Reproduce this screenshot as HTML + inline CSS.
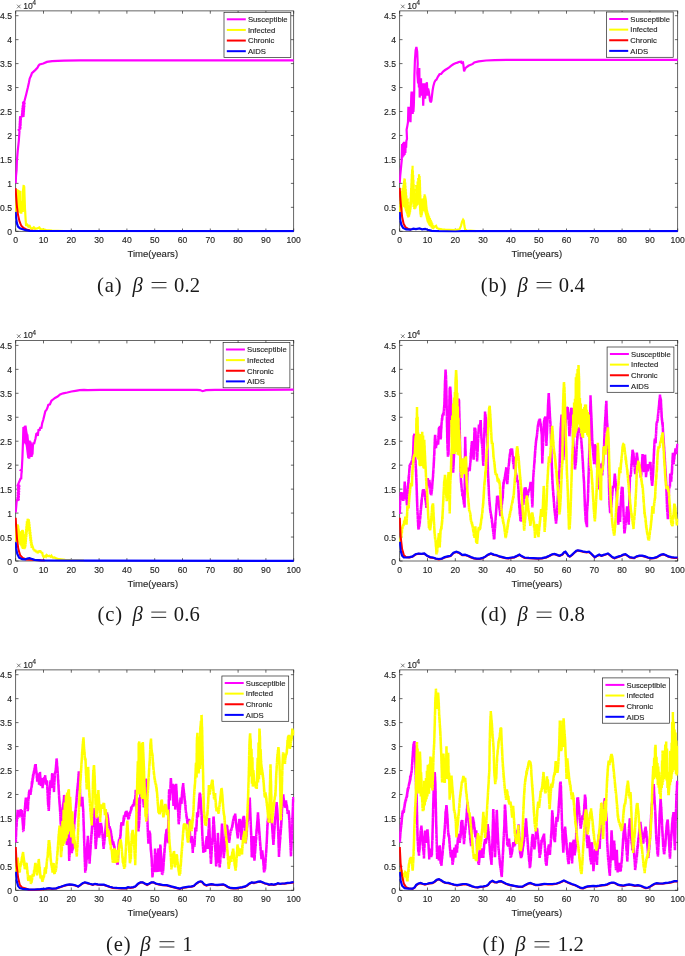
<!DOCTYPE html><html><head><meta charset="utf-8"><style>html,body{margin:0;padding:0;background:#fff}svg{display:block;will-change:transform;opacity:0.9999}text{font-family:"Liberation Sans",sans-serif;fill:#262626;stroke:#262626;stroke-width:0.14px}.cap{font-family:"Liberation Serif",serif;fill:#1a1a1a;stroke:none}</style></head><body>
<svg width="685" height="956" viewBox="0 0 685 956">
<rect width="685" height="956" fill="#fff"/>
<g id="pa">
<clipPath id="ca"><rect x="15.1" y="10.9" width="279.2" height="221.6"/></clipPath>
<rect x="15.7" y="10.9" width="278" height="220.4" fill="none" stroke="#262626" stroke-width="0.7"/>
<path d="M15.7 231.3v-2.8M15.7 10.9v2.8M43.5 231.3v-2.8M43.5 10.9v2.8M71.3 231.3v-2.8M71.3 10.9v2.8M99.1 231.3v-2.8M99.1 10.9v2.8M126.9 231.3v-2.8M126.9 10.9v2.8M154.7 231.3v-2.8M154.7 10.9v2.8M182.5 231.3v-2.8M182.5 10.9v2.8M210.3 231.3v-2.8M210.3 10.9v2.8M238.1 231.3v-2.8M238.1 10.9v2.8M265.9 231.3v-2.8M265.9 10.9v2.8M293.7 231.3v-2.8M293.7 10.9v2.8M15.7 231.3h2.8M293.7 231.3h-2.8M15.7 207.34h2.8M293.7 207.34h-2.8M15.7 183.39h2.8M293.7 183.39h-2.8M15.7 159.43h2.8M293.7 159.43h-2.8M15.7 135.47h2.8M293.7 135.47h-2.8M15.7 111.52h2.8M293.7 111.52h-2.8M15.7 87.56h2.8M293.7 87.56h-2.8M15.7 63.6h2.8M293.7 63.6h-2.8M15.7 39.65h2.8M293.7 39.65h-2.8M15.7 15.69h2.8M293.7 15.69h-2.8" stroke="#262626" stroke-width="0.7" fill="none"/>
<text x="15.7" y="243.4" font-size="8.6" text-anchor="middle">0</text>
<text x="43.5" y="243.4" font-size="8.6" text-anchor="middle">10</text>
<text x="71.3" y="243.4" font-size="8.6" text-anchor="middle">20</text>
<text x="99.1" y="243.4" font-size="8.6" text-anchor="middle">30</text>
<text x="126.9" y="243.4" font-size="8.6" text-anchor="middle">40</text>
<text x="154.7" y="243.4" font-size="8.6" text-anchor="middle">50</text>
<text x="182.5" y="243.4" font-size="8.6" text-anchor="middle">60</text>
<text x="210.3" y="243.4" font-size="8.6" text-anchor="middle">70</text>
<text x="238.1" y="243.4" font-size="8.6" text-anchor="middle">80</text>
<text x="265.9" y="243.4" font-size="8.6" text-anchor="middle">90</text>
<text x="293.7" y="243.4" font-size="8.6" text-anchor="middle">100</text>
<text x="12" y="234.9" font-size="8.6" text-anchor="end">0</text>
<text x="12" y="210.94" font-size="8.6" text-anchor="end">0.5</text>
<text x="12" y="186.99" font-size="8.6" text-anchor="end">1</text>
<text x="12" y="163.03" font-size="8.6" text-anchor="end">1.5</text>
<text x="12" y="139.07" font-size="8.6" text-anchor="end">2</text>
<text x="12" y="115.12" font-size="8.6" text-anchor="end">2.5</text>
<text x="12" y="91.16" font-size="8.6" text-anchor="end">3</text>
<text x="12" y="67.2" font-size="8.6" text-anchor="end">3.5</text>
<text x="12" y="43.25" font-size="8.6" text-anchor="end">4</text>
<text x="12" y="19.29" font-size="8.6" text-anchor="end">4.5</text>
<path d="M17 4.7l3.6 3.6m0 -3.6l-3.6 3.6" stroke="#262626" stroke-width="0.6" fill="none"/>
<text x="23.3" y="8.7" font-size="8.6">10<tspan dy="-3.8" dx="-0.7" font-size="6.9">4</tspan></text>
<text x="152.8" y="256.9" font-size="9.55" text-anchor="middle">Time(years)</text>
<path d="M15.7 183.4l.3-7.4 .6-6 .3-9.2 .8-9.6 1.1-10.2 .7-10 -.8-1 2.3-1.8 -2.2 .2 2.3-1.6 -2.2 0 2.3-1.6 -2.3 0 2.4-1.4 -2.3-.2 2.4-1.4 -2.3-.2 2.3-1.2 -2.2-.4 2.4-1.2 -2.4-.4 2.4-1 -2.3-.6 1.7-.4 3.4-1.1 -3.3-.4 3.4-1.2 -3.2-.4 3.3-1.2 -3.2-.3 3.3-1.3 -3.2-.2 3.3-1.5 -3.1-.1 3.2-1.5 -3 0 3.2-1.6 -2.9 .1 3-1.7 -2.8 .1 2.9-1.7 -2.7 .2 1.8-1.8 .2-.7 1.5-5.8 1.8-7.4 1.1-5.1 .7-3.7 1.5-3.2 .7-2.2 3.3-3 2.2-2.2 1.1-2.2 1.1-1.2 3.7-1 3.6-1.6 5.2-.8 5.8-.3 6.1-.2 16-.2 213.7-.1" clip-path="url(#ca)" stroke="#ff00ff" stroke-width="2.2" fill="none" stroke-linejoin="miter" stroke-miterlimit="2" stroke-linecap="butt"/>
<path d="M15.5 220.7l.3-8.8 .8-14.6 .7-8.1 .4 19.8 .3-16.8 .4 18.3 .1-20.5 .5 21.9 .3-13.1 .3 13.9 .1-21.3 .4 20.5 .3-21.2 .3 22.7 .2-12.5 .4 12.9 .6-9.2 .3 7.3 .2-2.9 .4 2.9 .3-21.9 .6-5 .3 24 .2-22.7 .4 11 .4 11.7 .2 2.9 .4 7.3 .5 6.6 1.1-1.1 1.1 1.9 1.1-1.5 1.1 2.6 1.4 1.1 1.9-1.5 1.4 1.5 2.2-.4 1.9-1 1.1 1.7 2.9 .2 2.9 .8 5.9 .5 11.9 .4" clip-path="url(#ca)" stroke="#ffff00" stroke-width="2.2" fill="none" stroke-linejoin="miter" stroke-miterlimit="2" stroke-linecap="butt"/>
<path d="M15.6 188.1l.6 9.2 .7 8.8 1.1 8.7 1.5 6.6 1.8 4.4 2.2 2.2 2.9 1.5 3.7 .9 5.9 .6" clip-path="url(#ca)" stroke="#ff0000" stroke-width="2.0" fill="none" stroke-linejoin="miter" stroke-miterlimit="2" stroke-linecap="butt"/>
<path d="M15.6 211.9l.5 5.9 .7 5.1 1.2 3.7 1.9 1.8 2.9 .9 2.9 .9 4.4 .6 13.2 .2 250.4 .1" clip-path="url(#ca)" stroke="#0000ff" stroke-width="2.2" fill="none" stroke-linejoin="miter" stroke-miterlimit="2" stroke-linecap="butt"/>
<rect x="224" y="12.3" width="66.8" height="45.3" fill="#fff" stroke="#262626" stroke-width="0.7"/>
<path d="M226.8 19.3h19.0" stroke="#ff00ff" stroke-width="2.0"/>
<text x="247.9" y="22.1" font-size="7.7">Susceptible</text>
<path d="M226.8 29.93h19.0" stroke="#ffff00" stroke-width="2.0"/>
<text x="247.9" y="32.73" font-size="7.7">Infected</text>
<path d="M226.8 40.56h19.0" stroke="#ff0000" stroke-width="2.0"/>
<text x="247.9" y="43.36" font-size="7.7">Chronic</text>
<path d="M226.8 51.19h19.0" stroke="#0000ff" stroke-width="2.0"/>
<text x="247.9" y="53.99" font-size="7.7">AIDS</text>
<text class="cap" y="291.8" font-size="20.6"><tspan x="97" letter-spacing="0.9">(a)</tspan><tspan x="132.4" font-style="italic">β</tspan><tspan x="174" letter-spacing="0.2">0.2</tspan></text>
<path d="M151.6 282.5h14.9M151.6 287.8h14.9" stroke="#1a1a1a" stroke-width="0.9" fill="none"/>
</g>
<g id="pb">
<clipPath id="cb"><rect x="399.1" y="10.9" width="279.2" height="221.6"/></clipPath>
<rect x="399.7" y="10.9" width="278" height="220.4" fill="none" stroke="#262626" stroke-width="0.7"/>
<path d="M399.7 231.3v-2.8M399.7 10.9v2.8M427.5 231.3v-2.8M427.5 10.9v2.8M455.3 231.3v-2.8M455.3 10.9v2.8M483.1 231.3v-2.8M483.1 10.9v2.8M510.9 231.3v-2.8M510.9 10.9v2.8M538.7 231.3v-2.8M538.7 10.9v2.8M566.5 231.3v-2.8M566.5 10.9v2.8M594.3 231.3v-2.8M594.3 10.9v2.8M622.1 231.3v-2.8M622.1 10.9v2.8M649.9 231.3v-2.8M649.9 10.9v2.8M677.7 231.3v-2.8M677.7 10.9v2.8M399.7 231.3h2.8M677.7 231.3h-2.8M399.7 207.34h2.8M677.7 207.34h-2.8M399.7 183.39h2.8M677.7 183.39h-2.8M399.7 159.43h2.8M677.7 159.43h-2.8M399.7 135.47h2.8M677.7 135.47h-2.8M399.7 111.52h2.8M677.7 111.52h-2.8M399.7 87.56h2.8M677.7 87.56h-2.8M399.7 63.6h2.8M677.7 63.6h-2.8M399.7 39.65h2.8M677.7 39.65h-2.8M399.7 15.69h2.8M677.7 15.69h-2.8" stroke="#262626" stroke-width="0.7" fill="none"/>
<text x="399.7" y="243.4" font-size="8.6" text-anchor="middle">0</text>
<text x="427.5" y="243.4" font-size="8.6" text-anchor="middle">10</text>
<text x="455.3" y="243.4" font-size="8.6" text-anchor="middle">20</text>
<text x="483.1" y="243.4" font-size="8.6" text-anchor="middle">30</text>
<text x="510.9" y="243.4" font-size="8.6" text-anchor="middle">40</text>
<text x="538.7" y="243.4" font-size="8.6" text-anchor="middle">50</text>
<text x="566.5" y="243.4" font-size="8.6" text-anchor="middle">60</text>
<text x="594.3" y="243.4" font-size="8.6" text-anchor="middle">70</text>
<text x="622.1" y="243.4" font-size="8.6" text-anchor="middle">80</text>
<text x="649.9" y="243.4" font-size="8.6" text-anchor="middle">90</text>
<text x="677.7" y="243.4" font-size="8.6" text-anchor="middle">100</text>
<text x="396" y="234.9" font-size="8.6" text-anchor="end">0</text>
<text x="396" y="210.94" font-size="8.6" text-anchor="end">0.5</text>
<text x="396" y="186.99" font-size="8.6" text-anchor="end">1</text>
<text x="396" y="163.03" font-size="8.6" text-anchor="end">1.5</text>
<text x="396" y="139.07" font-size="8.6" text-anchor="end">2</text>
<text x="396" y="115.12" font-size="8.6" text-anchor="end">2.5</text>
<text x="396" y="91.16" font-size="8.6" text-anchor="end">3</text>
<text x="396" y="67.2" font-size="8.6" text-anchor="end">3.5</text>
<text x="396" y="43.25" font-size="8.6" text-anchor="end">4</text>
<text x="396" y="19.29" font-size="8.6" text-anchor="end">4.5</text>
<path d="M401 4.7l3.6 3.6m0 -3.6l-3.6 3.6" stroke="#262626" stroke-width="0.6" fill="none"/>
<text x="407.3" y="8.7" font-size="8.6">10<tspan dy="-3.8" dx="-0.7" font-size="6.9">4</tspan></text>
<text x="536.8" y="256.9" font-size="9.55" text-anchor="middle">Time(years)</text>
<path d="M399.7 183l.5-7.2 .9-9.2 .6-6.1 .4-16.4 .5 13.3 .5-14.7 .5 13.4 .5-14.4 .5 13.3 .4-11.9 .4 9.9 .3-11.3 .4 6.2 .3-6.9 .6-2.1 -.4-9.2 .8-4.1 .6-3.6 .4-15.1 .5 13.3 .4-12.3 .4 13.3 .4-14.3 .4 15.3 .4-14.3 .4-12.3 .3-4.1 .4 18.4 .4-18.4 .3 22.5 .4-12.3 .3 10.3 .4-6.2 .4-14.3 .2-15.4 .5-15.3 .7-10.3 .8-3.6 .8 4.6 .5 12.3 -.4 9.2 .8 10.3 .4-12.3 .4 16.4 .4-19.5 .4 29.7 .6-16.4 .7-3 .4 17.4 .6-8.2 .6-4.1 .6 22.5 .6-14.3 .6-8.2 .7 15.4 .6-7.2 .6-6.2 .6-3 .6 13.3 .6-7.2 .7 3.1 .6 4.1 .6 5.1 .8 1.7 .6-1.7 .6-5.1 .6-5.1 .8-4.6 1-3.6 1-1.9 1-.7 1.6-3.1 1.5-2.3 1.6-.4 2-2.4 2-1.5 2.1-1.3 2-1.3 2.1-1.7 2-1.4 2.1-1 2-.7 2.1-.8 1.8-.2 .5 2.2 .6-1.2 .6-.2 .4 2.4 .7 6.7 .7-2 .8-1.6 2.8-2.1 4.4-1.9 1.5-1.5 4.4-1 7.3-.9 8.7-.4 11.7-.2 41.6-.1 129.7 0" clip-path="url(#cb)" stroke="#ff00ff" stroke-width="2.2" fill="none" stroke-linejoin="miter" stroke-miterlimit="2" stroke-linecap="butt"/>
<path d="M399.7 220.7l.4-13.3 .1 12.6 .1-15.9 .1 14.4 .1-17.7 .1 16.2 .2-19.4 .1 18 .1-21.3 .1 19.8 .6-23 -.4 21.5 1.3-24.6 -1.1 23.1 2.1-26.2 -1.8 24.7 2.4-27.9 -2.2 26.5 2.5-29.8 -1.9 28.5 2.3-27.7 -1.2 26.6 1.6-23.4 -.9 23.7 1.1-20.4 -.6 21.8 .9-18.6 -.4 20 .6-16.7 -.2 18.2 .6-15 -.1 16.4 1.5-13.4 -1 14.8 1.1-11.5 -.7 12.9 .8-9.7 -.3 11.1 .4-7.8 .1 9.2 0-5.9 .7 4.1 .1 1.1 .5-5.7 .1 3.5 .3-8.1 .2 5.8 .2-10.4 .2 8.1 .1-12.7 .1 10.4 .2-15 0 12.7 .2-17.3 0 15 .3-19.7 0 17.3 .2-21.9 0 19.6 .2-24.2 -.1 21.9 .4-26.5 -.2 24.2 .7-27.9 -.5 25.6 .8-20.9 -.4 22.4 .7-17.8 -.3 20.1 .6-15.5 -.5 17.8 .8-13.2 -.7 15.6 1-11 -1 13.3 1.2-8.7 -1.1 11 1.3-6.3 -1.1 8.6 1.3-4 -.5 6.2 .7-1.6 .1 0 .3 1.5 -.2-5.2 .8 3.9 -.6-7.7 1.4 6.4 -1.3-10.1 2.1 8.9 -1.9-12.7 2.2 11.2 -2-14.9 2.2 13.4 -1.9-17.1 2.2 15.6 -.8-19.1 1 17.8 -.3-21.4 .9 22.8 -.1-26.4 .4 27.8 .2-26 0 27.5 .3-23.7 -.2 25.2 .3-21.5 -.1 23 .2-19.3 -.1 20.8 .2-17 -.1 18.5 .3-14.8 -.2 16.3 .3-12.5 -.2 14 .3-10.3 -.2 11.8 .3-8 -.1 9.5 .2-5.8 .1 7.3 0-3.6 .2 2.1 .1 1.7 0-3.6 .2 2.6 0-4.5 .3 3.5 -.1-5.4 .3 4.4 -.2-6.3 .5 5.2 -.3-7.1 .5 6.1 -.4-8 .8 7.1 -.7-9.1 1.3 8.2 -1.2-10.1 1.8 9.3 -1.6-11.2 2.1 11.8 -.6-12.2 1.1 13.2 -.8-15.1 1.1 16.1 -.7-18 1 19 -.5-17.4 .7 18.4 -.3-16.6 .6 17.6 -.3-15.7 .6 16.7 -.4-14.8 .6 15.9 -.5-14 .8 15 -.6-13.1 .8 14.1 -.6-12.2 .9 13.2 -.7-11.3 .9 12.3 -.4-10.4 .8 11.4 -.2-9.6 .7 10.6 -.1-8.8 .5 9.7 .2-7.9 .3 8.9 .5-7.2 .1 8 .8-6.3 -.1 7.1 .9-5.4 -.2 6.2 .9-4.4 -.2 5.1 .7-3.3 0 4.1 .6-2.2 0 1 1.5-1.5 1.2-.6 .8 2.1 2.1 1 3.1 .5 3 .3 4.1 .2 6.2 .3 4.1-.8 1.5-3.6 1.1-4.1 1-2 .7 1 .6 5.1 .7 3.6 1.6 1.1 1.3 .3 2-.1 6 .4" clip-path="url(#cb)" stroke="#ffff00" stroke-width="2.2" fill="none" stroke-linejoin="miter" stroke-miterlimit="2" stroke-linecap="butt"/>
<path d="M399.7 187.9l.5 8.2 .9 11.3 1 9.2 1.5 7.2 2.1 3.6 2.5 1.5 3.1 .9" clip-path="url(#cb)" stroke="#ff0000" stroke-width="2.0" fill="none" stroke-linejoin="miter" stroke-miterlimit="2" stroke-linecap="butt"/>
<path d="M399.7 212l.5 7.7 1.1 5.1 1.8 3.1 3.1 1.5 4.1 .3 3.1-1 2.5 .4 3.6-.6 2.6 .8 3.1-.4 2.5 .8 4.1 1.1 7.2 .4 16.4 .3 6.1-.3 4.1-.2 2.4 .2 52 0 157.7 0" clip-path="url(#cb)" stroke="#0000ff" stroke-width="2.2" fill="none" stroke-linejoin="miter" stroke-miterlimit="2" stroke-linecap="butt"/>
<rect x="606.4" y="12" width="66.8" height="45.3" fill="#fff" stroke="#262626" stroke-width="0.7"/>
<path d="M609.2 19h19.0" stroke="#ff00ff" stroke-width="2.0"/>
<text x="630.3" y="21.8" font-size="7.7">Susceptible</text>
<path d="M609.2 29.63h19.0" stroke="#ffff00" stroke-width="2.0"/>
<text x="630.3" y="32.43" font-size="7.7">Infected</text>
<path d="M609.2 40.26h19.0" stroke="#ff0000" stroke-width="2.0"/>
<text x="630.3" y="43.06" font-size="7.7">Chronic</text>
<path d="M609.2 50.89h19.0" stroke="#0000ff" stroke-width="2.0"/>
<text x="630.3" y="53.69" font-size="7.7">AIDS</text>
<text class="cap" y="291.8" font-size="20.6"><tspan x="480.7" letter-spacing="0.9">(b)</tspan><tspan x="517.4" font-style="italic">β</tspan><tspan x="558.7" letter-spacing="0.2">0.4</tspan></text>
<path d="M536.6 282.5h14.9M536.6 287.8h14.9" stroke="#1a1a1a" stroke-width="0.9" fill="none"/>
</g>
<g id="pc">
<clipPath id="cc"><rect x="15.1" y="340.6" width="279.2" height="221.6"/></clipPath>
<rect x="15.7" y="340.6" width="278" height="220.4" fill="none" stroke="#262626" stroke-width="0.7"/>
<path d="M15.7 561v-2.8M15.7 340.6v2.8M43.5 561v-2.8M43.5 340.6v2.8M71.3 561v-2.8M71.3 340.6v2.8M99.1 561v-2.8M99.1 340.6v2.8M126.9 561v-2.8M126.9 340.6v2.8M154.7 561v-2.8M154.7 340.6v2.8M182.5 561v-2.8M182.5 340.6v2.8M210.3 561v-2.8M210.3 340.6v2.8M238.1 561v-2.8M238.1 340.6v2.8M265.9 561v-2.8M265.9 340.6v2.8M293.7 561v-2.8M293.7 340.6v2.8M15.7 561h2.8M293.7 561h-2.8M15.7 537.04h2.8M293.7 537.04h-2.8M15.7 513.09h2.8M293.7 513.09h-2.8M15.7 489.13h2.8M293.7 489.13h-2.8M15.7 465.17h2.8M293.7 465.17h-2.8M15.7 441.22h2.8M293.7 441.22h-2.8M15.7 417.26h2.8M293.7 417.26h-2.8M15.7 393.3h2.8M293.7 393.3h-2.8M15.7 369.35h2.8M293.7 369.35h-2.8M15.7 345.39h2.8M293.7 345.39h-2.8" stroke="#262626" stroke-width="0.7" fill="none"/>
<text x="15.7" y="573.1" font-size="8.6" text-anchor="middle">0</text>
<text x="43.5" y="573.1" font-size="8.6" text-anchor="middle">10</text>
<text x="71.3" y="573.1" font-size="8.6" text-anchor="middle">20</text>
<text x="99.1" y="573.1" font-size="8.6" text-anchor="middle">30</text>
<text x="126.9" y="573.1" font-size="8.6" text-anchor="middle">40</text>
<text x="154.7" y="573.1" font-size="8.6" text-anchor="middle">50</text>
<text x="182.5" y="573.1" font-size="8.6" text-anchor="middle">60</text>
<text x="210.3" y="573.1" font-size="8.6" text-anchor="middle">70</text>
<text x="238.1" y="573.1" font-size="8.6" text-anchor="middle">80</text>
<text x="265.9" y="573.1" font-size="8.6" text-anchor="middle">90</text>
<text x="293.7" y="573.1" font-size="8.6" text-anchor="middle">100</text>
<text x="12" y="564.6" font-size="8.6" text-anchor="end">0</text>
<text x="12" y="540.64" font-size="8.6" text-anchor="end">0.5</text>
<text x="12" y="516.69" font-size="8.6" text-anchor="end">1</text>
<text x="12" y="492.73" font-size="8.6" text-anchor="end">1.5</text>
<text x="12" y="468.77" font-size="8.6" text-anchor="end">2</text>
<text x="12" y="444.82" font-size="8.6" text-anchor="end">2.5</text>
<text x="12" y="420.86" font-size="8.6" text-anchor="end">3</text>
<text x="12" y="396.9" font-size="8.6" text-anchor="end">3.5</text>
<text x="12" y="372.95" font-size="8.6" text-anchor="end">4</text>
<text x="12" y="348.99" font-size="8.6" text-anchor="end">4.5</text>
<path d="M17 334.4l3.6 3.6m0 -3.6l-3.6 3.6" stroke="#262626" stroke-width="0.6" fill="none"/>
<text x="23.3" y="338.4" font-size="8.6">10<tspan dy="-3.8" dx="-0.7" font-size="6.9">4</tspan></text>
<text x="152.8" y="586.6" font-size="9.55" text-anchor="middle">Time(years)</text>
<path d="M15.7 512.5l.4-4.6 .5-6.1 .5-2.1 -.3 1.1 2.6-1.4 -2.5-1.2 2.6-1.6 -2.4-1 2.5-1.7 -2.4-.8 2.5-1.9 -2.3-.7 2.4-2.1 -2.3-.5 2.4-2.2 -2.2-.3 2.4-5.7 .6-1.5 .5 1 .2-5.1 .4-3.1 -1.1-.8 1.1-1 .6-11.3 .6-16.4 .4-14.4 1.1 15.9 -.2-16.6 1.3 17.7 -.5-18.5 1.5 19.8 -1.1-19.8 1.4 21.3 -1.2-20.2 1.4 21.8 -1.3-20.7 1.5 22.3 -1.3-21.1 1.5 22.7 -1.4-21.6 1.6 23.2 -1.5-22.1 1.7 23.7 -1.5-22.5 1.7 24.1 -1.5-23.1 1.7 24.7 -1-23.8 1.1 11.3 .8 13.2 -.5-14.5 .9 13.3 -.6-14.6 1 13.3 -.7-14.6 1 13.3 -.7-14.4 1 13.3 -.2-12.3 .6 13.6 -.2-12.3 .6 13.6 -.3-12.2 .6 12.7 -.3-11.4 .7 10.1 -.3-9.3 .7 8 .4-8.8 .6-3.1 .6 1.6 .6-2.6 .8-3.1 .8-4.6 .8-.5 .7 2.6 .8-6.7 1 1.5 .8-3.6 .9 1.6 .9-5.6 1-3.1 1-4.1 1.1-4.6 1-1.1 1-2 1-3.3 1.6-.5 1.5-3.6 1.6-1.3 2-1.6 2.6-1.3 2.5-2.2 3.1-1.1 4.1-.8 4.1-1 4.1-.7 4.1-.6 4.4-.4 3.4 .3 12.6-.3 97 0 3 .3 2.6 1.1 3.4-1 9-.3 78.7-.2" clip-path="url(#cc)" stroke="#ff00ff" stroke-width="2.2" fill="none" stroke-linejoin="miter" stroke-miterlimit="2" stroke-linecap="butt"/>
<path d="M15.6 541.7l.6-14.3 .7-2.1 .5 16.4 0-17.5 .6 17.5 -.3-17.2 .9 17.2 -.6-16 1.2 16.1 -1-14.9 1.2 15.5 -1-14.3 1.3 14.8 -1-13.6 1.3 14.2 -1.1-13 1.4 13.5 -1-12.5 1.2 13.1 0-13.1 .3 13.6 .7-14 -.4 14.6 1.1-15.6 -.8 16.1 1.4-16.4 -1.2 17 1.4-15.8 -1.1 16.3 1.3-15.1 -1 15.7 1.2-14.5 -.9 15 1.1-13.8 -.8 14.4 1-13.2 -.4 13.3 .6-12.1 0 12.3 .2-11.1 .2 11 0-9.8 .4 9.3 -.2-8.2 .5 7.6 -.3-6.4 .3 0 .5 5 -.4-7.5 .6 5.2 -.4-7.8 .6 5.4 -.4-8 .6 5.7 -.4-8.2 .6 5.8 -.3-8.4 .5 6.1 -.3-8.7 .6 6.4 -.3-8.9 .6 6.5 -.4-9.1 .6 6.8 .2-9.3 .6 7.1 .7-6.6 -.3 8 .7-5.4 -.4 7.7 .7-5.2 -.4 7.6 .7-5 -.5 7.3 .8-4.7 -.4 7 .7-4.5 -.5 6.9 .8-4.3 -.5 6.6 .8-4.1 -.4 6.4 .7-3.8 -.3 6.2 .6-3.6 -.1 5.8 .4-3.3 1.1 3.1 .4 2.2 .6-1.2 .4 2.3 .8-1.3 .7 2.3 .8-1.2 .8 2.2 .6-1.2 .4-1.2 .6 1.2 .4-1.8 .6 2.4 .7-.8 .8 1.4 .5-1.2 .5 3.3 1 1.8 .8-.5 .8-.7 .7 .8 .8-1.6 1.3 1.2 1.3-.6 1.1 1 .9-1 .7 1.2 .9 .7 1.5-.3 1.5 1.1 3.1 .8 6.1 .6 6.2 .4 12.6 .4" clip-path="url(#cc)" stroke="#ffff00" stroke-width="2.2" fill="none" stroke-linejoin="miter" stroke-miterlimit="2" stroke-linecap="butt"/>
<path d="M15.7 517.7l.5 9.7 .9 12.3 1.2 9.2 1.8 6.2 2.6 2.8 3.6 1.5 18.5 1.1" clip-path="url(#cc)" stroke="#ff0000" stroke-width="2.0" fill="none" stroke-linejoin="miter" stroke-miterlimit="2" stroke-linecap="butt"/>
<path d="M15.7 542.3l.5 6.6 1.1 5.1 1.8 3.6 3.1 1.6 3.1 .2 2-.8 2.1-.5 2 .7 3.1 1 6.1 .6 43.4 .3 209.7 .2" clip-path="url(#cc)" stroke="#0000ff" stroke-width="2.2" fill="none" stroke-linejoin="miter" stroke-miterlimit="2" stroke-linecap="butt"/>
<rect x="223.1" y="342.5" width="66.8" height="45.3" fill="#fff" stroke="#262626" stroke-width="0.7"/>
<path d="M225.9 349.5h19.0" stroke="#ff00ff" stroke-width="2.0"/>
<text x="247" y="352.3" font-size="7.7">Susceptible</text>
<path d="M225.9 360.13h19.0" stroke="#ffff00" stroke-width="2.0"/>
<text x="247" y="362.93" font-size="7.7">Infected</text>
<path d="M225.9 370.76h19.0" stroke="#ff0000" stroke-width="2.0"/>
<text x="247" y="373.56" font-size="7.7">Chronic</text>
<path d="M225.9 381.39h19.0" stroke="#0000ff" stroke-width="2.0"/>
<text x="247" y="384.19" font-size="7.7">AIDS</text>
<text class="cap" y="621.4" font-size="20.6"><tspan x="97.5" letter-spacing="0.9">(c)</tspan><tspan x="132.4" font-style="italic">β</tspan><tspan x="173.7" letter-spacing="0.2">0.6</tspan></text>
<path d="M151.3 612.1h14.9M151.3 617.4h14.9" stroke="#1a1a1a" stroke-width="0.9" fill="none"/>
</g>
<g id="pd">
<clipPath id="cd"><rect x="399.1" y="340.6" width="279.2" height="221.6"/></clipPath>
<rect x="399.7" y="340.6" width="278" height="220.4" fill="none" stroke="#262626" stroke-width="0.7"/>
<path d="M399.7 561v-2.8M399.7 340.6v2.8M427.5 561v-2.8M427.5 340.6v2.8M455.3 561v-2.8M455.3 340.6v2.8M483.1 561v-2.8M483.1 340.6v2.8M510.9 561v-2.8M510.9 340.6v2.8M538.7 561v-2.8M538.7 340.6v2.8M566.5 561v-2.8M566.5 340.6v2.8M594.3 561v-2.8M594.3 340.6v2.8M622.1 561v-2.8M622.1 340.6v2.8M649.9 561v-2.8M649.9 340.6v2.8M677.7 561v-2.8M677.7 340.6v2.8M399.7 561h2.8M677.7 561h-2.8M399.7 537.04h2.8M677.7 537.04h-2.8M399.7 513.09h2.8M677.7 513.09h-2.8M399.7 489.13h2.8M677.7 489.13h-2.8M399.7 465.17h2.8M677.7 465.17h-2.8M399.7 441.22h2.8M677.7 441.22h-2.8M399.7 417.26h2.8M677.7 417.26h-2.8M399.7 393.3h2.8M677.7 393.3h-2.8M399.7 369.35h2.8M677.7 369.35h-2.8M399.7 345.39h2.8M677.7 345.39h-2.8" stroke="#262626" stroke-width="0.7" fill="none"/>
<text x="399.7" y="573.1" font-size="8.6" text-anchor="middle">0</text>
<text x="427.5" y="573.1" font-size="8.6" text-anchor="middle">10</text>
<text x="455.3" y="573.1" font-size="8.6" text-anchor="middle">20</text>
<text x="483.1" y="573.1" font-size="8.6" text-anchor="middle">30</text>
<text x="510.9" y="573.1" font-size="8.6" text-anchor="middle">40</text>
<text x="538.7" y="573.1" font-size="8.6" text-anchor="middle">50</text>
<text x="566.5" y="573.1" font-size="8.6" text-anchor="middle">60</text>
<text x="594.3" y="573.1" font-size="8.6" text-anchor="middle">70</text>
<text x="622.1" y="573.1" font-size="8.6" text-anchor="middle">80</text>
<text x="649.9" y="573.1" font-size="8.6" text-anchor="middle">90</text>
<text x="677.7" y="573.1" font-size="8.6" text-anchor="middle">100</text>
<text x="396" y="564.6" font-size="8.6" text-anchor="end">0</text>
<text x="396" y="540.64" font-size="8.6" text-anchor="end">0.5</text>
<text x="396" y="516.69" font-size="8.6" text-anchor="end">1</text>
<text x="396" y="492.73" font-size="8.6" text-anchor="end">1.5</text>
<text x="396" y="468.77" font-size="8.6" text-anchor="end">2</text>
<text x="396" y="444.82" font-size="8.6" text-anchor="end">2.5</text>
<text x="396" y="420.86" font-size="8.6" text-anchor="end">3</text>
<text x="396" y="396.9" font-size="8.6" text-anchor="end">3.5</text>
<text x="396" y="372.95" font-size="8.6" text-anchor="end">4</text>
<text x="396" y="348.99" font-size="8.6" text-anchor="end">4.5</text>
<path d="M401 334.4l3.6 3.6m0 -3.6l-3.6 3.6" stroke="#262626" stroke-width="0.6" fill="none"/>
<text x="407.3" y="338.4" font-size="8.6">10<tspan dy="-3.8" dx="-0.7" font-size="6.9">4</tspan></text>
<text x="536.8" y="586.6" font-size="9.55" text-anchor="middle">Time(years)</text>
<path d="M399.8 511l0 3 0-3.1 0 1.7 0-3.5 .1 .9 0-2 0 2.1 0-3.5 .1 1.8 0-2.3 0 .6 0-2.5 .1 .9 0-2.5 0 1.1 0-2.4 0 1.3 .1-2 0 .5 0-1.4 .1 .8 .1-3.3 0 3 .1-3.4 0 1.2 .1-1.6 0 1.2 .1-3.3 .1 1.6 0-3.8 .1 2 0-1.8 .6 2.3 .6-2.2 .1 2.1 .1-.2 0 1.2 .1 .4 .1 .9 .1 .1 .1 2.1 .1-.6 .1 2.3 0-1.3 .1 1.2 .1-.6 .2 .8 .2-2.2 .2 1 .2-1.8 .2 1.8 0-3.8 .1 2 0-2.8 0 2.4 0-3.3 .1 1.3 0-2.8 0 1.3 0-1.7 .1 .6 0-2.1 0 .5 0-1.3 0 1.2 .1-5.9 0 5 0-2.5 0 1.1 .1-3.2 0 1.3 0-2.6 0 1.2 0-1.7 0 2.7 .1-3.9 0-1 .1 1.3 .1 3.7 0-3.1 .1 1.8 0-.5 .1 1.6 0-.5 .1 1.8 0-1.9 0 3.6 .1-.8 .1 2.4 .2-1.2 .1 2.3 .1-.7 .1 1.4 .2-.8 .1 1.7 0-.4 .1 2.3 0-.8 .1 1.3 0-.6 0 2 .1-.7 0 2.4 .1-.6 0 1.6 .1-1 0 3.5 .1-2.4 0 2.9 0-1.5 .1 2.9 0-2.7 .1 3.2 0-.9 .1 1.3 0-1.4 0 1.5 0-2.6 .1 .2 0-1.2 .1-1.1 0-.1 0-1.4 .1 .4 0-2.2 0 1.4 .1-2 0 1.4 0-2.7 .1 1.1 0-3.3 0 1.7 .1-2.4 0 2.1 0-3.3 .1 3 0-3.9 0 2.6 .1-3.4 0 1.3 0-2.6 .1 .4 0-2.6 .1 1.4 0-1.8 .1 2 0-3.1 0 1.7 .1-4.3 .1 2.2 0-1.5 0 1.1 .1-3.2 0 1.8 .1-2.9 0 .9 .1-2.8 0 1.5 .1-3.5 0 2.5 .1-2.3 0 1.2 0-1.8 .1 1.4 0-2.4 .1 .4 0-2 .1 .5 0-1.2 0 .1 .1-1.4 .1-2.1 0 1.8 .1-2.5 0 1.4 .1-2.2 0 .1 0-2.3 .1 2.6 .3-3.3 .3 .7 .3-2 .3 1.9 .2-2.6 .3 .5 .3-2.1 .3 1.5 .3-2.2 .1 1.9 0-2.2 .1 .4 .1-1.8 0 1.6 .1-4 .1 2.6 .1-3.1 0 1.1 .1-1.4 .1 0 0-1.7 .1 1.1 0-2.9 0 .9 0-2.9 .1 2.8 0-4 0 2.8 0-3.8 0 2 .1-2.6 0 .8 0-1.5 0 .9 0-1.8 .1 1.7 0-5.5 0 3.9 0-2.9 .1 1.9 0-2.8 0 2.2 0-4.4 0 3 0-3.7 .1 1.3 0-3.2 0 2.6 0-2.9 .1 .8 0-2.1 .3 .8 .4-2.3 0 2.6 0-.8 0 2.2 .1-.4 0 2.4 0-3 0 3.8 0-1.2 0 2.3 0-1 .1 2.5 0-1.2 0 2.4 0-1.1 0 1.6 0-.5 0 1.7 .1-.3 0 2.4 0-1 0 1.8 0-.5 0 1.9 0-.9 .1 2.6 0-1.9 0 2.2 0-.6 0 2 0-.6 .1 2 0-2.1 .1 4.2 0-3.2 0 3.2 .1-1.4 0 2.6 0-.6 .1 2.9 0-2.4 .1 4 0-2.5 0 1.6 .1 0 0 2.2 .1-2.9 0 4.1 0-1.3 0 1.6 .1-.8 0 2 0-2.6 .1 3.6 0-1 0 2.1 .1-.2 0 2.4 0-1.8 .1 2.9 0-1.4 0 1.6 .1-2.5 0 5.7 0-3.7 0 4 .1-1.4 0 3 0-1.2 .1 1.8 0-2.6 0 4.8 0-1.5 .1 1.7 0-2.1 0 3.5 0-1.6 0 3.3 0-3.2 .1 3.6 0-1.4 0 3 0-2.3 .1 2.7 0-1.5 0 3.2 0-2 0 3.4 0-1.8 .1 2.8 0-1.4 0 2.4 0-1.3 .1 2.6 0-1.1 0 2.1 0-.9 0 2.9 .1-2.1 0 2.9 0-1.4 0 2.6 0-1.7 0 2.3 .1-1.4 0 2.3 0-.7 0 2.3 .1 0 0 2 0-1.6 0 2 0-.2 0 1.3 .1-1.2 0 2.3 0-1.7 0 2.9 0-.6 .1 1.9 0-1.3 0 2.7 .1-1.1 0 2.2 0-.9 0 2.4 .1-.6 0 2.6 0-1.3 .1 2.1 0-.7 0 1.9 .1-1.4 0 2.2 0-1.8 .1 3.3 0-2 0 3.5 .1-.5 0 1.8 0-.8 0 2.1 .1-1.4 0 2.3 .1-1.6 0 2.2 0-.1 0 2.9 .1-2.3 0 2.6 0-1.6 .1 3.2 0-2.6 0 2.9 .1-1.1 0 2 0-.3 .2 .8 .1-2.7 .2 1.7 .1-1.9 .2 .4 .1-2.4 .1 1.1 .1-2.3 0 .7 .1-2.7 .1 1.6 .1-1.7 0 2.2 .1-3.4 .1 .6 0-1.6 .1 .5 .1-1.8 0 .8 .1-2.2 0 1.5 .1-2.9 0 .7 0-2.6 .1 2.1 0-2 .1 1.7 0-4.8 .1 3.3 0-2.1 .1 .1 0-1.8 .1 1.5 0-2.6 0 .7 .1-1.5 0 1.7 .1-3.3 0 .5 .1-2 0 2.6 .1-3.7 .1 1.8 0-2.9 .1 2.4 0-4.6 .1 3.4 0-3.9 .1 2.3 .1-2.3 0 .1 .1-1.4 0 .3 .1-1.4 .1 .4 .1-1.7 .1 0 0-1.2 .1-.1 .1-1.8 .1 1.1 .1-2.3 0 1.2 .1-3 .2 2.6 .2-3 .3 1.6 .2-1.9 .2 2.1 .1-1.1 .2 1.7 .2-.3 .2 1.4 .1-.7 .1 2.9 0-1.8 .1 2.3 .1-.8 .1 2.5 .1-1.6 .1 4 .1-3.2 0 3.7 .1-2.7 .1 3.2 0-2.2 .1 2.9 0-1.6 .1 2.6 .1-3 0 4 .1-.5 0 1.8 .1-1 0 1.8 .1-.5 .1 2.4 0-1.1 0 1.6 .1-3.2 0 .5 0-1 0 .4 0-1.9 .1 .8 0-1.9 0 .3 0-2 0 2 .1-3 0 1.1 0-3 0 1.6 0-3 .1 1.7 0-2.7 0 1.7 0-3.2 .1 1.7 0-2.4 0 1.7 0-2.2 0 .6 .1-2.4 0 .6 0-2.1 0 1.5 .1-2.3 0 1.3 .1-2.6 0 2.4 .1-4.3 0 2.4 .1-3.8 0 2.1 .1-2.6 0 1.9 .1-3.1 0 1.1 .1-2.7 0 1.6 .1-2.7 0 2.5 .1-3.2 .1 2.4 0-.7 .1 1.5 .1-.4 0 1.3 .1 0 .1 1.7 .1-1.7 0 2.5 .1-1 .1 2.5 .1-1.3 .1 1.2 .1-1.6 .1 .5 .2-3.8 .1 3.2 .1-4.6 .1 3.2 .1-1.3 0 2.4 .1-1.9 .1 2.8 0-.9 .1 2 0-1.9 .1 4 .1-2.3 0 2.3 .1-.7 0 2.3 .1-1.3 .1 3.8 0-2.3 .1 3.6 .2-3.6 .1 3.9 .1-1.3 .1 2.3 .2-.7 .1 1.2 0-1 .1 .3 .1-1.6 0 .5 .1-1.8 0 .7 .1-2 .1 .2 0-1.8 .1 2.1 0-3.9 .1 2.5 0-2.8 .1 2.3 .1-3.3 0 .7 .1-3.3 0 2.3 .1-1.9 0 .3 .1-2.3 0 .8 .1-2.4 0 1.2 .1-1.9 0 1.9 .1-2.6 0 .1 .1-1.1 0 .1 .1-1.2 0 .9 .1-3 0 1 0-1.8 .1 .9 0-3.2 .1 1.9 0-2.3 0 1.6 .1-2.9 0 1.5 0-2.6 .1 1.1 0-2.4 .1 1.6 0-2.5 0 1.5 .1-3.3 0 1.6 0-3.3 .1 1.6 0-2.2 0 1.7 .1-3.6 0 2.2 0-3.1 .1 1.3 0-1.4 0 .8 0-2.3 .1 .9 0-1.8 0 .3 0-2.2 .1 1.1 0-1.5 0 .2 .1-1.3 0-.2 0-1.5 0 .8 .1-2 0 3.8 0-5.4 0 1.3 .1-2.7 0 2.5 0-3.6 .1 2.6 0-3.1 0 1.8 0-2.6 .1 .2 0-1.7 0 .7 0-2.4 .1 1.2 0-2.3 0 1.3 0-3.5 .1 1.9 0-1.7 0 .9 0-2.4 .1 2.3 0-3.7 0 1.3 .1-2.4 0 1.4 0-1.5 .1 2.8 0-2.8 .1 3.8 0-1.4 .1 2 0 .1 .1 1.9 0-1.3 .1 2.7 0-2 .1 4.3 0-2.3 .1 2 0-.5 .1 1.4 0-.1 .1 2.9 .1-3 .1 .6 .2-2.1 .1 1.5 .2-2.4 .1 .6 .2-2.1 .1 .9 .3-1.1 .2 1.9 .3-1.1 .2 2.6 .1-2.7 0 1.9 0-2.7 .1 1.1 0-2.2 0 1.1 .1-1.8 0 .5 0-1.6 0 .8 .1-2.6 0 1.3 0-1.9 0 .9 .1-2.3 0 1.5 0-2.8 .1 1.8 0-2.8 0 2.1 0-2.8 .1 .1 0-1.8 0 .2 .1-2.1 0 2.3 .4-3 .3 2.3 .4-3.4 .1 2.5 0-1.3 0 2.1 .1-.5 0 3.4 0-2 .1 2.1 0-.5 0 2.8 .1-3.3 0 3.4 0-1 0 2.3 .1-.9 0 2.2 0-1.6 .1 3.1 0-2.6 0 3.3 .1-3.3 0 3.1 0-4.8 .1 2.5 0-1.6 .1 2.6 0-3.7 0 1.3 .1-3.7 0 1.1 0-1.2 .1-.1 0-1.3 0 .5 .1-1.8 0 .8 0-2.4 .1 .7 0-1.2 .1 1.4 0-3.2 0 .7 .1-2.4 0 1.4 .1-2.2 0 .4 .1-1 .1 .1 0-1.6 .1 .3 .1-2.8 .1 2.2 0-2.2 .1 1.7 .1-2.2 0 .7 .1-3.7 .1 2.1 0-1.5 .4 1 .3-3.3 .4 2.6 0-2.2 0 .6 .1-2 .1-.1 0-1.1 .1 .8 0-1.9 .1 .1 0-2 .1 .6 0-1.6 .1 1.2 0-2.3 .1 .5 0-1.4 .1 .5 0-1.7 0 .5 0-2.2 .1 .9 0-3.4 0 2.1 0-3.5 0 2.1 .1-1.3 0-.2 0-2 0 1.5 0-3.1 0 2.8 0-3.8 .1 1.1 0-1.5 0 .9 0-1.8 0 1.7 0-3.4 .1 1.8 0-3.2 0 1.7 0-1.7 0-.1 0-1.1 .1 .5 0-1.8 0-.1 0-2.1 0 1.3 0-2.7 0 .9 .1-1.5 0 1.7 0-2.5 0 .6 0-2.2 .1 .5 0-1.3 0 .4 .1-1.8 0 1 0-1.8 0 .1 .1-1.3 0 .2 .1-2.9 0 1.4 0-2.1 0 1.6 .1-3 0 1.7 0-3.2 .1 2.3 0-2.8 0 2.9 0-1.9 .1 2 0-.6 .1 2.6 0-2.4 0 3.1 0-.4 .1 2.4 0-.9 0 1.9 .1-2.9 0 3.6 0-.4 .1 1.4 0-1.4 0 2.7 0-.5 .1 2.2 0-1.8 0 3.1 0-2.1 0 3 0-1.1 0 2.8 .1-2.2 0 3.4 0-1.1 0 3.5 0-2.9 0 3.1 0-.9 .1 1.7 0-.9 0 1.7 0-.9 0 1.7 0-.8 0 2.8 0-1.2 0 1.9 0-.5 .1 1.5 0-1 0 3.3 0-1.6 0 3.2 0-3.4 0 3.2 .1-.9 0 2.6 0-1.3 0 2.1 0-.9 0 2.4 0-1.6 0 3.2 0-1.7 0 2.9 .1-1.4 0 1.5 0-.8 0 2.3 0-.3 0 1 0-.8 .1 2.1 0-.5 0 2.4 0-.4 0 1.4 0-1.3 0 2.5 0-1.4 0 2.8 .1-.3 0 1.2 0-1.1 0 2.6 0-.9 0 1.7 0-.2 0 2.2 0-1.1 0 2.1 .1-.7 0 1.7 0-1.7 0 2.1 0-1.3 0 3.4 0-1.1 0 2.4 .1-1.8 0 2.2 0-.1 0 1.4 0-1.5 0 2.9 0 1.1 0-.1 .1 1 0-.3 0 1.9 0-1.4 0 4.4 0-3.6 0 2.8 0-1.3 0 3.2 .1-1.2 0 1.9 0-1 0 3.1 0-1.6 0 1.5 0-.7 0 2 .1 .1 0 1 0 .1 0 1.3 .1-.7 0 1.9 0-.4 0 3 .1-2.2 0 2 0-.1 0 1.9 .1-.9 0 3.2 0-2.1 0 1.7 .1-.9 0 2.9 0-1 0 1.7 .1-1.7 0 2.6 0 .3 0 1.1 .2-1.2 .1 .6 .1-1.7 .1 .7 .1-2.3 0 .7 0-2.7 0 1.7 .1-3.4 0 2.4 0-3.5 0 1.9 0-2 0 .9 0-1.8 0 .6 0-3.9 0 3.4 0-2.7 .1 2.3 0-5.3 0 3.2 0-3.3 0 2 0-3.1 0 1.3 0-2.1 0 1.3 .1-2.5 0 .2 0-2.1 0 1.3 0-2.6 0 1.3 0-1.4 0 .5 0-2.4 0 1.5 .1-3.7 0 2.3 0-2 0 .8 0-2 0 .3 0-1.4 0 .4 0-2.2 0 1.2 0-2.1 .1 2.1 0-2.9 0 .2 0-1.6 0 .8 0-1.9 0 .8 0-2.8 0 1.1 .1-2.1 0 1.7 0-2.8 0 1.2 0-1.9 0 .8 0-2.8 0 1.7 0-2.4 0 2.1 .1-3.2 0 1.6 0-4.1 0 1.8 0-3 0 1.8 0-1.3 0 .3 .1-1.9 0 .5 0-2.7 0 2 0-3.4 0 2.2 0-2.3 0 .4 .1-2.5 0 1.1 0-1.4 0 .2 0-1.5 0 1 0-2.2 0 .9 0-2.7 .1 1 0-2.1 0 3 0-3.5 0 1.7 0-2.8 0 .2 0-1.2 .1 .8 0-4.1 0 3.6 0-4.7 0 2.2 0-2.4 0 1.3 0-1.6 0 .8 .1-1.7 0 .5 0-2 .2 .8 .2-2.4 .2 2.4 0-1.7 0 1.8 .1-.6 0 2.3 0-.9 .1 1.8 0-1.3 0 2.5 .1-1.4 0 3.3 0-2.5 0 2.3 .1-.2 0 2.2 .1-1.3 0 2.6 0-1.4 .1 2.2 0-.5 0 2.3 0-1.4 .1 2.1 0-1 0 2.9 0-2.3 .1 3 0-.8 0 3.3 0-2.1 .1 2.2 0-1.9 0 2.5 0-.3 .1 2 0-1.2 0 1.8 .1-.7 0 1.9 0-.3 0 2 0-1 .1 3.3 0-2.8 0 3.7 0-3.6 0 3.2 0-1.6 .1 2.8 0-.7 0 2.8 0-1.1 0 1.6 0-1.8 0 3.4 .1-1.6 0 3.7 0-1.8 0 2.8 0-3 0 3.7 .1-1.9 0 2.4 0-.3 0 2 0-.9 0 1.5 .1-.8 0 2.4 0-.7 0 2.3 0-1.3 0 1.8 0-.4 .1 1.6 0-.4 0 1.2 0 1.8 .1-1.8 0 3.4 0-1.4 0 2.7 .1-1.1 0 2.7 0-1.6 0 2.5 .1-2.1 0 3.1 0-.8 0 1.5 .1-.9 0 4 0-3.2 0 3.3 0-1.6 .1 3 0-1.4 0 1.9 .1-.6 0 2.9 0-2.7 0 2.5 0-2.3 0 3.4 .1-1.1 0 2.4 0-.9 0 2.4 0-.7 0 1.9 0-.7 .1 1.7 0-.7 0 2.3 0-1.2 0 2.1 0-1.9 0 3.6 .1-1.9 0 3.6 0-1.2 0 1.9 0-1.5 0 2.9 0-1.4 0 3.5 .1-2.4 0 3.4 0-2.2 0 2.8 0-1.4 0 2.5 .1-1.5 0 2.9 0-1.8 0 3.8 0-2.6 0 2.6 0-1.4 0 2.1 .1-1.1 0 2.2 0-1.9 0 .7 .1-2.7 0 1.9 0-2.1 .1 .6 0-1.8 0 .3 0-1.9 0 .6 .1-1.2 0 .4 0-2.1 .1 1.6 0-2.7 0 1.1 0-2.2 .1 1.3 0-1.8 0 1 .1-2.3 0 .9 0-3.4 0 2 .1-2.2 0 .9 0-1.8 0 1.9 .1-2.9 0 1.5 0-3.1 .1 1.1 0-3.9 0 2 .1-2.2 0 1.6 0-2.6 .1 3.2 0-4.8 0 1.3 .1-2 0 1.2 0-2.1 .1 1.4 0-2.4 0 .2 .1-2.8 0 1.5 0-2.9 .3 2.1 .3-1.4 .3 1.3 .1-2.8 .1 2 .1-3.4 .1 .8 0-2.2 .1 .9 .1-1.7 .1 .7 .1-1.7 .1 .8 0-1.5 0-.2 0-2.2 .1 1.2 0-2.1 0 1 0-1.7 0 .4 0-1.7 .1 1.2 0-3.1 0 1.5 0-2.6 0 .9 0-2.3 0 1.6 .1-2.8 0 2.5 0-4 0 2.4 0-2.7 .1 1 0-2.5 0 1.2 0-1.7 0 .8 0-1.7 .1-.1 0-1.8 0 1.3 0-2 0 1.2 0-2.1 0 .2 .1-1.9 0 1.8 0-4.9 0 2.8 0-1.8 0 1.5 .1-2.6 0 1.2 0-2.8 0 1.2 0-2.5 0 1.1 .1-3.7 0 2.3 0-2.4 0 1.7 0-2 0 1.7 0-3.8 .1 4.1 .1-5.1 .1 3.7 .1-4.1 .2 1.5 .1-3.4 .1 1 .1-2.3 .3 2.5 .3-2 .3 2.7 0-1.9 .1 3.1 0-1 0 2.9 0-1.1 0 2.2 0-1.1 0 1.7 0-.9 .1 2 0-.2 0 1.7 0-2.1 0 3.7 0-1.4 0 2.3 .1-.9 0 1.4 0-.3 0 1.4 0-.5 0 2.9 .1-2.2 0 2.4 0-.8 0 2.6 0-1.5 0 2 0-.4 0 2.4 .1-1.6 0 3.6 0-1.4 0 1.7 0-2.6 0 3.9 .1-1.3 0 2.7 0-1.8 0 2.5 0-2.2 0 3 0-.5 0 1.9 .1-.3 0 2.4 0-2.5 0 3.1 0-1.6 0 3.3 0-1.1 .1 1.9 0-1.3 0 2.8 0-2 0 2.9 0-.5 0 1.8 0-1.4 .1 2.9 0-3.3 0 4 0-.7 0 2 0-1.2 0 1.9 0-.4 0 1.5 .1-.6 0 2.8 0-2.1 0 5 0-2.9 0 2.1 0-1.8 .1 3.4 0-1.1 0 1.8 0-.7 0 3.2 0-2 0 2.6 0-1.7 0 2.2 .1-1.2 0 1.7 0-1.1 0 2.5 0-2.3 0 4.1 0-1.4 .1 2.2 0-1 0 3.2 0-2.1 0 2.6 0-1.8 .1 3.2 0-2.6 0 3.4 0-.1 0 1.1 0-1.1 0 3.1 .1-2.1 0 4.2 0-2.2 0 2.4 0-.8 0 1.8 .1-.6 0 2 0-1.5 0 1.7 0 1.5 0-1.1 0 2.5 .1-.5 0 1.9 0-.8 0 2.7 0-1.6 0 2.1 .1-.7 0 1.8 0-1.1 .1 2.9 0-1.1 0 2.2 .1-1 0 3.5 .1-2.6 0 1.8 .1-1.2 0 2.9 0-1.2 .1 1.8 0-1.1 .1 1.8 0-1.3 .1 2.7 0-.2 .1 1.4 0-.8 0 1.8 .1-.5 .1 2.3 .1-1.1 .1 2.7 .1-2 .1 2 .1-.3 .1 4.3 0-3.7 .1 3 .5-1.5 0 2.5 .1-1 .1 2.7 0-3.3 .1 4.4 .1-1.6 0 2.8 .1-1.5 .1 1.7 0-1.2 .1 2.8 .1-1.1 .1 3.1 0-1.1 .1 1.7 .1-.9 .2 1.1 .1-.6 .2 3.2 0-3 0 1.6 0-4.5 0 3.2 0-3 0 1.7 0-2 0 1.2 0-2.9 0 1.3 0-2.5 0 1.2 0-2.4 0 .8 0-2.3 0 .6 0-1.6 0 .7 .1-1.7 0 1.1 0-2.9 0 .9 0-2.1 0 1.6 0-2 0 .9 0-2.3 0 .2 0-1 0 .3 0-2.3 0 1.9 0-3.5 0 1.8 0-2.1 0 .5 0-1.5 .1-.1 0-1.6 0 .3 0-1 0 .2 0-1.5 0 .7 0-1.9 0 .1 0-1.6 0 .4 0-2.3 0 2 0-2.5 0 1.2 0-2.7 0 .9 0-1.9 0 1.7 0-3.4 0 2.1 .1-2.7 0 2.2 0-3.1 0 .6 0-1.8 0 .3 0-1.6 0 .1 0-1.1 0-.1 0-1.6 0 1.7 0-2.9 0 1.3 0-3.2 0 3.1 0-3.1 0 1.4 0-2.6 0 .3 0-3.3 .1 2.1 0-2 0 1.2 0-2.2 0 1.5 0-2.3 0 1.8 0-3.6 0 1.6 0-3.4 0 1.2 0-2.8 0 3.3 0-3.5 0 .8 0-2.1 .1 1.2 0-2.9 0 1.7 0-2.7 0 1.8 0-2.1 0 1.6 0-3.7 0 2.3 0-3.7 0 1.5 0-2.3 0 .3 0-2 0 1.4 0-2.3 0 1.1 0-1.8 0 .8 .1-1.5 0 2.2 0-.9 0 2.8 0-2.1 0 3.6 .1-2 0 3 0-1.4 0 2 0-.9 0 3 .1-2 0 2.6 0-1.6 0 2 0-.9 0 4.2 0-2.3 .1 1.4 0 .1 0 1.4 0-1.5 0 2.8 0-1.1 .1 2.9 0-3 0 4.4 0-1.3 0 2.2 0-1 0 1.3 .1-.2 0 1.6 0-.5 0 1.5 0-.9 0 3.4 0-1.9 .1 1.9 0-1.6 0 3.6 0-1.9 0 3 0-1.4 0 2.7 .1-2.6 0 3.4 0-2.4 0 3.5 0-1.7 0 2.4 0-1.4 0 2.9 .1-1.1 0 2.8 0-.9 0 1.4 0-.4 0 2.7 0-2.4 .1 3.1 0-2.8 0 3.4 0-.9 0 3.1 0-2 0 2.5 0-1.6 .1 3.5 0-2.3 0 3.1 0-1 0 2 0-2.4 0 4.2 0-1.1 .1 3.3 0-3 0 2.7 0-.8 0 3 .1-1.9 .2 1.4 .1 .1 .1 1.4 .1-.5 0 .6 0-1.6 .1 .2 0-3.3 0 2 0-1.4 .1 .2 0-1.5 0 .6 0-2.1 0 1.1 .1-2.5 0 2.1 0-3.7 0 2.1 0-2.9 .1 1.6 0-2.3 0 .2 0-.9 .1-.3 0-1.1 0 .4 0-2.3 0 2.2 .1-3.2 0 1.3 .1-2.6 .1 .4 0-1.4 .1 .8 .1-1.7 .1 .2 .1-1.9 .3 .6 .3-.9 .1 2.1 .2-1.4 .2 2 .2-.4 .1 1.1 .1-1 0 1.2 .1-2.4 .1 .4 0-1.8 .1 1.9 0-3.9 .1 1.4 .1-1.7 0 1.1 .1-3 0 1.6 .1-1.9 .1 .1 0-2.2 0 2.1 .1-2.9 0 1.5 .1-2.5 0 2.5 0-5.7 .1 3.1 0-3.4 .1 1.8 0-2 0 .5 .1-2.5 0 1.7 0-2.3 .1 1.6 0-2.3 .1 1 0-3.8 .1 2.8 0-2.8 .1 .9 0-2.2 .1 .9 0-1.8 .1 .6 0-2.8 .1 2.1 0-2.1 .1 .4 0-1.3 .1 0 0-1.3 .1-.1 .1-1.5 .1 2.7 .1-.2 .1 2.3 .1-2 0 3.9 .2-1.4 0 1.5 .1-1.3 .1 2.7 0-.9 .1 2.1 0-1 .1 1.7 0-1 .1 1.9 0-.9 0 2.2 .1-.5 0 1.6 .1-1 0 2.9 .1-1.5 0 3.1 0-1.9 .1 2.6 0-.8 .1 1.6 0-.6 0 .9 0-2.7 .1 2.3 0-2.7 0 .5 0-2.6 0 1 .1-3.4 0 1.9 0-2.3 0 .9 0-2.3 0 1.4 .1-2.9 0 1.5 0-2 0 1.6 0-2.1 0 .9 .1-3.4 0 1.7 0-3.4 0 2.2 0-2.2 0 1.1 .1-2.8 0 1.2 0-2 0 .9 0-2 0 1.1 .1-1.8 0 1 0-1.7 0-.1 0-1.1 0 .2 .1-2.1 0 .5 0-1.3 0 .2 0-1.4 .1 .3 0-2.9 0 1.5 0-2.3 0 1 0-1.8 0 2.5 .1-3.4 0 1.2 0-2.1 .2 1.2 .2-1.1 .2 2.5 .3-1.6 0 3.6 0-1.4 .1 1.6 0-1 0 2.2 .1-2.6 0 3.9 0-1.5 .1 2.6 0-.8 0 2.6 .1-.8 0 1.6 0-1.3 .1 2.8 0-2.5 0 4.1 .1-1.5 0 1.8 0-.6 .1 1.8 0-.8 0 2 0-.8 .1 2.8 0-1.2 0 2.1 .1-2.9 0 3.9 .1-3 0 3.8 0-.4 .1 1.2 0-1 0 2.4 .1-.8 0 2.9 0-2.4 .1 3.1 0-.5 .1 3 0-1.5 0 2 .1-1.2 0 1.8 0-1.6 .1 2.6 0-1.3 .1 3.4 0-1 0 1.6 0-1.8 .1 .6 0-2.2 0 .7 .1-3.3 0 2.5 0-1.7 0 .6 .1-1.6 0-1.5 0 1.1 .1-2.4 0 .2 0-1.3 .1 .7 0-1.9 0 .4 0-1.7 .1 2 0-3.5 0 1.9 .1-3.8 0 2.2 0-2.9 0 1.3 .1-2.5 0 2.1 0-3.2 0 1.1 .1-1.9 0 1.1 0-2 .1 0 0-2 0 1.8 .1-2.9 0 1.2 0-1.7 .1 1 0-3 0 2.1 .1-4.6 0 2.8 0-3.3 .1 2 0-2.6 0 1.7 .1-2.1 0 1.1 0-2.1 0 1.3 .1-2.4 0 .8 .1-2.4 0 .8 0-1.6 .1 1.5 0-3.6 .2 2.9 .1-1.9 .2 4.3 .2-2.4 .2 2.5 0-2 .1 .6 0-2.6 .1 1.2 .1-1.9 .1 .4 0-2.7 .1 1.3 .1-2.4 0 1.1 .1-2.9 .1 2.4 0-2 .1 1.5 0-1 0 3.2 .1-2.2 0 1.8 0-.9 0 2.2 .1-1.4 0 3.2 0-1.1 0 3.1 .1-1 0 2 0-2.3 .1 3 0-.8 0 1.5 0-.8 .1 2.6 0-1.3 0 4.3 .1-2.7 0 2.8 0-2.7 .1 3.3 0-1.4 0 2.9 0-1 .1 2.1 0-1.6 .1 2.7 0-1.2 .1 2.3 0-.6 .1 2.2 .1-.9 0 1.9 .1-1.3 0 2.6 .1-1.4 0 2.3 .1-1.4 .1 3.2 0-2.6 .1 2.7 0-.6 0 1.2 .1-.7 0 2.2 0-.5 .1 2.3 0-1.3 0 3.1 0-1.3 .1 2.6 0-2.4 0 2.8 .1-.5 0 2.3 0-.9 .1 2.1 0-2.2 0 3.9 .1-2.6 0 3.4 0-2.6 .1 2.9 0-.6 0 1.5 0-.1 .1 2 0-1.4 0 2.1 .1-.3 0 1.3 0-3 0 1.3 0-2 .1 .5 0-1.3 0 .9 0-4.1 0 2.9 .1-4 0 2.1 0-2.4 0 .7 0-1.8 .1 1.7 0-2.3 0 1.2 0-2.5 0 1.7 .1-3 0 .5 0-1.8 0 .4 0-1.8 .1 .9 0-1.5 0 .4 0-2.2 0 1.3 .1-2.4 0 .9 0-1.6 0 .1 0-2.5 0 1.4 .1-2.6 0 1.8 0-2.2 0 2.2 .1-3.2 0 1 0-2.5 0 1.3 0-2.9 0 1.6 .1-2.6 0 1.4 0-3.2 0 2.5 0-3.1 .1 2.1 0-2.6 0 1 0-2.3 .1 .3 0-1.4 0 1.5 0-2.4 0 .5 .1-2.4 0 1.5 0-2.7 0 .7 0-1.4 .1 .2 0-1.2 0 .9 0-3.4 0 1.7 .1-2 0 .5 0-1.8 0 .6 0-1.2 .1 .6 0-2.1 0 .5 0-1.7 .1 1.2 0-2.6 0 .5 0-1.5 0 .3 0-1.2 .1 .3 0-3.7 0 3.1 .1-2.3 .1 2.4 .1 .1 .1 1.5 .1-1.8 .1 3 .1-.3 .1 1.5 .1-1.1 0 2.2 .1-.8 0 1.6 .1-.6 0 1.9 .1-1.7 0 4.2 .1-1.8 .1 3.6 0-2.5 0 3.2 .1-2.5 .1 3.7 0-1.8 .1 2.4 0-1.6 .1 2.9 0-1.1 0 2.6 0-1.2 .1 2.3 0-1.3 0 2.1 0-1.6 .1 3.8 0-2.9 0 3.7 .1-2.2 0 2.6 0-1.4 0 2.6 .1-1.3 0 2.8 0-2.1 0 2.7 .1-1.6 0 2.9 0-1.6 0 3.2 .1-2 0 2.2 0 .2 0 1.2 0-.8 0 2.1 0-.6 0 1.6 0-.7 0 2.8 0-1 0 2.9 0-1.7 .1 1.8 0-1 0 1.6 0-.3 0 1.9 0-.9 0 2 0-1.5 0 2.7 .1 1.1 0-.2 0 1.3 0-.2 0 2.1 0-.6 0 2.4 0-1.2 0 1.6 0-.7 0 2.1 .1-.9 0 1.7 0 1.2 0-.2 .1 1.5 0-.6 0 1.6 0-1.6 0 3.3 .1-1.9 0 2.7 0 2.2 0-1.6 .1 2.9 0-1.3 0 2.8 0-1.8 .1 2.3 0-1.2 0 2.9 0-1.2 .1 1.2 0-.8 0 1.9 .1-.4 0 2.4 0-.5 0 .9 .1 0 0 1.7 0-1 .1 2.1 0-2 0 2.9 0-.8 .1 2.5 0-1.2 0 2.3 .1-1.4 0 3.3 0-1 0 1.8 .1-.6 0 1.1 0-.2 .1 1.4 0-.2 0 2 0-.4 .1 1.9 0-.7 0 2 .1-.7 0 1.2 0-.3 0 1.5 .1-.9 0 2.4 .1-.7 0 3 .1-1.5 0 1.3 .1-.4 0 2.2 .1-1.1 0 3.2 .1-2.5 0 1.9 .1-.6 0 1.6 .1-.1 0 1.9 .1-.6 0 2.1 .1-2.2 0 2.9 .1-1 .1 2.5 .1-1 .1 2.9 .1-1.7 .1 1.8 .1-.6 .1 2 .1-.8 .1 2.2 .1-1.1 .1 3.2 .1-1.6 .1 1.7 .1-1.5 0 2.4 .1-.7 .1 1.6 .1-1.5 0 3.5 .1-1.6 .1 2.6 .1-1.5 0 1.7 .1 .2 .1 1.6 0-1.6 .1 4.6 .1-3.8 .1 3.3 .1-1.2 0 2 .1-1.6 .1 2.9 0-2.1 .1 3.9 .1-2 0 2.7 .1-.9 .1 3 0-1.6 .1 1.9 .1-.7 0 2.2 .1-1.7 .1 1.7 .1 0 0 3.4 .1-2.7 .1 2.7 0-1 .1 .1 0-1.7 .1 1.1 0-2.1 .1 3 0-3.9 0 .6 .1-2.3 0 2 .1-3 0 .4 .1-1.6 0 .8 .1-2.6 0 1.6 0-1.3 .1-.3 0-1.4 .1 1 0-2.3 .1 1.5 0-3 0 .7 .1-2 0 2.2 .1-3.3 0 1.4 .1-2.7 0 2.2 0-3 .1 1.3 0-2.1 .1 .2 0-2 0 .8 .1-2 0 .4 .1-2 0 .7 .1-1.3 0-1.8 .1 2.1 0-2.9 .1 .8 0-2.3 .1 .8 0-1.6 .1-1.3 0 .4 .1-1.9 0 2 0-2.7 .1 0 0-1.8 .1 1.2 0-2.4 .1 1.4 0-1.8 .1 .3 0-3 0 1.8 .1-2 0 1.6 .1-3.7 0 1.8 .1-3.6 .5 4.8 .6-5.1 .1 4.3 .1-2.6 0 2 .1-1.3 .1 4.3 .1-2.5 0 3.6 .1-2.5 .1 2.7 0-1.6 .1 2.3 .1-1 .1 2.3 0-.7 .1 3 .1-1.8 .1 3.1 0-3.1 .1 4.2 .1-2 0 2.5 .1-1.1 .1 1.4 0 .1 .1 1.4 .1-.7 0 3 .1-2.2 .1 2.5 0-.8 .1 1.7 .1-2.2 .1 1.8 0-2.6 .1 1.3 .1-1.9 0 1.5 .1-3 0 1.6 .1-3 .1 .8 .1-1.8 0 .2 .1-2 .1 1.3 0-2 .1 2.4 .1-3.4 .1 .2 0-1.5 .1 .8 .1-2.9 .1 2.4 .1-2.2 0 .4 .1-3 .1 1.6 .1-1.8 0 .4 .1-2.8 .1 1.7 0-1.9 .1 1.8 0-2.9 .1 2.9 0-4.1 0 .8 .1-3 0 2.8 0-3.5 .1 2.1 0-3.5 0 1.4 .1-2 0 1 0-3 .1 1.8 0-3.6 0 2.2 .1-1.8 0 2.3 .1-4 0 2.8 0-4.4 .1 2.2 .1-3 .2 2.3 .2-2.8 .2 .1 .2-1.6 0 .2 .1-1 .1 .4 .1-2.3 .1 1.5 .1-2 .1 1 .1-2.6 0 2 .1-2.7 .1 .8 .1-2.3 .1 .7 .1-1.8 .1 1.1 .1-1.9 .1 .4 .1-1.8 .1 1.2 .1-2.8 0 2.7 .1-3.2 0 2.7 .1-1.3 0 2.4 0-1.1 .1 1.7 0 .1 .1 1.3 0-1.1 0 2.9 .1-1.7 0 3.3 .1-2.7 0 3 0-.3 .1 2.5 0-1.2 .1 2.3 0-1.5 0 2 .1-1.2 0 1.8 0-.4 .1 1.7 0-.3 .1 2 0-2.2 .1 .8 0-1.7 .1 .7 0-2.5 .1 1.5 0-2.8 .1 2 0-3.9 .1 2.1 0-2.9 .1 1.1 0-2.7 0 2 .1-2.4 .1 .5 0-1.3 0 .9 .1-2.7 0 .8 .1-2.2 0 1 .1-2.6 0 1.8 .1-2.4 .1 1.6 0-2.6 .1 1.1 0-2 .1 1 .1-2.4 0 .8 .1-1.5 .1 .1 0-2 .1 .9 0-3.4 .1 1.9 .1-2.1 0 2.1 .1-2.6 0-.1 .1-1.1 .1 .5 0-2.3 .1 1.6 0-2.8 .1 1.3 .2-2.5 .2 1.8 .2-5.4 .2 4.4 .2-3.9 .2 2.5 .3-3.7 .4 2 .3-1.8 0 1.8 .1-.4 0 3.1 .1-2 0 3.1 .1-2.8 0 3.3 .1-1.9 0 2.2 .1-.2 0 1.5 .1-.2 0 1.5 .1-.5 0 1.6 .1-1.5 0 2.3 .1-.2 0 2.1 .1-1.2 0 2.4 .1-1.2 .1 2.6 .1-1.9 0 2 .1-.9 .1 1.9 .1-.2 .1 1.6 0-1 .1 2.7 .1-1.5 0 2.6 .1-3.7 0 2.6 .1-2.8 0 1 .1-2.5 0 .3 .1-2.3 0 1.5 .1-1.7 0 .2 .1-1.7 0 .8 .1-1.8 .1-1.5 0 1.6 .1-2.7 0 1.3 0-.1 .1 1.7 0-.1 0 3.1 .1-1.8 0 2.6 0-1.5 .1 1.5 0-.7 .1 2.4 0-.9 0 1.5 .1-.6 0 1.6 .1-.3 0 2.3 0-1.1 .1 2.1 0-1.3 0 2.4 .1-.8 0 1.4 0-.1 .1 1.9 .1-.4 .1 1.4 .1-.7 .1 2.6 .1-1.4 .1 1.6 .1-.5 .1 3.4 .1-2.2 .1 2.7 .1-4.3 .1 4.3 .1-.2 .1 2.5 .2-2.1 .1 2 .2-1.4 .2 3.2 .2-.8 0 1.4 0 .1 .1 1 0-.4 0 1.7 0-.9 .1 2.1 0-.2 0 1.6 .1-.7 0 2.1 0-1.2 .1 2.8 0-1.2 0 1.8 .1-2.4 0 3.7 0-2.5 0 5.2 .1-3.8 0 5.1 0-2.8 .1 4.4 0-2.2 0 1.3 .1-.3 0 1.7 0-.6 .1 1.7 0 .9 .1 .1 0 1.6 .1-.5 0 2.3 0-2 .1 4.2 0-3 .1 2.8 0-1.2 .1 2 0-1.1 .1 2.5 0-.6 0 1.5 .1-.1 0 3.4 .1-2.2 0 3 .1-3.5 0 3.6 .1-1.2 0 2.2 .1-1 .1 2.2 0-2.4 .1 3.3 .1-1.9 0 4.3 .1-2.7 0 3.2 .1-2.1 0 2.2 .1-1 .1 .8 0-1 .1 1.8 0-3.4 .1 .8 0-1.8 .1 .6 .1-1.5 0 1.2 .1-2.9 .1 1.6 0-2.2 .1 .2 0-1.3 .1 .9 0-2.6 0 .6 .1-1.6 0-1.5 .1 1.2 0-2.6 0 .8 .1-2.6 0 1.1 0-2.1 0 .9 .1-2 0 1.2 0-1.9 .1 .8 0-2 0 1.1 0-2.5 .1 1.3 0-2.2 0 1.2 .1-2.6 0 1 0-1.9 .1 .2 0-1.2 0-.1 .1-1.3 0 2.2 .1-1.4 0 2.1 .1-.8 0 3.2 .1-1.9 .1 2.9 0-1.7 .1 1.9 0-.6 .1 2.2 0-1.4 .1 1.8 .1-.9 0 2.7 .1-2.8 0 1.6 .1-2 0 1.6 .1-3.2 0 .7 .1-2.8 .1 1.6 0-2.8 .1 2.7 0-2.9 .1 .4 0-2.8 .1 1.7 0-2.1 .1 1.3 0-3.1 .1 2.4 0-4.6 .1 3 .1-3.8 0 2.2 .2-3.6 .3 2.8 .2-2.5 .2 1.8 .3-2.5 0 2.6 .1-1.6 0 3.6 .1-2.1 0 1.7 .1-.5 0 3 .1-2.7 0 2.4 .1-.9 0 2 .1-.1 0 1.9 .1-.8 0 2.3 .1-1.6 0 2.4 .3-1.9 .3 .9 .3-1.5 .1 .2 .2-1.9 .1 .8 .1-1.8 .2 1 .1-2.1 .1 .3 .2-2.2 .1 1 .3-2.5 .3 1.4 .3-1.9 .3 .9 0-2.1 .1 2.2 .1-3.7 .1 2.6 0-2.4 .1 .7 .1-3.4 .1 1.7 .1-2.5 0 .9 .1-1.6 .1 2 .1-1 .1 2.7 .1-1.4 0 1.6 .1-.4 .1 1.8 .1-.3 0 1.7 .1-1.1 .1 2.2 0-.8 .1 1.7 0 .1 0 1.7 0-.3 .1 1.3 0-.8 0 2.8 .1-1.8 0 3.2 0-2.1 .1 2.4 0-.8 0 2.1 .1-.5 0 1.2 0-2 0 3.9 .1-1.8 0 2.7 0-.2 .1 2.4 0-1.9 0 2.4 .1-.6 0 1.8 0-3.7 .1 4.8 0-2 0 2.7 0-3.7 0 1.9 .1-3.9 0 3 0-3.5 0 2 0-1.8 0 .7 .1-2.1 0 1.3 0-3.2 0 1 0-2.8 0 1.8 .1-2 0 1.8 0-2.5 0 2.1 0-4.1 .1 2.3 0-2.6 0 1.5 0-2.7 0 .4 .1-2.5 0 1.9 0-2.6 0 1.6 0-3.2 0 3.2 .1-4.9 0 1.4 0-1.6 0 1.3 0-2.3 0 .1 .1-1.4 0 1.1 0-2 0 .8 0-3.3 0 2.1 .1-2.9 0 2.2 0-2.7 0 .9 0-2.2 .1 .2 0-1.5 .1 1 0-2.6 0 1.2 .1-2.7 0 1.7 .1-2.8 0 1.9 0-3.9 .1 3 0-2.8 .1 2.4 0-2.8 .1 .3 0-1.9 .1 1.6 0-2.5 0 .8 .1-2.2 0 .1 .1-1.5 0 .5 .1-1.7 0 .6 .1-2.5 0 2 0-2.6 .1 1.6 0-2.3 .1 2.4 0-4.6 .1 1.5 0-2.6 .1 1.3 0-2.9 0 1.8 .1-2.9 0 2.6 .1-4.8 0 3.6 0-3.1 .1 1 0-1.8 .1 1.4 0-3.2 .1 .9 0-1.9 .1 1.5 0-2.2 0 1.7 .1-3.4 0 1.9 .1-2.2 0 .2 .1-1 0 .3 .1-1.9 0 1.8 0-3.2 .1 1.2 .1-2.2 0 1.6 .1-3 .1 1 .1-2.6 .1 1.8 .1-2.3 0 1.1 .1-2 .1 1.3 .1-2.5 .1 1 .1-2.7 0 1.1 .1-1.7 .1 .9 0-2 .1 .5 0-2.8 .1 1.7 .1-1.9 0 1.1 .1-2.2 0 .4 .1-2 .1 .4 0-1.8 .1 1.5 0-1.6 .1-.3 .2-1.5 .1 1.5 .1-2.8 .1 1.1 .2-2.6 .1 2.5 .3-3.8 .4 2.1 .3-3.3 .1 2.7 .1-2.1 .1 2.7 .1-.6 .1 2.5 .1-1.4 .1 2.3 .1-1.4 .2 4.2 .1-3.6 0 2.8 .1-.2 .1 1.6 0-1.2 .1 4.3 .1-2.4 .1 2 0-1.3 .1 3.2 .1-1.5 0 2.8 .1-3.1 0 3.8 0-.9 .1 1.6 0-2 0 3.2 0-.6 0 3 0-2.3 0 2.8 0-1.3 .1 4.3 0-2.5 0 1.9 0-1.4 0 2.1 0-.8 0 2.7 0-.9 .1 1.7 0-1 0 2.4 0-1 0 2.7 0-3.7 0 4.4 0-1.5 0 3.4 .1-1.9 0 2.2 0-1.7 0 2.9 0-.9 0 1.3 0-.2 0 2.5 0-1.1 .1 1.6 0-.5 0 2.5 0-1.4 0 3.1 0-2.2 0 3.1 0-1.5 .1 2.1 0-1.4 0 2.7 0-2.5 0 3.9 0-3.1 .1 1.1 0-2.3 0 1 0-2.8 .1 2.1 0-2.7 0 .6 0-1.4 .1 .6 0-2.1 0 1 0-2.5 .1 1.2 0-1.7 0 .7 0-2.1 .1 1.1 0-3.7 0 2.9 .1-3.5 0 2.3 0-3.2 0 2 .1-2.3 0 1.4 0-2.9 0 1.2 0-2.2 .1 .7 0-1.9 0 .4 0-1.6 .1 .5 0-2.4 0 1.4 .1-4.2 0 4 0-3.2 0 .5 .1-2 0 1.1 0-1.3 0 .1 .1-2.1 0 1.3 0-3 0 2 .1-4 0 2.1 0-3.7 0 2.6 .1-2 0 1.3 0-2.8 .1 1.5 0-2.7 0 1.6 0-2.4 .1 .9 0-4.6 0 4.1 0-2.4 .1 .5 0-2.4 0 1.7 0-2.7 .1 1.1 .1-2.2 .2 1.2 .1-1.9 .1 0 .2-1.7 .1 .5 .5-1.4 .4 2.9 0-2 0 2.6 .1-1.4 0 2.4 0-.1 0 1.7 0-2.2 0 3.2 0-.3 0 1.7 .1-2.2 0 3.1 0-.9 0 2.1 0-1.2 0 2.1 0-1.2 0 2.2 .1-.6 0 3.4 0-2.6 0 2.8 0-1.1 0 2.6 0-.8 0 2.8 .1-2.4 0 3.6 0-1.6 0 2 0-2 0 2.5 0-.9 .1 3.6 0-1.8 0 3 0-2.5 0 3.1 0-1.7 0 3 .1-1.5 0 2 0-.4 0 2.4 0-2.8 .1 2.6 0-3.4 0 1.5 0-2.5 .1 .3 0-2.2 0 .7 .1-1.5 0 .4 0-1.5 .1 .1 0-1.6 0 .5 .1-2.5 0 1 0-1.9 .1 1.2 0-1.9 0 .9 0-2.1 0 .5 .1-1.8 0 .6 0-1.9 0 .9 .1-2.8 0 1 0-1.4 0 .7 .1-2.9 0 2.1 0-2.9 0 1.3 .1-3.6 0 1.7 0-2.6 0 2.2 .1-1.8 0 .2 0-1.9 0 2.7 .1-4.8 0 1.6 0-2.1 0 .9 .1-2.7 0 1.7 0-2.5 0 .9 .1-2.3 0 1.9 0-2.5 0 1.2 .1-2.1 0 .7 0-3 0 1.4 .1-3.8 0 2.3 0-2.6 0 1.5 0-2.7 .1 1.2 0-1.6 0 1.8 0-2.9 .1 .7 0-1.8 0 1.8 .1-4.2 0 2.9 .1-4 0 2 0-2.1 .1 .7 0-2.5 0 1.5 .1-2.9 0 2.1 0-3.6 .1 1.9 0-2.3 0 .8 .1-1.2 0 2.4 0-.9 .1 3.1 0-1.3 0 2.2 .1-1.2 0 2.1 0-.4 .1 1.9 0-1.4 0 2.8 .1-1.7 0 3 0-1.9 .1 2.7 0-1.5 0 2.2 .1-.5 0 1.2 0-.5 .1 3.2 0-2.3 0 3.2 .1-2 0 2.6 0-1.2 0 2.2 .1-.6 0 1.5 0-.5 .1 2.2 0-.4 0 1.6 .1 0 0 1.3 0-.6 .1 1.6 0-.6 0 2.2 .1-1.1 0 1.9 .1-.5 0 1.3 0 .4 .1 2.3 0-1.9 .1 1.6 0-.9 0 2.5 .1-.4 0 1.3 0 .1 0 1.9 .1-.6 0 1.6 0-2.8 0 3.5 0-1.4 .1 4.4 0-2.7 0 2.6 0-1.4 0 2.5 .1-.9 0 1.5 0-.6 0 1.6 .1-.5 0 1.9 0-.3 0 1.8 0-1 .1 2.9 0-2.4 0 4 0-1.3 0 3.5 0-2.4 .1 2.2 0-.7 0 .9 0 .3 0 1.3 .1-.7 0 1.9 0-.6 0 1.4 0-.6 0 3.5 .1-2.1 0 2.9 0-1.5 0 2.9 0-2.4 .1 2.4 0-2.6 0 4.3 0-2.2 0 3.4 0-.9 .1 1.5 0-.7 0 2.2 0-1.2 0 3 0-2.2 .1 3.1 0-1.2 0 2 0-1.7 0 3.7 0-2 .1 2.3 0-1.2 0 3.1 .1-1.4 0 1.5 0-1.7 0 3 0-.7 .1 2.3 0-.2 0 1.1 0-.1 .1 2.2 0-2.3 0 3 0-.8 0 1.6 .1 .1 0 1.3 0-.2 0 3 .1-2.4 0 1.5 0-1 0 2.4 .1-2.4 0 5 0-2.1 0 2.9 .1-1.1 0 1.8 0-.6 0 1.7 .1-1.4 0 2.7 0-.6 0 2 .1-1.8 0 2.7 .1-1.3 0 1.6 .1-.1 0 2.5 0-1.4 .1 2.8 0-1.2 .1 2.1 0-1 0 1.6 .1-1.6 0 2.5 .1-1.4 0 4.1 .1-2.1 0 2.9 .1-2.2 0 2.1 0-.2 .1 2 0-1 .1 1.6 0-1.5 .1 3 0-2.7 .1 3.7 0-1.6 0 3.3 .1-1.1 0 1.9 .1-1.1 0 2.1 .1-2 0 3.5 0-1 .1 2.3 0-2.2 .1 3.5 0-2.1 .1 2.8 .1-.4 0 2 .1-.8 0 1.5 .1-.9 0 2.5 .1-1.3 .1 1.6 0-1.5 .1 3.3 0-2.3 .1 3 0-.3 .1 1.8 .1-1.4 .1 2.5 0-1.3 .1 2.7 .1-1.7 .1 3.4 0-1.8 .1 2.6 .1-1.1 .1 3.1 0-2.1 .1 2.1 .1-2.8 0 .5 .1-2 .1 1.1 .1-2.2 0 1 .1-2.6 .1 .8 .1-1.8 0 .7 .1-2.1 0 1.2 .1-2.3 0 .6 0-1.4 .1 1.3 0-2.9 0 1.7 0-3 .1 1 0-1.9 0 .9 .1-2 0 .8 0-1.5 .1 .4 0-2 0 .8 .1-1.9 0 .2 0-2.4 0 2.1 .1-2.9 0 .9 0-1.5 .1 .4 0-3.2 0 2.5 .1-2.6 0 1.2 0-2.8 .1 1.5 0-2.8 0 1.7 .1-2.7 0 2.2 0-4 .1 3.1 0-4.6 0 2.4 .1-2.7 0 1.3 .1-2.2 0 1.4 0-2.7 .1 1.2 0-1.7 0 .8 .1-1.9 0 .2 0-2 .1 1 0-2.6 .1 1 0-3.3 0 2.2 .1-2.6 0 .8 0-1.6 .1 .4 0-1.7 .1 .9 0-1.6 0 1.6 .1-2.9 0 .9 0-3.3 .1 3.1 0-3.4 0 .4 .1-1 0 .4 .1-1.9 0 1.8 0-2.9 .1 1.7 0-3.3 0 1.7 0-3 .1 .5 0-1.8 0 1 0-1.7 0 .4 0-1.4 0 1.2 0-3.3 .1 .7 0-2.8 0 1.9 0-2.7 0 1.5 0-1.5 0 .4 .1-2.3 0 1.6 0-3.2 0 2.1 0-2.3 0 .2 0-2 .1 2.9 0-4.2 0 .8 0-1.3 0 1.4 0-2.4 0 1.3 .1-2.3 0 1.6 0-3.4 0 .3 0-1 0 .5 0-1.6 0 .4 0-2.3 .1 1.3 0-2.5 0 1.2 0-2.2 0 .7 0-1.6 .1-.1 0-1.3 0 .6 0-2.1 .1 2.2 0-3.3 0 1.9 .1-2.8 0 .4 0-2.4 0 1.1 .1-2.8 0 1.9 0-2.5 0 1.1 0-2 .1 1 0-1.8 0 .9 0-3.1 .1 2.6 0-4.1 0 1.9 .1-2.7 0 2 .1-2.4 0 .5 0-3.2 .1 1.8 0-2.4 .1 1.7 0-2.7 0 1.1 .1-2.6 0 1.2 .1-1 0 1.4 0-3.7 .1 2.4 0-3.7 .1 1.2 0-2.4 0 1.3 .1-2.1 0 2.2 0-.8 0 2.5 .1-1.2 0 2 0-.5 0 1.3 0-1.9 .1 4.2 0-3.1 0 4.6 0-3 0 3.8 .1-1 0 1.4 0-.4 0 1.8 0-.6 .1 2 0-.8 0 1.4 0-.2 0 1.7 0-.7 .1 2.2 0-.9 0 1.4 0 .1 0 1.6 .1-.5 0 1.2 0 .1 0 1.3 0-.3 .1 1.5 0-1.4 0 2.8 0-.5 .1 1.5 0-1.4 0 3.4 0-1.2 0 2.7 .1-2.4 0 5.1 0-3.6 0 2.6 .1-.6 0 2.7 0-1.7 .1 2.2 0-.8 0 1.5 .1-.9 0 2.2 0-.4 0 1.7 .1-1 0 2.1 0-.1 .1 .9 0-.2 0 1.7 .1-.9 0 3.1 0-1.3 0 1.9 .1-1 0 1.3 0-.2 .1 1.6 0-.6 0 2.6 .1-2.2 0 .7 .1-1.9 0 .9 0-2.2 .1 2 0-3.4 .1 1 0-2.9 .1 1.9 0-4 .1 3.2 0-3.3 0 1.8 .1-3.3 0 1.9 .1-2.4 0 2 .1-3.9 0 2.5 0-3.3 .1 2.4 0-2.5 0 .6 .1-2.6 0 1.5 0-2.4 0 .6 .1-2.1 0 1.2 0-2.2 .1 1.8 0-2.4 0 .5 .1-2.2 0 1.4 0-3.7 .1 1.5 0-1.1 0 .2 0-1.3 .1 .9 0-3.1 0 2.7 .1-4.7 0 3 0-2.8 0 .9 .1-1.5 0 .3 .1-2.3 0 1 .1-2.8 0 1.9 0-2.8 .1 1.8 0-1.9 .1 .6 0-2.4 .1 .4 0-2.1 0 1.5 .1-1.5 0 1.6 .1-3.1 0 .8 .1-3.9 0 3.6 .1-3.4 0 .8 .1-1.9 0 1.1 0-1.9 .1 .6 0-2.3 .1 1.5 .1-3.4 0 1.6 0-1.3 .1 .2 0-1.9 .1 2.1 0-3.9 .1 1.9 0-2.4 .1 1.7 0-2.8 .5 1 .4-.9 .1 2.6 0-.7 .1 2.3 0-2.9 .1 3.3 0-.2 .1 1.8 0-.9 .1 2.8 0-1.3 .1 2.4 0-1.9 .1 2 0-.3 .1 3.1 0-2 .1 2.7 0-1.9 0 2.2 .1-.7 0 2 0-1.1 .1 2.7 0-.8 0 1.7 .1-2.4 0 3.7 0-.6 0 1.3 .1-.5 0 1.6 0-.1 .1 2.1 0-1.2 0 3 .1-1.8 0 1.7 0-.8 0 2.4 .1-1.1 0 2.9 0-2.3 .1 4.4 0-2.8 0 2.6 .1-.4 0 .4 0-2.2 0 .9 .1-4.4 0 4 0-3.8 .1 2.9 0-3.2 0 2.3 .1-4.1 0 1.7 0-4.2 .1 2.4 0-2.2 0 1.2 .1-1.6 0 .5 0-1.7 .1-2.4 0 1.4 0-2.2 .1 1.9 0-3.6 0 2.2 0-2.4 .1 .3 0-1.6 0 1.8 .1-3.7 0 2.1 .1-3.2 0 2.2 .1-3.5 0 1.3 .1-1.8 .1 .3 0-1.4 .1 .4 0-1.2 .1 .6 0-1.8 .1 .5 0-1.9 .1 1.4 0-2.5 .3 1.4 .3-.8 .3 1.5 0-2 0 3.7 0-2.5 .1 3.5 0-.9 0 2.2 0-1.9 .1 2.5 0-1.3 0 2.5 0-.8 .1 2.4 0-.9 0 1.7 0 .1 0 1.5 .1-.9 0 3.1 0-2.3 0 3.7 0-2.6 .1 2.4 0-1.1 0 2.7 0-1.3 0 2.7 .1-.8 0 1.2 0 1.6 .1-.5 0 2.6 0-2.6 0 2.6 0-1.2 .1 3.9 0-1.7 0 2.4 0-1 .1 1.4 0-.3 0 2.8 0-1.6 0 2.1 .1-1.3 0 2.7 0-1.8 0 4 0-3 .1 2.8 0-1.5 0 4.3 0-2.3 .1 1.4 0-.8 .1 4 0-2.8 0 2.3 .1-.6 0 1.6 .1-.3 0 2.1 0-1.2 .1 2 0-1.2 .1 2.3 0-2.2 .1 4.1 0-2.2 .1 2.8 0-1.1 0 2.7 .1-1.6 0 2.5 .1-1.6 0 1.7 0-.2 .1 3.1 0-2 0 3.1 .1-3.7 0 4.5 0-2.6 .1 2.6 0-.1 0 1.4 0-.5 .1 1.7 0-.8 0 2.4 .1-1.5 0 2.9 .1-2.3 0 3.2 0-.3 .1 1.6 0-.2 0 1.5 0-1 .1 1.8 0-.8 .1 .8 0-1.5 .1 .9 .1-2.5 .1 .5 0-2.6 .1 1.7 .1-1.3 .1 .5 0-1.9 .1 .6 .1-2.3 0 1 .1-3.5 0 3 0-3.3 0 2 .1-2.5 0 .5 .1-1.7 0 1.7 0-3.2 .1 .8 0-1.7 0 .9 .1-2.5 0 .5 0-1.2 .1 .4 0-2.2 0 1.4 .1-2.6 0 1.1 0-2.8 .1 1.5 0-1.7 0 1.2 .1-2.7 0 2.1 0-3.7 .1 1 0-2.2 .1 1.7 0-3 0 1 0-1.9 .1 .8 .1-2.1 0 1 .1-1.6 0 .6 .1-2.2 0 1.2 .1-2.2 0 1.7 .1-4.2 0 2.2 .1-2.3 0 .3 .1-1.2 .1 .3 0-2.8 .1 1.3 0-2.3 .1 1.5 0-1.3 .1 .1 0-1.6 .6 .5 .6-1 .1 1.5 .1-.9 .2 2.2 .1-.9 .1 2.8 .2-1.4 .1 1.9 .1-1.2 .1 1.9 .1-.6 .1 2.4 0-1.9 .1 3.2 0-1.7 .1 1.9 .1-.8 0 3 .1-2.9 0 3.4 .1-.9 0 2.2 .1-1.2 .1 3.1 0-1.1 .1 1.5 0-1.6 .1 2.7 0-.1 0 1.9 .1-1.2 0 3.2 .1-2.9 0 4 .1-2.4 0 3.6 .1-2.6 0 2.2 0-.9 .1 2.5 0-1.7 .1 3.5 0-1.6 .1 1.5 0-.6 0 2.1 .1-.3 0 1.7 0-.8 .1 2.6 0-1.1 0 1.6 .1-.6 0 1.5 0-.8 .1 2.1 0-1.4 0 2.6 .1-1.1 0 2 .1-1.2 0 2.4 0-1.5 .1 3 0-.5 0 1.5 0-2.2 .1 4.1 0-1.8 0 2.9 .1-2 0 2.4 0 .1 .1 1.3 0-.8 .1 1.9 0-1.7 0 3 .1-.6 0 1.4 0 .4 .1 2.7 0-1.9 .1 1.8 0-1 0 2.5 .1-2 0 3.4 0-3 .1 3.9 0-.8 .1 1.9 0-1 0 2.6 .1-2.3 0 3 0-.8 0 1.6 0-1.2 .1 2.2 0 .2 0 1 .1 1.7 0-.6 0 1.8 0-.3 .1 1.4 0-1.8 0 2.9 0-1.3 0 2.6 .1-.1 0 1.7 0-1.4 0 2.7 0-2.1 .1 3.1 0-2.1 0 3 0-1.5 .1 3.5 0-1.9 0 2.5 0-1.2 .1 2 0-.8 0 2.7 0-2.2 0 3.6 .1-2.8 0 3.5 0-1 0 2.7 .1-1.3 0 1.7 0-.4 .1 2.7 0-2.3 0 3.5 .1-1.6 0 1.8 .1-2.4 0 3.3 0 .1 .1 2 0-.6 0 2.2 .1-1 0 1.5 0-1 .1 3.7 0-2.9 .1 3.1 0-1.2 0 1.6 .1-1.8 0 3.3 .2-2.6 .1 4.1 .1-1.6 .2 2.4 .1-1 .2 2.5 .1-1.5 .2 3 0-2.8 0 1.8 0-3 0 .4 0-1.2 0 .6 0-1.6 0 .8 0-2.5 0 .4 0-2 0 .9 0-2.6 0 2.5 0-2.6 0 1 0-3 0 2.5 0-2.9 0 .8 0-2.3 0 .6 .1-2 0 .6 .1-2.2 0 .9 0-2.7 .1 1.7 0-2.7 0 1.8 .1-3.4 0 2.1 .1-2.3 0 2.4 0-3.1 .1 2 0-4.2 0 1.6 .1-1.9 0 1.3 .1-3.6 0 2.7 0-2.7 .1 1.9 0-3.2 0 1.4 .1-3.1 0 1 0-1.8 0 .3 0-2.3 0 2.3 0-3 .1 1 0-2.3 0 .9 0-1.3 0 .7 .1-1.6 0 2 0-4 0 2 0-3 0 1.7 .1-3.3 0 1.2 0-1.7 0 .3 0-1.8 .1 1 0-1.7 0 .2 0-1.8 0 1.2 0-2.9 .1 3.2 0-4.8 0 1.4 0-1.7 0 1.3 0-2.9 .1 1.3 0-2 0 1.3 0-2.3 0 .9 .1-2.9 0 1.5 0-2 0 1.4 0-2.9 .1 .9 0-2.4 0 .5 0-.9 0 .1 0-2.1 .1 1.3 0-3.1 0 2.5 0-4.1 0 3.1 0-2.9 .1 1 0-2.3 0 .7 0-4.4 0 3.4 0-2.2 .1 .7 0-1.5 0 .1 0-.8 0 .8 .1-2.2 0-.1 0-1.5 0 .6 0-2.2 0 1.3 .1-1.8 0 .8 0-3.3 0 1.6 0-1.2 .1 0 0-2 0 1.4 0-2.1 0 2.3 .1-4.4 0 1.8 0-2.3 0 .4 0-1.8 0 .6 0-1.3 .1 .6 0-3.3 0 1.4 0-1.8 0 .7 .1-1.1 0 .2 0-1.4 0 .8 0-2.5 0 1 0-1.8 .1 .4 0-1.7 0 1.2 0-3 0 .9 0-1.8 0 .5 0-2.1 .1 1.5 0-2.7 0 2.3 0-3.4 0 1.2 0-2.3 0 .9 0-1.8 .1 .3 0-2.1 0 1 0-2.6 0 1.5 0-1.4 0 1.3 0-2.3 0 .7 .1-1.9 0 .2 0-1.2 0 1.1 0-2.7 0 2.5 0-3.9 0 .8 .1-1.8 0 .8 0-1.7 0-.1 0-2.7 0 1.4 0-1.6 0 .5 .1-2.4 0 1.3 0-1.2 0 .4 0-3 0 2.2 0-4.2 0 2.1 .1-1.5 0 .4 0-1.5 0 1 0-3.1 0 1.2 0-2.5 0 1.7 .1-1.7 0 .8 0-3.2 0 2.2 0-3.3 0 1.5 0-1.3 0 .9 0-3.9 .1 3.6 0-1 0 1.5 0-.9 .1 2.5 0-1 0 3.2 .1-2.1 0 4.1 0-2.5 0 1.6 .1-.5 0 1.6 0-.6 0 2.7 .1-1.3 0 2.7 0-2.6 0 3 0-1.3 .1 2.4 0-.3 0 2 0-1.3 .1 3 0-2 0 4.5 0-3.9 .1 2.8 0-1.7 0 3.2 .1-1.2 0 3.1 0-1.8 0 4.3 .1-3.2 0 1.8 0 .3 0 1.2 0-.7 .1 2 0-.4 0 2 0-3 .1 5.5 0-2.7 0 3.3 0-2.5 .1 3.3 0-1.9 0 2.1 0-.1 0 1.3 .1-.8 0 2.6 0-3 0 4.1 .1-1.6 0 3.5 0-1.8 0 3.1 0-2.4 .1 3.1 0-1.6 0 2.8 0-.6 0 1.7 .1-.6 0 2 0-1.4 0 3.1 .1-1.6 0 1.6 0-1.5 .1 3.9 0-3.7 0 5.2 .1-2.8 0 4.2 .1-3.7 0 3.7 .1-2.1 0 3.3 0-1.2 .1 1.4 0-.5 .1 1.8 0-1.6 .1 2.7 0-.8 0 2.9 .1-1.4 0 2.1 .1-1.1 0 2.8 .1-1.7 .1 1.7 0-.3 .1 1.5 .1 1.4 0-1 .1 2.6 .1-1.6 0 2.9 .1-.9 0 1.9 .1-.7 .1 3.3 0-2.8 0 2.6 0-4.1 .1 1.2 0-2.9 0 .5 .1-2.1 0 .9 0-2.5 .1 1.7 0-2.2 0 1.6 .1-3.3 0 1.2 0-1.5 0 1 .1-2.4 0 1.5 0-3.4 .1 2 0-3.2 0 1.8 .1-2.6 0 1.5 0-2.5 0 1 .1-3.1 0 1.4 0-1.4 .2 2 .2-1 .2 4.1 .1-3.2 .2 1.8 .1-2.3 0 4.6 0-2.3 .1 2.9 0-2.4 0 4.5 .1-2.4 0 2.5 0-1.1 .1 3 0-2.1 0 3.1 .1-1.2 0 2.4 .1-.9 0 2.5 0-1.8 .1 2.5 0-1.4 0 3.2 .1-1.6 0 1.6 0-.1 .1 2.6 .1-1.8 0 3.7 .1-2.1 0 2.3 .1-.8 0 2 .1-1.9 0 3 .1-1.8 .1 2.1 0-.4 .1 1.4 0-.7 .1 2.1 .1-1.8 0 3.8 .1-1.7 0 3.7 .1-1.9 0 1.5 .1-.3 0 2.9 .1-1.6 0 3.1 .1-2 0 3.1 .1-3.2 0 3 .1-.2 0 1.2 .1-1.1 0 2.5 .1-.2 .1 1.7 .1-.8 0 1.7 .1-1.4 .1 3.8 .1-2.5 0 3.2 .1-1.8 .1 1.9 0-.4 .1 2.4 .1-2.3 0 2.4 0-3.5 .1 2.5 0-3.5 .1 1 0-2.6 .1 1.4 0-1.9 .1 1.1 0-3.7 0 2.2 .1-2.6 0 1.2 .1-2.6 0 1.4 .1-2.1 0 1.6 0-2.4 .1 .9 0-1.9 .1 1.4 .1-3.7 0 2.2 .1-3.8 0 1.9 .1-3.8 0 3.4 .1-2.9 0 1.3 .1-2.9 0 1.3 .1-3.2 0 2 .1-2.5 0 1 .1-2.4 0 1.6 .1-2.2 0 3.3 .1-4.5 .1 .3 .1 1.5 0-.5 .1 2.4 0-2.1 .1 2.7 0-1.6 .1 3.2 0-.5 .1 1.6 0-1.3 .1 3.3 0-1.6 .1 3.2 0-3.3 .1 4.8 0-3 .1 2.1 0-3.2 .1 1 0-2.4 .1 1.4 0-2.4 0 1.3 .1-1.9 0 .6 .1-1.4 0 .6 .1-1.7 0 .3 .1-3.3 0 1.7 0-3.4 .1 2.4 0-2.7 .1 3 0-3.5 0 1.8 .1-2.3 0 1 .1-2.8 0 .8 0-2 .1 2.6 0-3.2 0 2.1 .1-3.7 0 1.6 0-3 .1 .7 0-2.5 .1 1.5 0-1.8 0 .8 .1-2.6 0 1.1 0-1.7 .1 .3 0-2.2 .1 1.9 0-2.7 0 .4 0-1.3 .1 .3 0-1.5 0 .2 0-1.2 0 .7 .1-1.7 0 .5 0-2 0 .1 .1-2.2 0 1.2 0-1.1 0-.1 .1-1.6 0 .3 0-1.7 0 1.6 .1-3 0 2.8 0-3.6 0 .9 0-2.1 .1 .5 0-2.4 0 1.8 0-2.8 .1 1.4 0-2.6 0 1.5 0-2.1 .1 1.4 0-3.2 0 1.2 0-2.1 .1 1.3 0-2.2 0 .5 .1-2.1 0 1.4 0-2 .1 .6 0-2.4 0 .6 .1-1.2 0 1.2 .1-3.6 0 1.2 0-1.7 .1 1.3 0-1.8 .1 .3 0-1.5 0-.3 .1-1 0-.2 0-1.3 .1 .2 0-2.3 0 1.2 .1-1.3 0 .9 .1-2.7 0 .7 0-2.5 .1 2.8 0-3.7 0 1.9 .1-3.1 0 1.6 0-2.2 .1 .8 0-2.3 0 1.5 .1-2.9 0 2.3 0-2 .1 2.3 0-2.8 0 4.6 0-3.2 .1 4.2 0-2.4 0 2.7 0-.7 0 3.8 0-2.2 .1 2.2 0-1.3 0 3.6 0-2.3 .1 2 0-.7 0 2.8 0-1.3 0 2.6 .1-1.8 0 2.9 0-2 0 3.4 .1-1.6 0 1.9 0-.2 0 1.3 0-.3 .1 1.8 0-.6 0 1.3 .1-.7 0 3.1 0-1.8 .1 2.6 0-1.1 0 1.9 .1-2.1 0 3.1 .1-1.6 0 3.1 0-2.1 .1 3.6 0-1.6 0 2.6 0-1.8 0 3.5 .1-1.8 0 2.2 0-.9 0 2.3 0-1.7 0 2.1 .1-.9 0 2.4 0-.6 0 3 0-2 .1 1.8 0-.9 0 2.8 0-1 0 3.5 .1-3.1 0 3.3 0-1.7 0 3 0-1.8 0 2.2 .1-.3 0 1.3 0-.5 0 1.5 0-.8 0 2.8 .1-2.1 0 3 0-1.5 0 2.5 0-2.2 0 4.6 .1-2.6 0 2.7 0-.5 0 1.1 0-.1 0 1.6 0-.6 .1 2 0-.9 0 1.6 0-1.2 0 3.8 0-1.1 .1 1.3 0-.9 0 1.6 0-1 0 3.7 0-1.5 .1 3.1 0-2 0 2.5 0-1.4 0 2.6 0-1 0 2.9 0-3.8 .1 4 0-1.2 0 3.7 0-2.1 0 2.1 0-1.3 .1 2.2 0-.7 0 1.8 0-.9 0 2.5 0-1.7 .1 2.7 0-1.2 0 2.5 0-.7 0 1.6 0-.9 0 1.6 .1-.3 0 1.8 0-.4 0 1.6 0-.7 0 2.1 0-.3 .1 1.8 0-1.4 0 2.1 0-2.5 0 3.4 0 .2 0 2.3 0-1.3 .1 1.8 0-1.5 0 2.1 0-.8 0 2.2 0-.6 .1 2.4 0-.9 0 1.4 0 .1 0 1.1 0-.7 0 2.1 .1-1 0 1.9 0-1.2 0 3.5 0-2.2 0 3.7 .1-1.5 0 1.4 0-.6 0 2.4 0-1 .1 2.8 0-1.9 0 4.1 .1-3.4 0 3.4 0-1.6 .1 2.7 0-1.8 .1 2.6 0-1.4 0 1.9 .1-.1 0 .9 0 .4 .1 1.2 0-.8 0 2 .1-.1 0 1.4 .1-1.6 .2 .6 .1-2.7 .1 2.7 .1-4.3 .1 2.6 .1-2.9 .1 .3 .2-1.7 .1 1 0-2.9 .1 2.7 0-2.2 .1 .5 0-2.3 0 .7 .1-1.4 0 .7 .1-2.4 0 1.2 .1-3.3 0 1.5 .1-2.6 0 1.8 0-2.2 .1 1.8 0-2.4 .1 .4 0-2.6 .1 1.8 0-2.5 .1 1.4 0-2.8 .1 1.3 .1-2.6 0 1 .1-.9 0 .2 .1-3.2 .1 2.4 0-3.5 .1 2.3 0-2.2 .1 .7 0-1.8 .5 1.1 .4-.3 .1 0 0-.9 .1-1.6 0 1.5 0-3 .1 1.1 0-1.8 .1 1.1 0-2.1 .1 .5 0-2.4 0 .8 .1-2.3 0 1.7 0-2 .1 .1 0-1.3 .1 2.5 0-4.1 .1 .6 0-1.5 0 1.2 .1 0 .1 2 0-.9 .1 1.6 0-1.3 .1 2.5 0-.5 .1 2.8 0-1.7 .1 3.2 0-2.5 .1 2.8 0-.8 .1 1.3 .1-.8 0 2.7 .1-1.7 .1 2.5 .1-.8 0 2.9 .1-1.1 .1 2.1 0-.9 .1 3.2 .1-2.2 .1 1.6 0-.5 .1 1.7 0-.2 0 2.3 0-1.1 .1 2 0-1.8 0 3.6 0-2.3 .1 2.6 0-1.5 0 2.4 0-.9 .1 1.8 0-.3 0 2.7 0-1.8 0 1.4 .1-.7 0 3.2 0-2 0 2.9 .1-1.8 0 2.8 0-.8 0 2 .1-.5 0 1.5 0-.3 0 1.5 0-1 .1 1.9 0-.3 0 2.4 .1-2.5 0 2.8 0-1.4 0 3.4 .1-2.3 0 2.8 0-.9 .1 1.8 0-.9 .1 1.9 0-1.1 .1 2.7 0-2.4 .1 5 0-3.7 0 5 .1-1.8 0 2.2 .1-3.1 0 4 .1-1.7 0 2.9 0-2.2 .1 2.6 0-2.8 .1 2 0-2.8 0 1.4 0-2.9 .1 1.6 0-3 0 2.6 .1-2.6 0 1.1 0-3 0 1.3 .1-3.6 0 3.1 .1-2.6 0 1.5 0-2.9 0 1.6 .1-2.4 0 .3 0-1.2 .1-.4 0-.8 0-.1 0-1.5 .1 .3 0-1.6 0 .5 .1-1.7 0 1.6 0-1 .1 3.4 0-1.6 .1 2.3 0-1.5 0 3.3 .1-3.2 0 3.7 0-2.7 .1 4 0-.6 0 1.2 .1-.6 0 2 .1-.4 0 1.6 0-.5 .1 1.5 0-.2 0 1.7 .1-.8 0 2.2 0-.7 .1 1.2 0-2 0 1.7 0-2.8 .1-.1 0-2.1 0 1.7 0-1.9 .1 .2 0-2.5 0 1.6 .1-4.3 0 5.7 0-4.6 0 .5 .1-1.6 0 .4 0-1.9 0 2.2 .1-4.4 0 1.7 0-2 0 2.3 .1-4.3 0 1 0-2.9 0 2.1 .1-2.1 0 1.2 0-2 0 .4 .1-1.9 0 .4 0-1.3 .1 .9 0-2.1 0 1.9 .1-3.4 0 1.5 0-2.4 .1 .3 0-1.6 .1 .5 0-3.5 0 2.1 .1-1.9 0 1.1 .1-2.8 0 1.8 0-1.7 .1 1.1 0-2.4 0 1.7 .1-3.3 0 .7 .1-1.6 0 .1 .2-.5 .2 2.6 .3-2.3 .2 3.1 0-2.6 0 3.7 0-1.7 .1 3.5 0-1.3 0 1.5 0-1 .1 2.6 0-.8 0 2.4 0-1.6 0 3.1 .1-2.7 0 3.1 0-2.2 0 3.8 0-1.3 .1 3.8 0-2.4 0 2.4 0-1.1 .1 1.1 0 .2 0 1.7 0-.4 .1 3.6 0-2.5 0 1.4 0-.2 .1 1.2 0-.2 0 1.2 0-.2 0 1.5 .1 0 0 1.9 0-2.1 0 2.7 0-.9 .1 2.6 0-.7 0 2.7 0-1.8 .1 1.6 0-1 0 2.7 .1-1.5 0 2.5 0-1 0 3 .1-2.6 0 3.2 0-1.4 0 2.6 .1-1.6 0 3.5 0-3.5 0 4 .1-.9 0 2.4 0-2.2 0 4.3 .1-2.3 0 2 0-1 0 2.7 .1-1 0 1.5 0 .2 0 1.2 .1-1.1 0 2.8 0-1.8 .1 1 .1-.9 .1 0 .1-1.6 .1 .5 .1-1.4 0-.2 .1-2 .1 1.5 .1-2.7 .1 1 0-2.2 .1 1.4 0-1.4 .1 .3 0-2 .1 .6 .1-2.8 0 2.4 .1-2.4 .1 1.2 0-3.4 .1 2 0-3.2 .1 2.7 0-3.3 .1 2.7 0-2.9 .1 .6 0-2.5 0 .8 .1-1.3 0-.1 .1-1.1 0 .4 .1-1.5 0 .9 .1-2.2 0 1.5 0-2.6 .1 .6 0-2 .1 2 0-3.4 0 .6 .1-.8 .1 2.5 0-2 .1 3.7 0-2.1 .1 3.6 .1-2.1 0 2 .1-.7 0 2.4 .1-2.3 .1 4.1 0-2.2 .1 2.4 0-.3 .1 1.7 0-1.1 .1 2 .1-1.1 0 2.2 .1-.6 0 2.3 .1-1.1 .1 1.6 0-1.5 .1 2.3 0-.9 .1 2.5 0-1.5 .1 2.5 0-1.6 0-1.3 .1 .2 0-1.5 0 1 0-1.7 0 .5 0-2.1 0 1.4 .1-2.5 0 .3 0-2 0 1.2 0-2.9 0 2.3 0-2.1 0 1 0-2.2 .1 1 0-2.8 0 .8 0-2.4 0 .8 0-2.3 0 1.6 .1-2 0 2.4 0-3.1 0 .3 0-2 0 1.6 0-2.9 .1 2.7 0-3.9 0 .8 0-3.5 0 3.2 0-2.5 0 1.5 .1-3.9 0 2.8 0-4.5 0 2.4 0-2.7 0 1.3 0-2.4 .1 2.4 0-3 0 1.2 0-3 0 2.7 0-4.4 0 2.3 .1-3.1 0 1.3 0-2.4 0 1 0-1.3 0 .3 .1-2 0 1.3 0-2.8 0 2.2 0-4.1 0 2.3 .1-2 0 .8 0-2.1 0 1.5 0-3 0 1.3 0-2.1 .1 1.4 0-2.3 0-.2 0-2.2 0 1.4 0-2 .1 1 0-2.3 .4 1.7 .5-2.2 0 .9 0-3.1 .1 1.7 0-1.7 0 .2 .1-1.1 0 1 .1-2.5 0 1.3 0-2.4 .1 .5 0-2.2 .1 .5 0-1.6 0 .7 .1-1.9 0 1.6 .1-2.5 0 1.1 0-2.2 .1 2.1 0-4.4 .1 2.2 0-2.2 .1 .3 0-2.4 .1 1.4 0-2.7 .1 1.7 0-2.8 .1 3.2 0-3.8 .1 .6 0-2.2 .1 .7 0-2.9 .1 1.8 0-3.2 0 2.9 .1-3.5 .2 3.1 .2-1.5 .2 2.6 .3-1.3 0 1.8 .1-.7 0 2.6 0-1.7 .1 2.6 0-1.4 .1 2.2 0-.6 .1 1.4 0-.6 .1 2.5 0-1.8 0 3.4 .1-2 0 3.3 .1-2.6 0 4.4 .1-2.9 0 2.7 .1-1.2 0 3 .1-.7 0 1.5 .1-1.4 0 1.9 .1-1.3 .1 3.1 0-1.5 .1 2.6 0-1 .1 1.5 .1 1.2 .1 0 0 1.3 .1-1.8 0 .5 .1-2.1 0 .8 0-1.3 .1 1.1 0-2 0 .9 .1-1.9 0 .7 .1-3.6 0 2.1 0-2.2 .1 .3 0-2.8 .1 2.2 0-2.3 0 1.3 .1-2.3 0 1.3 .1-2.4 0 1.5 .1-3 0 .6 .1-1.4 .1 .8 .1-1.6 0-.2 .1-1.2 .1 .5 .1-2.8 0 3 .1-4.4 .1 2.2 0-1.1 .1 1.2 0-.2 .1 1.6 .1-.2 0 2.2 .1-1.1 0 1 .1-.5 .1 2.5 0-1.6 .1 4 0-1.9 .1 1.1 .1-.2 .2 2.1 .3-1.1 .3 3.5 .1-3 .1 3.4 .1-1.3 .1 2.2 .1-2.7 .1 3.7 .1-2.7 .1 3.7 .1-2 .1 3.6 .1-2.2 .1 3.6 .1-1.9 .1 2.6 .1-1.7 0 2.8 .1-1.8 .1 3.1 .1-1.7 .1 2.5 .1-.8 .1 2.2 .1-1.8 .1 1.4 0-2.5 .1 1.7 .1-3.1 .1 1.9 .1-3.2 .1 .8 .1-2.3 0 1.4 .1-2.7 0 1.4 .1-3.5 0 1.8 0-1.6 .1 .6 0-2.4 0 2.1 0-4 .1 2.3 0-2 0 .9 .1-1.9 0 .6 0-2.1 .1 .5 0-2.1 0 .6 .1-1.4 0 2.4 0-4.2 .1 1.8 0-2.1 0 .9 .1-2.7 0 1.3 0-2.4 .1 3.2 .1-2.8 .1 2.7 0-.6 .1 2.6 .1-.9 0 1.6 .1-.7 .1 2.7 0-1.1 .1 2.5 .1-1.9 .1 2.5 0-1 .1 1.8 0-1 .1 2.1 .1-.7 0 2.1 .1-.8 0 1.3 .1 .2 0 1.1 .1-.5 .1 2.2 0-1.4 .1 2.9 0-3.5 0 2.6 .1-3.5 0 2.5 0-2.4 .1 1.1 0-4 0 2.7 .1-3.2 0 3.6 0-4.3 .1 1.6 0-2.4 0 .1 .1-1.9 0 .5 0-1.7 .1 .7 0-1.9 0 2.1 .1-3.2 0 2.9 0-3.4 0 .3 .1-2.2 0 1.4 0-1.9 .1 1.5 0-.4 0 2 0-1 .1 1.6 0-.5 0 1.4 0-.7 .1 2.5 0-1.2 0 1.7 0-1.9 .1 3.5 0-1 0 1.7 0 1.3 .1-.6 0 2.2 0-1.3 0 2.4 .1-1.7 0 2.7 0-.4 0 1.6 .1 .1 0 1 0-.6 0 2.2 .1-1.7 0 2.5 0-.3 0 1.4 .1-.1 0 1.3 0-.2 0 1.5 .1-1.3 0 .5 .1-3.7 0 2.5 0-2.5 .1 2.1 0-2.8 .1 1.8 0-3 .1 1.6 0-2.6 .1 .5 0-1.8 0 2.2 .1-3.8 0 1.7 .1-3 0 .8 .1-2.2 0 1.7 .1-.9 .1 1.7 .1-.8 .1 2.3 .1-.5 0 1.5 .1-1.7 .1 2.8 .1-.4 .1 1.6 .1-1.5 0 .5 .1-2.3 .1 .7 .1-1.4 .1 .4 0-1.8 .1 .1 .1-1.3 .1 .5 .1-1.3 .2 2.2 .2-1.1 .2 2.2 .2-1.8 .2 .4 .1-1.3 .1 .4 .1-3.2 .2 2.8 .1-2.7 .1 1.5 .1-1.6 0 1.9 0-.1 0 2 .1-1.2 0 2.1 .1-1 0 2 0-1 .1 3.2 0-1.7 .1 1.9 0-.8 0 2.1 .1-.4 0 2.3 0-1.1 .1 2.3 0-2.6 0 4 .1-1 0 1.7 0-.9 .1 1.5 0-1.1 .1 3.7 .1-1.4 0 1.6 .1-.6 0 2.3 .1-1.4 .1 2 0-.6 .1 1.8 0-1.6 .1 2.2 0-.3 .1 1.6 .1-.9 0 1.5 .1-2.4 0 1.4 .1-2.7 0 1.7 .1-2.3 0 .7 .1-2.5 0 1.9 .1-3.7 0 1.6 .1-3.7 0 2.2 .1-3 0 2.3 .1-2.5 0 .9 .1-1.4 0 .8 0-2.3 0 .6 .1-1.2 0 .3 0-1.6 0-.2 0-1.4 .1 1.1 0-2.2 0 1.4 .1-3.2 0 1.1 0-2.3 0 2.1 0-3.3 .1 .7 0-2.4 0 2 0-3 .1 3.1 0-3.8 0 2 0-3.1 0 2.2 .1-2.8 0 .8 0-2 .1 1.1 0-3.1 0 1.3 0-2.6 0 1.5 .1-1.8 0 1.7 0-2.7 .1 2.1 0-3.3 0 2.1 .1-4.2 0 1.2 0-2.3 .1 1.4 0-2.3 0 .8 .1-1.8 0 .4 .1-1.3 0-.2 0-2.2 .1 1 0-1.7 0 .6 .1-2.2 0 1.9 0-2.6 .1 1.7 0-2.4 .1 .1 0-1.5 .2 2.9 .1-2.2 .2 2.1 .2-1.2 .2 3.2 0-2.5 0 1.3 .1-2.2 0-1.5 0 .2 .1-1.4 0 .3 0-2.1 .1 .6 0-1.1 0 .3 0-1.5 .1 1.1 0-2.3 0 1.1 .1-2.5 0 .4 0-2 .1 .7 0-2.3 0 1.1 .1-1.9 0 .9 0-1.9 .1 .5 0-1.3 0-.2 0-1.2 .2-.2 .2-2.1 .2 1.4 .1-2 .2 1.1 .1-1.4 .1 .3 0-2 .1 1.7 .1-3.5 .1 1.6 0-3.2 .1 1.2 .1-2.7 0 1.8 .1-2.5 .1 1.4 0-2.1 .1 .6 .1-2.2 0 1.4 0-3 .1 1.3 0-1.5 .1 .2 .1-2.7 0 3.1 .1-2.8 0 .2 .1-1.4 0 1.2 .1-2.3 0 .5 .1-2.4 0 1.5 .1-3.8 .1 2.2 .1-3.1 0 1.3 .1-2.2 .1 1.4 .1-1.8 0 .7 .1-3.4 .1 3.7 0-4.8 .2 3.9 .1-1.6 .1 1.7 .1-.9 .2 3.3 .1-2.1 .1 2.4 .1-1.5 0 3.4 0-1.4 0 2.5 .1-1 0 4.5 0-4.6 .1 3.5 0-1.5 0 3 0-.8 .1 2.3 0-1.2 0 2.4 .1-3.2 0 4.2 0-1.1 .1 1.3 0-.9 0 2.5 .1-1.5 0 3 0-1 0 1.5 .1 0 0 1.9 0-1.4 .1 2 0-.6 .1 2.5 .1-1.7 .1 2.9 0-.9 .1 2 .1-.8 .1 3 .1-2.2 .1 2.4 .1-2.6 0 4.2 0-2.5 .1 3 0-1.1 0 2 .1-.5 0 3.3 0-2.5 .1 2.1 0-1 0 2.1 0-.4 .1 2.2 0-1.3 0 3.3 .1-1.8 0 2.6 0-2.1 .1 2.4 0-.5 .1 2.2 0-2.5 0 4.4 .1-2.2 0 3.6 .1-2.8 0 4.6 0-2.6 .1 1.5 0-.1 .1 1.3 0-1 .1 3.2 0-1.4 .1 2.3 0-1.1 0 1.8 .1-.6 0 2.1 .1-1.2 0 2.4 0-.3 .1 1.4 0-.5 .1 2.5 0-1 0 2.5 .1-2.1 0 4.1 0-3 .1 1.9 0 .2 0 1 .1 .3 0 1.2 .1-.5 0 3.5 0-2.3 .1 2.4 0-2.8 0 3.6 .1-.2 0 1.9 0-1.4 .1 3.2 0-3.8 0 4.8 .1-1.5 0 1.9 .1-.8 0 3.2 0-2.1 .1 2.8 0-1.9 0 3.1 .1-2.1 0 2.2 .1 1.8 0-1.7 .1 2.9 0-.6 0 2 .1-1.2 0 1.8 0-1.3 .1 2.3 0-1.6 0 2.8 .1-1.5 0 2.7 0 1.7 .1-1.9 0 2.5 0-1.2 .1 2.9 0-1.6 0 2.6 0-1.2 .1 2.4 0-1.1 0 2.8 .1-2.2 0 3 0-.5 0 1.4 .1 0 0 1.2 0-.4 0 1.9 0-1.7 .1 3.2 0-.6 0 1.4 0-.9 0 3.5 .1-2.5 0 2.6 0-2.1 0 3.3 .1-1 0 1.9 0-1 0 2.2 0-.1 .1 1.7 0-1.1 0 2.4 0-1.8 0 2.9 .1-.8 0 1.7 0-.8 0 1.8 0-.1 0 2 .1-1.4 0 2.8 .1-2 0 3 .1-1.2 0 3.1 .1-2.3 0 2.2 .1-.5 0 2.1 0-1.6 .1 3.1 0-1.4 .1 2.6 0-2 .1 4.1 0-1.8 0 1.7 .1-.7 0 1.6 .1-2 0 1.4 0-2.4 0-.1 .1-1.2 0 1 0-3.1 .1 1 0-2 0 .8 .1-2.3 0 1.9 0-2.7 .1 1.5 0-4.1 0 2.4 .1-1.7 0 .4 0-2.7 0 1.6 0-2.4 .1 1.5 0-2.4 0 .4 0-1.3 0 1.3 0-2.3 .1 .5 0-1.6 0 .1 0-1.4 .1 1.2 0-3 0 2.1 0-4.6 0 2.3 0-2 .1 .8 0-2.6 0 1.8 0-3 0 1.6 .1-3.8 0 2.7 0-3.5 0 1.6 0-2.6 0 3.5 0-3 .1 .4 0-2.3 .3 1.5 .3-2.8 .3 1.2 0-2.1 0 1.5 0-2.9 0 1.6 0-1.6 0 .6 .1-1.9 0 .9 0-2.8 0 1.1 0-2.9 0 2.7 0-3.4 .1 .7 0-1.5 0 .7 0-2.7 0 1.2 0-2.3 0 2.5 .1-2.7 0 2.7 .1-1.9 .1 2.8 0-1.5 .1 1.6 .1-.7 .1 1.9 .1 .1 0 1.1 .1-2 .1 3.8 0-2.6 .1 2.2 0-1.7 .1 2.4 0-3.3 .1 .4 .1-1.6 0 .7 0-1.9 .1 .2 0-1.9 .1 1 .1-2.4 0 1.8 .1-3 0 2.2 .1-4.2 0 3.8 0-4.2 .1 1.7 0-3.7 0 2.6 .1-4.1 0 2.5 0-2.3 0 .6 .1-1.8 0 .3 0-.9 .1 .9 0-2.5 0 .8 .1-3.4 0 2.6 0-2.6 .1 .3 0-2 0 .9 0-1.8 .1 1 0-1.5 .1-1.4 0 1.1 0-2.1 .1 1.9 0-3.6 .1 1.8 0-.8 .1 2.1 0-1.5 .1 2.7 0-1.1 .1 2.7 .1-1.8 0 2.6 .1-1.5 0 2.3 .1-1.3 0 2.6 .1-.5 .1 3.1 0-2.8 .1 .6 .1-2 .1 .1 0-3.1 .1 2.5 .1-2.9 .1 2.1 0-2.4 .1 .1 .1-1.9 0 1.9 .2-3.3 .1 1.6 .1-2.8 .1 1.7 .2-3.7 .1 2.4 .1-4.1 .2 3.7 .2-1.1 .1 2.1 .2-.2 .2 1.4 .1-2.2 0 .9 .1-1.7 .1 .3 .1-2.3 0 1 .1-1.3 .1 .8 0-2.1 .1 .7 .1-2.1 .1 1.7 .1-3.4 .2 1.3 .1-1.9" clip-path="url(#cd)" stroke="#ff00ff" stroke-width="2.5" fill="none" stroke-linejoin="miter" stroke-miterlimit="2" stroke-linecap="butt"/>
<path d="M399.8 547.2l0 3.8 0-3.4 .1 1.8 0-3.1 0 .5 .1-2.1 0 .8 0-2 .1 .4 0-1.1 0 1.4 .1-3.7 .1 2.3 .1-3.3 .1 1.7 .1-3 .1 1.3 .1-2.8 .1 1.6 .1-1.9 .1 1.2 .1-2.4 .1 1.8 .1-3.3 0 1 .1-2.6 .1 1 .1-2.8 .1 2.5 0-3.1 .1 3.5 .1-4.3 .1 .6 0-1.7 .1 1.1 .1-1.8 .1 1.4 .3-2.9 .3 .6 .3-1.1 .3 0 .2-1 .2-.2 .1-3.3 .2 3.2 .1-2.8 .2 1.3 .1-2 .2 1.5 .1-3 .1 2 .2-4.3 .1 3.3 .1-.8 .1 2.3 .2-1.4 .1 2.8 .1-1.5 .1 3.1 .1-1.9 .2 2.1 .1-.8 0 .9 0-2 .1 1.7 0-2.6 0 1.3 .1-2.8 0 .1 .1-2.1 0 1.8 0-3.4 .1 2 0-2.5 0 2.3 .1-3.5 0 1.4 0-2.6 .1 2 0-2.7 0 1.3 .1-2.3 0 .8 0-2.2 .1 .3 0-3.9 .1 3.4 0-3.6 0 2.4 0-2.1 .1 0 .3-.6 .4 2 .3-1.1 .1 .4 0-1.8 .1 1.9 0-3.3 .1 1.8 0-2.5 .1 .3 0-1.6 0 1.4 .1-2.9 .1 1.2 0-2 0 .7 .1-2.5 0 1.2 .1-3.4 0 2.4 .1-1.9 0 .7 .1-2.6 0 1.1 .1-1.7 0 .6 .1-1.9 .1 1.2 0-3.2 .1 2.4 .1-3.6 0 1.6 .1-2.6 .1 .7 0-1.7 .1 .9 .1-1.9 0 .7 .1-2.7 .1 1.3 0-1.8 .1 1.3 .1-1.9 .1 .4 .2-1.2 .2 1.9 .2-1 .2 2.5 .2-1 0 .8 0-1.3 0 1.3 .1-2.8 0 .7 0-3.5 .1 1.7 0-1.8 0 1 0-3.6 0 2.3 .1-1.6 0 .8 0-2.8 0 1.8 .1-3.8 0 2.1 0-1.7 .1 .9 0-2 0 .4 0-2.1 0 1.1 .1-3.2 0 2.6 0-2.4 .1 .4 0-1.3 0-.1 .1-1.8 0 1.2 .1-1.7 0 .1 .1-1.3 0 .2 .1-2.8 .1 1.5 0-1.8 .1 .7 0-4.7 .1 3.7 .1-1.7 0 .6 .1-1.5 0 1.4 .1-2.9 0 .4 .1-2.5 .1 1.7 .2-2.7 .2 .8 .2-2.1 .2 1.7 .2-1.9 0 1.6 .1-3.7 0 1.2 0-2.8 0 1.5 .1-1.3 0 .6 0-2.3 .1 .5 0-3.2 0 3.4 0-2.9 .1 1.6 0-2.8 0 .1 .1-2.4 0 2.1 0-2.9 .1 3.1 0-5.3 0 3 .1-4.1 0 2.3 0-1.8 .1 .3 0-1.5 .1 .7 0-2.4 .1 1.3 0-2.1 0 2.1 0-1.4 0 1.7 0-.8 .1 2.3 0-1.6 0 4 0-2.9 0 2.7 0-.9 0 2.9 0-1.1 0 2.3 0-3.1 0 4.1 0-1.8 .1 3 0-1.9 0 4.2 0-2.3 0 3.8 0-4.2 0 3.7 0-1.1 0 2.3 0-.5 0 3.5 .1-3.5 0 4.1 0-3 0 2.6 0-.4 0 2.7 0-1.9 0 .9 0-1.8 0 1.6 0-2.8 0 1.8 0-2.3 0 .3 0-2.9 0 2 0-3.2 0 2.4 .1-2.7 0 .8 0-2.9 0 1.8 0-3.1 0 2 0-3.4 0 2 0-3.3 0 2.2 0-2.4 0 .7 0-1.4 0 .2 0-1.4 0 .3 0-1.7 0 .5 0-2 0 1.3 0-3.1 0 1.6 .1-2.3 0 .6 0-2 0 1.1 0-1.8 0 1 0-2.6 0 .7 0-1.5 0 .6 0-2.1 0 2 0-2.5 0 .8 0-2.9 0 .9 0-1.8 0 .5 0-2.4 0 2.3 .1-2.3 0 .6 0-2 0 .4 0-2.1 0 2 0-3.2 0 3 0-4.2 0 2.2 0-2.5 0 2.4 0-.5 0 1.4 0-.8 0 2.3 0-.2 0 2.1 0-1.3 0 2.3 0-.6 0 1.8 .1-1 0 2.7 0-1.5 0 1.8 0-.4 0 2.4 0-1.4 0 2.2 0-.4 0 .9 0 2 0-1.1 0 2.4 0-.9 0 2 0-1.5 .1 2.6 0-.8 0 2.7 0-3.5 0 4 0-1.7 0 2.6 0-.1 0 3 0-2.5 0 1.9 0-1.2 0 2.6 0-1.6 0 2.6 0-.3 0 1.6 0-.9 0 2.7 0-1.9 0 2.2 0-1.3 .1 3.3 0-.6 0 2 0-1.9 0 3.2 0-1 0 1.4 0-2.1 0 1.8 0-3 0 1.5 0-3.2 0 1.3 0-1.8 0 1.3 0-2.1 0 .2 0-1.9 0 1.1 0-1.7 0 .3 .1-2.2 0 1.8 0-3.1 0 2.2 0-2.4 0 .9 0-2.3 0 1.2 0-2.6 0 .3 0-1.7 0 1.2 0-2.5 0 1.1 0-1.8 0 .1 0-1.4 0 1.4 0-3 0 .9 0-2.7 0 1.5 0-2.1 0 1.2 0-3.5 0 2 .1-2.9 0 1.8 0-2.3 0 .6 0-1.8 0 .8 0-2.4 0 1.3 0-2.4 0 1.3 0-2.6 0 .7 0-1.4 0 1 0-2.5 0 1.5 0-2.5 0 1.2 0-2.3 0 1.4 0-2.9 0 1.7 0-2.6 0 .3 0-1.7 0 1.1 0-2.1 0 2.8 .1-3.8 0 .5 0-1.8 0 .7 0-2 0 2.4 0-4.2 0 2.6 0-.8 0 2.2 0-2.2 0 4.5 0-2.4 0 2.1 0-1.5 0 2.5 0-1.3 0 3.6 .1-2.2 0 3.4 0-2 0 3.7 0-1.7 0 1.6 0-1.1 0 2.3 0-1.7 0 2.3 0-.5 0 2.2 0-1.8 0 3.4 0-1.6 0 2.5 0-.3 0 3 0-2.3 0 4.7 .1-2.9 0 2.2 0-1.9 0 2.8 0-1.8 0 2.7 0-.6 0 1.5 0-.5 0 1.6 0-.5 0 3.6 0-2.7 0 2.2 0-1.2 0 3.4 0-2.4 0 3.6 0-2.1 .1 3.8 0-2.8 0 3.3 0-1.2 0 2.2 0-2 0 2.6 0-.3 0 2.2 0-1.4 0 4.7 0-3.9 0 2 0-.6 0 2.2 0-.9 .1 1.7 0-.5 0 2 0-1.1 0 2.2 0-.6 0 2.1 0-.4 0 1.8 0-1.3 0 2.5 0-1.5 0 3.4 0-1.8 0 1.3 0-3 0 1.5 0-3 0 2 0-2.7 0 1.4 0-2.4 0 1.1 0-2.2 0 .8 0-2.6 0 1.5 0-2.6 0 1.4 .1-1.7 0 1.1 0-2.5 0 1.9 0-3.1 0 .6 0-1.6 0 .4 0-1.6 0 1.4 0-2.8 0-.1 0-1 0-.1 0-1.6 0 1 0-2.5 0 1.5 0-3.6 0 2.7 0-3.9 0 1.5 0-2.5 0 1.8 0-1.6 0 .2 0-1.2 0 .1 0-1.2 0 .7 0-3 0 2.7 0-4.5 0 2.6 0-2.4 0 .8 0-1.7 0 .8 0-2.8 0 1.5 0-2.8 .1 1 0-1.5 0 .6 0-1.5 0 .7 0-2.6 0 2.2 0-3.7 0 3.9 0-2.4 0 3.1 0-1.3 0 2 0 2 0-1 0 2 0-.8 0 2.4 0-2.6 0 2.8 .1-1.1 0 2.8 0-1 0 2.5 0-1.1 0 2.8 0-1 0 2.4 0-2.6 0 3.8 0-1.4 0 2.5 0-2.1 0 2 .1-.8 0 2.2 0-.6 0 2.2 0-2 0 3.6 0-3.1 0 4.5 0-1.9 0 3.5 0-1.3 0 2.1 0-1.8 0 2.2 0-.9 0 2.5 .1-.9 0 2.1 0-1.2 0 3.7 0-2.8 0 3.2 0-1.9 0 2 0-.8 0 3 0-2.3 0 3.3 0-1.5 0 2.2 0-.2 0 1.2 0-1 .1 2.4 0-1.6 0 2.9 0-1.2 0 2.7 0-.9 0 1.4 0-1.7 0 .4 0-1.9 0 .9 0-1.7 0 .5 0-1.8 0 .3 0-1.2 0 .7 0-2.2 0 1.7 0-3.1 .1 .7 0-1 0 .3 0-2.7 0 1.4 0-1.3 0-1.8 0 1.8 0-3.2 0 1.3 0-2.2 0 .4 0-1.9 0 .4 0-1.5 0 1 0-2.3 0 1.8 0-2.7 0 .6 0-2 0 1.1 0-3 0 1.7 0-2.5 0 1.1 0-2 0 .6 0-1.3 0-.2 .1 .1 0 2.7 .1-1.5 0 1.3 0-.1 .1 1.2 0-.9 .1 2.5 0-2 0 3.8 .1-1.3 0 2.3 0-1.1 .1 2.3 0-1.7 .1 2.2 0-.4 0 1.5 0-1.9 .1 3.3 0-.3 0 1.4 0-.8 .1 1.7 0-.8 0 1.9 .1-.8 0 1.9 0-.4 0 2 0-1 .1 2.1 0-.4 0 1.7 .1-.8 0 2.1 0-.5 0 2.7 .1-2.1 0 3.3 0-1.3 0 2.8 0-2 0 2 0-1.5 .1 3.2 0-1.2 0 2.5 0-1.6 0 3.1 .1-1.8 0 1.8 0-.8 0 2.1 0-2.3 0 .9 0-1.3 0 1.2 .1-3 0 2.5 0-2.8 0 1.1 0-2.6 0 .4 0-2.8 0 1.3 0-2.6 .1 1.5 0-3.3 0 3.4 0-3.7 0 2.3 0-2.6 0 .7 0-2 0 .3 0-1.9 .1 1.5 0-2.3 0 1.1 0-2.6 0 1.2 0-1.9 0 2.4 0-1.1 0 2.6 0-1.7 0 2.4 .1-.9 0 1.7 0-.7 0 1.6 0-1 0 3.2 0-2.5 0 4.5 0-2.9 .1 3 0-1.6 0 2.3 0-2.1 0 3.2 0-1.7 0 3.1 0-.7 0 2 0-1.1 0 3 .1-2.7 0 4 0-2.9 0 3.5 0-2.7 0 .9 0-1.6 0 .9 0-2.1 0 .2 0-2.1 0 1.1 0-2.3 0 1.3 .1-3 0 1.8 0-2 0 .5 0-1 0 .3 0-2.8 0 1.8 0-2 0 .1 0-1.3 0 .8 0-2.1 0 1 0-2.5 0 1.7 .1-3.7 0 1.1 0-1.9 0 1.7 0-2.6 0 .8 0-2.3 0 1.9 0-2.1 0 .6 0-2.3 0 1 0-2.5 0 1.1 0-3.3 0 2.2 0-2.6 0 1.3 .1-2.2 0 1.9 0-2.8 0 3.1 0-5.4 0 2.9 0-1.6 0 4.2 0-2 0 2.4 0-1.1 0 3.8 .1-2.9 0 2.9 0-1 0 2.7 0-1.5 0 2.2 0-1.4 0 1.7 0-1.7 0 4.3 0-3.9 0 5.1 .1-2.8 0 3.7 0-1.8 0 2.3 0-1.2 0 3.4 0-2.9 0 2.7 0-2 0 2.8 .1-.1 0 1.3 0-.7 0 2.8 0-2.5 0 4.1 0-1.6 0 1.9 0-.7 0 1.4 0 .2 .1 1.4 0-.3 0 1.2 0 .1 0 2.2 0-1.3 0 1.7 0-.2 0 1.6 0-1.8 0 1.3 0-2.5 .1 .2 0-2.4 0 1.4 0-1.5 0 .1 0-2.1 0 1.3 0-3.4 0 2.7 0-4.1 0 2.2 .1-2.6 0 1 0-1.5 0 1.4 0-2.6 0 1.8 0-3 0 .2 0-2.2 0 1.6 0-2.1 0 1.3 .1-1.7 0 .3 0-3.4 0 2.3 0-1.7 0 .2 0-2 0 1.1 0-2 0 .1 0-1.6 0 .3 .1-.9 0 1.6 0-3.2 0 2.2 0-3.6 0 .8 0-2.3 0 .8 0-1.7 0 .6 .1-1.9 0 1.1 0-.8 0 2.4 0-1.8 0 2.2 0-1.2 0 2.1 0-1.9 0 4 0-1.1 0 3 .1-1.8 0 2.7 0-1.5 0 3.1 0-2 0 2.4 0-.9 0 1.7 0-.2 0 1.1 0-.9 .1 2 0-2 0 5.5 0-3 0 3 0-1.9 0 2 0 1.5 0-.5 0 2.8 0-1.3 .1 1.6 0-.6 0 1.8 0-1.1 0 3.1 0-1.8 0 1.7 0-1.2 0 3.2 0-2.5 .1 3.9 0-.9 0 1.5 0-2.2 0 3.7 0-1.1 0 1.8 0-1.3 0 .5 0-2.7 0 1.3 0-2.7 .1 .9 0-1.3 0 .2 0-1.8 0 1.1 0-1.6 0 1.2 0-2.8 0 1 0-1.9 0 .2 0-1.3 0-2.9 .1 1.9 0-1.6 0 .5 0-2.1 0 1.3 0-2.1 0 1.4 0-2.9 0 1.3 0-2.2 0 .4 .1-2.3 0 1.6 0-3.6 0 2.3 0-1.7 0 .6 0-2.1 0 .6 0-2.4 0 2 0-2.6 0 .9 0-2.4 0 1.5 .1-2.1 0-1 0-1.7 0 1.2 0-2.5 0 1.5 0-3.1 0 2.5 0-2.8 0 3.6 0-3.8 .1 4.6 0-1 0 2.7 0-2.2 0 3.3 0-1.8 0 2.3 0-.8 0 1.5 0-1.3 0 3.1 .1-2.5 0 4.3 0-2 0 2.8 0-1.1 0 1.9 0-.6 0 3.7 0-2.7 0 2.9 0-1.3 0 1.8 0-1 .1 2.1 0-1.6 0 2.5 0-.4 0 1.6 0-.6 0 3.1 0-1.9 0 1.7 0-.9 0 3.6 .1-1.9 0 2.4 0-2.4 0 3.2 0-2 0 3.6 0-2.1 0 2.1 0-.7 0 2.3 0-.6 0 1.9 0-.4 0 1.7 .1-1.3 0 2.2 0-1.4 0 .6 0-2 0 .5 0-1.5 0 .5 0-2.3 0 .9 .1-1.7 0 2.1 0-4.4 0 2.7 0-2.7 0 1.7 0-2.9 0 .7 0-1.9 0 1.1 0-2.7 .1 1.4 0-3.7 0 1.7 0-1.6 0 .4 0-1.7 0 .9 0-2.8 0 2.2 0-3.1 0 .9 0-1.4 .1 .7 0-1.9 0 .4 0-2.9 0 2.5 0-2.9 0 1.5 0-1.8 0-1.4 .1-.1 0-.8 0-1.2 0 .2 0-1.6 0-.1 0-1.3 0 1.4 0-.2 0 1.2 0-1.3 0 2.6 0-1 0 2.6 .1-.8 0 2.5 0-1.7 0 2.9 0-1.2 0 2.1 0-.6 0 1.3 0-.6 0 2.7 0-2.2 0 2.8 0-.3 0 1.6 0-.9 0 1.9 0-2.1 .1 3 0-.8 0 3.1 0-1.2 0 1.8 0-.5 0 1.5 0-2.3 0 3.2 0 .1 0 1.9 0-2.3 0 3.2 0-1.5 0 2.3 .1-.9 0 2.5 0-1.3 0 3.1 0-1.7 0 3 0-2.3 0 5.7 0-6.1 0 3.6 0-2.5 0 1.7 0-3.3 0 2.4 0-3.1 .1 2.2 0-5.4 0 3.6 0-3.2 0 2.2 0-2 0 .3 0-1.5 0 2.1 .1-4 0 1.4 0-2.5 0 1.5 0-2.6 0 2.7 0-3.6 0 1.6 0-2 0-.1 0-1.2 .1-.1 0-1.1 0-.3 0-1.2 0 1 0-2 0 3.4 0-.8 0 3.1 0-2.5 .1 4.1 0-2 0 2.9 0-1.4 0 2.2 0-1.5 0 3.5 0-1.9 0 2.4 0-.9 0 1.5 .1-.4 0 1.7 0-.4 0 2.1 0-2.2 0 2.9 0-.5 0 1.8 0-.5 0 1.7 0-1.8 0 2.6 0-.2 .1 1.5 0-.3 0 2.5 0-1 0-.2 0-1.4 0 1.8 0-3.1 0 2.3 0-3.5 0 1 0-2.1 .1 .3 0-1 0 .3 0-2 0 1.2 0-2 0 .5 0-2 0 1 0-2.8 0 1 0-1.7 0 .4 0-1 0 1.4 0-3.2 0 1.9 .1-2.9 0 .4 0-1.5 0 .1 0-1.8 0 .9 0-2.1 0 2.3 0-3.3 0 1.7 0-2.3 0 .5 0-2.3 0 .9 0-3.2 .1 1.9 0-2.7 0 1.5 0-3.3 0 3.5 0-1.9 .1 4.4 0-3 0 2.9 .1-.5 0 1.6 0-.6 .1 2.2 0-2.2 0 3.7 0-.8 .1 1.8 0-.7 0 1.1 .1-.2 0 2 0-.9 .1 1.6 0-.7 0 2.4 0-.7 .1 2.8 0-2.2 .1 2.6 0-.8 0 3.4 0-1.9 .1 1.6 0-.3 0 2.9 .1-1.4 0 2 0-1.8 .1 2 0-.2 0 1.4 0 .1 .1 1.3 0-.7 0 2.4 .1-1.3 0 2 0-.3 .1 1.3 0-.2 0 2.8 .1-1.9 0 1.9 0-.2 .1 1.6 0-.2 0 2.3 0-1.1 .1 2 0-.5 0 1.5 .1-.7 0 2.8 0-2.8 0 3.4 .1-2 0 3.1 0-2.2 0 2.5 .1-.4 0 2.1 0-.6 .1 1.5 0 1 .1 .2 0 1.3 .1-.2 0 2 .1-2.3 0 2.9 .1-.2 0 2 .1-.9 0 1.9 0-1.1 .1 1.9 0-2.3 .1 3.8 0-1.5 .1 2.5 0-1.2 0 2.5 .1-1.4 0 2.9 0-1.6 .1 2.2 0-1 0 2.8 0-1.8 .1 3.2 0-1.9 0 3.1 .1-1.2 0 1.5 0-1 0 3.1 .1-2.1 0 2.7 0-1.6 .1 2.5 0-.7 0 1.6 .1-.8 0 2.1 0-.3 0 1.8 .1-.9 0 1.7 0-1.3 .1 3.1 0-.5 0 1.9 .1-.9 0 2.7 0-1.2 .1 2.6 0-1.9 .1 3.2 0-2.4 0 2.4 .1-.9 0 1.7 .1-.6 0 2.8 0-1.4 .1 1.9 0-.2 0 2.4 .1-2 0 2.3 0-1 .1 2.3 0-.6 0 2.1 .3-1 .2 2.2 .2-2 .3 2.4 .2-1.6 .1 2.4 .1-4 0 2.6 .1-2.5 .1 1.4 0-2.8 .1 1.5 .1-3.5 0 3 .1-4.3 .1 1.9 0-1.8 .1 1.2 .1-3.3 0 2.1 .1-3.2 .1 2.3 0-1.9 .1 0 0-1.8 0 1.2 .1-2.1 0 1 .1-3.2 0 1.3 0-2.2 .1 2 0-3 .1 .5 0-1.7 0 1 .1-1.4 0-.1 .1-1 0 .8 0-2.8 .1 2.3 0-3.9 .1 2.1 .1-2.9 .2 .7 .2-2 .2 .9 .1-1.5 .1 1.8 0-.4 0 3 .1-2.8 0 5.2 0-5 0 5.6 .1-3.6 0 2.5 0-.6 .1 2.1 0-.8 0 3 .1-1.3 0 1.8 0-.5 .1 2 0-2.6 0 3.6 0-1.1 .1 1.9 0-.5 0 1.6 .1-1 0 2.6 0-2.3 .1 2.9 0-.9 0 2.4 0-1.2 .1 2.8 0-1.1 .1 2.7 0-1.4 0 1.9 .1-1.5 0 3.6 0-1.6 .1 2.5 0-.8 .1 2.5 0-1.9 0 3.3 .1-1.9 0 2.9 0-1.6 .1 2.1 0-1.2 0 2.1 .1-.2 0 1 .1-1 0 2.9 .1-1.2 .1 2.5 .1-1.6 0 2.8 .1-1.2 .1 2.4 .1-.6 .1 1.4 .1-1.2 .1 2.4 0-.6 .1 2.4 0-1 0 2.1 .1-1.8 0 2.8 .1-1.4 0 1.9 .1-.6 0 1.4 0-.5 .1 1.9 0-.3 .1 1.7 0-.3 .1 2.8 0-1.5 0 2.3 .1-1.8 0 2.4 .2-2 .2 .7 .2-1.2 .1 .7 0-2.7 .1 1.1 0-1.9 .1 .3 0-1.6 .1 .5 0-1.8 .1 1.2 0-2.5 .1 .4 0-.9 .1 .4 0-1.9 .1 1.3 0-4.1 .1 3 .1-2.8 0 1.6 .1-3.9 .1 3.5 .1-3.2 0 .2 .1-1.6 .1 .1 .1-2.3 0 .8 .1-2.7 .1 1.5 0-.1 .1 1.7 0-.8 .1 3.1 0-2.1 0 2.6 .1-1.3 0 2.6 .1-.9 0 3.4 .1-2.4 0 3.4 0-1.7 .1 1.3 0-.9 .1 1.7 0-1.1 .1 2.5 0-.9 .1 2.7 0-2.9 0 .9 .1-2.2 0 1.1 0-2.6 0 1.3 .1-2.4 0 1.3 0-2.2 .1 2.3 0-3.4 0 1.4 .1-4.5 0 2.8 0-2.1 .1 1.2 0-2.1 0 .9 .1-2.4 0 .7 0-2.9 .1 2.2 0-3.2 0 1.6 .1-1.9 0 .5 0-1.5 .2 1.1 .2-2 .1 1.8 .2-3.8 .2 2.6 .1-3.3 0 .7 .1-1.6 0 .5 .1-2.5 .1 2.2 0-3.5 .1 2.4 0-2.7 .1 1.5 0-2.6 .1 1.9 .1-4.1 0 1.9 .1-3.7 0 2.8 0-3 .1 3.2 0-3.8 0 .6 .1-2.7 0 1.1 0-1.1 0 .1 .1-2.7 0 2 0-1.9 .1 .7 0-1.7 0-.2 .1-1.1 0 1.5 0-3.4 .1 1.3 0-3.6 0 1.7 .1-1.6 0 .8 0-2 0 .9 .1-2.2 0 1 0-2.6 .1 1.7 0-2.3 0 .8 .1-2.3 0 1.8 0-3.5 0 2.6 .1-3.4 0 1.1 0-2.2 .1 1.1 0-2.7 0 1.9 0-2.8 .1 .6 0-1.8 0 2.2 .1-3 0 .2 0-1.3 .1 .7 0-3.2 0 4 0-3.8 .1 1 0-2.4 0 .9 .1-3 0 2 0-3.5 .1 1.9 .1-1.8 0 .8 .1-2.1 .1 1 0-2 .1 .3 .1-1.7 0 .8 .1-1.7 .1 1.7 0-4 .1 1.9 .1-1.9 0 3.9 0-3.1 .1 3.4 0-.8 0 2.1 .1-1.7 0 3 .1-1.6 0 3 0-1.4 .1 4 0-3.2 0 2.7 .1-1.3 0 2.1 0-1.5 .1 2.5 0-1.4 .1 4.7 0-3.3 0 2.7 .1-2.1 0 3.7 .1-1.6 0 1.6 .1-.7 0 2.2 0-.2 .1 2 0-1.8 .1 3.2 0-1.7 .1 2.1 0-.7 0 2.1 .1-1 0 1.9 .1-.7 0 1.7 .1-1 0 2.6 .1-1.3 0 .9 0-2.1 .1 1.5 0-2.5 0 2.1 0-2.7 .1 1.3 0-3.1 0 .8 .1-2.2 0 1.8 0-2.9 0 1.6 .1-3.1 0 1.9 0-3.1 .1 .8 0-1.7 0 .7 .1-1.8 0 1 0-2.9 .1 2 0-4.1 0 2.3 .1-2.3 0 1.2 0-2 0 .7 .1-2.5 0 1.8 .1-2.5 0 .8 .1-2.1 0 1.3 .1-3.5 .1 1.7 0-1.5 .1-1.4 0 .3 .1-1.2 .1 1.3 0-2.4 .1 .4 0-2.5 .2 1.8 .2-.7 .2 1.8 0-.5 0 2.3 0-1.1 0 3 0-1.3 0 2 .1-2.2 0 4.3 0-2.5 0 3.7 0-2 0 3.2 0-2.4 0 1.7 0-.4 0 2.5 0-.6 .1 1.7 0-.6 0 1.7 0-1.4 0 3.1 0-1.6 0 3.5 0-1.9 0 2.9 0-1.4 .1 2.4 0-1.7 0 2 0-1.3 0 2.4 0-1.6 0 3.4 0-1.2 0 3.2 0-2.3 0 2.8 .1-1.9 0 2.3 0-.7 0 2.5 0-.6 0 2 0-1.4 0 3.3 0-1.5 0 1.5 .1-1.5 0 3 0-1.5 0 2.2 0-2 0 4 0-2 0 2.7 0-1.7 0 2.5 0-1.2 0 2.2 .1-1.1 0 2.4 0-.8 0 1.5 0-2.1 0 2.6 0-3.4 0 1.1 .1-2.3 0 .1 0-3.5 0 2.2 0-1.8 0 2.5 0-4 0 1.8 .1-3.6 0 1.7 0-1.4 0 .6 0-1.6 0 2.5 0-4.4 0 2.3 0-3.6 0 1 .1-2.3 0 1.3 0-3.7 0 2 0-1.3 0 .3 0-1.8 .1 .5 0-3 0 2 0-2.2 0 1.9 0-3.6 0 1.5 0-3 0 2.5 0-3.2 .1 1.7 0-2.2 0 1 0-1.8 0 1.4 0-2.6 0 .4 0-1.4 .1 .1 0-2.7 0 2.5 .1-3 0 .9 0-2.3 .1 .4 0-1 0-.1 .1-1.5 0 .3 0-.9 .1 .1 0-1.4 .1 1.1 0-2.8 0 .4 .1-2.2 0 1.7 0-2 0 .7 0-1.6 0 1.1 .1-4.8 0 3.3 0-2.7 0 .8 0-2.7 .1 2.3 0-2.8 0 1.5 0-4.2 0 2.1 0-3.1 .1 2.4 0-2.5 0 1.1 0-2.3 0 2.1 0-3.7 .1 2.3 0-4 0 2.2 0-3.1 0 1.3 .1-3.2 0 2.6 0-1.6 0 .2 0-2 .1 1.5 0-2.6 0 2.4 .1-4.5 0 1.9 0-3 0 1.6 .1-2.4 0 2.8 0-3.6 .1 .7 0-1.4 0 .9 .1-2.3 0 .8 0-1.9 0-.1 .1-1.8 0 .8 0-1.4 0-.1 0-1.4 -.1 .4 0-1.7 0 .6 0-2.5 0 1.6 0-2.7 -.1 2.4 0-2.9 0 .1 0-1.1 0 .5 0-1.5 -.1-.1 0-2.4 0 1.4 0-2.3 0 1.5 0-3.2 -.1 2.2 0-2.7 0 .6 0-1.4 0 1.3 0-2.6 0 .3 -.1-1.6 0 .8 0-2 0 .2 0-1.8 -.1 1.7 0-3.2 0 2.6 0-1.7 .1 3.5 0-2.1 0 3.1 0-.7 0 1.9 0-1.3 0 2.3 0-.8 0 2.1 0-1.5 .1 2.3 0-1.2 0 2.2 0-1.4 0 2.6 0-.9 0 2.1 0-2.8 0 4.1 0-1.6 0 3.3 0-1.7 0 2.5 .1-1.9 0 2.8 0-.9 0 2.2 0-.1 0 2 0-1 0 1.7 0-1.7 0 2.6 .1-.8 0 2 0-1.5 0 3.4 0-1.7 0 4.2 0-3.4 0 2.9 0-1.4 0 2.5 0-1.5 .1 4.2 0-2.8 0 2.4 0-1.8 0 .3 0-1.1 0-1.6 0 .1 0-1.4 0 1.4 0-2.7 0 .7 0-1.8 .1 1.2 0-2.8 0 1.2 0-2.3 0 1.1 0-1.8 0 .3 0-1.5 0 .6 0-2.5 0 1.3 0-3.3 .1 2.6 0-2.1 0 1.6 0-3.4 0 1.7 0-5.3 0 3.5 0-2.8 0 1.8 0-2.5 0 .7 0-1.3 0-.2 0-1.5 .1 1.3 0-3.8 0 2.6 0-3.3 0 1.6 0-3.8 0 2.3 0-3.8 0 2.8 0-3.6 0 2.2 0-2 0 .5 .1-3 0 1.9 0-1.3 0 .6 0-1.8 0 .2 0-1.8 0 .6 0-.3 0 1.8 0-.5 0 1.3 0-.2 .1 2.6 0-1.9 0 2.2 0-.7 0 2.5 0-1.7 0 2.4 0-.6 0 2.6 0-1.6 0 1.8 0-.5 0 1.7 0-.5 0 1.4 0-.5 .1 3 0-1.8 0 1.6 0 1.6 0-.2 0 1.1 0 .1 0 1.9 0-.9 0 2 0-1.8 0 3.3 .1-.9 0 2.5 0-1.3 0 1.5 0-1.3 0 2.4 0-1 0 2.2 0-1 0 4 0-2.3 0 1.9 0-.8 0 1.7 0-.3 0 1.6 .1 0 0 1.3 0-.3 0 3 0-2 0 2.8 0-3.1 0 3.1 0-1.8 0 2.7 0-.2 0 1.9 0-1.1 .1 .6 0-1.7 0 1.8 0-2.5 0 1 0-2.2 0 .2 0-2 0 .7 0-1.2 0 .3 0-2 0 1 0-1.7 0 .5 0-4.2 0 3.1 0-1.6 0 1.1 .1-3.2 0 1.4 0-3.5 0 2.3 0-2.3 0 .6 0-1.9 0 1 0-2.3 0 1.4 0-2.3 0 .5 0-1.2 0 .5 0-1.6 0 .1 0-2.3 0 .8 0-2.2 0 1.9 0-3.7 .1 3.2 0-2.8 0 2 0-3.6 0 1 0-1.9 0 1 0-2.2 0-2.1 0 2.3 0-2.8 0 .9 0-2 0 .3 0-2.3 0 1.9 .1-3.6 0 2.4 0-1.8 0 .6 0-2.6 0 1 0-2.6 0 1.5 0-1.8 0 1 0-2.3 0 1 0-3 0 1.5 0-2.7 0 2 0-3 0 1.5 0-2.9 0 1.4 0-3.1 .1 2.6 0-4.2 0 3.3 0-2.5 0 .2 0-.3 0 2.7 0-2.1 0 2.5 0-1.1 0 1.6 0-1 0 3.7 0-2.8 0 3.5 0-2.3 0 3.4 0-1.4 0 2.6 .1-.9 0 1.7 0-.8 0 2.1 0-.8 0 1.7 0-.9 0 2 0-.9 0 2.1 0-1.3 0 2.4 0-1.3 0 2.3 0-.4 0 2.4 0-1.4 .1 3.2 0-2 0 3.2 0-1.4 0 1.7 0-1 0 3.2 0-1.9 0 2.7 0-1.2 0 2.4 0-1.3 0 2.9 0-1.9 0 1.9 0-1.3 0 2.9 0-1.6 0 3.4 0-2 .1 2.5 0-1 0 2.5 0-1.6 0 3 0-2.3 0 3.7 0-2 0 2.1 0-.3 0 1.3 0-1.4 0 3.4 0-.6 0 2 0-1.1 0 2.2 .1-2.1 0 4.2 0-2 0 1.6 0-.6 0 1.6 0-.4 0 1.7 0-.2 0 3 0-1.6 0 1.6 0-.7 0 1.5 0-1.9 0 2.6 0-2.1 0 .5 0-2.2 0 .6 0-1.8 0 1.7 .1-2.7 0 .6 0-2 0 .5 0-1.2 0 1.3 0-2.4 0 2.9 0-4 0 1.1 0-3.8 0 2.1 0-3.9 0 2.8 0-2.4 0 .8 0-2.5 0 1.6 0-1.9 .1 .5 0-3 0 1.8 0-2.6 0 1.3 0-2.6 0 2.4 0-3.8 0 1.3 0-2 0 .5 0-1 0 .5 0-2.9 0 1 0-1.7 0 .5 0-1.2 0 .8 0-3 0 1.7 .1-2.7 0 .7 0-.8 0-1.4 0 .2 0-1.5 0 .9 0-2.2 0 1.1 0-2 0 1.3 0-3.1 0 1.3 0-2.2 0 .1 0-1.4 0 .3 0-2.5 0 1.6 0-2.2 0 1.2 0-3.7 .1 2.8 0-2.5 0 .7 0-1.2 0 .9 0-2.3 0 1.7 0-3.1 0 .1 0-1.4 0 .6 0-1.4 0-1.9 0 .7 0-1.2 0 .5 0-2.1 .1 1.3 0-3.8 0 3.3 0-2.7 0 1.3 0-.4 0 1.6 0-1 0 2.1 0-1.3 0 2.8 0-.8 0 2 0-.8 0 1.7 0-.9 0 3.3 0-2.6 0 3.4 0-2.3 0 4 0-1.8 0 2.5 .1-1 0 1.5 0-1.4 0 2.4 0-2 0 3.4 0-.8 0 1.6 0-.7 0 1.9 0-.7 0 3.3 0-2.1 0 2.3 0-1.7 0 3.4 0-1.4 0 2.6 0-.9 0 2.3 0-1.1 .1 1.8 0-.9 0 2.3 0-.9 0 1.6 0-.7 0 2.6 0-.9 0 1.4 0-.6 0 2.7 0-1.7 0 3.6 0-2.6 0 3.1 0-1.2 0 1.4 0-.2 0 2.3 .1-1 0 1.1 0-1.6 0 3 0-1.7 0 4.2 0-1.4 0 2.2 0-1.7 0 1.9 0-.5 0 2.2 0-1.7 0 4.7 0-2.9 0 1.7 0-.8 0 2 0-.2 0 2.6 0-2 0 3 0-1.2 .1 2.1 0-1.1 0 2.5 0-2.2 0 2.7 0-1.4 0 4.2 0-1.8 0 2.1 0-1.7 0 1.6 0-1.7 0-1.5 0 .8 0-2.1 0 .5 0-2.1 0 1.1 0-2.2 .1 1.6 0-2.6 0 .6 0-1.3 0 .2 0-1.8 0 .6 0-1.5 0 .9 0-2.7 0 1 0-1.7 0 1 0-2.6 0 .5 0-2.7 0 1.6 0-2.1 0 2.4 0-2.9 0 .5 0-2.2 0 1.3 0-2.4 0 1.6 0-2.7 .1 .9 0-3.2 0 2 0-1.6 0 1 0-3 0 1.2 0-2.9 0 1.7 0-3 0 1.8 0-2.3 0 1.1 0-1.8 0 1.6 0-2.7 0 .9 0-2 0-1.7 .1 1.1 0-3.3 0 2.6 0-2.7 0 1.1 0-3.4 0 3 0-3.5 0 1.1 0-2.2 0 .5 0-1 0 .9 0-1.9 0 1.9 0-3.2 0 .1 0-1.8 0 1.4 0-2.6 0 2.5 0-3.8 0 .9 0-2.1 .1 .5 0-1.4 0 .1 0-2.6 0 2.5 0-3.9 0 2 0-4.1 0 2.8 0-3.8 0 3.3 0-3 0 1.8 0-2.4 0 .9 0-2.1 0 .6 0-2.7 0 1.4 0-2.8 0 3.1 0-1 0 2.3 0-.7 0 1.2 .1-1 0 2.4 0-.4 0 1.5 0-.4 0 1.9 0-.4 0 2.1 0-.9 0 1.1 0 .2 0 1.8 0-.5 0 1.6 0-.6 0 1.4 0-.3 0 1.7 0-1.3 .1 2.5 0-.8 0 1.8 0-1.7 0 3.1 0-.7 0 2 0-.8 0 2 0-1 0 2.1 0-.7 0 1.4 0-.9 0 3 0-1.1 0 1.7 0-.6 0 2.1 0-1.1 0 2.1 0-.4 0 2.2 0-.9 .1 2.5 0-3.1 0 3.2 0-.1 0 1.3 0-.2 0 1.5 0-1 0 2.3 0-1.5 0 3 0-.8 0 1.4 0-.5 0 2.4 0-1.1 0 3.5 0-2.4 0 1.8 0-.2 0 1.7 0-.2 .1 1.1 0-1.1 0 2.2 0-.5 0 1.8 0-.4 0 2.3 0-1.5 0 1.7 0 2.5 0-1.9 0 2 0-.5 0 2.6 0-.9 0 1.7 0-.4 0 1.6 .1-1.4 0 2.8 0-.8 0 2.3 0-1.1 0 2.5 0-2.5 0 .9 0-2.1 0 .1 0-1.2 0 .7 0-1.9 0-1.7 0 1.6 0-2.6 0 1.2 0-2.3 0 1.2 0-2.6 0 .5 0-3.1 0 2.2 0-1.8 0 .7 0-1.8 0 .6 0-2.4 0 .8 0-1.9 0 .4 0-2 0 1.8 0-3.3 0 2.4 0-3.2 0 1.7 0-2.3 0 .4 0-1.8 0 .5 0-1.5 0 .4 0-1.3 0 .8 0-3.4 0 2.3 0-3.6 0 3.4 0-3.5 0 2.5 0-3.8 0 1.1 0-2.3 0 .3 0-2.2 0 2.3 0-3.9 0 2.3 0-3 0 1.4 0-1.8 0 .6 0-1.8 0 .5 0-2.4 0 1.8 0-4.6 0 3.5 .1-3.1 0 1.3 0-1.9 0 .2 0-2.9 0 2.1 0-2.7 0 3.1 0-3.8 0 .4 0-2.2 0 2.7 0-4.3 0 1.6 0-2.6 0 2.1 0-2.4 0 .8 0-2.6 0 1.6 0-3.3 0 1.5 0-1.4 0 1.6 0-2.4 0 1 0-2.9 0 1.5 0-2.9 0 .6 0-1.5 0 .3 0-1.3 0 .3 0-2.5 0 1.2 0-1.7 0 .9 0-1.6 0 .2 0-1.9 0 .7 0-2 0 .7 0-1.6 0 1.3 0-2.6 0 .6 0-2.2 0 1 .1-1.4 0 .5 0-2.6 0 1.7 .1-3.4 0 1.8 0-2 .1 .2 0-1.6 0 .9 .1-1.8 0 .7 0-1.6 0 .6 .1-2.3 0 1.6 0-3.1 .1 2 0-2.6 0 2.6 .1-1.9 0 3.4 0-2.8 .1 3.1 0-1.1 0 1.4 .1-.5 0 2.1 0-.9 0 2.4 .1-1.6 0 2.8 0-1.2 .1 2.1 0 1.4 .1-1.4 0 2.8 0-1.7 0 2.7 0-1.3 0 2.2 0-.5 0 1.9 0-.4 0 2.4 0-1 0 2.4 0-1.2 0 3 0-2 0 1.4 0-.8 0 2.6 0-2.3 0 3.9 0-1.7 0 2.9 .1-1.2 0 3.1 0-2.4 0 2.5 0-1.5 0 3.1 0-.9 0 1.4 0-.6 0 2.1 0-1.9 0 3 0-1.5 0 2.7 0-.8 0 1.7 0-.4 0 2.4 0-.9 0 2.3 0-1.2 0 1.8 0-1.1 0 2.8 0-1.8 0 2.6 0-.6 0 1.1 0-.8 0 2.6 0-1.6 0 2.6 0-.9 0 3.1 0-2.4 0 2.4 0-.7 0 2.1 .1-.6 0 2 0-.8 0 1.9 0-1 0 2.2 0-1.1 0 2.6 0-1.2 0 2.4 0-.7 0 1.4 0-1.2 0 2.5 0-.4 0 2.1 0-.6 0 3.2 0-3.2 0 2.4 0-1 0 2 0-.2 0 1.9 0-.8 0 2 0-.1 0 2 0-2 0 2.6 0-.5 0 2 0-1.1 0 1.7 0-.2 0 2 0-.9 0 2.5 0-2.2 0 4.5 0-3.6 .1 2.7 0-1.1 0 2 0-.5 0 1.9 0-1 0 2.6 0-.6 0 2.3 0-2.3 0 1.7 0-2.7 0 1.9 0-2.2 0 .7 0-2.2 0 .9 0-1.7 0 1.3 0-2.7 0 1.8 0-2.9 0 1.7 0-3.2 0 .9 0-2.9 0 2 0-1.8 0 1.8 .1-3.1 0 .7 0-3.1 0 1.6 0-2.6 0 1.3 0-3.4 0 2.1 0-1 0 .3 0-1.8 0 1.1 0-2.6 0 .5 0-2.4 0 2.2 0-4.1 0 3 0-2.8 0 .6 0-2.2 0 1.6 0-2.2 0 1.5 0-4.1 0 2.2 0-2.7 0 1.2 0-2.3 0 1.9 0-3.3 0 1.1 0-2.4 0 1.2 .1-1.2 0-.2 0-.9 0-.1 0-1.8 0 1.2 0-2.1 0 .2 0-2 0 1.4 0-3.4 0 2.2 0-2.5 0 1 0-1.8 0 .6 0-2.1 0 .9 0-4.8 0 3.7 0-2.1 0 2.8 0-3.4 0 .2 0-1.5 0 .6 0-1.6 0-.1 0-1.5 0 .4 .1-1.9 0 1.2 0-3.2 0 1.3 0-3.1 0 3.2 0-.8 0 2 0-.6 0 1.7 0-1.7 0 3.2 0-.9 0 2.6 0-1.2 0 2.3 0-.6 0 2.2 0-1.9 0 3.2 0-2 .1 3.5 0-1.5 0 2 0-1.2 0 2.3 0-1.2 0 2.3 0-.4 0 1.5 0-.5 0 2.8 0-1.8 0 1.7 0-.9 0 1.9 0-.8 0 2.2 0-.8 0 2.5 0-1.8 0 2.7 0-1.1 0 2.3 0-1 .1 3.5 0-3 0 3.7 0-1.2 0 2.2 0-1.1 0 1.7 0-1.9 0 3.6 0-1.8 0 3.5 0-2.3 0 2.6 0-1.7 0 3.7 0-2.1 0 3.7 0-3.5 0 4.9 0-3.2 .1 2.7 0-.3 0 1.6 0-.4 0 1.7 0-.2 0 1.6 0-1.4 0 2.6 0-1.2 0 2.8 0-1.1 0 2.6 0-2 0 2.3 0-1.9 0 2.8 0-1.9 0 3.9 0-1.6 0 2.1 0-.1 0 1.6 0-.5 .1 2.1 0-.5 0 1.8 0-1 0 2.3 0-1.1 0 2.5 0-1.5 0 2.3 0-1.8 0 3.1 0-2.6 0 4.1 0-3.6 0 2.7 0-3 0 1.5 0-3.8 0 2.4 0-4.5 0 3.4 0-3.3 0 1.1 0-1.5 0 .3 0-2.4 0 1.9 0-1.8 0 .2 0-2.5 0 1.1 .1-1.2 0-.1 0-1.2 0-.1 0-1.6 0 .5 0-2.3 0 2.3 0-4.1 0 1.6 0-2.6 0 1.4 0-1.2 0 .6 0-1.8 0 .9 0-3.1 0 1.4 0-1.7 0 1.1 0-2.3 0 .9 0-3.3 0 2.2 0-2.7 0 .4 0-1 0 .1 0-1.4 0 1 0-2.1 0 .3 0-1.8 0 .6 0-2.1 0 .9 0-2.4 0 1.4 0-2.2 0 1.2 0-2.5 0 1.1 0-2 0 .5 0-2.7 0 1.4 0-1.5 0 .6 0-1.5 0 .5 0-2.3 0 .8 0-1.8 0 .6 .1-1.8 0 1.1 0-3.4 0 3.2 0-1.1 0 1.7 0-1.6 0 3.6 0-.7 0 2.7 0-2 0 3 0-2.3 0 2.9 0-1.2 0 1.5 0-.4 0 2.5 0-1 0 1.4 .1 1 0 .3 0 1.3 0-.9 0 3 0-2.4 0 3.1 0-2.2 0 4.7 0-2.6 0 2.9 0-1.4 0 3.1 0-2.7 0 2.7 0-.8 .1 3.6 0-3.1 0 3.6 0-2.5 0 3.6 0-1.9 0 3.6 0-2.1 0 1.3 0-.9 0 2.6 0-1.3 0 3 0-.6 0 1.8 0-.9 0 1.7 0-.7 0 1.6 0 .1 .1 1.3 0-.7 0 1.8 0-1 0 4.6 0-3.3 0 2.1 0-1.3 0 2.9 0-2.2 0 3.4 0-1.1 0 2.3 0-.9 0 2 0-.4 0 1.2 .1-.6 0 1.7 0-.4 0 1.8 0-.7 0 1.9 0-1.3 0 1.2 0-2.6 0 2.2 0-5 0 3.3 0-3.9 0 2.6 0-1.9 0 1.7 0-3.1 0 2.7 0-3.4 0 .2 0-1.4 0 .5 0-1.5 0 .2 0-1.4 0 .5 0-2 0 1.1 0-2.3 .1 1.6 0-3.3 0 2.2 0-4.2 0 2.5 0-3.2 0 1.8 0-2.1 0 .4 0-2.4 0 1.2 0-1.9 0 .9 0-2.5 0 2.1 0-3.2 0 1.4 0-3.1 0 1.1 0-2.1 0 1.7 0-2.9 0 .9 0-1.4 0 1.4 0-2.5 0 .1 0-1.6 0 .9 0-1.8 0 .6 0-1.7 0-2.5 0 1.7 0-1.4 0 .7 0-2 0 .9 0-1.7 0 2.2 .1-.5 0 1.8 0-.5 0 1.4 0-.7 0 2.1 0-.8 0 3.1 0-1.1 0 1 0-1.3 0 3 .1-2.3 0 3.5 0-1.3 0 2.4 0-.4 0 1.2 0-1.3 0 2.8 0-.8 0 2.5 0-.9 0 2.1 0-1.7 0 2.3 0-1.7 .1 3.2 0-1.2 0 2.2 0-.4 0 1.3 0 1.4 0-.5 0 2 0-.8 0 1.4 0 1.7 .1-.8 0 1.9 0-.4 0 3 0-3.4 0 3.3 0-1.6 0 2.2 0-.5 0 4.1 0-2.7 0 2.1 0-.7 0 2.5 .1-1.4 0 3 0-3.2 0 3.6 0-.6 0 .8 0-4.1 0 3 0-1.9 0 .6 0-2 0 1.2 0-2.6 0 2.5 0-3.9 0 1.1 0-2.3 0 .7 0-2.4 0 1.9 0-3.5 0 2.4 0-2.5 0-.2 0-1.3 0 .5 .1-1.2 0 .5 0-2.5 0 1 0-1.7 0 .4 0-1.7 0 .5 0-2.4 0 2.2 0-2.8 0 1.2 0-2.2 0-1 0-1.3 0 .3 0-2.1 0 .4 .1-.1 0 1.5 0-1.4 0 3.3 .1-.6 0 1.8 0-1.6 .1 2.4 0-.6 0 1.8 .1-1.1 0 2.2 0-.3 0 1.4 .1-.6 0 2.8 .1-2.3 0 3.5 0-2.3 0 3 .1-2 0 3.1 0-1.8 0 4 .1-2.4 0 2.5 0-1.6 .1 2.5 0-1.2 0 3 0-.5 0 1.9 .1-1.2 0 2.1 0-1 .1 1.8 0-.7 0 1.7 0-.3 .1 2.2 0-.5 0 1 0-.8 0 2.1 0-.5 0 1.8 .1-1.1 0 2.9 0-.5 0 1.7 0-2 0 3.5 0-1.5 .1 2.7 0-1.1 0 1.5 0 1.3 0-.5 0 2.4 0-1.3 0 1.6 .1-.7 0 2.4 .1-1.9 .1 4.4 .1-2.3 .1 2.1 .1-1.7 .1 2.7 .1-.5 .1 1.5 .1-.4 0 2.3 .2-1.4 0 3.7 .1-3.8 0 2.5 .1-4.3 0 2.1 0-2 .1 .8 0-2 0 .5 0-1.9 .1 .9 0-1.9 0 1.2 .1-1.9 0 1.3 0-2.7 .1 .1 0-1.6 0 .3 .1-.8 0-.2 0-1.3 .1 .2 0-1.3 .1-1.8 0 1.5 0-2.7 .3 1.9 .3-2.7 .3 .8 0-.8 .1 2.5 0-1.7 .1 3.3 0-2 0 3.2 .1-3.4 0 4.1 0-1.8 .1 2.8 0-1.9 0 3.5 .1-1.9 0 3.8 0-2 .1 3.7 0-2.2 .1 1.7 0-.9 0 3 .1-2 0 2.2 0-2 .1 3.7 0-2.8 .1 1.8 0-3.1 0 1.5 .1-2.4 0 1 .1-3.8 0 2.3 0-2.7 .1 1.9 0-1.4 .1 1.2 0-3 0 1.3 .1-2.7 0 1.1 0-2.4 .1 1.2 0-2 .1 1 0-2.1 0 1 .2-1.9 .2 .1 .2-1.4 .2 .1 .1-1.6 0 2.3 .1-1 0 2.2 0-2.4 0 2.9 0 1.4 0-.8 .1 1.9 0-.5 0 1.6 0-.3 0 2 0-.5 0 1.2 .1-.3 0 2.4 0-1.6 0 2.6 0-1.3 0 2.1 .1-.9 0 2.2 0-.5 0 1.6 0-.3 0 2.1 0-1.7 0 3.7 .1-1.5 0 1.3 0 .1 0 1.3 0-.6 0 3.7 .1-3.1 0 2.9 0-1 0 1.6 0-.6 .1 2.4 0-1.3 .1 2.2 0-1.9 .1 4.1 0-1.5 0 2.4 .1-1.8 .1 2.3 0-1.6 0 2.4 .1-.2 0 1.5 .1-.9 0 2.8 .1-1.8 0 2.8 .1-.6 .1 2.5 0-1.1 .1 1.7 0-2.3 .1 3.6 0-1.4 .1 2.2 0-.5 .1 1.8 .1-.7 0 1.8 .1-.5 0 1.3 .1-1.7 .1 2.7 0-.2 .1 1.6 0-.6 .1 1.8 0-.4 .1 1.4 .1-1.1 0 2.8 .1-1.1 0 2.4 .1-.5 0 1.9 .1-.7 0 2 .1-1.1 0 1.8 .3-.9 .2 2.1 .2-.6 .2 1.1 .1-.2 0 1.8 .1-1 .1 2.6 0-1.8 .1 2.6 0-1 .1 1.8 0-.9 .1 3.1 .1-2.1 0 2.8 .1-1.8 0 2.6 .1-1.8 .2 2.5 .3-.6 .2 2.6 .2-2.3 .3 3.6 .1-1.2 .1 1.6 .1-1 .1 2.9 .2-1.4 .1 2.4 .1-.6 .1 2.4 .1-1.8 .1 3 .1-2.9 .1 3.2 .1-1.4 .1 2.9 .1-.9 .1 3.4 .1-1.9 .1 1.8 .1-1.1 .1 1.5 .1-.6 .1 2.3 .1-1.6 0 .2 0-1.7 .1 1.1 .1-2.9 0 1 .1-1.5 0 1.4 .1-2.8 0 1.2 .1-2.7 0 .9 .1-2 0 1 .1-2.5 0 2.3 .1-3.2 0 2.3 0-.9 .1 2.1 0-1 .1 2.2 0-2.1 0 4 .1-2.3 0 3.3 0-2.1 .1 2.7 0-.4 .1 1.6 0-1.4 0 3.7 .1-2.2 0 2.2 0-.2 .1 4.1 0-2.9 0 3 .1-2 0 2.4 0-.8 .3 1.2 .3-.6 .3 1.8 .1-3.2 0 1.8 .1-3.5 0 2.2 .1-1.9 0 .6 .1-2 0 1.8 .1-3.1 0 1.3 .1-3 0 3 .1-3.9 0 2.7 .1-4.2 0 2.5 .1-3.5 .1 1.8 .1-2.2 .1 .5 .1-2 0 1.2 .1-2.4 .1 2.4 .1-3.2 .1 1.3 .1-2.1 .2 2.5 .1-1.6 .2 1.4 .2-.9 .2 2 0-2.1 .1 1.2 .1-1.3 .1 .6 .1-1.8 .1 1.9 .1-3.2 0 .3 .1-1.1 .1 0 .1-1.1 .1 1 .1-2.4 .1 1 .1-2.5 0 .2 .1-1.5 .1 1.1 .1-2.3 .1 .6 .1-1.5 .1 .7 .1-2.1 .1 2.5 0-3.9 .1 .6 .1-1.2 .1 .2 .1-2 .1 1 0-2.6 .1 1.7 0-3.9 .1 2.1 0-2 .1 .6 0-1.4 .1 .3 .1-1.2 0 .1 0-2.4 .1 1.5 .1-2.8 0 2.3 .1-2.9 0 .7 .1-1.4 0 1.9 0-3.5 .1 .7 0-2.2 0 1.7 .1-2.6 0 1.7 .1-3.2 0 1.4 0-3 .1 3.5 0-3.4 0 2.1 .1-3.9 0 2 0-3.1 .1 2.3 0-3.4 0 2.8 .1-3.6 0 .4 .1-1.8 0 .5 0-2.2 .1 1.5 0-2.6 .1 1 0-2.7 .1 1.9 0-3.6 .1 2.7 0-2.9 .1 1 0-1.9 .1 .5 .1-2.3 0 2.5 .1-3.3 0 .8 .1-1.9 0 .9 .1-2.1 0 2.2 .1-3.7 0 1.2 .1-4 .1 3.6 0-4.2 .1 1.9 0-2.8 .1 2.1 0-1.9 .1 2.2 .1-5.6 0 4.6 .1-3.9 0 1.2 0-2.6 .1 1.3 0-3.2 0 2.1 .1-3.4 0 1.9 0-2.8 0 1.3 0-1.8 .1 .7 0-2.6 0 2.2 .1-3.2 0 3.1 0-3.6 .1 1.1 0-2.5 0 .7 0-2.9 .1 1.6 0-1.4 0 .3 0-2.3 .1 1.3 0-1.5 0 .8 0-2.5 .1 .3 0-1.7 0 1.6 .1-2.6 .1 .6 .1-1.9 .1 1 .2-2.1 .1 1.7 .1-3.1 .1 .9 .1-1.3 0 .8 0-2.7 0 1.2 0-2.2 .1 .4 0-2.5 0 1.2 0-1.7 0 .2 .1-2.1 0 1.7 0-2.3 0 .7 0-1.7 .1 .4 0-3.3 0 2.7 0-3.4 0 1.9 .1-1.9 0 .8 0-2.5 0 1.6 0-2.4 .1 1.3 0-2.5 0 1 0-2.6 0 1 .1-2.5 0 1.6 0-3.2 .1 3.2 0-4.1 0 1.1 0-3.1 .1 1.9 0-1.8 0 1 0-1.8 .1 1.2 0-2.1 0 .4 0-1.8 .1 .5 0-1.7 0 .5 .1-2.1 0 1.2 0-2.6 0 2.6 .1-3.2 0 2.7 0-3.8 0-.2 .1-1.3 0 .8 0-2.3 0 2.2 .1-3.1 0 .5 .2-1.3 .2 .4 .2-2 0 2.3 .1-1.2 0 2.1 0-.2 .1 1.3 0-.3 .1 1.7 0-1.6 0 2.8 .1-1 0 2.1 0-.9 .1 3.3 0-2.5 .1 3.3 0-2 .1 3 0-1 0 1.5 .1-.3 0 1.8 .1 0 0 1.2 .1 2.6 0-2.7 0 3.6 .1-2.1 0 2.2 0-.2 0 1.1 .1-.4 0 2.5 0-1.5 .1 2.2 0-.8 0 1.9 .1-.2 0 2 0-.7 0 2 .1-.7 0 2.6 0-1.8 .1 2.4 0-2.6 0 3.4 .1-1.7 0 3.2 0-2.6 0 3.1 .1-.6 0 1.8 0-1 .1 3.5 0-2.2 0 2.2 0-2 .3 4.6 .2-2.6 .2 2.5 .2-.8 .2 2.3 0-2.2 .1 4 0-1.5 .1 2.6 0-1.1 0 1.6 .1-1.2 0 2.2 .1-1.3 0 2.2 0-.5 .1 1.5 0-1.3 .1 3.4 0-2.2 .1 5.1 0-2.8 .1 2 0-.9 .1 2.3 0-.8 .1 1.9 .1-.6 0 1.8 .1-1 .1 1.4 0 .2 .1 1.2 .1-.5 0 1.7 .1-1 .1 1.8 0-1.9 .1 3.2 .1-.9 0 2.8 .1-2.2 .1 3.4 0-1.5 .1 3 .1-1.4 .1 2.4 0-.9 .1 3 0-1.7 .1 1.5 .1-.9 0 2.3 .1-1.2 .1 2.2 .4-1.2 .4 1.5 .4-1.2 .1 2.7 .1-.7 .1 1.5 .1-.6 .2 2.3 .1-1.5 .1 4 .1-2.6 .1 2.8 .1-1.2 .4 1.6 .3-3.4 .3 1.3 .1-.1 .1 1.3 .1-.7 .1 2.4 .1-1.4 .1 2.4 .1-1 0 2.1 .1-.9 .1 2 .1-.5 .1 2.5 0-.9 0 1.8 .1-1.4 0 1.9 0-1.1 .1 2.7 0-.8 0 4 .1-3.5 0 2.7 .1-.7 0 1.9 0-.9 .1 2.9 0-2.4 0 2.9 .1-2.9 0 4.8 0-1.8 .1 2.8 0-1.6 .1 2.5 0-1.1 0 1.9 .1-2.2 0 3.7 0-2.2 .1 3.5 0-1.3 0 2.9 .1-1.3 0 1.7 0-1.5 .1 3.6 .1-1.2 0 2.5 .1-1.2 0 1.4 .1-.8 .1 1.7 0-1.9 .1 3.1 0-.8 .1 2.4 0-1.3 .1 2.8 0-1.9 .1 2.3 .1-.5 .1 2.7 .2-1.5 .1 1.3 .1-1 .1 2.6 .1-.6 .1 2.7 .2-2.3 .1 3.4 .1-1.3 .1 2.8 .1-2.2 .1 2.5 .2-.8 .1 1.8 .1-1.7 .1 2.6 .1-.7 .2 2.8 0-1.4 .1 2.3 .1-.9 0 2.7 .1-2 .1 1.8 0-.1 .1 1.9 .1-1.6 0 2.7 .1-.8 .1 2.1 0-.5 .1 2 .1-1.2 0 2 .1-1 .2 1.7 .1-2.1 .2 1.1 .1-2.7 .1 .8 .2-2.3 .1 1.1 .2-2.4 .1 1.4 0-2 .1 1.9 .1-2.7 .1 .4 0-1.3 .1 .8 .1-3 .1 2.3 .1-2.6 0 1.3 .1-2.9 .1 2 .1-3.8 .1 2.8 .1-4.2 .1 2.3 .1-3.8 .1 2 .1-2.7 .2 1.8 .1-2.6 .1 .8 .1-1.8 .1 1 .1-1.5 .1 .2 .2-1.1 .1-.1 .1-2.9 .1 2.9 .1-2.3 .2 1.2 .1-4.2 .1 1.9 .1-1.7 .1 .9 .1-1.8 .2 .7 .1-2.4 .1 1.6 .1-2.4 .1 2.1 .1-3.8 .2 1.2 .1-2.3 .1 .7 .1-1.2 .1 .4 .1-1.8 .2 .5 .1-1.6 .1 1 .1-2.7 .1 2.1 .1-2.8 .2 .7 .1-1.8 .1-.1 .1-1.6 .1 .5 .1-1.4 .2 1.9 .1-2.7 .1-.2 0-1.1 .1 .9 0-2.3 .1 1.2 0-2.7 .1 1.2 0-2.1 0 .7 .1-1.6 0 .4 .1-1.5 0 .3 .1-2 0 .9 .1-2 0 1.6 0-2.6 .1 .8 0-1.9 .1 .4 0-1.5 .1 .9 0-3.1 .1 3.4 0-4.7 .1 1.5 0-2.6 .1 1.6 0-1.7 .1 .4 0-2.1 .1 .7 0-2.4 .1 1.5 .1-1.9 0 1.1 .1-3.1 0 2.2 0-2 0 1.3 .1-2.6 0-.1 0-1.4 .1-1.6 0 1.1 0-2.2 .1 2 0-3.5 0 1.6 0-2.1 .1 1.1 0-3.9 0 2.3 0-2.7 .1 1.6 0-2.2 0 .4 0-2.3 .1 1 0-2.1 0 .7 .1-1.8 0 1.6 0-2.7 0 1.4 .1-2.3 0 2.9 0-4.3 .1 1.3 .1-2.8 0 2 .1-3.3 .1 1.5 0-1.8 .1 .8 .1-2.5 0 1.4 .1-2.6 .1 1.1 0-2 .1 .5 .1 .2 0 1.2 .1-.1 .1 1.2 0-.4 .1 1.7 .1-2 0 3 .1-1.1 .1 2.3 0-.1 .1 2.1 .1-.8 0 1 .1-.9 0 2.3 .1 .1 .1 1.7 0-2.1 .1 3.1 0-2.3 .1 3.5 .1-2.6 0 3.2 .1-.5 0 2.2 .1-2.2 .1 3.6 0-2.6 0 4.8 .1-2.7 0 4.1 .1-2.4 .1 1.7 0-1.5 .1 3.6 0-1.6 .1 2.5 0-.6 .1 2.2 0-2.6 .1 3.2 0-.9 .1 2 0-1.2 .1 4.5 0-2.7 .1 1.7 0-1 .1 3.5 0-2.5 .1 3.3 0-1.5 .1 3.1 0-3 .1 3.9 0-1.8 .1 2.4 0-.8 .1 2.1 0-3.8 .1 4.9 .1-1.1 0 1.6 .1-.4 0 1.5 .1-.3 0 2.7 .1-1.1 0 2.1 .1-1.5 0 2.6 .1-2.2 0 3.2 .1-1.7 0 2.6 .1-1 0 3.4 .1-2.3 0 2.7 .1-.7 0 2.6 0-1.1 .1 1.6 0-2.4 .1 3.6 0-1.1 0 1.8 .1-.4 0 2.1 0-.6 .1 1.3 0-.6 .1 3.6 0-3 0 2 .1-.4 0 2 .1-.6 0 2.6 .1-1.1 0 2.8 0-1.9 .1 2.4 0-2.3 .1 2.7 0-.2 .1 2 0-.6 .1 1.1 0 2.8 .1-2.4 0 2.8 .1-1.8 0 3.5 0-2.4 .1 3 0-2 .1 3.3 0-1.3 .1 3.4 0-2 .1 2.1 0-.7 0 1.3 .1-.1 0 1.6 .1-.8 0 1.7 .1-.6 0 1.4 .1-.6 0 2.4 0-.8 .1 2.7 0-1.6 .1 2.7 0-1.1 .1 1 0 .1 0 .7 .1-2.2 .1 1.1 0-3.2 .1 1.2 0-1.9 .1 .9 0-1.6 .1 .9 0-2 .1 .5 0-2.5 .1 1.2 0-1.5 .1 .1 0-2 .1 .4 0-2.2 .1 1.2 0-1.5 0 1.7 .1-2.6 0 1.5 .1-3.7 0 1.4 0-2.1 .1 1.4 0-4 .1 3.5 0-3.2 0 .3 .1-1.4 0 .9 .1-2.5 0 1.3 0-3.2 .1 2.4 0-2.9 .1 1 0-2 .1 1.4 0-2.1 .1 0 0-1.5 .1 .6 0-2.9 .1 2.2 0-2.7 .1 .8 0-1.9 .1 .8 0-2.2 .1 1.4 0-2.3 .1 1.2 0-2.8 .1 2.1 .1-1.6 0 2.8 .1-1 .1 2.8 .1-1.7 0 2.1 .1-1 .1 2.7 .1-.7 0 1.4 .1 .3 .1 1.6 0-2.1 .1 4.6 0-1.8 .1 2.7 .1-3 0 3.2 .1-.5 0 2.1 .1-2.3 .1 4.2 0-1.7 .1 1.4 0-1.1 .1 2.2 .1-2 .1 5.4 0-4 .1 3.7 .1-2.4 .1 2.8 .1-1.8 .1 4.1 .1-1.5 .1 2.2 0-.8 .1 1.8 .1-1.2 .1 1.7 .1-2.3 .1 4.2 .1-1.4 .1 2.7 0-1.3 .1 2.9 .1-3.7 .1 3.4 .1-5 .1 3.6 .1-5 .1 2 .1-1.6 0 .1 .1-1.1 .1 .3 .1-2.3 .1 1 .1-1.3 .1 .3 0-3.7 .1 3 .1-1.8 .1 .3 .1-2.2 .1 1.7 .1-1.6 .1 1.9 .1-1.3 .2 2.7 .1-1.1 .1 2.1 .1-.4 .1 2 .1-1 .2 1.8 0-1.1 .1 2 .1-.2 .1 2.1 0-.5 .1 2.1 .1-1 .1 1.9 .1-2.9 0 6.1 .1-3.5 .1 3.2 .1-2.1 0 1.9 .1-.2 .1 1 0-.2 0 1.9 .1-1.3 0 2.9 .1-1.9 0 2.8 0-1 .1 2.2 0-1.1 .1 1.9 0-1.3 0 3 .1-1.5 0 3.8 .1-4.1 .1 1.9 .1-2.4 .1 1.3 0-3.3 .1 1.8 .1-1.8 .1 .2 .1-1.7 .1 2.9 .1-3.9 .1 .1 0-1 .1 .4 .1-2 .1 .5 .1-1.9 .1 1 .1-1.5 .1 .3 .1-.9 0 2.1 .1-.6 .1 2 .1-.9 .1 1.6 .1-.9 .1 3.4 0-2.3 .1 2.9 .1-2.5 .1 3.8 .1-1.4 .1 3.5 .1-2 .1 1.3 0-1.2 .1 3.5 .1-2.8 .1 3.8 .1-3 0 1.4 .1-3.4 0 1.7 .1-1.3 .1 0 0-2.4 .1 1.4 0-2.3 .1 1.3 .1-1.5 0 .7 .1-2.1 0 .6 .1-2.6 .1 1.2 0-1.6 .1 1.2 0-2.9 .1 1.6 0-2.4 .1 .8 .1-2.2 0 1.7 .1-2 0 1.5 .1-3 0 1.6 .1-4.6 .1 3.7 0-4 .1 2 0-1.9 .1 .4 0-1.4 .1 .5 .1-1.9 0 .5 .1-1.6 .1 1 0-2.3 .1 .7 0-2.2 .1 .9 0-2.1 .1 2.3 .1-1.4 .1 2.6 .1-.6 .1 1.6 .1-.6 .1 1.4 0-1 .1 2.8 .1-1.9 .1 2.8 0-4.5 .1 1.4 0-.9 .1 1.1 .1-2.2 0 .5 .1-1.8 0 .8 .1-2.5 .1 .5 0-1.3 .1 .9 0-2.1 .1 1 0-2.6 0 .7 .1-1 0 .1 0-1.4 0-.1 .1-2.5 0 3.1 0-5 0 3.6 .1-2.8 0 1.1 0-2.8 0 1.5 .1-3.1 0 1.9 0-2.3 .1 0 0-1.5 0 .4 0-1.6 .1 .6 0-1.7 0 .7 0-1.8 .1 .4 0-2 0 .7 0-2.5 .1 .9 0-2 0 1.4 0-2.2 .1 .7 0-.8 0 2.2 0-.9 0 2.2 0-1.1 0 2.9 .1-3.3 0 3.9 0-.4 0 2 0-2.4 0 3.2 0-.4 0 1.4 0-.6 .1 2.2 0-1.4 0 3.2 0-1.6 0 2.6 0-1.2 0 2.3 0-2 0 2.4 .1-.5 0 2.6 0-1.4 0 2 0-2.2 0 3.7 0-1.3 0 2.8 0-1.2 .1 2.2 0-1.2 0 1.6 0-.9 0 2.3 0-1.8 0 2.8 0-.8 .1 3.6 0-1.5 0 1.9 0-.5 0 1.9 0-.7 0 1.4 0-.1 .1 2.1 0-1.1 0 1.6 0-1.2 0 2.2 0-.5 0 2.1 0-.8 0 1.9 .1-1.1 0 2.6 0-1.1 0 2.3 0-1.1 0 2.3 0-.9 0 2.3 0-1.3 .1 1.5 0 1.6 0-.7 0 2.2 0-1.3 0 1.9 0-.2 .1 .8 0-2.2 .1 .6 0-1.7 0 .7 .1-2.4 0 .9 .1-2 0 .8 0-2 .1 3 0-4.5 .1 1.7 0-3.5 0 1.8 .1-1.6 0 .6 .1-1.5 0 .4 0-2.1 .1 1.3 0-4 .1 3 0-4 0 2.7 .1-4 0 2 .1-2.5 0 2.3 .1-2.7 0 .6 .1-1.4 0 .5 0-1.8 .1 .6 0-3.3 .1 1.9 0-2.1 .1 2.1 0-2.5 .1 .2 0-2.9 0 1.7 0-1.1 .1-.4 0-1 0 1 0-2.3 0 .7 .1-2.4 0 1.3 0-3 0 1.8 .1-2.4 0 2.5 0-4.2 0 1.8 .1-3 0 1.7 0-2 0-.1 0-2.3 .1 1.8 0-2.2 0 1.8 0-5.2 .1 2.9 0-2.5 0 1.4 0-2 0 .8 .1-1.5 0 .2 0-1.7 0 .6 .1-2.1 0 1.4 0-2.4 0 .4 0-1.6 .1 1 0-1.9 0 .8 .1-2.2 0 .8 .1-2.2 0 .5 0-1.2 .1 .9 0-2.4 0 2.5 .1-5.3 0 2.9 .1-2.7 0 .4 0-1.3 .1 .8 0-2 0 .8 .1-2.6 0 1 0-2.2 .1 .7 0-1.4 0 .4 .1-2.5 0 1.7 .1-2.1 0 .3 .1-1.5 0 .3 .1-1.7 0 .4 0-1.9 .1 .7 0-1.4 .1 .6 0-1.9 .1 .7 0-2.5 .1 1.2 0-2.3 0 2.7 .1-3.8 0 2.8 .1-2 .1 1.5 .1-.7 .1 2.2 .1-1 .1 2.7 .1-1 .1 1.9 .1-1.4 0 1.2 .1-3.7 0 2.6 0-2.1 .1 .3 0-1.7 .1 .8 0-2.7 0 .8 .1-1.6 0 1.2 .1-2.1 0 .8 0-1.7 .1 1 0-3.2 0 1.3 .1-2 0 1.2 .1-3.4 0 2.2 0-2.5 .1 .8 0-1.4 .1-.1 0-1.5 .1 .4 0-1.5 0 .2 .1-1.2 0 .6 .1-2.2 0 1.5 0-2.7 .1 .7 0-1.9 .1 1.2 0-2.1 .1 .8 0-3.2 .1 2.2 0-4 0 3.2 .1-2.9 0 1 .1-2.4 0 .9 0-2.2 .1 1.2 0-2.4 0 1.2 .1-3.4 0 2.5 0-2.6 .1 1.8 0-2.1 0 1.4 .1-3 0 1.4 0-2.1 .1 1.8 0-2.2 0 3.6 .1-1.5 0 2.3 .1-1.1 0 2.4 0-1.4 .1 4.3 0-3.1 0 4.1 .1-4.2 0 5.2 .1-2.2 0 2.3 0-1.7 .1 3.6 0-3.8 .1 4.5 0-2.6 0 2.8 .1-.1 0 2.2 .1-1.5 0 3.7 .1-3.2 0 3.4 0-2.2 .1 3.2 0-2.4 .1 3 0-.6 .1 1.4 0-.5 0 2.1 .1-1.1 .1 1.7 .1-.3 .1 3.7 0-2.3 .1 1.6 .1-.1 .1 3.3 .1-2.1 .1 2 .1-.9 0 1.4 .1-.2 .1 1.1 .1 2.5 0-2 .1 2.4 0-2.1 .1 2.7 .1-.9 0 2.3 .1-1.2 0 3 .1-1.9 .1 3 0-1.1 .1 3.8 0-3.3 .1 3 0-2.1 .1 4.2 .1-2.5 0 3.3 .1-2.5 0 3.1 .1-1.2 0 2 .1-.7 .1 1.7 0-.8 .1 1.9 0-.6 .1 1.6 0-1.8 .1 2.9 0-2 .1 4.2 0-1.9 .1 3.4 0-2.6 .1 2.8 0-1 .1 2.6 0-.5 .1 1.9 0-1.9 .1 3.1 0-2.9 .1 5 .1-2.8 0 3.9 .1-3.2 0 4 .1-1.7 0 1.8 .1-.6 0 4.4 .1-2.8 0 2.1 .1-1.2 0 1.3 .1-.1 0 1.5 .1-1.7 0 2.8 .1-.2 0 2 .1-1.7 .1 3.7 0-1.9 .1 2.2 0-.5 .1 1.5 0-.3 .1 2.1 0-.9 .1 2.1 0-.8 .1 1.9 .1-1.5 0 2.6 0-1.1 0 2 .1-.6 0 1.6 0-.2 0 1.2 .1 .1 0 1.3 0-.5 0 1.9 .1-2 0 3.6 0-1.8 .1 3.5 0-2.7 0 2.7 0-.7 .1 1.7 0-.6 0 2.6 0-1.5 .1 .8 0-1.8 .1 1.7 0-2.8 .1 1.2 0-2.3 .1 1.7 0-3.1 .1 1.1 0-2.1 .1 1.3 0-4 .1 2.1 0-3.7 0 3.4 .1-2.5 0 1.5 .1-2.4 0 1.1 0-2.3 .1 .5 0-1.9 0 .2 .1-1.5 .1-1.9 0 1.4 0-2.3 .1 1.8 0-3.1 0 1 0-1.9 .1 .2 0-1.8 0 1.4 0-2.6 0 2.2 .1-2.8 0 .5 0-2 0 1.2 .1-2.8 0 1.6 0-2.9 0 1.6 .1-2 0 .2 0-2 0 .8 .1-1.4 0 .8 0-3 0 2.9 .1-3.5 0 1.3 0-2.4 0 .6 .1-1.4 0-.2 0-1.2 0 .2 0-1.2 .1 2.6 0-4.2 0 .7 0-1.8 .1 .6 0-2.2 0 .5 .1-2.8 0 1.7 0-2.8 0 1.7 .1-2.3 0 .9 0-2 .1 2.4 0-2.7 .1 .8 0-2.8 .1 .8 0-1.6 .1 .4 0-3 .1 1.4 0-2 .1 2.4 0-2.6 0 1 0-2.2 0 .3 0-1.3 0 .8 0-2.3 0 .5 0-2.1 0 1.3 0-3.1 0 2.1 0-2.6 0 1.1 0-2.4 0 1.1 0-2.7 0 1 0-1.5 0 .9 0-2.5 0 1 0-1.7 0 .3 0-1.2 0 .3 .1-1.8 0 .7 0-1.9 0 .8 0-2.9 0 2.1 0-4 0 2.1 0-1.9 0 .3 0-1.3 0 .4 0-1.6 0 1.4 0-2.3 0-1.2 0 .6 0-2.4 0 .4 0-2.2 0 1.3 0-1.8 0 .6 .1-1.5 0 .2 0-1.2 0-.2 0-1.6 0 1.4 0-3.5 0 2.2 0-2.6 0 1.3 0-1.8 0 .2 0-1.9 0 1.7 0-3.3 0 1.6 0-2.6 0 2.4 0-4.4 0 2.4 0-4.3 0 2.4 .1-2.4 0 1.3 0-3.2 0 2 0-2.1 0 .7 .1-2.1 0 .9 0-2.2 0 1 0-2.8 0 1.8 .1-3 0 2.5 0-2.4 0 1.4 0-3.1 0 1.4 0-2.8 .1 1 0-1.7 0 1.4 0-3.1 0 2.2 0-3 .1 1 0-1.9 0 1.8 0-3.7 0 2.4 0-3.3 .1 .8 0-3.4 0 3.7 0-3.6 0 2 .1-3.6 0 .6 0-2.3 0 3.4 .1-4.3 0 1.3 0-3.9 0 3.4 .1-2.8 0 1.3 0-3.5 0 2.8 .1-2.3 0 .8 0-2 0 1.5 .1-3.4 0 .8 0-2.4 0 1.2 .1-1.9 0 .3 0-1.3 .1 1.6 0-1.4 .1 2.1 0-.3 .1 1.6 0 .1 .1 1.7 0-.6 .1 1.3 .1-1.1 0 2.3 0-.6 0 2.3 0-1.3 .1 2.2 0-.9 0 1.7 0 .3 0 2.5 .1-2.3 0 3.1 0-2.3 0 4 0-3 .1 4.2 0-2.5 0 3.5 0-1.6 0 1.6 0-.2 .1 1.4 0-.2 0 1.3 0-1 0 2.4 .1-1.5 0 2.5 0-.4 0 1.3 0 .2 0 1.5 .1-.6 0 1.2 0-.2 0 2 0-1.9 0 3.3 0-2.2 .1 4 0-1.4 0 2.5 0-1.2 0 2 0-.7 0 2.3 .1-3.1 0 4.2 0-.7 0 1.1 0 .1 0 1.4 .1-.6 0 2.3 0-.9 0 2.5 0-1.8 0 2 0-1.2 .1 2.9 0-.9 0 1.8 0-2 0 3.4 0-1.5 0 2.2 0-.4 .1 1.8 0-1.5 0 2.2 0-.7 0 1.8 0-2.2 0 5.4 .1-2.6 0 2.5 0-1.5 0 3.1 .1-1.3 0 2 0-1 0 3.3 .1-2 0 2.3 0-.8 0 2.9 .1-1.6 0 1.9 0-.2 0 1.2 .1 1.4 0-1.8 0 2.6 0-.1 .1 2.4 0-1.2 0 1.4 0 .1 .1 1.6 0-.8 0 1.8 0-.7 0 3 0-2.9 .1 4 0-1.9 0 1.9 0-2 0 3.1 0 1.4 .1 0 0 1.5 0-1 0 2.7 0-1.4 0 2.4 0-1.3 .1 1.9 0-1.1 0 2.2 0-.8 0 3.3 0-2 0 2.5 .1-.7 0 2 0-1.6 0 1.9 0-.1 0 1.4 .1 .1 0 1.7 0-1 0 2.9 0-1.6 0 1.9 .1-1.5 0 2.7 0-1.3 0 3.2 .1-1.9 0 1.8 0-.7 .1 2.7 0-1 0 1.7 0-1.7 .1 2.7 0-.5 0 1.4 .1-.4 0 1.9 0-1.4 0 3.2 .1-1.8 0 2.6 0-.8 .1 1.7 0-.9 0 2.3 0-1.1 .1 3 0-.8 0 1.2 0-.4 .1 1.7 0-.9 0 3 .1-2.2 0 3.2 0-1.9 0 2.6 0-1.5 .1 3.2 0-1.9 0 3.3 0-2.5 0 3.7 .1-2.1 0 2.5 0-1.6 0 2.6 0-.8 0 1.9 .1-.6 0 2.2 0-.8 0 1.2 0-.3 .1 2 0-1.2 0 4.6 0-2.5 0 3.3 .1-2.7 0 3.3 0-1.4 0 2 .1-1.2 0 2.8 0-1 0 1.6 0-1.2 0 3.1 .1-1.1 0 1.8 0-1.2 0 3.4 0-2.6 .1 3.7 0-2.1 0 1.4 0-.2 0 2.2 0-.7 .1 1 0-.9 0 2.2 0-.2 .1 1.9 0-2.3 0 4 0-2.2 0 4.3 .1-2.9 0 3.3 0-1.4 0 2 0-2.2 0 4 .1-2.1 0 2.9 0-.8 0 1.3 .2-1.5 .2 1.4 .2-2.2 .2 1.5 0-3 0 1.7 0-2.4 .1 .5 0-2.1 0 .6 .1-1.5 0 .3 0-1.5 0 .8 .1-2.8 0 2.1 0-3.6 .1 1.1 0-1.9 0 1 .1-2 0 1.5 0-2.2 .1 .7 0-1.9 0 .6 .1-2.3 0 .5 0-2 0 1.5 0-2 0 .5 .1-3.5 0 2.3 0-2.3 0 2.2 0-3.8 .1 1.1 0-2.2 0 1.4 0-3 0 1.4 .1-2.6 0 1.4 0-2.5 0 1.5 0-1.8 .1 .9 0-2.9 0 2 0-2.7 0 1.6 .1-2.7 0 1.2 0-3.3 0 1.9 0-1.8 0 .7 .1-2.2 0 .4 0-1.8 0 .8 0-1.7 0 1.1 .1-2.4 0 .5 0-1.6 0 .6 0-1.7 .1 .5 0-2.2 0 1.7 0-3.1 0 2.4 .1-2.4 0-.1 0-2.4 0 2 0-2.1 .1 .3 0-1.7 0 1.6 0-2.8 0 .6 0-2.2 .1 1.7 0-3.2 0 1.1 0-2.6 0 1.7 .1-2.3 0 2.3 0-3.6 0 1.6 .1-3.4 0 1.8 0-1.6 0 .3 0-3.3 0 1.9 .1-2 0 .8 0-2.4 0 .6 0-1 .1 .2 0-2.1 0 .5 0-1.3 0 .3 0-2 .1 1.2 0-2.7 0 2 0-2.4 .1 1.5 0-4.1 0 3 0-4.8 .1 2.7 0-1.4 0 .5 .1-2.2 0 .9 0-1.6 0 1.1 .1-2.3 0 .4 0-1.9 0 .9 .1-3.1 0 1.9 0-3.1 .1 1.8 0-2.2 0 .9 0-2.8 .1 1.5 0-1.6 0 .9 .1-3.6 0 2.2 0-3.4 0 3.6 .1-3.3 0 1.3 0-2.8 0 2.6 0-4.1 0 1.1 0-2.2 0 .6 0-2.5 0 1.2 0-2.3 0 1.7 0-1.8 0 .3 0-1.8 .1 1.2 0-2.5 0 1.5 0-2.3 0 .8 0-2.8 0 1 0-2.3 0 2.2 0-2.8 0 1.5 0-2.8 0 .8 0-1.5 0 1.5 .1-2.8 0 .4 0-1.5 0 .6 0-1.9 0 1 0-2.2 0 1.5 0-2.7 0 .6 0-2.2 0 .7 0-2.1 0 .8 0-2.1 .1 .9 0-1.4 0 2.9 0-2.7 0 3.4 0-1.3 0 3.9 .1-3.2 0 4.1 0-2.8 0 3.1 0-1.5 0 2.9 0-.5 0 2.4 .1-1.8 0 3.5 0-1.6 0 2.7 0-1.3 0 1.7 0-1.3 0 2.8 0-1.6 .1 2.3 0-2.5 0 4.4 0-2.2 0 4.1 0-2.8 0 2 0-1.2 .1 2.5 0-.7 0 2.4 0-1.9 0 1.4 0-2.8 0 .8 0-1.2 .1-3.7 0 2.6 0-1.6 0 .3 0-2.3 0 .9 0-1.9 0 .7 0-1.7 0 2.3 0-3.6 0 2 0-2.5 .1 .2 0-2.3 0 .7 0-2.3 0 1.8 0-1.9 0 1.5 0-5.2 0 2.9 0-1.4 0 1.4 0-3.4 0 2.2 .1-4.6 0 2.9 0-2.8 0 1.1 0-1.7 0 2.3 0-3.8 0 .5 0-2.5 0 1 0-2 0 1.1 0-1.9 0 1 .1-2.1 0 1.4 0-4.1 0 2.8 0-2.4 0 .2 0-1.5 0 1.5 0-2.6 0 1.6 0-1.4 0 1.6 0-1 .1 2.7 0-1.6 0 1.9 0-.7 0 3.3 0-1.5 0 1.8 0-.3 0 1.3 0-.2 0 1.7 0-1.3 .1 2 0 .1 0 2.1 0-1.7 0 4 0-2.3 0 1.8 0-.9 0 2.4 0-.9 0 3.4 0-2.6 .1 2.7 0-2 0 3.2 0-1.1 0 1.1 0-.3 0 2 0-1.3 0 2.8 0-1.1 0 1.7 0-1.4 0 2.9 .1-1.2 0 2.5 0-1 0 2.3 0-1.7 0 2.8 0-.5 0 1.3 0-.6 0 2.2 0-1.8 0 2.5 0-.4 0 1.9 .1-.3 0 2.5 0-3.5 0 2.4 0-4.2 0 2.7 0-2 0 1.2 0-2.5 0 .9 0-1.9 0-.1 0-1.1 .1-.4 0-1.3 0 1.3 0-2.9 0 .8 0-2.1 0 2.5 0-3.1 0 .5 0-1.6 0 .9 0-2.6 0 1.5 .1-3.3 0 1.3 0-2.7 0 1.2 0-.8 0-.1 0-1.2 0 .6 0-2.2 0 .4 0-2.1 0 1.1 0-2.7 0 2.2 .1-3.4 0 1.2 0-2 0 1.1 0-2.3 0 1.8 0-2.8 0 1.1 0-3.4 0 3.4 0-4.8 0 2.6 0-2.4 .1 .4 0-1.5 0 .5 0-2.3 0 1.3 0-1.6 0 .4 0-1.8 0 .3 0-1.5 0 1.4 0-1.2 0 3 0-2 0 2.8 .1-.4 0 2 0-2.4 0 3.7 0-2.5 0 3.5 0-.6 0 1.5 0-.7 0 2.2 0-.5 0 1.5 0-.7 .1 2.5 0-1.7 0 4.2 0-2.6 0 2.6 0-1.4 0 2.2 0-.9 0 2.3 0-.8 0 1.4 0-1.8 0 3.6 .1-.7 0 2.5 0-1.5 0 1.9 0-.7 0 1.2 0-.5 0 1.6 0-1.1 0 2.6 0-.5 .1 2.5 0-2.4 0 3.8 0-1.9 0 3.8 0-2.8 0 2.3 0-.5 0 2.8 0-1.4 0 2.3 0-.8 0 1.2 .1-.5 0 1 0-2.1 0 .6 0-2.6 0 1.4 0-1.9 0 .6 0-2.2 0 1.8 0-4.2 0 3 0-2.5 0 .8 0-2.7 0 1.2 0-1.5 0 .8 0-2.7 0 1.6 0-1.9 0 .5 .1-2.6 0 1.6 0-2.9 0 1.4 0-1.9 0 1.9 0-3.7 0 1.3 0-2.9 0 2.3 0-3 0 2 0-2.4 0 1.1 0-2.2 0 1.1 0-2.4 0 1.1 0-4.1 0 2.3 0-1.7 .1 .1 0-3 0 1.8 0-1.3 0 .1 0-1.3 0 1 0-2.4 0 .5 0-1.9 0 .4 0-1.6 0 .7 0-3.3 0 2.7 0-3.7 0 1.9 0-1.6 0 .6 .1-2.4 0 1.2 0-2.5 0 1.1 0-2.4 0 1.1 0-1.7 0 1.6 0-3.1 0 1 0-1.7 0 .2 0-1.3 0 .4 0-1.8 0 .6 0-2.7 0 1.4 0-2.7 0 1.6 0-2.2 .1 2.2 0-3.1 0 1.6 0-2.4 0 .3 0-3.2 0 2.4 0-3.4 0 2.9 0-1.5 0 2.7 0-.5 0 1.7 0-.8 0 3.8 0-2.9 0 3.5 0-1.5 0 1.6 0-1.2 .1 2.7 0-1 0 1.5 0-.3 0 1.3 0-.1 0 2.1 0-2.5 0 3.6 0-.8 0 2.4 0-.9 0 1.5 0-1.2 0 2.5 0-1.3 0 2.8 0-.8 0 1.8 0-1.9 0 2.5 .1-.9 0 2.4 0-.9 0 2.4 0-.7 0 2.2 0-1.8 0 3.3 0-1.5 0 2 0-.7 0 2.1 0-1.1 0 1.8 0-.5 0 3.2 0-2 0 2.3 0-1.6 0 3.7 .1-2.1 0 2.2 0-1 0 2 0-.9 0 2.3 0-2.6 0 3.5 0-1 0 2.6 0-2.1 0 3.5 0-3.2 0 4.8 0-1.3 0 1.9 0-.4 0 2.1 0-1.2 .1 2.1 0-.8 0 2.1 0-2 0 3.8 0-2.6 0 3.5 0-1.5 0 1.5 0-.3 0 1.7 0-1 0 2.9 0-4.1 0 2.4 0-2 0 1.4 0-2.8 .1 .6 0-2 0 .7 0-1.8 0 .8 0-2.2 0 1.4 0-2.7 0 2 0-2.9 0 1.1 0-3 0 2.7 0-3 0 1.8 0-3.1 0 1.3 0-3.3 0 1.4 0-1.6 0 .7 .1-3.1 0 2.2 0-2 0 .5 0-1.8 0 .6 0-1.6 0 1.1 0-3.8 0 2.3 0-3.7 0 2.3 0-3 0 1.6 0-2.1 0 .6 0-1 0-.3 0-1 0 .7 0-2.3 0 1.2 0-2.6 .1 .3 0-.9 0-.4 0-1.3 0 .6 0-2.3 0 1.3 0-2 0 .8 0-2.2 0 .9 0-1.9 0 1 0-2.3 0 .4 0-2.7 0 2.1 0-1.9 0 .9 0-2.1 0 1.2 .1-3 0 1.2 0-1.9 0 1.3 0-2.1 0-2.2 0 1.3 0-2.7 0 2.4 0-5.6 0 4.7 0-3.4 0 .8 0-1.5 0-.1 0-1.6 0 .2 .1-1.2 0 1.2 0-2.6 0 .7 0-1.8 0 2.5 0-.8 0 3.3 0-1.8 0 1.8 0-.3 0 2.4 0-1.1 0 1.7 0-.2 0 2 0-1.2 0 2.7 0-2.6 0 4.5 .1-3.5 0 4 0-1.6 0 1.6 0-.8 0 2 0-.8 0 2.7 0-.7 0 2.9 0-1.6 0 1.3 0-.8 0 2 0-1.9 0 3.9 0-1.7 0 2.2 0-1.5 0 3.6 .1-1.2 0 2.5 0-1.9 0 2.7 0-1.6 0 3.2 0-1.3 0 2.6 0-1.5 0 1.3 0-.5 0 1.8 0-.7 0 2.3 0-.7 0 1.5 0-.5 0 2.9 0-1.6 0 2.4 0-.7 0 2 .1-1.4 0 3.1 0-2.6 0 3.2 0-1.9 0 3.2 0-1.1 0 2 0-1.3 0 1.6 0-1.2 0 3 0-1.9 0 2.9 0-2.1 0 3.3 0-1.2 0 2.8 0-.6 0 1.8 .1-.8 0 1.7 0-.7 0 2.2 0-.8 0 1.6 0-.6 0 1.4 0-.1 0 2.5 0-3.4 0 1.4 0-2 0 1.5 0-2 0 .4 0-1.9 0 .1 0-1.2 0 .5 0-1.7 .1 1.1 0-2.4 0 .8 0-3.5 0 3.3 0-3.7 0 1.8 0-2.6 0 1.1 0-3.6 0 2.5 0-3.9 0 3.7 0-3.2 0-2.1 0 1 0-1.7 0 .7 0-1.3 .1 0 0-2 0 1.2 0-3.1 0 2.1 0-2 0 .5 0-1.3 0 .6 0-2.1 0 .4 0-2.4 0 1 0-2 0 .6 0-1.9 0 1.2 0-1.9 0 1.5 0-2.6 0 .3 .1-2.5 0 2.4 0-3.9 0 2.5 0-2.8 0 1.1 0-2.8 0 1.3 0-1.2 0 .2 0-1.9 0 1 0-3.3 0 2.1 0-2.2 0 .1 0-1.3 0 .3 0-1.4 0 .3 0-2.4 0 1.5 0-1.8 0 .5 .1-1.2 0 .1 0-2.7 0 1.7 0-1.9 0 .5 0-2.5 0 1.7 0-2 0 .2 0-2 0 1 0-1.6 0 .4 0-2.4 0 1.4 0-3.3 0 1.4 0-1.9 0 2.5 0-.5 0 1.2 .1 0 0 1.4 0-1.3 0 2.6 0-1.1 0 2.9 0-1.3 0 2.9 0-2.5 0 3.2 0-1.6 0 2.3 0-1.6 0 3.1 0-1.2 0 2.1 0-.6 0 1.3 .1-1.1 0 3.1 0-1.8 0 3.8 0-1.3 0 1.5 0-.7 0 1.9 0-.2 0 1.3 0-.1 0 1 0-.1 0 1.5 0-.3 0 2 0-.6 0 1.8 0-.7 0 1.2 0-.3 .1 1.5 0-.7 0 2.2 0-2.2 0 3.6 0-.8 0 2.7 0-2.1 0 3.3 0-1.2 0 1.9 0-1.1 0 1.6 0-.4 0 1.8 0-.6 0 2.7 0-1.4 0 1.4 0 .1 0 1.3 .1-.8 0 2.5 0-2.3 0 3.6 0-1.9 0 3.3 0-1.9 0 2.5 0-.8 0 2 0-1.3 0 2.6 0-.8 0 2 0-.7 0 1.6 0-.1 0 1.4 0-.4 0 2.7 0-2 0 3.2 0-2 .1 2 0-1 0 2.6 0-2.2 0 2.3 0-3.4 0 2.6 0-3 0 2.1 0-4.5 0 3.5 0-2.6 0 1.4 0-2.8 0 3.1 0-5 0 2 0-3 0 .7 0-1.2 0-.4 0-1.9 .1 2.1 0-4.2 0 2.4 0-2.4 0 1.3 0-1.7 0-1.1 0 .4 0-2.1 0 1.1 0-3.6 0 2.1 0-3 0 1.5 0-1.7 0 1 0-2.6 0 .7 0-2.6 0 2.2 0-2.6 .1 1.1 0-1.8 0-.1 0-.9 0-.2 0-1.4 0 .6 0-1.3 0 .1 0-2.9 0 2.3 0-2.7 0 1.9 0-3.7 0 2.3 0-2.2 0 .4 0-1.9 0 1 .1-2.8 0 1.5 0-3.2 0 1.4 0-1.8 0 .7 0-1.5 0 .6 0-2.2 0 1 0-1.6 0 1.2 0-3.5 0 1.7 0-1.8 0 .6 0-2.3 0 .7 0-2.9 0 3 0-3.3 0 .7 .1-2.1 0 1.1 0-2 0 .3 0-1.2 0 .4 0-1.7 0 2.3 0-3.9 0 1.6 0-3.9 0 2.6 0-2.5 0 .9 0-3 0 3.1 .1-1.8 0 2.6 0-2.3 0 3 .1-.4 0 3.7 0-2.1 0 1.3 .1-.3 0 1.4 0-.5 0 1.6 .1-.7 0 2 0-.6 0 2.3 .1-1.2 0 3.8 0-2.8 0 3.7 .1-2.6 0 3.7 0-2.2 0 2.5 .1-1.2 0 2.2 0-2.2 0 3.5 0-1.6 0 2.2 0-.6 0 2.4 0-1.3 0 2.3 0-.3 0 1.3 0-.7 0 2.7 0-1 0 2.4 0-1.6 0 2.4 0-.8 0 1.7 .1-1.2 0 1.9 0-1.6 0 5 0-2 0 1.8 0-1.8 0 2.9 0-1.8 0 2.2 0-.3 0 1.8 0-.3 0 1.9 0-1 0 1.7 0-.3 0 1.4 0-.7 0 2.2 .1-2 0 4.3 0-3.1 0 3.2 0-.6 0 1.7 0-.9 0 2.8 0-2.6 0 2.7 0-1.4 0 3.4 0-.9 0 1.9 0-1 0 2.4 0-.7 0 2.7 0-2 0 3 0-1.8 0 2.4 0-1.7 .1 2.4 0-.5 0 1.3 0-.1 0 1.4 0-3.4 0 2.9 0-3.8 0 1.4 0-2.7 0 2.7 0-4.1 .1 2.1 0-2.7 0 1.4 0-2.3 0 .3 0-1.3 0 .2 0-3 0 1.7 .1-1.1 0 .4 0-2.6 0 1.9 0-2.8 0 2.8 0-4.6 0 1.6 .1-3.3 0 1.5 0-1.6 0 1.3 0-2 0 .4 0-1.4 0 .2 0-2.7 .1 1.6 0-2.3 0 1.1 0-1.4 0 .1 0-.7 0 2.4 0-1 0 2.4 0-1 .1 2.9 0-1.9 0 2 0-.9 0 2.9 0-1.6 0 2.9 0-3 0 4.2 0-2.4 0 3.8 0-2.7 .1 3.2 0-1.3 0 1.8 0-.6 0 1.8 0-1.4 0 3.1 0-1.1 0 1.4 0-1.2 0 2.5 .1-2.5 0 3.3 0-1.2 0 5 0-2.8 0 1.9 0-1 0 2.9 0-1.1 0 1.9 0-1.3 .1 2.6 0-1.4 0 2.5 0-.8 0 1.8 0-1 0 2.1 0-1.4 0 2.7 0-1 .1 .9 0-2.5 0 2.7 0-3.4 0 2.3 0-3.3 0 .7 0-3.6 0 2.5 .1-2.9 0 1.1 0-1.8 0 1.2 0-1.8 0 .6 0-1.5 0 .5 0-5.2 0 3.8 .1-2.7 0 .9 0-1.2 0 .5 0-2.5 0 1.1 0-2 0 .7 0-1.3 .1 .4 0-1.6 0 .2 0-1.3 0 1.4 0-2.4 0 .3 0-2 .1 .5 0-2 0 1.4 0-.8 0 2.4 0-2 0 2.4 0-1.2 0 1.8 0-1.8 0 4.6 .1-1.8 0 1.9 0-.3 0 1.2 0-.5 0 1.7 0-.5 0 2 0-.7 0 1.9 0-.8 .1 1.6 0-1 0 2.3 0-.2 0 2.5 0-1.4 0 1.9 0-1.2 0 3 0-1.2 0 1 0 .2 .1 .9 0 1.3 0 1.4 0-1.2 0 2.8 0-.8 0 3.5 0-1.9 0 1.8 .1-.9 0 1.4 0 .1 0 1.9 0-1.1 0 1.8 0-1.2 0 1.4 0-3 0 1.4 .1-1.8 0 1.5 0-2.4 0 1.1 0-3.3 0 1.2 0-2.2 0 1.3 .1-3.8 0 3.6 0-2.9 0 1.1 0-1.8 0 .2 0-2.2 0 1 0-2 .1 1.1 0-3 0 1.7 0-2.2 0 .9 0-3.5 0 2.6 0-3.6 0 2 0-3.6 .1 2.2 0-2.7 0 1.9 0-2.2 0 1.9 0-3.1 0 1.3 0-3.1 0 1.6 .1-1.2 0 1.9 0-.7 0 1.7 0-.2 0 2.5 0-1 0 1.9 0-1 .1 1.8 0-.3 0 1.3 0-.6 0 3.3 0-2.6 0 3.9 0-3.4 0 3.7 0-.7 .1 1.6 0-1.1 0 2.6 0-1.2 0 3 0-1.6 0 2.5 0-1.1 0 1.4 0-.3 .1 1.7 0-.6 0 4.4 0-2.7 0 1.3 0-1.5 0 2.4 0-.4 0 1.7 0-.1 0 1.5 .1-1.4 0 2.2 0-.1 0 1.9 0-2.8 0 1.4 0-1.4 0-.2 .1-1.4 0 .2 0-2 0 1.3 0-2.1 0 .7 .1-1.9 0 1.5 0-2.7 0 1.1 0-3.5 0 2.6 .1-2.9 0 1.9 0-3.2 0 1.9 0-3.1 0 1.2 0-1.7 .1 .2 0-1.2 0-.3 0-1.4 0 1.2 0-2.4 0 1.8 .1-.3 0 2.8 0-2.2 0 2.1 0-1.3 0 2.5 0-.7 .1 1.6 0 .1 0 1.7 0-.3 0 1.8 0-1 .1 1.7 0-1.2 0 2.3 0-.7 0 2.4 0-2.4 0 3 .1-.3 0 2.2 0-.8 0 2.6 0-1.9 0 2.7 .1-2.3 0 4.4 0-4.7 0 2.2 0-3.8 0 2.8 0-2 0-.1 0-1.1 0 .2 .1-1.8 0 .6 0-2.8 0 1.3 0-1.2 0 .7 0-1.7 0 .1 0-1.5 .1 .2 0-1.9 0 .4 0-2.6 0 1.8 0-1.7 0 1.3 0-2 0 .3 .1-1.5 0 .3 0-2.3 0 .8 0-1.4 0 1.1 0-4.7 0 4.4 .1-3.1 0 .4 0-1.9 0 .4 0-1.3 0 2.3 0-1.1 0 2.5 .1-1.3 0 2.1 0-1.3 0 1.9 0-1.1 0 1.9 0-.6 0 2.1 .1-.2 0 1.7 0-2.6 0 4 0-.9 0 2 0-1.7 0 3.6 .1-3 0 3.4 0-.6 0 1.6 0-.5 0 1.6 0-.8 .1 2.1 0-.4 0 2.9 0-2.5 0 2.6 0-2.3 0 3.4 0-2.3 .1 1.8 0-1.5 0 .6 0-4 0 2.5 0-1.2 0-.1 0-1.1 0 3.7 .1-5.6 0 1.2 0-2.9 0 1.2 0-2 0 1.1 0-1.9 0 .7 0-1.4 0 .7 0-2.5 .1 .8 0-1.7 0 .7 0-2.1 0 .8 0-2.2 0 .4 0-1.1 0 .9 .1-2.6 0 1.3 0-2.7 0 .5 0-1.5 0 .9 0-1.8 0 .5 0-2.4 .1 2 0-3.8 0 3.3 0-2.8 0 3.3 0-1.8 0 2.5 0-.3 .1 1.3 0-.3 0 1.7 0-.5 0 2.5 0-1.6 0 1.5 0 .3 .1 1.4 0-.3 0 1.3 0-1.9 0 3.3 0-1.2 0 2.3 0-.1 0 1.7 .1-2 0 2.6 0-.3 0 2.4 0-1.6 0 2.7 0-1.5 0 2.5 .1-2.4 0 2.9 0-.1 0 2.3 0-1.1 0 3.9 0-4.2 0 1.8 .1-3.3 0 1.3 0-2.5 0 .9 0-1.7 0 1.8 0-4.1 0 3.1 0-3 .1 .6 0-3 0 2.1 0-2.1 0 1.1 0-2.8 0 1.5 0-4.3 0 2 0-1.6 .1 1.6 0-2.6 0 .2 0-2.3 0 1.2 0-2.2 0 1.1 0-2.2 0 1.1 0-1.8 .1 .3 0-1.6 0 .7 0-1.9 0 .9 0-2.5 0 1.3 0-2.4 0 .8 0-1.8 .1 2.1 0-1.1 0 2.1 0-.5 0 2.6 0-1.3 0 2.2 0-1.3 0 2.8 .1-2 0 2.5 0-1.3 0 2.5 0-2.6 0 3.5 0 2.5 .1-1.2 0 3 0-2.1 0 1.5 0-.7 0 3.1 0-1.6 0 1.7 0-.7 .1 2.2 0-2.7 0 3.6 0-1.3 0 3 0-1.8 0 3.1 0-1.2 0 2.5 .1-2.7 0 4.2 0-3.4 0 3.8 0-1.9 0 1.4 0-4.4 0 2.7 0-2.6 .1 2.2 0-3.7 0 3.1 0-4.4 0 2.7 0-3.9 0 2 0-3.4 .1 2.8 0-2.8 0 1.1 0-3.8 0 2.4 0-2.2 0 .3 0-1.6 0 1.1 .1-1.9 0 1 0-2.7 0 .5 0-2.6 0 1.9 0-3 0 2.7 0-3.4 .1 1.9 0-2.4 0 .2 0-2.5 0 1.3 0-3 0 2.4 0-2.1 0 2 0-.4 .1 1.8 0-1.2 0 1.9 0-1.9 0 3.6 0-1.4 0 3.2 0-2.4 0 2.1 .1-.4 0 2 0-1.1 0 2.4 0-1.5 0 2.5 0-.7 0 2.9 0-2.6 .1 5.2 0-3.2 0 3 0-3.5 0 4.5 0-1.4 0 1.9 0-.7 0 3.4 .1-4.3 0 4.4 0-1.3 0 2.4 0-1.9 0 3.1 0-.7 0 3.3 0-1.8 .1 1.3 0 1.9 0-1.8 0 .3 0-2.1 0 1 0-1.6 0 .7 .1-3.9 0 1.8 0-2.1 0 1.2 0-2.1 0 .7 0-2 0 .8 .1-2.5 0 1.4 0-1.9 0 1.7 0-2.5 0 .1 0-2.1 .1 1 0-2.8 0 2.3 0-3.5 0 2.4 0-2.4 0 1 .1-1.9 0 .5 0-1.9 0 1.4 0-2.7 0 3.1 0-3.1 0 3.1 0-2 .1 2.6 0-1.4 0 1.8 0-.2 0 2.1 0-1.5 0 3 0-2.2 0 2.7 0-1.6 .1 2.5 0-1 0 3.2 0-2 0 3.5 0-1.3 0 1.2 0-.6 0 2.6 .1-2.4 0 3.6 0-1.8 0 2.4 0-.5 0 .9 0 .4 0 1.2 0-.4 .1 2.2 0-.8 0 2.5 0-1.2 0 2.1 0-1 0 3.8 0-2.6 .1 2.5 0-4.5 0 1.7 0-2.3 0 .7 0-2.6 0 2.3 0-3.8 .1 1.9 0-3.7 0 1.9 0-3.1 0 2.1 0-2.1 0 1 0-1.6 .1 .4 0-2.5 0 2.7 0-3 0 1.2 0-3.9 0 1.7 0-1.4 .1 .1 0-1.3 0-.1 0-1 0 .9 0-2.1 0-.2 .1-1.4 0 1 0-2.1 0 2 0-.8 0 1.7 0-.5 0 2.3 .1-1.5 0 2.2 0-1.7 0 3.8 0-1.9 0 2.5 0-.8 0 1.3 0-.7 .1 1.9 0-.1 0 1.1 0 .2 0 1.9 0-1 0 2.8 0-1.9 0 2.8 0-2.4 .1 3.8 0-1.8 0 2.5 0-.4 0 1 0-.6 0 2.1 0-.1 0 1.9 .1-.8 0 1.1 0-.3 0 1.8 0-.6 0 1.9 0-1.6 0 .3 .1-1.8 0 1.8 0-3.1 0 1.1 0-3.8 0 3.7 0-4.1 .1 2.1 0-2.9 0 1.4 0-3.4 0 1.8 0-1.6 0 .3 0-2.7 .1 1.3 0-2.4 0 1.7 0-3.7 0 2.1 0-2.1 0 .9 0-3.1 .1 2.4 0-3.3 0 1.6 0-1.7 0 .5 0-1.2 0-.2 0-1.4 .1 .7 0-.5 0 1.7 0-3.1 0 5.1 .1-1.5 0 2.4 0-.9 0 1.8 0-.9 0 2.5 .1-1.9 0 1.8 0-.6 0 3.5 0-2.5 .1 3.9 0-2.1 0 2 0-.9 0 1.8 0-1.2 0 2.8 .1-1.2 0 2.8 0-1.8 0 3.3 0-1.5 .1 2.4 0-1 0 1.9 0-.7 0 2.7 .1-1.7 0 1.4 0-.7 0 3.4 .1-1.7 0 2.3 0-1.5 0 2.2 0-1.7 .1 3.6 0-1.2 0 2.6 0-1.2 0 2.4 .1-1.5 0 2 0-1.1 0 2 0-.7 .1 1.7 0-2 0 3.8 0-1.3 .1 3.6 0-1.4 0 1.9 .1-.7 0 3 0-1.7 .1 1.8 0-1.6 0 2.6 0-1.8 .1 2.9 0-.9 0 2.9 .1-1.4 0 1.9 0-1 0 2.3 .1-.6 0 2.1 0-1.6 .1 2.7 0-1.6 0 2 .1-.6 0 3.1 0-2.2 0 3 .1-1.8 .1 2.1 .1-.4 .1 1.8 .1-.3 .1 1.5 .1-.7 0 2.7 .1-1.4 .1 2.4 .1-1.5 0 1.8 .1 0 0 1.2 0-.3 .1 2.8 0-1.9 .1 3.2 0-1.6 .1 3.3 0-1.7 0 1.2 .1-.5 0 2.1 .1-1.8 0 4.1 0-3.8 .1 4.9 0-1.4 .1 1.9 0-2.1 .1 2.5 0-.3 0 1.6 .1-1.1 0 4 0-2.9 .1 3.7 0-2.1 0 3 .1-2.6 0 4.3 0-2.8 .1 3.3 0-2 .1 2.7 0-.8 0 2.7 .1-1.8 0 2.7 0-1.8 .1 2.8 0-1 0 2.7 .1-2.5 0 3 0-1 .1 2 0-1.1 .1 3.5 0-2.6 0 2.7 .1-1.2 0 2.9 0-1.9 .1 3.2 0-2 .1 4.4 0-4.7 0 5.8 .1-2.4 0 2.1 0-.5 .1 1.5 0-.2 .1 2 0-2.6 0 3.3 .1-.6 0 2.2 .1-.7 .1 2.6 0-2.1 .1 4 .1-2.4 0 2.2 .1-.3 .1 1.2 0-.4 .1 2.8 .1-2.3 0 2.7 .1-2.4 0 .8 0-1.8 .1 1 0-2.4 .1 1.3 0-2 0 .7 .1-2.1 0 .5 .1-2 0 1.1 0-2.7 .1 1.3 0-2.3 0 1 .1-2.8 0 1.5 .1-1.9 0 1 0-2.6 .1 1.8 0-2.1 0 .8 .1-2.3 0 1.3 0-1.9 .1-.1 0-1.4 0 .3 0-1.8 .1 1.3 0-2.8 0 1.4 .1-3 0 2.2 0-2.5 .1 1.5 0-3.7 0 1.2 .1-2 0 1.6 0-2.8 .1 1.3 0-1.8 0 .2 0-3.2 .1 1.9 0-1.3 0 1.2 .1-3 0 2.9 0-4.3 0 2.2 0-3.7 .1 1.6 0-2.5 0 1.4 0-2.7 0 3.2 0-4.3 .1 1.8 0-2.2 0 .2 0-1.4 0-.2 .1-1.1 0 .6 0-3 0 2.6 0-2.4 0 .2 0-1.7 .1 1.7 0-2.7 0 1 0-2.2 0-1.1 .1-.2 0-1.6 0 .4 0-2.2 0 1.3 0-1.6 .1 .3 0-2 0 .6 0-1.7 0 .8 0-2.4 .1 1.1 0-1.2 0 .8 0-3.9 0 3.9 0-4.7 0 1.7 0-1.6 .1 1.6 0-3.6 0 .9 0-2.6 0 2.4 0-3.1 0 1.3 0-1.8 .1 .8 0-1.9 0 .5 0-2.4 0 1.2 0-1.6 0 .9 0-2.3 .1 1.2 0-2.2 0 .5 0-1.5 0 .7 0-1.9 0 1.8 .1-3.4 0 1.8 0-3.1 0 1.2 0-2.5 0 .8 0-1.5 .1 1.1 0-1.1 0 2.3 0-.9 .1 2.4 0-1.8 0 2.2 0-1.3 .1 2.3 0-1.6 0 3.4 0-1.9 .1 3 0-1.3 0 2.2 0-.9 .1 1.8 0-.5 0 2.2 .1-1.5 0 3.2 0-2.2 0 2.3 .1-.9 0 1.8 0-.3 0 1.8 .1-.2 0 1.6 0-.4 0 1.2 .1 0 0 1.5 0-.9 .1 1.8 0-.9 .1 3.1 0-2.7 .1 2.6 0 .1 .1 2.5 0-1.3 .1 2.2 0-1.5 .1 2.3 0-1.6 .1 3.4 0-1.3 .1 2.5 0-3 .1 4.2 0-.8 .1 2.4 0-2 .1 3.9 0-3.4 .1 3.3 0-1.5 0 1.9 0-.2 .1 1.7 0-2 0 3.8 0-1.9 0 2.7 0-.6 0 1.8 .1-2.2 0 3.7 0-1.4 0 2.3 0-.3 0 1.4 .1-.2 0 1.7 0-1.1 0 2.2 0-.9 0 3.8 .1-2.5 0 1.8 0 .8 0-1.1 .1 2.8 0-1.5 0 3.5 0-2.4 0 3.3 0-1.1 .1 2.1 0-1.5 0 3.3 .2-2.4 .2 3.2 .2-1.2 0 .7 0-2.1 0 1.1 0-2.1 0 .4 0-1.3 0 1.1 0-2.5 0 2.2 0-4.1 0 .7 0-2.2 0 .8 0-1.2 .1 .2 0-1 0-.1 0-1.2 0 .8 0-4.1 0 3.7 0-3.2 0 1.8 0-2.6 0 .8 0-3.1 0 1.8 0-3.1 0 1.7 0-2.6 0 1.4 0-3.1 .1 2.7 0-3 0 1.4 0-2.4 0 1.1 0-2 0 .3 0-3.3 0 1.7 0-1.1 0 .6 0-2.5 0 1.8 0-3.3 0 1.6 0-2.5 .1 1.7 0-3 0 2.4 .1-1.8 .1 4.5 .2-3.3 .1 .9 .2-1.4 .2 .3 .2-1.4 .1 1.1 .2-1.8 .1 1.6 0-3.3 0 1.4 0-2.4 .1 .6 0-1.9 0 .3 0-1.4 0 1 .1-2.5 0 1.7 0-3.5 0 1.2 .1-3 0 2.9 0-4.3 .1 2.2 0-2.4 0 2.2 0-4.1 .1 3 0-3 0 .3 0-1 .1 .5 0-2.2 0 1.1 0-2.5 .1 .8 0-2.7 0 1.8 0-1.8 .1 .7 0-2.3 .3 2.2 .3-2.7 .3 .8 0-1.3 .1 3.5 .1-2.5 .1 2.2 0-1 .1 2.7 .1-1.1 .1 2.2 0-2.5 .1 3.7 .1-.6 .1 2.2 0-2.8 0 2.2 .1-2.9 0 .8 .1-2.5 0 1.4 .1-2 0 1.9 0-2.9 .1 1.9 0-3.1 .1 1.3 0-3.2 .1 .9 0-1.9 0 2.2 .1-3.2 0 2.6 .1-4.6 0 3 .1-3.9 0 1.6 .1-4.6 0 4.2 .1-3.7 .1 2 0-2.4 .1 1.1 .1-2.7 0 1.7 .1-2.3 0 .3 .1-1.7 0 .4 .1-2 .1 1.8 .2-2.4 .1 1.1 .1-2.1 .1 2 .2-4.6 .1 2 0-2.3 0 2.8 0 .2 .1 2.1 0-1.1 0 1.9 .1-.9 0 1.6 0-.7 0 2.6 .1-1.4 0 1.4 0-.2 .1 1.5 0 1.6 0-1.6 0 3.1 .1-2.6 0 4.6 0-1.4 .1 2.3 0-1.7 0 2.3 0-.6 0 1.9 .1-.5 0 2.3 0-1.1 0 1.6 0-.5 0 2.2 .1-1 0 2.2 0-1.2 0 2 0-1.7 0 3.4 .1-1.5 0 2 0-1.4 0 3.6 0-2.5 0 3.7 0-2.8 .1 3.1 0-.4 0 1.1 0-.1 0 1.2 0-.4 .1 1.9 0-1.1 0 2.5 0-2.3 0 5.5 .1-3 0 2.6 0-.8 0 1 0-.3 .1 1.6 0-1.1 0 3.1 0-1.2 0 2.6 0-2 .1 2.7 0-.9 0 2.7 0-1.3 0 2.5 0-1.2 .1 2.8 0-2.6 0 2.4 0-.4 0 1.8 .1-1.2 0 2.2 0-1.7 0 4.4 0-2 .1 2.2 0-1.2 0 3.2 0-1.5 0 2.1 .1-1.7 0 2.8 0-.8 .1 1.9 0-1.4 0 2.3 0-.5 .1 2.3 0-2.3 0 3.7 .1-1.7 0 1.5 .1 2.2 0-.8 0 1.1 .1-1 0 2.6 0-1.1 .1 2.8 0-1 0 1.8 0-.3 .1 1.9 0-1.4 0 2.8 .1-1.4 0 2.3 0-.6 .1 1.6 0-.3 .1 1.5 0-.7 0 1.5 .1-.9 0 4.3 0-2.9 .1 2.5 0-.6 0 1.6 .1-1 0 2.5 0-1.6 .1 3.3 0-2.1 .1 2.9 0-.5 0 1.4 .1-2 0 4.2 0-2.6 .1 3 0-.9 .1 2.3 0-1.1 .1 1.8 0-.6 0 2.6 .1-1 0 1.2 .1-.7 0 2.4 .1-1.7 0 3.1 0-1.8 .1 3.1 0-1.3 .1 1.3 0-.1 .1 2 0-1.9 .1 2.7 0-1.2 .1 2.3 .1-1.6 .1 3.6 .1-1.6 .1 1.8 .1-.3 0 2.9 .1-1.6 .1 2.3 .1-1.2 .1 1.1 .1-.3 .1 2.1 .1-.6 .1 2 .1-.8 .1 1.9 .1-2.1 .1 1.9 0-3.1 .1 2.9 .1-3.4 0 1.4 .1-2.3 .1 1.9 0-3.6 .1 2.5 .1-3.4 0 .8 .1-2.3 .1 .9 0-1.7 0 1.9 .1-2.7 0 1.7 .1-4.8 0 3.4 0-3.7 .1 1.1 0-2.7 .1 1.8 0-1.8 0 .9 .1-2.1 0 .8 0-2.1 .1 .1 0-1.1 0 .4 .1-1.6 0-.1 .1-1.7 0 .3 0-1.3 .1 .3 0-1.6 0 .7 .1-2.1 0 1.5 .1-3.6 0 1.9 .1-2.6 0 1.3 .1-2.6 0 1.3 0-2.3 .1 3.6 0-5.3 .1 3.5 0-5.1 .1 2 0-1.8 0 3 .1-3.6 0 .1 .1-2 0 1.9 .1-3.3 0 2 .1-3 0 1.9 .1-2.6 0 1.1 .1-2.1 .1 2.2 0-4.1 .1 2.8 0-3.5 0 1.6 .1-2.6 .1 .2 0-1.9 .1 .3 .1-2.1 0 1.3 .1-2.8 .1 2.4 0-3.1 .1 2.3 .1-3.1 .1 1.2 0-3.6 .1 1.9 .1-1.8 0 1.6 0-3.7 .1 2.1 0-2.7 .1 .4 0-1.5 0 .7 .1-2 0 .6 .1-2.1 0 1.5 0-2.3 .1 1.5 0-2.5 0 1.6 .1-2.6 0 1.1 0-3.2 .1 1.6 0-2.8 .1 2.1 0-3 0 1.4 .1-3.2 .1 3.5 .2-2 .2 3.4 .2-3.6 .1 3.5 .1-2.2 .1 3.2 0-4 .1 .8 0-2.3 .1 1.3 0-3.1 .1 3.5 0-4.9 .1 3 0-4.4 .1 2.3 0-2.9 .1 1.4 .1-2.2 0 1 .1-1.8 0 1.6 .1-2.9 0 2.5 .1-3.4 .1 1 0-3 .1 1.6 0-2 .1 .1 .1-1.1 0 .8 .1-2 0 .8 .1-2.4 0 .8 .1-1.7 .1 1 0-2.9 .1 1.5 0-2.3 .1 1.4 0-3.3 .1 2 .1-2.1 0 1.8 .1-2.4 0 .7 .1-2 .1-.2 .4-.9 .4 .1 .1-.3 .1 2.5 .1-2 0 4.8 .1-3.3 .1 1.8 .1-.1 0 1.4 .1-.2 .1 .9 0-2 .1 3.8 .1-.9 .1 1.8 .1-.7 .1 2.6 0-1 .1 1.7 .1-.5 .1 1.2 .1-.5 .1 4.9 0-3.7 .1 3.4 .1-1.8 0 1.4 .1-2 0 4.2 .1-1.8 .1 3 0-3.1 .1 3.5 0-1.6 .1 2.7 .1-.6 0 1.6 .1-1.4 .1 2.5 0-.5 .1 1.3 .1-.3 .1 1.5 .1-.1 .1 2.3 .1-1.5 0 2 .1-1.3 .1 3.1 0-3 .1 3.9 0-1.4 .1 2.9 0-1.3 .1 1.7 .1-.4 0 1.7 .1-2.4 0 4.1 .1-.9 0 1.9 .1-1.5 0 3 .1-1.5 0 2.7 .1-1.1 0 2.2 .1-1.6 0 2.3 .1-1.6 0 2.8 .1-.6 0 1.6 .1-.8 0 2.2 .1-1.2 0 2.5 .1-.9 0 2.1 .1-.1 0 2 .1-1.4 0 2.2 .1-1.6 0 2.2 .1-1.1 .1 3.1 0-1.5 .1 1.7 0-.7 .1 2.5 0-.8 .1 2.5 .1-2.9 0 4.2 .1-1.9 0 3.1 .1-1.5 0 2 .1-2.5 0 3.4 .1-.6 .1 2 0-.3 .1 1.9 0-1.5 .1 2 .1-1.7 0 4.2 .1-2.5 0 2 .1-.1 .1 1.8 0-.3 .1 1.4 .1-.9 .1 2.3 .1-.7 .1 3.1 .1-2.2 0 2.6 .1-1.1 .1 3.1 .1-3 .1 3.9 .1-2.3 .1 2.7 .1-1.3 0 2.9 .1-1.9 .1 2.3 .1-1.5 .1 2.1 .1-.9 .1 3.6 .1-2.6 .1 2.6 0-1.2 .1 2.7 .1-.7 .1 1.7 .1-1.6 .1 4.1 0-3.2 .1 2 0-3.1 .1 .9 .1-4.1 0 3.2 .1-2.3 0 .6 .1-2.5 .1 .9 0-1.3 .1 .4 0-1.9 .1 1.6 .1-2.9 0 1.2 0-1.9 .1 .1 0-1.2 .1 .5 0-3.2 .1 2.5 0-1.7 .1 .7 0-1.9 0 1.1 .1-2.5 0 .6 .1-1.5 0 .4 0-2.1 .1 1.1 0-2.7 .1 .9 0-1.5 .1 1 0-2.8 0 1.5 .1-2.5 0 2.4 0-3.7 .1 2.3 0-2.8 0 .2 0-1.9 .1 .5 0-2.3 0 1.2 .1-2 0 1.5 .1-3.8 0 3 0-2.7 0 .3 .1-1.6 0 1.5 0-2.5 .1 .3 0-1.2 0 .1 .1-2 0 1.2 0-2.5 0 1.2 .1-1.7 0 .6 0-1.5 0 .3 .1-3.4 0 1.8 0-2.1 0 1.8 .1-2.2 0 1.6 0-3.5 0 1.1 0-1.9 .1 1.3 0-2.3 0 1.3 0-3.2 0 1.4 .1-2.2 0 1.9 0-3.7 0 2.3 .1-2.2 0 .9 0-3.8 .1 2.6 0-3 .1 .9 0-3.1 .1 2.3 0-1.8 .1 .8 0-2.4 .1 .9 0-3.2 .1 3 .1-3.9 .1 2.6 .1-2.4 .1-.2 .2-1.8 .1 .8 .1-2.5 .1 1.5 .1-3.4 .1 2.6 .2-1 .2 2.3 .2-2.3 .1 3.3 .2-1 .1 2.9 .1-2.4 0 2.8 .1-1.8 .1 2.5 .1-.5 .1 2.1 0-2.2 .1 3.2 .1-2 .1 3.8 0-2 .1 3.5 .1-2.3 .1 3.4 .1-2.1 .1 2.9 .1-.7 .1 1.9 .1-1.2 .1 2.5 .1-.7 .1 2.5 .1-1.6 .1 1.7 0-1.7 .1 3.2 .2-1.5 .1 3.6 0-1.7 .1 2.4 .1-1.1 .1 1.7 .1-1.4 .1 3.5 .1-2.4 .1 2.2 .1-.1 .1 1.4 .1-.6 0 1.8 0-.9 .1 2.6 0-1.1 .1 1.9 0-.8 0 2.5 .1-1.2 0 2.4 .1-1.5 0 3.1 .1-1.9 0 2.9 0-1.8 .1 3.4 0-1.6 .1 3.1 0-1.5 0 3.1 .1-3.5 0 3.3 .1-1.2 0 2.4 .1-.6 0 1.5 .1-.7 0 2.1 0-.9 .1 2.1 0-1.1 .1 3 0-2.4 .1 3 0-1.5 .1 3.1 0-1.7 0 4.6 .1-4.6 0 4 .1-1.5 .1 2.3 .1-2 0 2.9 .1-1 .1 2.8 .1-1.4 .1 2.6 .1-2 .1 2.3 .1-.8 0 2.1 .1-1.2 0 3.4 .1-2.1 0 2.3 .1-1.8 .1 2.8 0-1.8 .1 3.8 0-2 .1 2.6 0-1.2 .1 3.1 .1-1.3 0 1.4 .1-2.7 .1 4 .1-1.5 .1 3.2 .1-1.6 .1 2.5 0-2.9 .1 3.6 .1-.8 .1 2.1 .1-1.2 .2 2.5 .1-.5 .1 1.8 .1-.4 .2 2.1 .1-1.9 .1 3.3 .2-1.7 .2 2.8 .2-1.4 .2 1.6 0-2.1 .1 1.2 .1-2.6 0 2.2 .1-3.5 .1 1.6 .1-2 0 .4 .1-1.6 .1 .7 .1-2.1 0 1.8 .1-3.2 .1 1 .1-2.2 .1 .7 .1-2.5 .1 2.1 0-2.1 .1 1.9 .1-3.4 .1 1.9 .1-4.1 0 1.7 .1-1.9 0 1.2 .1-2.5 0 2.2 .1-4.2 .1 2 0-2.3 .1 1 .1-2.5 0 1 .1-1.4 0 .4 .1-2.2 0 2.9 .1-3.8 0 1.3 .1-1.8 0 1.4 0-2.8 .1 1.4 0-2.6 .1 .7 0-2 .1 .7 0-2.5 0 1.3 .1-2.4 0 1.5 .1-1.7 0-.1 .1-1.4 0 .5 .1-1.8 0 1.8 .1-.5 .1 1.3 .1-.3 .1 2.1 .1-.6 .1 3 0-3.8 .1 4.1 .1-2.7 .1 3.1 .1-3.3 0 3.5 .1-4.1 0 1.5 .1-3.3 0 1.2 .1-2.1 .1 .6 0-1.8 .1 1.4 0-1.9 .1 .8 0-1.8 .1 0 .1-1.5 .1 .5 .1-1.7 0 1.4 .1-3.3 .1 1.6 .1-3.2 .1 1.3 .1-1.8 .1 1.4 0-3.3 0 2.1 .1-2.5 0 2.6 0-3.3 0 .4 .1-2.4 0 1.2 0-1.9 .1 2 0-3.1 0 .8 0-3.3 .1 2.8 0-3.1 0 2.6 0-2.9 .1 .7 0-2.1 0 .4 .1-2.5 0 1.6 .1-2.2 0 2.2 .1-4.4 0 3.2 .1-3.8 0 1.2 0-1.8 .1 .6 0-2.5 .1 1.2 0-3.5 .1 2.9 0-3.4 .1 2.3 0-3.2 .1 2.2 0-2.4 .1 .2 0-2 .1 .4 0-2.4 .1 2 0-3.2 .1 1.7 0-2.4 0 2.6 .1-4.8 0 3.6 0-3.8 0 2.2 .1-3.3 0 .9 0-1.5 .1 .3 0-1.5 0 .1 0-2.7 .1 1.2 0-1.9 .1 .7 0-1.1 0 .1 0-2.2 .1 1.4 0-1.8 0 .8 .1-2.2 0 .9 0-2.6 0 2.7 .1-3.6 0 2.1 .1-4.7 .1 2 .1-2.2 .1 1.5 0-1.7 .1 0 .1-1.2 .1 .5 .1-3.2 .1 2.1 .4-2 .4 1.2 .4-1.6 .1 .3 .1-2.3 .1 .5 .1-2.5 .2 1.5 .1-2.3 .1 1.7 .2-2.3 .1 1.6 .2-2.4 .1 .1 .2-2.1 .1 2.8 .1-3.8 .2 1.6 .1-3.4 .2 2.3 .1-2.9 .2 1.7 .1-3.3 .2 2.1 0-2.6 .1 4 0-1.2 0 2.2 .1-1 0 1.3 0-.1 .1 1.8 0-.9 0 1.4 .1-.2 0 1.5 .1 .2 0 1.6 0-1 .1 3.7 0-2.9 .1 2.7 0-1.2 0 3.3 .1-2.7 0 3.1 0-1.2 .1 1.9 0-.5 .1 1.7 0-.3 0 1.5 .1-.4 0 1.6 0-.6 .1 2.4 0-1 .1 2.8 0-2.1 0 4.7 .1-2.7 0 2.2 0-.8 .1 1.2 0 .2 0 1.5 .1-.3 0 2.5 .1-2.7 0 3.1 0-1.3 .1 2.2 0-1.6 0 3.3 .1-2.4 0 3.3 0-1.6 .1 2.5 0-.6 .1 1.7 0-.3 0 1.5 .1-1 0 2.8 0-2.7 .1 4.3 0-1.5 0 2.2 .1-1.8 0 2.9 0-2.3 .1 3.9 0-1.3 .1 2.2 0-.7 .1 1.8 0-.8 .1 1.4 0-.5 .1 2.3 0-.7 .1 2.2 .1-1.3 0 2 .1-2 0 4.9 .1-3.2 .1 4.4 0-3.2 .1 3.5 0-1 .1 1.2 .1-1.3 0 3.1 .1-1 .4 .9 .3-2.8 .4 2.5 .2-2.8 .1 2.6 .2-.9 .1 4.1 .2-2.8 .1 1.6 .1-.1 .2 1.7 0-.5 .1 2 0-.5 .1 1.6 0-.4 0 1.8 .1-.7 0 1.4 .1-2 0 2.9 .1-.2 0 2.7 0-2.3 .1 3.2 0-1.8 .1 2.7 0-1.1 0 2.1 .1-1.1 0 2.8 .1-1.3 0 1.6 .1-.2 0 2.8 .1-2.8 0 3.6 0-2.1 .1 2.1 0-1.3 .1 3.6 0-2.6 .1 3.9 0-2.8 0 3.1 .1-1.5 0 3.8 .1-1.8 0 2.5 .1-2.3 0 3.6 0-2 .1 3.2 .1-1.4 0 2.4 .1-2.3 0 3.1 .1-1.6 .1 3.4 0-2.2 .1 2.6 0-1.3 .1 2.1 0-1.5 .1 2.4 .1-1 0 2.2 .4-1.8 .4 3.1 .4-1.1 0 .9 .1-2.2 .1 1 0-1.9 .1 1.5 0-3.4 .1 3.1 0-3.6 .1 .2 0-1.4 .1 1.2 0-1.8 .1 .7 0-2.3 .1 0 .1-1.5 0 .6 .1-1.4 0 .9 .1-3.2 0 1.4 .1-2.2 0 1.5 .1-2.9 0 1.8 0-2.6 .1 .6 0-1.2 0 1.9 .1-2.8 0 .1 .1-3 0 2.3 0-2.3 .1 1.5 0-2.9 .1 1.6 .1-.8 .2 1.2 .2-.2 .1 3 .2-2.1 .1 2.8 0-1.8 .1 2.5 0-1.3 .1 2.1 0-1.1 0 2.3 .1-1.5 0 2.7 .1-.7 0 2.5 .1-1.1 0 1.2 0-1.4 .1 3 0-1.7 .1 3 0-1.6 .1 2.3 0-1.4 .1 2.2 .1-.5 .1 2 .1-.7 0 1.6 .1-.6 .1 3 .1-1.4 .1 2.9 .1-2.1 .1 1 .1-2.4 .1 2 .1-2.8 .1 .6 .1-3.1 .1 1.8" clip-path="url(#cd)" stroke="#ffff00" stroke-width="2.5" fill="none" stroke-linejoin="miter" stroke-miterlimit="2" stroke-linecap="butt"/>
<path d="M399.8 517.7l.8 18.3 1.5 13.1 1.7 5.8 2.2 2.2 2.9 .4 .8 0 2.9-.8 2.9-2.1 2.9-.8 3 .3 2.9-.3 2.9 2.2 2.9 1.5 2.9 .4 3 1 2.9 .5 2.9-.5 2.9-1.4 2.9-.8 3-.7 2.9-2.9 2.9-1 2.9 1 2.9 2.2 2.9-.3 3 1 2.9 1.5 2.9 1 2.9 .4 3 0 2.9-.7 2.9-1.5 2.3-1.7 3-1.2 2.9 1.2 3 .6 2.9 1.1 2.9 .8 2.9 .7 2.9 .3 3-.6 2.9-.4 2.9-1.5 2.2-1 2.2 1.4 2.9 1.5 4.4 .3 4.4 .3 4.3 .3 4.4-.3 4.4-1 2.9-1.5 2.9-1.4 2.2-.5 2.2 .9 2.9 1 3-1.4 1.4-2 1.5-.5 1.4 1.7 1.5 2.2 1.5 .7 2.1-1.4 2.2-2.2 2.2-1.9 1.6-.6 3 .6 2.9 .9 3 .3 2.2-.3 2.1 1.7 2.2 2.2 1.5 1.5 2.2-1.5 2.2-1 2.2 1 2.1-.7 2.2-.7 2.2-.8 2.2 1.8 2.2 1.9 2.2 1 2.2-1 2.2-.8 2.2-.7 2.2-1 2.2-.4 2.1 1.4 2.2 1.5 2.2 .4 2.2 .3 2.2-1.5 2.9-.7 2.9 0 2.9 .7 3 1.2 2.9 .6 2.9-.3 2.9-.7 2.2-1.5 2.2-1 2.2-.4 2.2 .7 2.9 1.4 2.9 .8 3 .4 3.3 0" clip-path="url(#cd)" stroke="#ff0000" stroke-width="2.0" fill="none" stroke-linejoin="miter" stroke-miterlimit="2" stroke-linecap="butt"/>
<path d="M399.8 541.8l.8 8.7 1.5 5.2 1.7 1.8 3 0 2.9-.4 2.9-.7 2.9-2.2 2.9-.7 3 .3 2.9-.3 2.9 2.2 2.9 1.4 2.9 .4 3 1.1 2.9 .4 2.9-.4 2.9-1.5 2.9-.7 3-.7 2.9-3 2.9-1 2.9 1 2.9 2.2 2.9-.3 3 1.1 2.9 1.4 2.9 1 2.9 .5 3 0 2.9-.7 2.9-1.5 2.3-1.8 3-1.1 2.9 1.1 3 .6 2.9 1.2 2.9 .7 2.9 .8 2.9 .2 3-.6 2.9-.4 2.9-1.4 2.2-1.1 2.2 1.5 2.9 1.4 4.4 .4 4.4 .2 4.3 .3 4.4-.3 4.4-1 2.9-1.4 2.9-1.5 2.2-.4 2.2 .8 2.9 1.1 3-1.5 1.4-1.9 1.5-.6 1.4 1.8 1.5 2.2 1.5 .7 2.1-1.5 2.2-2.2 2.2-1.9 1.6-.5 3 .5 2.9 .9 3 .3 2.2-.3 2.1 1.8 2.2 2.2 1.5 1.4 2.2-1.4 2.2-1.1 2.2 1.1 2.1-.8 2.2-.7 2.2-.7 2.2 1.7 2.2 1.9 2.2 1 2.2-1 2.2-.7 2.2-.7 2.2-1.1 2.2-.4 2.1 1.5 2.2 1.4 2.2 .4 2.2 .4 2.2-1.5 2.9-.7 2.9 0 2.9 .7 3 1.1 2.9 .6 2.9-.2 2.9-.8 2.2-1.4 2.2-1.1 2.2-.4 2.2 .7 2.9 1.5 2.9 .7 3 .4 3.3 0" clip-path="url(#cd)" stroke="#0000ff" stroke-width="2.2" fill="none" stroke-linejoin="miter" stroke-miterlimit="2" stroke-linecap="butt"/>
<rect x="607.1" y="347" width="66.8" height="45.3" fill="#fff" stroke="#262626" stroke-width="0.7"/>
<path d="M609.9 354h19.0" stroke="#ff00ff" stroke-width="2.0"/>
<text x="631" y="356.8" font-size="7.7">Susceptible</text>
<path d="M609.9 364.63h19.0" stroke="#ffff00" stroke-width="2.0"/>
<text x="631" y="367.43" font-size="7.7">Infected</text>
<path d="M609.9 375.26h19.0" stroke="#ff0000" stroke-width="2.0"/>
<text x="631" y="378.06" font-size="7.7">Chronic</text>
<path d="M609.9 385.89h19.0" stroke="#0000ff" stroke-width="2.0"/>
<text x="631" y="388.69" font-size="7.7">AIDS</text>
<text class="cap" y="621.4" font-size="20.6"><tspan x="480.7" letter-spacing="0.9">(d)</tspan><tspan x="517.4" font-style="italic">β</tspan><tspan x="558.7" letter-spacing="0.2">0.8</tspan></text>
<path d="M536.6 612.1h14.9M536.6 617.4h14.9" stroke="#1a1a1a" stroke-width="0.9" fill="none"/>
</g>
<g id="pe">
<clipPath id="ce"><rect x="15.1" y="669.9" width="279.2" height="221.6"/></clipPath>
<rect x="15.7" y="669.9" width="278" height="220.4" fill="none" stroke="#262626" stroke-width="0.7"/>
<path d="M15.7 890.3v-2.8M15.7 669.9v2.8M43.5 890.3v-2.8M43.5 669.9v2.8M71.3 890.3v-2.8M71.3 669.9v2.8M99.1 890.3v-2.8M99.1 669.9v2.8M126.9 890.3v-2.8M126.9 669.9v2.8M154.7 890.3v-2.8M154.7 669.9v2.8M182.5 890.3v-2.8M182.5 669.9v2.8M210.3 890.3v-2.8M210.3 669.9v2.8M238.1 890.3v-2.8M238.1 669.9v2.8M265.9 890.3v-2.8M265.9 669.9v2.8M293.7 890.3v-2.8M293.7 669.9v2.8M15.7 890.3h2.8M293.7 890.3h-2.8M15.7 866.34h2.8M293.7 866.34h-2.8M15.7 842.39h2.8M293.7 842.39h-2.8M15.7 818.43h2.8M293.7 818.43h-2.8M15.7 794.47h2.8M293.7 794.47h-2.8M15.7 770.52h2.8M293.7 770.52h-2.8M15.7 746.56h2.8M293.7 746.56h-2.8M15.7 722.6h2.8M293.7 722.6h-2.8M15.7 698.65h2.8M293.7 698.65h-2.8M15.7 674.69h2.8M293.7 674.69h-2.8" stroke="#262626" stroke-width="0.7" fill="none"/>
<text x="15.7" y="902.4" font-size="8.6" text-anchor="middle">0</text>
<text x="43.5" y="902.4" font-size="8.6" text-anchor="middle">10</text>
<text x="71.3" y="902.4" font-size="8.6" text-anchor="middle">20</text>
<text x="99.1" y="902.4" font-size="8.6" text-anchor="middle">30</text>
<text x="126.9" y="902.4" font-size="8.6" text-anchor="middle">40</text>
<text x="154.7" y="902.4" font-size="8.6" text-anchor="middle">50</text>
<text x="182.5" y="902.4" font-size="8.6" text-anchor="middle">60</text>
<text x="210.3" y="902.4" font-size="8.6" text-anchor="middle">70</text>
<text x="238.1" y="902.4" font-size="8.6" text-anchor="middle">80</text>
<text x="265.9" y="902.4" font-size="8.6" text-anchor="middle">90</text>
<text x="293.7" y="902.4" font-size="8.6" text-anchor="middle">100</text>
<text x="12" y="893.9" font-size="8.6" text-anchor="end">0</text>
<text x="12" y="869.94" font-size="8.6" text-anchor="end">0.5</text>
<text x="12" y="845.99" font-size="8.6" text-anchor="end">1</text>
<text x="12" y="822.03" font-size="8.6" text-anchor="end">1.5</text>
<text x="12" y="798.07" font-size="8.6" text-anchor="end">2</text>
<text x="12" y="774.12" font-size="8.6" text-anchor="end">2.5</text>
<text x="12" y="750.16" font-size="8.6" text-anchor="end">3</text>
<text x="12" y="726.2" font-size="8.6" text-anchor="end">3.5</text>
<text x="12" y="702.25" font-size="8.6" text-anchor="end">4</text>
<text x="12" y="678.29" font-size="8.6" text-anchor="end">4.5</text>
<path d="M17 663.7l3.6 3.6m0 -3.6l-3.6 3.6" stroke="#262626" stroke-width="0.6" fill="none"/>
<text x="23.3" y="667.7" font-size="8.6">10<tspan dy="-3.8" dx="-0.7" font-size="6.9">4</tspan></text>
<text x="152.8" y="915.9" font-size="9.55" text-anchor="middle">Time(years)</text>
<path d="M15.8 841.6l0 1 0-2.7 0 1.5 0-2.2 .1 .5 0-1.7 0 2.9 0-4.3 .1 1 0-2.5 0 1 0-1.8 .1 1.1 0-2.4 0 .5 0-1 0-.2 .1-1.7 0 .5 0-.9 .1-.3 0-1.1 0 .1 .1-1.1 0-.2 0-1.1 .1 .4 0-1.9 .1 1 0-1.7 0 .3 .1-2.4 0 2.4 0-3.3 .1 1.3 0-2.4 .1 .7 0-2.2 0 1.2 .1-2.3 0 1.7 .1-2.2 0 .6 .1-2.1 .1 .8 0-1.6 .1 .1 0-2.2 .1 1 0-1.8 .1 2.2 0-4.3 .3 3.7 .3-3.1 .2 3.1 .3-2.1 .2 3.7 .1-2.2 .2 3.9 .2-1.8 .2 2.5 0-2.5 .1 1.3 .1-2.9 .1 1.5 .1-1.7 .1-.1 .1-1.3 .1 .6 .1-2.1 .1 .7 .1-1.8 .5 3.1 .5-2.3 0 1.8 .1-1.7 .1 4.7 0-3.4 .1 2.7 0-.3 .1 1.9 .1-2 0 2.6 .1-1.7 0 2.4 .1-.5 .1 1.9 0-.7 .1 1.9 0-.7 .1 2.2 0-.5 .1 2 0-1.5 .1 2.8 0-2.3 .1 3.9 0-2 .1 2 0-.5 .1 2.8 0-1.8 0 4.4 .1-2.9 0 2.1 .1-1.3 0 2.4 .1-.4 0 .8 .1 0 0 .1 .1-.9 0-.3 0-2 .1 1.3 0-4.2 0 2.8 .1-1.9 0 .4 0-1.5 .1 .5 0-2 0 2.6 .1-3 0 2 .1-4 0 1.4 0-2.9 0 1.7 .1-2 0 .5 .1-1.4 0 .6 0-2.2 .1 1.1 0-3.2 .1 2.4 0-3.8 0 1.7 .1-2.1 0 .9 .1-1.8 0 1.6 0-2.4 .1 0 0-2.3 .1 1.8 0-2.7 0 1.5 .1-1.8 0 .5 .1-2.5 0 1.2 .1-2 0 1.1 .1-3.3 .1 2.2 .1-4 0 2.7 .1-3.8 .1 2.6 .1-4.3 0 2.2 .1-2.6 .1 1.7 .3-1 .3 3.8 .3-2.7 0 4.6 0-3.5 .1 3.2 .1-1.7 0 1.9 .1-.7 0 2.1 .1-.7 0 2 .1-1 0 2.3 .1-2.2 0 3.6 .1-1.3 0 1.6 .1-.4 0 2.1 .1-2.3 0 .9 0-1.5 .1 1.5 0-2.6 .1 1.7 0-3.4 0 .2 .1-1.4 0 .7 .1-1.6 0 1 0-2.8 .1 1 0-1.8 .1 .3 0-3.5 0 2.7 .1-2.7 0 1 .1-1.3 0 .1 .1-1.5 .1 2.7 0-4.8 .1 1.6 .1-3.5 0 2.1 .1-1.8 .1 .2 0-1.4 .1 .7 .1-1.4 .1 1.1 .1-2 .1 3.5 .2-2.8 .1 3.7 .1-1.9 .1 2.7 .2-1.5 0 1.7 .1-2.8 .1 2.4 .1-3.1 .1 .7 .1-1.9 .1 1.4 .1-2.7 0 .9 .1-1.6 .1 .6 .1-1.4 .1 .5 .1-1.8 .1 .3 .1-2.5 0 2.8 .1-5.4 .1 3.3 .1-3.2 .1 2.8 .1-3.2 .1 .9 .1-3.1 0 3.6 .1-4.5 .1 2.1 .1-2.5 .1 .6 .1-3 .1 3.8 .1-5.2 .2 2.4 .1-2.4 .1 .7 .1-1.6 .2 0 .1-1.3 .1 0 .1-1.2 .2 .2 .1-2.2 .1 .9 .1-1.6 .2 .2 .1-2.5 .2 1 .1-1.8 .2 1 .1-1.5 .1 3.3 0-2.4 .1 2.2 .1-.6 0 1.6 .1-.6 .1 2.4 0-.6 .1 2 .1-1 .1 1.3 0-.4 .1 1.9 0-1.3 .1 2.7 .1-1.3 0 2.2 .1-.2 0 2.5 .1-1.4 .1 1.4 0-1.5 .1 2.9 0-1.2 .1 3.9 0-3.3 .1 3.1 .1-1.8 0 1.9 .1-1.8 .1 .1 0-3 .1 3.2 .1-3.4 .1 2.4 0-3.8 .1 3 .1-4.4 .1 2.5 0-3.2 .1 1.7 0-.9 .1 2.2 0-.2 .1 .9 .1 1.5 0-.4 .1 1.9 .1-.8 0 2.2 .1-.8 0 2.4 .1-2.1 0 3.7 .1-1.1 0 1.5 .1-1.9 0 .2 .1-1.4 0 1.6 .1-3.4 0 1 .1-1.7 0 .6 0-3.1 .1 2 0-2.9 .1 2.5 .1-3.6 0 1 0-2.4 .1 1.2 0-1.2 .1 .1 0-1.7 .1 3.4 0-1.1 .1 2.4 0-1.3 0 3 .1-1.4 0 1.9 .1-2.4 0 4 .1-2.7 0 3.6 0-.7 .1 1.6 0-1.4 0 2.7 .1-1.4 0 1.9 .1 .2 0 1.3 .1-1 0 1.6 .1-1.8 .1 .4 0-1.7 .1 .1 .1-1.9 .1 .5 .1-2 0 .8 .1-1.7 .1 1 0-1.8 .1 1.4 .1-.4 0 3.2 .1-2.3 .1 2.6 0-1 .1 2.2 .1-.5 0 1 .1-1.3 .1 3.5 0-1.4 .1 3.1 .1-3.9 .1 1.7 .1-1.9 .1 .9 .1-1.8 .1 1.7 .1-3.4 .1 1 .1-2.6 .2 1.6 .1-3.5 .2 2.5 .2-3 .2 1.1 .2-1.5 .4 1.4 .2-3.2 .1 4.5 .1-1.8 .1 2.1 0-2.3 .1 2.5 .1-1 .1 2 0-.8 .1 2.7 .1-1.5 0 2.9 .1-1.8 .2 2 .2-3.1 .1 3 .2-4 .2 1 0-.4 0 2.1 .1-2.1 0 3.3 0-1.7 .1 2.5 0-.9 0 2.2 .1-1.3 0 2.9 0-2.7 .1 5 0-1.5 0 1.5 .1-.3 0 1.4 0-.6 0 2.1 .1-1.1 0 2.2 0-.7 .1 1.5 0-.3 0 1.6 .1-.2 0 1.9 0-1.2 0 2.1 .1-2.6 0 3.6 .1 0 0 2.6 0-2.8 .1 5.2 0-4.8 .1 4 0-2 .1 2.5 0-.4 .1 2.4 0-1.6 0 2.1 .1-1.3 0 3.3 .1-1.7 0 1.4 0-.2 .1 2 0-1.1 .1 1.4 0-2 .1-.9 0 .9 0-4.2 .1 2.5 0-2.7 0 .8 0-2.1 .1 1.8 0-2.6 0 1.5 .1-2.8 0 .8 0-1.8 .1 .2 0-1.9 0 .7 .1-1.4 0 .4 0-2.2 0 2.1 .1-2.7 0 1.9 0-2.6 .1 .3 0-2 0 .5 .1-1.7 0 .5 .1-1.7 0 .3 0-2.5 .1 3.3 0-5.2 .1 2.3 0-2.2 .1 2.2 0-3.4 0 2.1 .1-3 0 1.2 .1-2.7 0 1.2 .1-1.3 0 1.1 .1-3.6 0 3 .1-1.8 .2 2.5 .1-1.2 .1 2.3 .1-1.7 .1 2.4 .2-1.1 0 3.3 .1-3.9 0 .2 0-1.7 .1 .7 0-2.9 .1 2.9 0-3.5 .1 1.5 0-2 0 1.1 .1-2.3 0 1.7 .1-3 0 1.5 0-4.1 .1 2.8 0-2.3 .1 .2 0-1.2 0 .9 .1-1.4 .1 1.8 .1-.9 0 2.2 .1-.5 0 1.7 .1-.5 .1 1.9 .1-1.9 0 3.2 .1-2.3 0 4.6 .1-2.4 .1 3 0-2.2 .1 3.3 .1-.9 0 1.7 .1-2.3 0 2.9 .1-.6 0 1.6 .1-.2 .1 1.4 0-.7 .1 3 0-.9 .1 2.9 0-3.2 .1 .6 0-2.5 0 2.8 .1-3.8 0 .6 0-1.6 .1 .5 0-1.1 0 .2 .1-2 0 .8 0-1.4 .1 .7 0-2.5 0 1.5 0-2.7 .1 1.5 0-2.8 0 .5 .1-1 0 1 .1-2.8 0 1.7 0-2.7 .1 .9 0-1.7 .1 .4 .1-1.9 .1 .5 .2-1.2 .1 .6 .1-2.3 .2 1.7 0-3.6 .1 1.8 0-2.2 .1 1.1 0-2.9 .1 1.3 0-2.5 .1 .7 0-1.3 .1 .6 0-2.4 .1 1.4 0-2.4 .1 1.4 0-3.2 .1 2.7 0-3.5 .1 2.6 0-.6 .1 1.9 0-2 .1 3.2 0-2.3 .1 3.5 0-1.3 .1 2.6 0-.8 .1 3 0-2.2 .1 1.4 .1-.6 0 1.7 .1-.3 0 2.4 0-.9 .1 1.8 0-.5 0 2.6 .1-2.2 0 2.4 .1-1.2 0 1.9 0-1.3 .1 3.3 0-1.4 0 2.7 .1-2.1 0 2.9 0-.4 .1 2.7 0-1.6 .1 2.4 0-2.1 0 4.3 .1-4 0 3.4 0-.8 .1 2.9 0-1.6 .1 2.4 0-.5 0 1.7 .1-2.7 0 4.2 0-1.4 .1 2.1 .1 1.5 0-.6 0 1.4 .1-.9 0 2.8 0-1.9 .1 2.3 0-1 0 2.2 .1-.4 0 2.9 0-1.4 .1 1.9 0-1.4 .1 2.6 0-.9 .1 2.6 0-1.3 0 2.2 .1-1.1 0 2.3 .1-1.8 0 2.3 0 .1 .1 1.2 0-.9 .1 2.3 0-1.6 .1 2.5 0-.7 .1 3.3 0-2.3 0 2.9 .1-1.5 0 2.9 .1-1.7 0 2.8 0-2.2 0 3.1 .1-1.1 0 1.6 0-.9 0 2.5 .1-.5 0 1.8 0-1 .1 2.1 0-1.5 0 3.3 0-2.1 .1 3.1 0-1.7 0 1.8 0 .1 .1 1.1 0-.1 0 2 .1-1.5 .2 2.7 .1-1 .1 1.5 .1-.7 .2 3 .1-1.5 0 1.4 0-2.3 .1 .8 0-2.3 0 2.1 .1-3.7 0 1.6 0-2.1 .1 1.6 0-3.4 0 1.1 .1-2.2 0 .6 0-1.4 0 .5 .1-2.1 0 1.5 0-2.2 .1 1.2 0-2.8 0 1.6 .1-2.1 0 1.8 0-3.9 .1 1.6 0-2.5 0 2 0-4 .1 1.5 0-2.2 .1 3.2 .1-4.8 .1 2.2 0-2.5 .1 1.1 .1-3.2 0 1.2 .1-2.3 .1 1.2 .1-1.3 0 .4 .1-1.5 .1 .7 .1-1.9 .1 1.3 .1-3.2 .1 .9 .1-3.2 0 3.7 .1-5.9 .1 2.9 0-1 .1 2.4 0-.6 0 1.7 .1-.4 0 1.8 .1-1.8 0 3.6 0-1.5 0 1.5 .1 .3 0 .7 0-.9 .1 2.5 0-1.4 0 4.2 .1-2.5 0 2.8 0-.9 .1 1.3 0-1 0 2.9 .1-1.7 0 1.9 0-.7 .1 2.4 0-1.2 0 2.4 .1-1.4 0 2.5 0-.7 .1 2 0-.6 0 3 .1-1.6 0 2.1 .1-2.4 0 3 0-.5 .1 1.7 0-.4 0 2.3 .1-2.1 0 4.3 .1-3 0 2.5 0-.4 .1 1.9 0-.5 0 1.3 .1-.1 0 1.5 0-.3 .1 1.4 0-.5 0 2 .1-.5 0 1.7 0-.9 .1 2.1 0-.3 0 1.5 .1-1.2 0 2.7 0-1.6 .1 2.1 0 .1 0 2 .1-1.7 0 2.1 0-1 .1 2.4 0-1.3 0 3.4 .1-1.6 0 1.8 0-.5 0 2.2 .1-1.9 .1 1.3 .1-2.6 0 1.6 .1-3 .1 .6 .1-2.6 0 .9 .1-2.6 .1 3.3 .1-3.7 0 1.5 0-1.9 .1 .3 0-1.6 0 .6 0-2.8 0 2.2 .1-3.5 0 1.4 0-1.8 0 .3 0-2.1 .1 2.1 0-2.6 0 .9 0-2.8 0 .7 .1-1.9 0 .9 0-1.8 0 1.5 .1-2.4 0 .5 0-2.2 0 1.3 0-3 0 1.3 .1-1.7 0 .9 0-1.8 0 1.9 0-2.3 0 3 .1-1.5 0 2.3 0 .3 0 1.8 0-1.1 0 2.2 0-.8 .1 1.4 0-.8 0 3.4 0-2.1 0 2 0-.7 0 2.1 0-.9 .1 2.4 0-1.9 0 3.4 0-1.3 0 3.6 0-2.6 0 2.5 .1-.5 0 .9 0 .1 0 2.6 0-1.4 0 2.1 0-1.5 0 1.8 .1-1.3 0 2.3 0-.4 0 3.5 0-1.8 0 2.2 0-1.2 0 1.7 .1-.2 0 1.9 0-1.8 0 2.9 0-1.5 0 2.6 0-.7 .1 1.7 0-1.6 0 2.5 0-.1 0 1.2 0 .3 0 1.2 0-.5 0 2.3 .1-1.7 0 4.4 0-2.6 0 2.5 0-2.1 0 3.6 0-2.3 .1 2.7 0-1.8 0 3.9 0-2.7 .1 .2 0-2.1 .1 1.7 0-2 .1 .8 0-3.2 .1 1.8 0-3.8 .1 2.7 0-3.2 .1 2.6 0-3.9 .1 3.4 0-3.9 .1 1.6 0-3.2 .1 1 0-2.4 .1 1.4 0-2 0 1.1 .1-1.9 0 1.1 .1-2.3 0 .5 .1-1.6 0 1.5 0-4 .1 2 0-1.9 .1 .2 0-1.6 .1 .9 0-2.4 0 1.2 .1-2.1 0 .2 .1-.3 0 1.7 0-.9 .1 2.7 0-1.8 .1 2.3 0-.9 0 2.3 .1-.6 0 3 0-1.2 .1 2.1 0-1.4 0 2.5 .1-1 0 1.5 0-.7 .1 2 0-1.1 .1 3.9 0-2.1 0 2.1 .1-1.3 0 3.5 .2-3.5 .2 1.7 .1-2.6 .2 1.1 .2-1.7 0 .9 .1-3.4 0 2.2 .1-3.4 0 2.6 .1-3.5 0 2.3 0-2.9 .1 .6 0-1.9 .1 1 0-2.2 .1 1 0-1.8 0 .4 .1-1.3 0 1.4 .1-3.2 0 1.3 .1-2 0 .8 0-2.4 .1 1.5 0-2.8 0 .7 .1-3.1 0 2 0-1.7 .1 .5 0-1.5 .1 1 0-2.3 0 .2 .1-1.3 0 .5 .1-2 0 2.6 0-3.7 .1 .3 0-1.6 0 .7 .1-2 0 1 0-2.5 .1 1 .1-1.2 .1-2.5 0 1.2 .1-1.6 0 .6 .1-2.1 .1 1.4 0-3.2 .1 1.6 0-2.1 .1 2.2 0-3.3 .1 1.6 .1-3.1 0 1 .1-2.9 0 1.9 .1-1.8 .1 1.2 0-2.2 .1 .5 0-2 .1 .7 .1-2.8 0 2.3 .1-3.3 0 2.4 .1-4.1 0 2.6 .1-2.3 0 1.8 .1-3.1 0 1.7 .1-2.6 0 1.7 0-3.8 .1 2 0-4 .1 2.5 0-2.2 .1 1 0-2.3 0 1.4 .1-2.3 0 .7 .1-1.8 0 1.1 .1-2.2 0 1 .1-3.5 0 1.8 .1-2.5 .1 1.7 0-2.4 .1 1.1 0-2.8 .1 1.1 .1-2.7 0 2.9 .1-3.6 0 1.1 .1-2.2 0 1.1 .1-1.2 0 .3 .1-1.6 0 .5 .1-2.6 0 1.7 0-3 .1 2.1 0-2.5 .1 1.2 0-3 0 2.6 .1-3 0 1.4 .1-2.5 0 1.6 .1-2.9 0 .8 0-1.9 .1 .4 0-1.6 .1 1.7 0-.1 0 1.8 .1-2.5 0 4.9 .1-2.4 0 2.8 .1-2.4 0 2.7 0-.8 .1 2.5 0-1.6 .1 2.1 0-.6 0 2.6 .1-1.6 0 4.3 .1-2.9 0 2.2 .1-1.3 0 2.4 0-1.7 0 2.6 .1-1.2 0 1.9 0-.3 0 1.4 .1-.2 0 1.7 0-.7 0 1.7 .1-1.4 0 2.4 0 1.9 0-.5 .1 1.4 0-.6 0 2 0-.7 .1 2.1 0-2 0 3.4 0-1.5 .1 1.7 0-.3 0 2 0-1 .1 2.4 0-.8 0 2.5 0-2.3 .1 3.4 0-1.9 0 2.5 0-1.1 0 2.5 .1-1.9 0 1.1 .1-1.2 .1 1.1 .1-2.2 0 .8 .1-2.5 .1 .5 .1-1.1 0 .7 .1-1.9 .1 1.5 .1-2.7 .2 1.6 .3-3.2 .3 1.7 .1-2 0 3.2 0-1.6 .1 2 0-1.5 .1 3.2 0-1.7 0 3.6 .1-1.7 0 2.1 .1-.6 0 1.1 0-.1 .1 2.3 0-1.5 .1 2.4 0-.9 0 1.4 .1 .3 0 1.3 .1-1 0 2.3 0-1.8 0 3.1 .1-1.6 0 3.8 0-2.7 0 2.3 0-.6 .1 1.5 0 2.3 0-1.1 0 1.8 .1-.8 0 2.1 0-2.1 0 3.8 0-1.8 .1 3.2 0-1.4 0 2.4 0-.9 0 2.2 .1-3 0 3.9 0-1.4 0 2.1 0-1.3 .1 2.2 0 1.3 0-.3 0 2.5 0-2.7 .1 2.8 0-2 0 3.1 0-1.6 .1 3 0-1.6 0 4 0-2.6 0 4.5 0-2.8 .1 3.6 0-3.5 0 4.1 0-1.1 0 2.7 .1-2.1 0 2.8 0-2 0 2.7 0-1.6 0 2.2 .1-.1 0 1.5 0 2 0-.8 0 1.1 .1-.2 0 1.9 0-1.2 0 2.7 0-1.8 .1 3.2 0-3 0 3.6 0-1.2 0 2.1 0-.6 .1 2 0-.5 0 1.4 0-.3 0 2.3 0-1.2 .1 2 0-.8 0 1.5 0-1.1 .1 2.5 0-.5 0 1.7 0 1 .1-.3 0 1.8 0 .1 .1 1.2 0-1 0 2.2 0-1.7 0 3.1 .1-.9 0 2.7 0-1.4 0 2.5 .1-1 0 1.8 0-.7 0 2.3 .1-2.5 .1 .7 .1-2.1 .1 2.1 .1-3.2 .1 2.6 .1-3.6 0 2 .1-2.7 .1 .5 .1-1.4 0 .5 0-2 0 1.1 .1-2.6 0 .3 0-1.5 .1 1.7 0-3.1 0 3 .1-4.6 0 1.7 0-3.5 0 1.9 .1-1.7 0 .6 0-1.7 .1 .2 0-2 0 1 .1-2.7 0 1.2 0-2.4 0 1.3 .1-2.4 0 1.2 0-2.1 .1 1.4 0-3.5 0 1.7 .1-1.8 0 1.6 .1-3.2 0 1.9 0-3.3 .1 2.6 0-2.6 .1 .5 0-1.8 .1 1.1 0-2.1 .1 .7 0-1.8 .1-.1 0-1.5 0 .5 .1-1.4 0 .7 .1-2.5 0 4.3 0-2.5 .1 4 0-2.5 0 1.5 0-1.9 0 4.5 .1-2.8 0 3.4 0-2.2 .1 2.7 0-1 0 2.5 0-1.2 0 2.1 .1-.9 0 2.9 0-1.6 .1 2.5 0-2 0 4.9 0-3.3 .1 1.7 0-.3 0 2.4 0-1.8 .1 2 0-.3 0 2.2 0-.4 .1 2.3 0-2 0 3.4 0-2.7 .1 4.1 .1-2.2 .1 2.2 .1-.7 .1 1.5 .1-.6 .1 1.9 .1-.8 .1 2.8 .1-3.2 0 .5 0-1.1 .1 1.2 0-2.3 0 .7 .1-2.1 0 .5 .1-2.7 0 1.3 0-4 .1 2.9 0-2.5 .1 2.3 0-2.8 0 1.4 .1-2.8 0 2.4 0-4 .1 2.3 0-4 .1 1.9 0-2.5 0 2 .1-2.6 0 2.1 .1-3.2 0 .4 .1-1.7 0 1.4 0-2.3 .1 .7 0-1.6 .1 1 0-3.3 .1 1.7 0-4 .1 2.8 0-1.7 0 .2 .1-2 0 .4 .1-2.1 0 1 .1-1.9 0 1.1 0-2.4 .1 1.4 0-2.6 .1 2.3 0-3.4 .1 3.3 0-3.8 0 1 .1-3.3 0 1.8 .1-3.9 0 3 .1-3 0 1.2 .1-1.8 0 1.5 0-2.9 .1 2.6 0-3.8 .1 2.1 0-3.1 .1 .5 0-1.6 0 .6 .1-1.6 0 1.4 .1-2.9 0 1.5 .1-2.4 0 1.2 .1-1.8 0 .4 .1-2 0 1.4 0-3.3 .1 1.5 0-2.1 .1 .9 .2-2.8 .1 1.9 .1-4 .2 3.2 .1-3.6 .1 1.1 0-.9 .1 2.1 0-.5 0 2.8 0-1.9 .1 2.1 0-.3 0 1.4 0-.2 .1 1.6 0-.3 0 1.8 .1-.9 0 2 0-1.4 0 2 .1-1 0 2.8 0-1.7 0 2.4 .1-.3 0 1.6 0-.1 .1 .9 0 .4 0 1.1 0-.7 .1 2.9 0-1 0 1.1 0-2.6 .1 3.9 0-.7 0 2.2 .1-.3 0 1.5 0-1 0 2 .1-.7 0 3.2 0-1.5 0 2.7 .1-2.1 0 2.1 0-1.2 0 2.2 .1-.7 0 3.1 0-2.5 0 2.9 .1-1.8 0 3.1 0-1.7 0 3.8 .1-2.6 0 4.4 0-2.8 0 3.2 .1-2.7 0 3 0-.6 .1 1.6 0-.4 0 1.8 0-1 .1 2.2 0-1.8 0 .2 .1-1.1 0-.2 .1-1.7 0 .9 .1-1.7 0 1.1 .1-4.1 0 2.9 0-1.8 .1 .3 0-2.4 .1 1 0-2.7 .1 1.4 0-2.8 0 1.7 .1-1.5 0 1.8 .1-3.3 0 2.4 0-4.2 0 1.5 .1-1.8 0 1.4 0-2.7 0 2.5 .1-5.5 0 2.4 0-2.2 .1 1.1 0-2 0 1.9 0-2.8 .1 .9 0-3 0 2 .1-3.7 0 1.8 0-2 0 .8 .1-1.6 0 2.5 0-5.1 0 1.8 .1-2.3 0 2.6 0-3.1 .1 1.3 0-2.1 0 .5 .1-2.1 .1 3.9 0-1.8 .1 3.1 .1-2 0 3.3 .1-1.6 .1 2.4 .1-1.1 0 1.7 .1-1 .1 3.4 0-2.3 .1 2.5 0-1 .1 2 0-1.7 0 3.2 .1-1.1 0 2.3 .1-.4 0 1.5 .1-.9 0 3.1 .1-1.7 0 2.4 0-2.2 .1 2.7 0-2.7 .1 3.6 0-.7 .1 2.4 0-2.4 .1 .6 0-1.1 .1 .1 0-1.8 .1 1.5 .1-2.5 0 .5 .1-1.8 0 .5 .1-1.2 .1 1 0-2.4 .1 .5 0-2.6 .2 .9 .1-1.7 .1 2 .1-2.8 .2 1.8 .1-4 .1 3.1 .1-2.5 .1 3.4 0-2.3 .1 2.5 .1-1.5 0 2.6 .1-.9 .1 2.5 .1-3.4 0 5.4 .1-3.4 .1 4.3 .1-2.1 .1 2.5 0-.9 .1 1.3 .1-.5 .1 1.9 .1-.9 .1 1.9 .1 0 .1 1.3 0-.6 0 2.1 .1-1.5 0 2.6 .1-1 0 2.2 .1-1.2 0 2 .1-.4 0 2.7 0-2.7 .1 4.4 0-3.7 .1 3.9 0-2 .1 3.1 0-1 0 1.3 .1-.5 0 2.1 .1-2.6 .1 1.2 0-2.2 .1 1.4 0-3 .1 1.3 0-1.4 .1 .7 .1-1.6 0 1.1 .1-2.2 0 .9 .1-1.8 .1 .7 0-2.7 .1 .6 0-1 .1 .3 0-2 .1 1.5 .1-2.6 0 1.1 .1-2.2 0 .8 .1-2.1 .1 1 0-2 .1 2 0-3.5 .1 .4 0-2.4 .1 2.2 0-2.5 .1 .7 0-1.9 .1 1 0-1.6 0-.2 .1-1.4 0 .6 .1-2.9 0 2.9 .1-2.7 0 1 0-3.1 .1 1.5 0-2.7 .1 1.3 0-1.3 .1-.2 0-1.5 .1 .5 .1-2.4 .1 2.8 .1-4.2 .1 1.8 .1-1.6 .1 1.2 0-3.6 .1 2.1 .1-.7 .1 1.7 .1-1.1 .1 1.9 .1-1.4 .1 2.6 .1-.7 0 3.7 .1-3.8 .1 3.3 .1-1.7 .1 2.5 0-.8 .1 2.4 .1-1.2 .1 3.1 0-1.1 .1 1.1 .1-.1 0 1.8 .1-.4 .1 1.8 .3-.4 .3 .6 .3 0 .1 2.5 .2-2.1 .2 2.9 .2-1.7 .1 2.7 .1-1.7 .1 2.4 .1-1.6 .1 2.9 .1-.6 .1 1.8 .1-1.7 0 3.1 .1-1.5 .1 3.2 .1-1.8 .1 2.5 .1-2.5 .1 4.1 .1-1.6 0 2 .1-1 .1 2.7 .1-3 .1 5.3 .9-3.6 .1 3.2 .1-1.6 .1 2.5 .2-1.6 .1 2.6 .1-1.9 .1 2.4 .2-1.1 .1 2.6 .1-1.8 .1 3.9 .1-2 0 2.4 .1-1.4 .1 2.6 .1-.8 .1 1.7 0-.6 .1 2.3 .1-1.8 .1 2.5 .1-.5 0 3.5 .1-2.7 .1 2.8 .1-1.3 .1 2.1 .1-1.1 .2 2.9 .1-1.3 .1 2.3 .1-.9 .1 1.6 .1-1.4 .1 1.8 .3-.7 .3 1.6 .3 .2 0 .5 .1-2.1 0 .9 0-2.2 0 .8 .1-2.7 0 1.1 0-2.4 0 2.4 .1-2.8 0 .9 0-2 0 2.6 0-3.4 .1 2.2 0-3.6 0 .7 .1-2.3 0 1.1 0-2.4 0 1.3 0-2.7 .1 1.8 0-2.3 0 1 0-4.3 .1 2.7 0-2.2 0 2.4 0-3.2 .1 .5 0-1.7 0 1.6 0-2.7 0 1.2 .1-2.5 0 .7 .2-1.5 .2 0 .1-2.3 .2 1.5 .2-1.7 .2 1.1 .1-2.8 .2 1.5 .2-2.1 .1 .8 .1-1.8 0 .6 .1-2.5 0 1.2 .1-2.5 0 2.9 .1-4.6 0 1.4 .1-2 0 1 0-2.7 .1 2 0-2.3 .1 1.1 0-4.2 0 2.9 .1-1.9 0 .6 .1-2 0 .4 .2-2.6 .2 2.3 .2-3 .1 2.7 .2-2.7 .2 2.6 .2-1.6 .1 2 .2-1.4 .2 2.1 .1-2.7 .1 2.5 0-2.9 .1 1.1 .1-3.3 .1 2.1 .1-4.9 .1 3.9 .1-3.1 0 2.2 .2-5.3 .2 4 .2-2.4 .1 .6 .2-2.1 .2 1 .2-2.2 .2 2.7 .1-4.6 .2 2 .3-2.9 .3 2.1 .3-2.7 .3 1.8 .3-.6 .3 1.6 .1-.9 0 2.9 .1-1.1 .1 2.6 .1-2.2 .1 2.2 .1-1.3 .1 2.3 0 .3 .1 1.1 .2-1.7 .2 .6 .2-1.3 .1 1.6 .2-3.9 .2 1.7 .2-2.5 .1 2 .2-3.4 .2 1.4 .2-2.3 .1 1.5 .2-2 .2 .2 .2-1.8 .1 1.5 .2-4.2 .2 3 .2-3.3 .1 1.7 .3-2 .3 .7 .3-2.2 .3 1.2 .3-1.7 .3 2.1 .2-2.5 .1 1 .2-3.1 .2 1.4 .2-3.2 .1 3.7 .2-4.6 .2 2.5 .2-2.7 .1 .4 .1-2.1 0 1.2 .1-2.7 0 1.2 0-1.7 .1 .3 0-1.2 .1 .1 0-1.6 0 1.3 .1-3.8 0 1.9 0-2 .1 .9 0-1.4 0 1.5 .1-.7 0 2.9 0-1.4 0 1.1 .1-.2 0 1.8 0-1 .1 3 0-1.8 0 2.5 0-2.2 .1 3.9 0-.8 0 2.9 0-2.1 .1 2.9 0-1.6 0 2.2 0-1.4 .1 2.8 0-1.3 0 2.4 0-1.2 .1 3.3 0-2.6 0 3.3 0-1.7 .1 2.8 0-1.5 0 1.5 .1-1.2 0 2.8 0-3.1 0 3.8 .1-3.4 0 1.6 .1-3.1 0 2.3 .1-3.3 0 3.1 .1-3.6 0 .9 0-2.4 .1 .7 0-1.7 .1 1.2 0-1.8 .1 .3 0-1.8 0 1.2 .1-2 0 .3 .1-2.3 0 2.4 0-1.9 0 3 0-1 .1 2.2 0-.5 0 2.7 0-1.8 0 2.1 0-.9 .1 1.9 0-1.4 0 3.1 0-1.1 0 2.5 0-1.1 0 2.6 .1-1.3 0 1.7 0-1.1 0 2.1 0-.3 0 2.1 .1-1.7 0 2.7 0-1.6 0 2.3 0-1 .1 2.2 0-1.3 0 2.9 0-1 0 3.3 0-2.3 0 2.6 .1-1.1 0 2.3 0-1 0 2.2 0-1.9 0 2.7 .1-1.8 0 2.9 0-1.8 0 3.4 0-1.4 0 2.6 0-1.1 .1 1.8 0-.8 0 2 0-.7 0 2 0-.5 .1 1 0-2.3 .1 .2 0-1.3 .1 .8 0-2 .1 .6 0-1.7 0 1.1 .1-2.3 0 2.1 .1-3.4 0 1.1 .1-1.8 0 1.3 .1-2.7 0 1.4 0-3.2 .1 1 0-2.2 .1 2.1 0-2.9 0 1 0-1.7 .1 1.7 0-2.9 0 .4 0-1.7 .1 2.5 0-4.4 0 1.4 0-1.9 .1-.1 0-1.9 0 1.1 0-2.7 .1 2.3 0-2.8 0 1.6 0-2.5 .1 .7 0-2.6 0 1.8 0-2.7 .1 .9 0-2.8 0 1.6 .1-2.2 0 .9 0-2.2 0 1.6 .1-3.2 0 1.9 0-2.6 0 .8 .1-1.1 0-.2 0-2.2 .1 1 0-1.4 .1 .5 0-2.2 0 1.7 .1-3.4 0 1.4 0-3.3 .1 2.3 0-2.3 .1 .5 0-1.5 0 1.1 .1-2.4 0 1.9 0-2.9 .1 .5 0-2 0 1 .1-3 .3 2.6 .3-.1 .3 1.4 0-.4 .1 1.7 .1-1.2 0 2.5 .1-.8 .1 2.6 .1-1.9 0 3.1 .1-2 .1 2 .1-1.2 0 2.3 .1-1.1 0 3.8 0-1.8 .1 2.5 0-1.2 .1 2.1 0-.7 .1 1.6 0-.5 0 1.4 .1-1.7 0 3.6 0-1.4 .1 2.1 0-.8 .1 1.7 0-.8 .1 2.2 0-1.8 0 2.9 .1-1.6 0 3.7 .1-4.1 .1 1.9 0-2.9 .1 2.2 .1-1.9 .1 1.1 0-2.1 .1 0 .1-1.4 0 1.3 .1-2.9 .1 1.7 0-3.2 0 2.5 .1-3.1 0 1.3 0-2.9 .1 1.1 0-1.8 0-1.4 .1 1.3 0-3.3 0 1.9 .1-3.1 0 1.8 0-3.5 .1 2.4 0-4.1 0 2.8 .1-3 0 1.2 0-2.5 0 1 .1-2.7 0 1.7 0-1.7 .1 1.4 0-2.1 0 .3 .1-2.3 .2 1 .1-2.5 .2 1.3 .1-1.2 0 3.4 0-2 .1 2.1 0-.6 0 2.8 .1-1 0 3.5 0-2.4 .1 2.7 0-1.8 .1 2.7 0-3.1 0 5.5 .1-2.3 0 3.3 0-3.1 0 3.3 .1-1.5 0 2.2 0-1 0 2.4 0-1.4 0 2.3 0-.8 .1 2.3 0-2.4 0 3.7 0-.8 0 1.9 0-1.6 0 3.4 0-2.2 0 3.2 .1-1.6 0 1.8 0 .1 0 .8 0 1.3 0-1.6 .1 2.8 0-1.5 0 2.8 0-.4 0 1.5 0-.3 0 1.4 .1-.3 0 1.8 0-.4 0 1.7 0-.9 0 2.1 0-1.5 0 3.6 .1-1.1 0 2.4 0-1 0 1.3 0-1.1 0 2.2 .1-1.6 0 2.4 0-.4 0 3.5 .1-2.6 0 2.1 0-.7 0 1.9 .1-.5 0 1.5 0-.2 0 1.4 .1-.8 0 2.4 0-.2 0 1.3 .1-.5 0 1.8 0 1.4 .1-.2 0 1.2 0-.3 0 2.4 .1-1 0 1.6 0-.3 0 1 .1 .4 0 1.4 0-.3 .1 1.7 0-1.4 0 2.9 .1-1.4 0 2.6 0-1.1 .1 1.9 0-1.8 0 2.5 .1 2.3 0-2.7 .1 .7 0-1.6 .1 2 0-3 0 .1 .1-1.7 0 .8 .1-2.2 0 .9 .1-2.2 0 1.4 0-2 .1 1.4 0-2.3 .1 .8 0-1.8 .1 .3 0-1.4 .1-.1 .1-.6 .2 2.8 .2-1 .2 2.8 .1-1.8 .1 2.5 0-1.6 0 2.9 0-1.4 0 2.2 .1-1.4 0 2.8 0-1.6 0 2.8 .1-1.1 0 2.6 0-2.2 0 2.6 .1-.3 0 1.2 0-.1 .1 1.2 0-.5 0 1.5 0-.4 .1 1.9 0-.3 0 2 0-.9 .1 2.3 0-2.8 .1 3.5 0-1.6 .1 2.8 .1-2.3 0 3.2 .1-1.8 0 3.3 .1-1.4 .1 3.8 0-1.7 .1 2.4 0-2 .1 2.4 0-.6 .1 1.9 0-.3 0 1.4 0-.2 .1 2.5 0-2.4 0 3.2 0-2.4 .1 3.2 0-1.6 0 3.3 0-1.5 .1 1.9 0-.6 0 1.3 .1-.7 0 2.2 0-.2 0 1.9 .1-1.4 0 2.7 0-1.6 0 1.8 .1-.8 0 2.3 0-2.4 .1 5.2 0-2.6 0 2.2 0-.4 .1 2.2 0-3.8 .1 2.4 0-2.9 .1 1.8 0-2.6 .1 1.1 0-1.9 .1 .8 0-3.8 .1 2.4 0-3.3 .1 2.6 0-4.2 .1 3.5 0-4.3 .1 2.2 0-2.9 .1 2.4 .1-1 .1 1.9 .1-.4 .1 1.9 .1-1.1 .1 2.6 0-1.4 .1 2.7 .1-2.1 0 2.1 .1-3.7 0 3.4 0-3.2 0 1.4 .1-3.2 0 1.4 0-2.1 0 1.4 .1-2.2 0 1 0-2.6 0 1 .1-1.9 0 .7 0-1.7 0 .5 0-1.9 .1 .9 0-1.6 0 .9 0-2.4 .1 2.1 0-5 0 2.5 0-2.6 0 1.7 .1-1.9 0 1 0-2.7 0 1.3 .1-2.4 0 .6 0-2.7 0 1.6 .1-3.1 0 2.3 0-1.4 .1 2 .1 1.7 0-.4 .1 1.7 0-.6 .1 2.2 .1-1.4 0 2 .1-.7 0 2.5 .1-1.9 0 2.5 .1-.8 0 3.4 .1-3.2 0 3 .1-1.2 0 3.6 .1-2.3 0 2.2 0-1.9 .1 3.6 0-1.6 .1 2.9 0-1 0 1.3 .1-.9 0 2.6 .1-2.2 0 3.7 .1-2.5 0 2.9 .1-.7 0 1.6 0-.6 .1 1 0-1.8 0 .9 .1-2 0 .5 0-1.6 .1-.1 0-1 0-.1 .1-1.2 0-.2 0-3.9 .1 2.7 0-2 0 1.2 .1-1.9 0 1.5 0-2.3 .1 1.3 0-2.6 0 .6 .1-2.7 0 1 0-1.3 .1 1.5 0-2.9 0 .4 .1-2.6 .1 2.6 0-3.1 .1 .8 .1-1.3 .1 .7 0-3.6 .1 1.5 .1-2.3 0 1.2 .1-1.5 .1 1.1 0-.8 0 1.5 .1-1.2 0 2.2 0-1 0 3.9 .1-1.7 0 1.5 0-.4 0 1.3 0-.1 .1 2 0-.8 0 1.8 0-.5 .1 1.8 0-.8 0 1.8 0-.4 .1 1.4 0-2.1 0 3.4 0-.4 0 1.2 .1-.2 0 1.2 0-.4 0 2.6 0-1.3 .1 2.4 0-1.4 0 2.1 0-.9 .1 2.9 0-2.6 0 2.5 0 1.3 .1 .3 0-.1 0-1 0 .3 .1-2.7 0 1.8 0-2.4 0 .7 0-3.7 .1 3.7 0-2.6 0 .2 0-1.9 0 .8 .1-2.4 0 2.1 0-3 0 .9 0-1.6 .1 1.5 0-2.8 0 1.2 0-3.5 0 2.2 .1-2.5 0 1.5 0-2.7 0 1.3 0-1.9 .1 .1 0-1.9 0 .6 0-1.9 .1 1 0-2.1 0 .9 0-1.7 0 .3 0-1.5 .1 .1 0-1.9 0 .8 0-3.2 0 2.5 .1-1.4 0 3.8 .1-2.3 .1 2.3 0-3.3 0 5 .1-1.1 0 2.9 .1-1.7 0 1.5 .1-.8 0 1.9 .1-.9 0 1.8 .1 0 0 1.5 .1 0 0 2.7 .1-3 0 4.2 0-2.6 0 2.5 .1-.3 0 1.7 0-2.1 .1 3.9 0-3.4 0 4.1 .1-.8 0 2.9 0-1.6 .1 2.5 0-1.8 0 2.3 0-2.2 .1 3.6 0-.9 0 2.3 .1-.9 0 1.4 0 1.7 .1-.6 0 2 0-.9 .1 1.6 0-.3 .2-.1 .1-1.7 .2 .9 .2-1.6 .2 1 0-2 .1 .4 0-2 .1 .8 0-2.6 0 3.1 .1-4 0 2.7 .1-3.8 0 1.9 .1-2.5 0 1.1 .1-2.2 0 .6 0-2.3 .1 1.2 0-1.9 .1 .8 0-3.7 0 3.2 .1-2.4 0 1.3 .1-2.9 0 1.5 .1-2.5 0 1.3 .1-3.2 0 1.1 0-1.3 .1-.1 0-1.9 .1 1.1 0-2.2 .1 1.9 0-4.9 .1 3 0-2.3 0 .7 .1-1.8 0 1 .1-1.5 0 .1 .1-2.1 0 1.2 0-2.1 .1 1.4 0-2.9 .1 2.4 0-3 .1 1.5 0-2.9 .1 1.4 0-2.1 0 1.2 .1-3.3 0 1.3 .1-2.5 0 2.7 .1-4.2 0 2 .1-3.7 .1 3.2 .1-3 .1 3 .1-4.3 0 2.2 .1-3.2 .1 .8 .1-3.2 .1 2 .3-1.8 .3 1.6 .3-2.6 0 1.9 0-.2 0 2.1 .1-2 0 2.5 0-.8 0 2.2 .1-.5 0 1.1 0-.4 .1 1.7 0-.8 0 2 0-.4 .1 2.2 0-3.2 0 4.1 0-.6 .1 2.5 0-2.2 0 3.4 0-2 0 1.4 .1-2 0 .4 0-1.3 0 .7 0-1.7 0 .6 0-2.8 .1 2.7 0-3.3 0 1 0-2.2 0 .9 0-1.5 0 .3 0-1.6 0 .1 .1-1.8 0 .7 0-2 0 .8 0-2.5 0 1.9 0-3.4 0 1.9 0-3.2 .1 1.8 0-2.8 0 1.6 0-2 0 1.7 0-3.4 0 1.6 0-2.3 .1 .3 0-1.3 0 .7 0-2 0 .7 0-1.5 0-.1 0-1.3 .1 1.5 0-2.5 0-.2 0-1.7 0 2.4 0-3.9 0 1.8 0-2.7 .1 1.7 0-3.3 0 1.8 0-2.9 0 2.5 0-4.8 .1 2.4 0-2.4 0 1.5 0-2.3 0 2.2 0-3 0 .7 .1-2.5 0 1.7 0-2.3 0 1.8 0-3.6 0 1.4 0-2.7 .1 1.1 0-2.1 0 1.7 0-2.6 0 1.5 0-4.1 0 3.3 .1-2.5 0 1.2 0-3.1 0 1.1 0-3.4 0 2.9 .1-2.7 0 1.4 0-2.5 0 .2 0-1.7 .1 1.6 0-1 .1 2.5 0-.9 .1 2.1 .1-1.5 0 2.7 .1-1.2 0 3.8 .1-2.7 .1 3.7 0-2.7 .1 2.5 0-.6 .1 2.9 0-3.7 0 1.9 .1-2.1 0 .5 0-2.9 0 1.3 .1-2.2 0 1.9 0-3.4 0 2 .1-2.9 0 1.8 0-2.7 0 1.1 .1-2.1 0 1.4 0-2.1 0 .3 .1-3.8 0 3.5 0-2.9 .1 2.1 0-3.7 0 2.2 0-4 .1 2.8 0-2.8 0 .4 0-1.8 .1 .6 0-1.2 0 .1 0-1.6 .1 1.3 0-1.8 0 2.7 .1-1.5 0 2.3 .1-.5 0 1.7 0-.8 .1 1.6 0 .1 .1 1.4 0-.3 0 1.3 .1-.8 0 3.4 .1-2.9 0 4.3 0-2.6 .1 2.6 0-1.4 .1 2.3 0-.5 0 2.8 .1-4 .1 2.2 .1-2.4 0 1.6 .1-3.4 .1 1.2 0-1.9 .1 .5 .1-1.2 .1 0 0-1.3 .1 .1 0-.9 .1 1.9 0-.6 0 3.2 0-1.6 .1 2.5 0-1.2 0 1.4 0-.2 0 1.8 .1-3.1 0 4.2 0-1 0 2.9 .1-1.4 0 1.4 0-.4 0 1.8 .1-1.8 0 3.3 0-1.6 0 3 .1-.9 0 2.2 0-1.4 0 2 0-.6 .1 1.5 0-.1 0 1.4 0-.5 .1 2.6 0-1.8 0 2.2 0-.6 .1 1.4 0-1 0 1.5 0-1.8 .1 .9 0-2.6 0 1.2 0-2.2 .1 .6 0-3 0 2 .1-3.1 0 2 0-1.5 0-.1 0-1.7 .1 .6 0-1.7 0 .4 0-1.3 .1 1.3 0-2.9 0 2.4 .1-3.1 0 .1 0-3.1 0 2.2 .1-1.8 0 1.2 0-4.8 0 3.1 .1-2.3 0 2.1 0-2.7 0 1.8 .1-3.8 0 2 0-.8 0 2.1 0-.1 .1 2.5 0-1.6 0 2 0-2.2 .1 3.1 0-2.5 0 4.7 0-.9 .1 1.6 0-3.2 0 4.3 0-1.4 0 3.2 .1-1.4 0 1.8 0-1 0 2.1 .1-1.1 0 2.9 0-.8 0 1.4 0-1 .1 2.1 0-1.2 0 2.1 0-.5 .1 1.7 0-.5 0 2.1 0-.5 .1 1.6 0-.5 0 2.5 0-1.7 0 2.2 .1-2.3 0 1.1 0-2.6 0 1.5 0-2.6 .1 2.5 0-4 0 2.3 0-3.1 0 1.6 .1-2.5 0 1.9 0-3.1 0 .9 .1-2.3 0 .8 0-1 0 .1 .1-2 0 1.8 0-2.7 0 1.1 0-3.1 .1 1.2 0-2 0 .2 0-.8 0-.2 .1-1.1 0 .7 0-2.8 0 .8 0-1.5 .1 .6 0-1.8 0 .9 0-3.5 .1 2.3 0-2.2 0 1.1 0-2.1 .1 1.7 0-.6 0 2.9 .1-1.6 0 2.5 0-1.2 .1 1.4 0-.5 0 1.7 .1-.1 0 1.6 .1-.5 0 1.8 0-.3 .1 1.4 0-1.4 0 2.6 .1-.4 0 2.2 0-.6 .1 2.4 0-1.7 0 2.5 .1-1.1 .1 2 0-1.3 .1 1.9 .1-.6 .1 3.1 0-1.3 .1 1.1 .1 0 .1 1.2 0-.7 .1 2.5 .1-.7 0 1.7 0-1.4 .1 2.5 0-.3 0 2.1 .1-1.4 0 2.7 0-1.1 0 1.7 .1-.5 0 2.3 0-1.7 .1 2.3 0 1.8 0-1.7 .1 2 0-1.1 0 2.9 .1-.5 0 3 0-1.9 .1 1.8 0-.5 0 1.6 .1-.8 0 1.8 0-.3 0 1.7 .1-1.5 0 .5 .1-2.9 0 1.4 .1-1.9 .1 1.7 0-3.3 .1 2 0-2.3 .1 1 0-2.7 .1 2.2 0-3.1 .1 .3 0-1.8 .1 1.6 0-2.6 .1 .6 0-2 0 .9 .1-3.9 0 3.1 0-2.2 .1 .6 0-2 0 .5 .1-2 0 1.1 .1-2.2 0 .5 0-1.4 .1 .4 0-1.9 0 2.6 .1-4.2 0 1.3 0-2.8 .1 1.9 0-2.6 .1 1 0-2.6 .1 2.8 .2-.7 .1 1.9 .1-2 .1 3.6 .1-1 .2 1.8 0-1.7 .1 .1 0-1.5 .1 2.3 0-3.4 0 1.7 .1-3 0 .2 .1-2 0 .9 0-1.7 .1 .9 0-2.5 .1 1.6 0-2.2 .1 1.6 0-3.2 .1 1.6 0-2.5 0 2.1 .1-3 .1 2.3 .1-4.7 0 2.2 .1-2.3 .1 2.2 .1-3.9 0 .9 .1-1.7 .1 .5 .1-1.3 0 .6 .1-2 0 3.6 .1-1.6 0 1.9 .1-.2 .1 1.6 0-.8 .1 2 .1-.6 0 1.7 .1-1 0 1.9 .1-.5 0 2.4 .1-.9 .1 1.3 0-.9 .1 3.8 0-3.7 .1 4.1 0-1.9 .1 2.8 .1-2.2 0 3.8 .1-1.8 .1 3.1 0-1.9 .1 2.5 0-.5 .1 1.1 0-1.2 .1 3.1 .1-3.5 0 4 .1-1.9 0 2.9 .1-.4 0 1.4 .1-1.6 .1 2.9 0-2 .1 3.2 0-.9 .1 2.5 .1-.5 0 1.5 .1-.5 .1 1.7 .1-.5 .1 1.3 .1-.2 .1 2 0-.5 .1 2.1 .1-1.1 .1 1.6 .1-1.1 0 2.6 .1-1.7 .1 2.2 .1-.8 0 2.1 .1-.9 .1 2.3 0-.7 .1 2.9 .1-1.6 .1 1.2 .2-3.6 .1 2.3 .1-2.8 .1 2.2 .1-2.7 .2 .9 .3-1.6 .3 2.3 .3-1.8 0 3.5 0-2 .1 2.1 0-1.3 0 3.9 0-3.2 .1 2.6 0-1.9 .1 4 0-1.3 0 2.7 .1-1.1 0 1.8 0-.6 0 2.4 .1-.9 0 1.6 0-2.4 .1 3.4 0-.2 0 2.5 .1-1.6 0 2.2 0-2.1 .1 3.4 0-1.5 0 2.9 .1-2.3 .1 3 .1-.8 .1 2.3 .1-1.8 .1 2.8 .1-1.3 0 2 .1-1.7 .1 2.8 .1-1.6 .1 .8 .1-3.8 .1 2.8 0-3 .1 1.8 .1-3.3 .1 1.6 .1-2.3 .1 1.5 0-.8 0 2.5 .1-1.6 0 3 .1-2 0 3.6 0-2.6 .1 2.2 0-.6 0 2.4 .1-1.2 0 2.1 .1-1.2 0 2.2 0-1.1 .1 2.7 0-.4 0 2.7 .1-1.9 0 2.5 .1-1.1 0 1.7 0-1.2 .1 3.4 0-3.2 0 .7 .1-1.9 0 1 .1-1.8 0 .8 .1-2.4 0 1.2 .1-3.2 0 1.7 0-1.4 .1 .2 0-1.3 .1-.1 0-1.1 .1 .1 0-2.9 .1 3.1 0-3.7 0 1.8 .1-.7 .1 1.3 .1-.1 .1 1 .1 .3 .1 2.1 0-1.4 .1 3.3 .1-2.5 .1 2.9 0-2.4 .1 .7 0-2.8 0 1 .1-1.3 0 .1 0-2.4 .1 1.7 0-1.7 0 1.8 0-3.2 .1 1.5 0-3.7 0 1.2 .1-2.3 0 1.5 0-1.4 .1 .4 0-1.7 0 1.3 .1-3.1 0 1.8 0-3.3 0 1.7 .1-2.5 0 .6 0-2.7 .1 1.5 0-1.7 .2 2.4 .1-2.3 .2 2.9 .2-1.7 .2 2.8 0-2.4 0 2.4 0-3.1 .1 1.4 0-2.1 0-.2 .1-1.5 0 .5 0-2 .1 1.5 0-2.3 0 1.7 .1-2.8 0 1.2 0-2.6 .1 1 0-2 0 .6 0-1.7 .1 .3 0-1.6 0 .3 .1-1.3 0 .2 0-1.9 .1 .3 0-2.2 0 1.8 0-2.8 .2 2 .2-.5 .2 2.6 .1-1.7 .2 2.6 .1-1.8 0 .2 0-2.6 .1 1.5 0-2.7 0 1.9 .1-1.8 0 .5 .1-1.8 0 .5 0-1.8 .1 1.3 0-2.6 .1 1.3 0-2.8 .1 1.8 0-2.9 0 1.2 .1-2.4 0 .9 0-1.6 .1 1.2 0-2.6 .1 1.3 .1-2.9 0 1.4 .1-3.6 0 2.8 0-2.5 .1 .3 .1-2.4 0 .9 .1-1.9 0 .7 .1-1.3 0 .7 .1-1.6 0 2.8 .1-4.2 .1 1.9 0-1 .1 1.6 .1-1.3 .1 2.8 .1-2.6 .1 5.3 .1-2.4 .1 2.8 0-1.6 .1 2.7 0-1 .1 3.1 0-2 0 2.5 .1-1.2 0 2.8 0-2.4 .1 1.8 0-.6 0 2.8 .1-1.5 0 3.2 .1-1.4 0 1.3 0-.2 .1 1.6 0-.8 0 1.7 .1 .5 0 1.3 0-1.6 .1 3.4 0-2.5 0 3.5 .1-1.2 0 3.7 0-2.5 0 1.7 .1-.1 0 1.8 0-2.5 0 3.8 0-2.2 .1 3 0-.9 0 2.6 0-1.5 0 2 .1-.2 0 1.5 0-.8 0 2 .1-.3 0 1.6 0-1.8 0 3.4 .1-1 0 1.4 0-.8 0 2 0-1.5 .1 2.6 0-.1 0 1.5 0-.1 .1 1.9 0-1.7 0 2.3 0-.8 0 2.4 .1-1.1 0 2.2 0-1.4 .1 2.1 0-.2 0 1.5 .1-.1 0 1.9 .1-.4 0 1.3 0-.3 .1 2.1 0-.8 0 3 .1-2.2 0 3 0-1.8 .1 1.6 0-.4 .1 2.3 0-1.3 0 2.2 .1-.2 0 1.3 0-1.5 .1 3.6 .3-2 .3 .4 .3-1.9 .3 2.4 .3-1.3 .3 1.7 .1-2.4 0 .6 .1-1.5 0 2.1 .1-3.7 0 1.6 .1-3.3 .1 1.8 0-2.5 .1 1.5 0-1.6 .1 1 0-3.1 .1 2.4 .1-4.2 .1 2.6 .1-2.7 0 2.7 .1-3.4 .1 2.9 .1-4.8 .1 2.3 .1-3.3 .1 .9 0-1.8 .1 2.1 0-1.1 .1 2.7 0-2.2 .1 3.7 0-2.4 .1 2.4 0-1.5 0 3.2 .1-1 0 2.5 .1-1.1 0 3.1 .1-1.9 0 2.8 .1-2.1 0 3.4 0-2.7 .1 3 0-1.7 .1 1.7 0-2.8 0 .8 0-1.5 .1 0 0-1.9 0 1.2 .1-2.3 0 1.2 0-2.3 .1 .9 0-3.4 0 2 0-3 .1 2.2 0-1.9 0 1.3 .1-2.8 0 .8 0-1.7 .1 1 0-3.1 0 2.3 0-3.5 .1 2.3 0-3.1 0 1.8 .1-3.4 0 1.4 0-2.1 .1 .8 0-2.2 0 .5 .1-.9 0 .1 0-1.5 0 1.5 .1-2.5 0 .9 0-2.4 .1 .3 0-1.9 0 .8 .1-1.8 0 .8 0-2.3 .1 1.8 0-3.4 0 2.8 0-1.2 0 3.3 0-2.1 .1 3 0-1.5 0 1.3 0-1.3 0 2.7 .1-.4 0 1.9 0-.6 0 1.5 0-.3 0 1.7 .1-.7 0 2.1 0-1.3 0 2.1 0-.8 .1 2 0-1.2 0 2.8 0-1.1 0 1.8 .1-.3 0 1.9 0-.6 0 1.7 0-2.4 0 3.2 .1-1.2 0 2.5 0-2.2 0 3.4 0-.9 0 1.9 .1-.4 0 1.6 0-.3 0 2.3 0-.8 0 1.2 .1-.3 0 1.7 0-.7 0 1.6 0-.4 .1 2 0-.9 0 2.1 .1-.1 0 1.4 0-2.7 .1 4.1 0-.3 0 1.4 .1-.6 0 2.2 .1-1.4 0 2.7 0-1.9 .1 3.4 0-1.7 0 2 .1-1.6 0 2.7 .1-1.4 0 2.6 0-.1 .1 1.7 0-1.8 0 3.1 .1-1.7 0 1 0-2.6 .1 2.4 0-4.1 .1 1.6 0-3.4 0 1.9 .1-2.7 0 1 0-2.2 .1 2.2 0-2.9 0 .3 .1-1.3 0 .6 .1-1.8 0 1.4 0-3.6 .1 1.1 0-2.3 0 1.6 .1-1.5 0 .5 0-3.1 .1 1.2 0-2.9 .1 2.4 0-1.9 .1 .4 0-1.4 .1 1 0-2.3 0 1.3 .1-3.1 0 2.4 .1-3.5 0 1 .1-2 0 1.3 .1-3 0 1.8 .1-3 0 2.1 0-2.9 0 1.1 .1-3.4 0 2.7 0-2.8 0 2.2 .1-4 0 2.1 0-2.3 0 1.7 .1-3.7 0 1.7 0-3.7 .1 4.4 0-4.2 0 1.3 0-1.9 .1 .5 0-3.5 0 1.8 0-2.7 0 1.6 .1-1.6 0 .7 0-3 .1 2.2 0-3.1 0 1.6 0-2.8 .1 1 0-1.9 0 1.2 0-1.7 .1 .2 0-.5 0 2.1 .1-.9 0 1.3 .1 1.4 0-.1 0 1.9 .1-.7 0 3 .1-3 0 3.6 0-1.3 .1 2.9 0-1.8 .1 3 0-3 0 4.2 .1-2.3 0 3.3 0-2.1 .1 3.9 0-3.1 0 3.1 .1-1.9 0 3.3 0-1.7 .1 2.7 0-.7 0 2 0-1.6 .1 3 0-1.7 0 2.6 0-.8 .1 2.1 0-.8 0 1.4 0-1.6 .1 3.3 0-1 0 1.9 .1-1.2 0 2.9 0-1.4 0 1.7 .1-.9 0 2.7 0-1.4 .1 2.2 0-.7 0 1.8 0-.3 .1 1.1 0-.9 0 2.4 0-.5 .1 1.7 0-1.1 0 1.9 .1-.6 0 2.3 0-.8 .1 3.5 0-2.4 0 2.7 .1-2.9 0 3.2 0-1.2 .1 3.2 0-.8 0 1.5 .1-.1 0 1.3 0-.3 .1 1.5 0-1.8 0 3.8 .1-1.9 0 3.6 0-2.6 .1 3 0-2.2 0 1.7 .1-1.8 .1 .6 0-2.5 .1 .8 0-2.9 .1 3 .1-3.3 0 2.7 .1-2.7 0 1.2 .1-2.2 .1-1.9 .1 .3 0-1.3 0-.7 .1-.3 0-1.7 0 .9 0-2.5 0 2 .1-3.1 0 2.7 0-4.7 0 2 .1-2.5 0 2.5 0-3.4 0 .5 0-2.1 .1 1.4 0-1.8 0 .6 0-1.4 .1 .4 0-2.5 0 2.5 0-3.6 .1 1.5 0-2 0-2.4 0 1.7 .1-1.9 0 .2 0-1.9 0 1.1 0-1.7 .1 .7 0-2.5 0 .5 0-1.6 .1 1.8 0 .1 0 1.6 0-1 .1 1.7 0-.2 0 2 .1-1.1 0 2.3 0-.5 0 1.9 0-.8 .1 2.4 0-1.7 0 2.3 0-1.3 .1 2.4 0-1.7 0 2.3 .1 .1 0 3.1 0-2.6 0 3.9 .1-2.6 0 2.9 0-1 0 1.3 .1-.4 0 1.4 0-.7 0 2.3 .1-2.1 0 3.1 0-2.1 .1 3.1 0 .3 0 1.5 .1-.4 0 2 .1-1 0 1.2 0-.5 .1 2.2 0-.8 0 2.5 .1-.8 0 1.8 .1-1.6 0 3.2 0-1.1 .1 2.5 0-1.6 .1 1.4 0-.4 .1 1.9 0-.4 0 .2 .1-1.6 0 1 .1-3.5 0 1.4 .1-2.6 .1 2.2 0-3 .1 1.4 0-2.1 .1 1.9 0-3 .1 .5 0-2.1 .1 .8 0-1.4 .1 .7 0-3 0 2 .1-2.3 0 .9 0-2.3 0 1.5 .1-2 0 1.2 0-2.9 0 1.2 0-2.7 .1 2 0-3.2 0 .8 .1-2 0 1.1 0-2 0 .7 .1-3 0 2.5 0-2.2 .1-2.5 0 2.4 0-2 0 .9 .1-2.4 0 .2 0-1.7 0 1.9 .1-3 0 1.4 0-2.4 0 1 .1-2.3 0 .8 0-2.9 .1 1.6 0-2.1 0 .8 0-2.5 .1 1.6 0-1.9 0 .3 0-1.9 .1 .5 0-1.4 0 1.8 0-3.6 .1 3.2 0-3.5 0 .8 0-2.5 .1 .4 0-1.7 0 1.4 .1-1.1 0 1.9 0-1.2 0 2.3 .1-.5 0 1.7 0-.2 0 2.5 .1-1.8 0 2.3 0-2.1 .1 2.7 0-1 0 2.3 0-1.8 .1 2.6 0-.7 0 2 .1-.8 0 2.6 0-.8 0 2.8 .1-1.8 0 1.5 .1 2.1 0-1.3 0 3.2 0-2 0 1.4 .1 0 0 1.9 0-1.5 .1 2.7 0-.6 .1 1.3 0 1.8 .1-.9 0 2.1 0-.9 .1 2.2 0-1.2 0 2.3 .1-1.8 0 3.1 0-1.4 .1 3.4 0-1.6 .1 2.3 0-1.9 0 3 .1-2.6 0 4.5 0-2.4 .1 2.8 0-1.8 .1 .2 .1-2 0 .3 .1-1 0 .2 .1-1.9 0 1.2 .1-2.2 .1 1.6 0-3.3 .1 2.3 0-3.1 .1 1.3 .1-1.9 0 .5 .1-2.4 0 .5 0-1.1 .1 .8 0-1.6 .1 .6 0-3.4 .1 1.9 0-1.5 0 .5 .1-2.5 0 .6 .1-2.2 0 1.5 .1-3.6 0 3.4 0-3.2 .1 1 0-1.7 .1 1.7 0-3.3 .1 1.3 0-2.1 .1 .7 0-2.5 0 1.4 .1-1.5 0 .5 .1-2.5 0 .9 .1-1.5 0 .3 .1-1.3 0 1.6 0-3.3 .1 1.4 0-2.6 .1 .5 0-1.3 .2 1.5 .2-1 .1 2.6 .2-2.2 .2 3.4 0-2 .1 3.2 .1-1.1 0 1.7 .1 0 0 1.6 .1-1.3 .1 2.3 0-.1 .1 .9 0-.1 .1 2.5 0-2 .1 4.1 .1-2.8 0 1.7 .1-1.7 .1 4.3 .1-2.9 .1 3.3 .1-1.4 .1 2 .1-.9 0 2.1 .1-.7 .1 1.3 .1-2 .1 .9 .1-1.7 .1 .1 .1-2 .1 1 0-1.8 .1 .1 .1-2.5 .1 1.3 .1-2.9 .1 1.6 .1-1.9 0 1.1 .1-1.6 .1 .4 .1-2.7 .1 1.5 .1-1.9 .2 1.3 .1-2.2 .2 1.6 .2-2.3 .2 1.4 .1-2.5 .2 .6 .2-1.8 .2 0 .1-1.7 .1 1.2 .1-3 .1 1.4 .1-2.5 .1 1.6 .1-2.5 .1 .7 0-1.7 .1 .9 .1-1.5 .2 1.3 .2-2.3 .1 0 .2-2 .2 1 .3-1.5 .3 1.1 .3-2.9 0 3.8 .1-2.8 .1 3.9 .1-2.5 0 4 .1-2.1 .1 2.4 .1-1.3 0 2.5 .1-1.4 .1 3.7 0-2.3 .1 3.2 .1-1.9 0 2.2 .1-1.3 0 2.2 .1-1.4 0 2.9 .1-1.3 .1 2.6 0-4.5 .1 4.8 0-1 .1 2 .1 .1 0 1.1 .1-.2 .1 2.1 .1-1.2 .1 2.8 .1-1.9 0 2.7 .1-1.4 .1 2.5 .1-1.1 .1 3 .1-2.7 0 1.1 .1-2.2 0 1.1 .1-2.4 .1 .1 0-1.9 .1 .9 0-2.1 .1 1.1 0-1.9 .1 1.3 .1-2.3 0 .6 .1-2.3 0 1.3 .1-2.2 0 .8 .1-2.6 .1 2.1 0-3.4 .1 1.5 0-2.4 .1 1.3 .1-2.5 0 1.4 .1-2.8 0 1.8 .1-1.8 .1 .3 .1-.7 .2 1.6 .2-1.4 .1 3.6 .2-1.4 0 2.1 .1-1.5 0 2.4 0-1.2 .1 3.5 0-1.6 0 2.8 .1-1.9 0 2.5 0-1.5 .1 2.6 0-.5 0 1.5 0-1.1 .1 3.1 0-1.4 0 2.2 .1-2.1 0 3.7 0-1.2 .1 2.2 0-1.5 0 2.2 .1-1.7 0 3 0-2.1 0 3.9 .1-1.6 0 1.7 0-1.5 .1 .4 0-2.3 .1 1.1 0-4 .1 3.4 0-3.2 .1 1.9 0-1.5 0 1.2 .1-3 0 1.9 .1-2.6 0 1.7 .1-3.7 0 2.4 .1-3.4 0 .9 0-1.6 .1 .3 0-2.3 .1 1.8 0-3.1 .1 2.5 .1-2.6 0 1.3 .1-3.3 0 1 .1-3.1 .1 2.2 0-2 .1 .9 0-2.1 .1 1.1 .1-3.1 .1 1.4 .2-2.1 .2 .8 .2-1.8 .1 1.6 .1-.8 .1 1.1 0 .1 .1 1.1 0-.7 .1 2.1 0-1.2 .1 2.3 0-1 .1 3.4 .1-2 0 3.1 .1-3.2 0 3.3 .1-1.1 0 2.5 .1-2.3 0 3.4 0-1 0 2 .1-.8 0 2.1 0-1.7 .1 3.7 0-1.8 0 2.5 .1-.5 0 1.4 0-1.1 .1 2.6 0-1.3 0 2.4 0-.6 .1 3.4 0-1.8 0 3.7 .1-3.4 0 3.6 0-3 .1 3.4 0-1.9 0 3.7 .1-1.6 0 1.2 0-1.5 .1 2.2 0-3 .1 .7 .1-1.8 0 .6 .1-2.4 0 1.8 .1-3.3 .1 1 0-1.5 .1 1.6 0-3.5 .1 2.9 .1-3.3 0 2.5 0-3.8 .1 1.3 0-3.6 .1 2.6 0-3.1 .1 2.2 0-2.9 0 .4 .1-1.3 0 .7 .1-1.4 0 .4 .1-1.8 0 .5 0-2.1 .1 1.2 0-3.8 .1 3.1 0-3.7 .1 1.7 .1-1.8 .1 1.4 .1-2.8 .1 1.8 .1-3.2 .1 .9 0-2.8 .1 3.1 .1-3.8 .1 1.6 0-2.7 .1 1.4 0-2.6 .1 1.4 .1-3 0 1.8 .1-1.8 0 .4 .1-3.5 0 3.3 .1-2.8 .1 .8 0-1.8 .1 1.4 0-2.5 .1 1.6 0-4.1 0 2.7 .1-4 0 1.5 .1-1.3 0 1.1 0-2.6 .1 1.1 0-1.7 .1 1.6 0-3.3 0 3.6 .1-5.3 0 3.8 0-1.9 0 1.8 .1-1.2 0 2.7 0-.3 0 1.1 .1-.6 0 1.6 0-.4 0 2.3 .1-.9 0 1.7 0-.8 0 1.8 .1-.1 0 2.5 0-1.4 0 2.2 0-.8 .1 1.8 0-.4 0 1.5 0-.3 .1 1.1 0-.6 0 1.7 0 .2 .1 1.5 0-.3 0 1.6 0-1.2 .1 2.2 0-.8 0 2 0-1.2 0 2.3 .1-.7 0 2 0-.2 0 2.1 .1-1.3 0 2.1 0-1.8 0 3.2 0-.6 .1 1.1 0-.7 0 2.1 0-.8 .1 1.8 0-.3 0 2.3 0-2.1 .1 5 0-3.7 0 2.7 0-1.1 0 2.4 .1-1.8 0 3.3 0-2.1 0 3.1 0-.6 .1 1.3 0 2.1 0-2.8 0 4.3 0-3 .1 3.8 0-.8 0 1.6 0-.4 0 2.2 0-1.7 .1 2 0-.6 0 1.5 0-.4 0 3.7 .1-2.3 0 1.8 0-.8 0 2 0-.8 0 2.2 .1-1 0 1.9 0-.4 0 1.9 0-.3 0 3.1 .1-3.1 0 3.8 0-1.9 0 1.7 .1-2.4 0 1.4 .1-2.2 0 1.3 .1-1.7 .1 .2 0-1.8 .1 2 0-2.8 .1 .4 .1-1.8 0 1.1 .1-2.2 0 .4 .1-1.7 0 .5 .1-2.5 0 1.9 .1-2.2 0 .5 0-2.4 .1 2.1 0-2.6 .1 2 0-2.8 .1 .2 0-1.3 .1 .9 0-3.5 0 1.1 .1-1.9 0 .9 .1-2.6 0 1.7 .1-1.7 0 2 0-.6 0 1.7 .1-.9 0 1.9 0-.5 0 1.9 0-.7 .1 1.7 0-.2 0 1.4 0-.3 0 1.7 .1-.6 0 1.2 0 .1 0 1.7 .1-1 0 2.2 0-2.1 0 3 .1-.2 0 2.1 0-1.4 0 2.6 .1-1.4 0 2.1 0-.5 0 1.8 0-1.1 .1 2.1 0-1.3 0 2.3 0-1.7 0 3.8 .1-1.2 0 2.3 0-1.6 0 2.4 .1-3.3 0 2.3 .1-1.9 0 .9 .1-2.2 0 1 0-1.8 .1 .6 0-3.2 .1 1.1 0-1.9 .1 1.1 0-4.2 .1 3.1 0-3.4 0 3.9 .1-4 0 2.2 .1-2.9 0 1.5 0-2.7 .1 1.4 0-3.3 .1 2.2 0-2.7 .1 1.5 0-2.1 .1 2.4 0-4.8 .1 2 0-2.4 0 1.2 .1-3 0 1.3 .1-2.4 0 1.3 .1-2.6 0 1 0-1.4 .1 2.9 0-3.9 .1 .4 0-1.9 .1 .7 0-1.8 0 .4 .1-2.3 0 1.3 .1-1.5 0 .2 .1-1.2 0 .8 .1-3 0 1.5 .1-1.8 0-1.6 .1 2.2 0-2.7 .1 1.7 0-3.5 .1 .8 0-2.5 0 1 .1-1.2 0 .3 .1-1.1 0 .5 .1-1.7 0 .1 .1-2.2 0 1.6 0-1.9 .1 .6 0-2.8 .1 1.8 0-2 .1 .2 0-2.5 0 1 .1-1.2 0 3.5 .1-1.3 0 2 .1-.9 0 1.8 0-1.7 .1 3.4 0-1.5 .1 2.3 0-.5 .1 2 0-1.4 .1 2.3 0-1 0 2.7 .1-1.6 0 2.2 .1-.9 0 2.7 .1-2.2 0 2.9 0-1.5 .1 2.9 0-1.9 .1 2.5 0-1 .1 2.6 0-1.3 0 3 .1-1.6 0 2.1 .1-1.3 0 2.6 .1-1.6 0 2.3 .1-.3 0 1.4 0-.7 .1 2.3 0-1.2 .1 3.2 0-2 .1 1.9 0-1 0 2.5 .1-1.1 0 1.9 .1-.6 0 2.3 .1-1.3 0 3.3 .1-2.1 0 2.7 .1-1.4 0 1.8 0-.4 .1 2.2 0-1.3 .1 3.3 0-3.2 .1 3.5 .1-.5 0 1.1 .1-.2 0 2.5 .1-1.9 0 3.8 .1-2.8 .1 2.6 0-1.3 .1 1.7 .1 2.8 0-2.4 .1 3.1 .1-3.9 .1 1.2 .1-4 .1 3.1 .1-2.5 .1 1.6 0-2.4 .1 .9 .1-2.9 .1 2.5 0-.6 .1 1.8 .1-.5 0 1.8 .1-.9 0 1.9 .1-.9 .1 1.4 0-.4 .1 1.8 0-.8 .1 2.6 0-2.7 .1 3.9 0-.7 .1 2 0-1.3 .1 2.8 0-1 .1 2.3 0-1.2 .1 2 0-1 0 1.3 .1-.2 0 3.4 .1-2.7 0 1.8 .1-1.1 0 2.2 0-1.5 .1 3.5 0-2 .1 2.7 .3-2.5 .3 1.4 .2-3.8 .1 2.6 0-1.3 .1 .5 0-1.8 0 1.6 .1-3 0 .9 .1-1.8 0-.1 .1-1.6 0 1.1 0-2.2 .1 .5 0-1.6 0 .8 .1-2.3 0 1.2 .1-2.8 0 1.6 0-1.8 .1 .3 0-1.7 .1 .3 0-1.8 0 .3 .1-1.2 0 .6 0-1.8 .1 .7 0-1.8 0 .6 .1-2.1 0 2.2 .1-2.8 0-.3 0-1.1 .1 .2 0-1.4 0 1.5 .1-2.7 0 .4 .1-3.4 0 2.7 0-2.6 .1 .9 0-2.1 0 .6 .1-2 0 1.3 0-2.1 0 1.2 .1-2.9 0 1.3 0-2.1 0 .7 .1-1.7 0 .6 0-2.5 .1 .9 0-1.8 0 1.3 0-2.1 .1 0 0-.9 0 .2 0-1.4 .1 .3 0-3.2 0 2.4 .1-3.4 0 2 0-2.2 0 .9 .1-1.9 0 .6 0-2.2 .1 .9 0-1.6 0 1.3 .1-3 0 2.5 .1-3.2 0 .7 .1-1.8 0 1.9 .1-2.9 0 1.4 .1-3.4 0 1.8 .1-2.1 0-.2 .1-1.4 .1 .7 0-2.7 0 1.3 .1-.2 .1 2.7 .1-1.8 .1 1.3 .1-.1 .1 3 .1-2.1 0 1.6 .1-.9 .1 1.9 .2-.9 .2 2.8 .2-1.3 .1 2.6 .2-3.9 .1 3.4 0-1.2 .1 .7 0-3.6 .1 2.8 .1-3.4 0 1.5 .1-1.9 0 .8 .1-1.8 .1 .5 0-1.8 .1 .1 0-1.6 .1 .5 0-.3 .1 2.3 0-1 .1 2.7 0-2 .1 3 0-2 .1 3 .1-2 0 3.1 0-.7 .1 1.2 .1-1.4 0 2.8 .1-.2 0 1 .1 0 0 1.5 0-.7 .1 2.2 0-.7 .1 2.4 0-1.3 0 1.8 .1-.9 0 2.4 .1-.6 0 1.7 0-.7 .1 2 0-.8 .1 1.4 0-1.5 0 3.1 .1-.7 0 2.6 .1-1.8 0 2.6 0-1.5 .1 3.3 0-1.3 .1 1.4 0-.7 .1 1.5 0-1.7 .1 3.5 0-1.5 .1 3.4 0-1 .1 2.4 0-3.3 .1 2.2 0-2 0 1.1 .1-2.1 0 .9 .1-1.9 0 .9 0-2.2 .1 1.9 0-2.7 .1 1.3 0-2.3 0 .9 .1-2.6 0 2 .1-4.3 0 1.8 0-3.8 .1 3.2 0-4.4 0 2.3 .1-2.1 0 1 .1-1.1 0 .3 .1-1.6 0 .2 .1-1.9 0 1.8 0-3 .1 .9 0-1.8 .1 .5 0-1.9 .1 1 0-3 0 1.3 .1-2.6 0 2.2 .1-2.4 0 .7 .1-1.6 0 .9 .1-3.1 0 2 .1-1.9 .1 .5 0-1.8 .1 .4 0-2.5 .1 1.7 .1-3.1 0 2.7 .1-3.4 0 .8 .1-2.5 0 2.5 .1-3.2 0 1 .1-2.4 0 .8 .1-1.4 0 .6 .1-1.9 0 1.6 .1-3.5 0 2.2 .1-3.8 0 1.4 .1 .1 0 1.3 .1-.2 0 1.4 .1-1 0 2.2 .1-1 0 2.2 .1-1.2 0 3.7 .1-3.1 0 2.9 .1-1.5 .1 4 0-1.6 0 2 .1-.5 0 1.4 .1-.1 0 2.1 0-1.4 0 3.4 0-3 .1 3.1 0-1.2 0 1.6 0-.8 .1 1.9 0-.8 0 2.5 0-1.1 0 2.1 .1 .1 0 2.3 0-1.2 0 2.4 0-1.6 .1 2.2 0-.9 0 1.8 0-.5 .1 1.9 0-2.2 0 3.5 0-2 0 3 .1-1.8 0 3.8 0-1.3 0 1.3 .1-.1 0 3.1 0-2.3 0 2.1 .1-.9 0 2.1 0-1.6 0 2.1 0-.5 0 2.1 .1-1.5 0 3.5 0-1 0 2.8 0-1.8 .1 2.3 0-1.6 0 3.8 0-3 0 2.8 0-1.5 .1 3.2 0-1.2 0 2.1 0-1.1 0 1.2 .1-.5 0 2.4 0-1.5 0 2.1 0-.2 .1 1.6 0-.6 0 2.6 0-2.6 0 4 0-.9 .1 1.8 0-2.7 0 .9 .1-2.5 0 1.4 .1-2.5 0 .9 0-1.5 .1 .1 0-2 .1 1.2 0-2.1 0 .9 .1-1.8 0 1.1 .1-1.9 0 1.1 0-3.5 .1 1.4 0-2 .1 1 0-1.4 0 .8 .1-3.2 0 2.7 .1-3.1 0 1.6 .1-4.2 0 2.4 0-3 .1 2.2 0-3 .1 2.5 0-3.1 .1 .3 0-1.4 .1 .6 0-1.9 0 1 .1-4.3 0 4.1 .1-4.1 0 2.3 .1-2.2 0 1 .1-2.3 0 1.4 0-2.5 .1 .6 0-2 .1 2.1 0-3.8 0 1.4 .1-2.1 0 1.7 .1-4.1 0 3.3 .1-4.2 0 1.4 .1-1.7 0 .4 .1-2.3 0 1.3 0-1.4 0 .4 .1-1.8 0 1.4 0-2 .1 .8 0-2.1 0 .3 0-2.2 .1 .4 0-1.5 0 .2 0-1.6 0 1.4 .1-2.5 0 .9 0-1.6 .1 .9 0-3.3 0 1.8 0-2.1 .1 .7 0-3.4 0 2.5 0-2.1 .1 1.1 0-2 0 .3 0-1.7 .1 .6 0-2.5 0 1.5 0-3.1 .1 2 .1-2.8 .2 1.2 .2-2.2 .2 1.5 .1-3.2 .1 3 .1-.9 0 2.7 .1-1.2 0 2.2 .1-2 .1 3.8 0-2.6 .1 3 0-1.7 .1 3 0-1.4 .1 1.9 .1-1.2 0 3 .2-1.4 .2 1.6 .1-.6 .2 2 .2-.7 .1 .7 .1-3.6 .1 2.2 0-2.7 .1 1.7 .1-2.1 .1 1.5 .1-1.8 .1 0 .1-2.4 .1 2.6 .1-.8 .2 2.8 .1-1 .1 1.4 .1-.4 .2 1.6 0-1.1 .1 2.9 .1-1.9 0 2.2 .1 .2 .1 1.7 .1-.8 0 1.6 .1-.4 .1 3 0-2.6 .1 2.3 .2-2.1 .2 1.1 .1-2.1 .2 1.5 .2-1.9 0 1.7 .1-1 0 1.9 .1-.6 0 1.7 .1-1.1 0 2.2 0-1.5 .1 2.5 0-.6 .1 2.5 0-1.6 .1 2.1 0-.6 0 2.1 .1-.5 0 1.3 .1-2.4 0 3.6 .1-1 0 2.4 0-2.2 .1 3.4 0-.7 0 1.8 0-1.4 0 3.5 .1-1 0 1.7 0-.4 .1 1.4 0-1 0 3.4 0-4 .1 4 0-3 0 3.7 0-.9 .1 2 0-.7 0 2.6 0-2.2 .1 4.7 0-2.8 0 3 0-2.9 .1 3.8 0-.8 0 1.5 0-.6 .1 2 0-1.6 0 4 .1-2.1 0 1.9 0-.5 0 2.7 .1-1.5 0 1.9 0-.9 0 2.2 .1-.8 0 2.5 0-1.1 0 2.5 .1-2.2 0 3.1 0-2 .1 3 0-.9 0 1.5 0-1.3 .1 2.7 0 1.2 0-.3 .1 1.1 0-2.2 0 .3 0-2.1 .1 1.9 0-2.5 0 1.2 0-2.3 .1 1 0-2.1 0 .5 .1-2.6 0 1.9 0-2.4 0 1.3 .1-3.5 0 2.9 0-4.8 0 3.7 .1-3.7 0 1.6 0-2.4 .1 .6 0-1.8 0 .7 0-1.9 .1 .4 0-1.3 0 .8 .1-2.2 0 .5 0-1.1 0-.3 .1-1.9 0 .9 0-1.4 0-1.4 .1 .3 0-2 0 1 0-2.6 .1 1.3 0-1.6 0 .1 0-1.4 0 .8 .1-1.6 0 .2 0-1.3 0 .2 .1-1.8 0 .9 0-3.3 0 2 .1-1.6 0 .3 0-3 0 1.7 0-1.8 .1 .3 0-2.3 0 2.6 0-4 .1 1.8 0-2.5 0 1 0-2.3 0 1.5 .1-2.7 0 .8 0-1.2 0 .1 .1-2.9 0 2.2 0-3.4 0 2.5 0-2.4 .1 1.2 0-3.6 0 2.3 0-2.6 0 .8 .1-2.6 0 1.7 0-2.5 0 .7 .1-2.6 0 1.7 0-3.8 0 3.9 0-4 .1 2.7 0-2.3 0-1.5 0 .3 .1-1.2 .1 1.1 0-.6 .1 2.2 .1-.8 .1 3.3" clip-path="url(#ce)" stroke="#ff00ff" stroke-width="2.5" fill="none" stroke-linejoin="miter" stroke-miterlimit="2" stroke-linecap="butt"/>
<path d="M15.8 878.4l0 1.2 0-2.3 .1 .9 0-5.1 0 4.7 .1-2.9 0 1.2 0-2.2 .1 .2 0-1.7 0 .5 .1-1.9 0 .7 .1-1.8 0 .6 .1-1.7 0 1 0-2.5 .1 .6 0-1.3 .1 1.2 0-4.2 .1 3 0-3.6 .1 1.8 0-2.7 0 1.1 .1-2.8 0 2.1 .2-1.7 .2 .3 .1-2 .2 1.3 .2-2.9 .1 3.8 0-2 0 1.6 .1-.4 .1 1.3 0-.4 .1 1.9 0-1.1 .1 2.3 0-1.7 .1 2.7 0-.5 .1 2.2 0-1.4 .1 2.3 0-.2 .1 2.3 .2-1.7 .1 3.4 .2-2.2 .2 3 .2-2.6 0 2.2 .1-3.3 .1 3.1 .1-4.3 .1 2.2 .1-3.4 .1 2 0-2.1 .1 .7 .1-2.6 .2 1.7 .2-3.2 .1 1.8 .2-1.7 .2 .1 .1-1.7 .1 1.3 .1-2.7 0 1.8 .1-3.3 .1 2.1 .1-3.4 .1 1.9 .1-2.6 .1 1.5 .1-2.1 .1 1.1 .2-3.1 .1 1.2 .1-2.2 .1 1.7 .2-2.9 0 3.1 .1-1.5 .1 2.5 0-1.9 .1 3.2 .1-1.8 .1 3.4 0-2.1 .1 2.3 .1-1.6 .1 2.7 0-.8 .1 3.1 .1-1.8 0 1.8 .1-1.2 0 4 .1-4.7 0 5.5 .1-3.5 0 4.4 .1-1.8 .1 2.1 0-1.3 .1 2.5 0-2.3 .1 3.1 .2-2.5 .1 1.4 .2-2.1 .2 1.2 .2-1.8 .2 .2 .1-1.3 .2 .2 .2-1.5 .2 .2 0-.2 .1 2.4 0-1.7 .1 4.6 0-2.8 .1 2.4 .1-1.4 0 2.5 .1-1.7 0 2.5 .1-.6 0 1.2 .1-.7 .1 3.1 0-2.6 .1 3.4 .1-1.2 0 1.8 .1-.7 0 1.8 .1-.4 0 1.7 .1-.5 .1 3.2 0-3.4 .1 3.4 0-1.9 .1 2.2 0-.9 .1 2.2 .2-1.7 .2 .8 .1-2.2 .2 .5 .2-2 .3 1.3 .3-2.2 .3 1.2 0-.9 .1 1.6 .1-.4 .1 2.2 0-1.2 .1 2.6 .1-.9 0 1.7 .1-.4 .1 1.8 .1-.8 0 2.1 .2-1.7 .2 .5 .2-3.4 .1 2.9 .2-4 .1 2.1 .1-2.8 .1 2.3 .1-2.7 0 .8 .1-1.5 .1 .4 .1-1.9 .1 1 .1-2.2 .3 2.9 .3-2.6 .3 2.3 0-1.9 .1 1.3 .1-1.9 .1 .6 .1-4.4 .1 3.3 .1-2.2 .1 .9 .1-1.7 0 .6 .1-1.8 .1 .2 .1-1.4 0 .3 .1-1.8 .1 1.4 .1-2.5 0 2.4 .1-3.3 .1 1 0-2.4 .1 .6 .2-.9 .2 2.4 .1-.7 .2 2.6 .2-2.3 0 2.5 .1-1.9 .1 3 0-2 .1 3.5 0-1.6 .1 2.1 .1-.7 0 2.7 .1-.9 0 2.1 .1-1 .1 .9 0 .2 .1 1.6 .1-2.3 0 1.7 .1-3.3 .1 1.5 .1-2.6 .1 1.6 .1-1.6 .1 .2 .1-2.3 0 1.2 .1-1.4 .1 .9 0-2.5 .1 1.4 0-2.1 .1 1.2 .1-2.6 0 .1 .1-1.4 0 .2 .1-1.9 0 .7 .1-2 .1 1.3 0-2.5 .1 3.7 0-1.9 .1 2 0-.5 .1 1.6 .1-.4 0 2 .1-.9 0 2.4 .1-1 .1 1 0 .2 .1 1.3 0-1.2 .1 1.7 .1-1.9 0 4 .1-1.6 0 2.5 .1-.8 0 2.6 .1-1.4 .1 1.4 0 .2 .1 1 0-.9 .1 2.8 .1-2.1 0 3.7 .1-.9 .3 .1 .3-1.4 .3 .3 .1-.9 .1 2.9 .1-1.5 .2 3 .1-2.2 .1 3.4 .1-2.1 .2 2.9 .2-3.6 .2 1.8 .1-3.4 .2 2.6 .3-4.1 .3 2.3 .3-2.2 0 1.1 .1-1.6 .1 .2 .1-1.6 0 .5 .1-2.2 .1 1.9 .1-3.3 0 3.2 .1-4.5 .1 1.8 .1-3.5 .1 3.4 .2-2 .2 2.4 .1-.3 .2 2.9 .1-4.3 0 2.7 .1-3.6 0 1.4 .1-1.2 .1 .1 0-2.3 .1 1.3 .1-1.8 0 2.5 .1-3.8 0 2.4 .1-3.2 0 .6 .1-2 .1 .1 .1-1.5 .1 .6 0-3.3 .1 2 .1-2.1 .1 .8 .1-1.6 .1 .7 .1-2.3 0 1.4 .1-2.4 0 2.1 .1-3.5 0 2.8 0-4.4 .1 2.2 0-2.7 .1 2.2 0-4.3 .1 1.6 0-1.4 0 .1 .1-2.1 0 1.5 .1-2.1 0 .9 .1-1.6 0 .4 .1-1.8 0 .4 .1-1.3 0 .6 .1-4.2 .1 3.3 0-1.8 .1 .3 .1-2.2 0 1.6 .1-1.4 .1 2.3 0-1.6 .1 3.4 .1-2.3 0 3 .1-2.5 .1 3.2 0-1.9 .1 4.2 .1-1.8 0 2.2 .1-1.5 .1 3 0-1.6 0 2.5 .1-.6 0 2.6 .1-1.7 0 2.7 .1-1 0 2.3 .1-2.1 0 2.5 0-2 .1 2.7 0-.2 .1 2.8 0-1.2 .1 1.4 0-.3 .1 1.7 0-.7 .1 1.5 .1-.8 0 1.8 .1-.2 .1 2.5 .1-1.5 .1 2.4 .1-1.8 .1 2.6 .1-1.1 .1 2.1 0-.6 .1 1.4 .1-.3 .1 1.8 .1-1.6 .1 2.2 .1-.9 .1 3.3 0-1.6 .1 1.7 .1-2.5 0 1.5 .1-4.5 0 3.8 .1-3.5 .1 1.9 0-3 .1 1.6 0-2.1 .1 1.2 0-2.8 .1 1.6 .1-2.7 0 .3 .1-.1 0 1.9 .1-2.3 0 3.9 .1-3 0 4.2 .1-1.3 0 1.6 .1-.3 0 2.2 .1-2.4 0 3.2 .1-.6 0 1.6 .1-.4 0 1.5 .1 .1 .3 .7 .3-2.3 .3 .6 .1-2.1 .2 1.8 .2-3 .2 1.9 .1-3.1 .1 .8 .1-1.8 0 1.1 .1-2.5 0 3.1 .1-3.9 .1 1.1 0-2 .1 1 0-3.1 .1 1.7 0-2 .1 .5 .1-1.7 0 1.1 .1-2 0 .9 0-1.9 .1 0 0-1.8 .1 .7 0-1.6 .1 .7 0-1.8 .1 .7 0-2.7 .1 1.1 0-1.5 0 .5 .1-1.2 0 .5 .1-1.7 0 .4 .1-2.8 0 1.6 0-2.1 .1 .8 0-1.6 .1 .3 0-2 .1 .7 0-2.5 0 2 .1-3.3 0 2.7 .1-3 0 1.6 .1-2.8 0 1.8 .1-2.5 0 .9 0-3.5 .1 2.1 0-3 .1 1.9 0-3.6 .1 2.3 0-2.2 .1 1.8 0-2.8 .1 1.4 0-3.8 .1 3.4 0-3.3 .1 .4 0-2.4 .1 .7 0-1.6 .1 1 .1-2.3 0 2.6 0-3.7 .1 3.2 0-1.3 .1 1.7 .1-1.6 0 2.3 .1-1 0 2 .1-1.3 0 2.5 .1-1.9 0 4.7 .1-3.1 0 4.2 .1-1.7 0 2.5 .1-1.1 0 2.3 0-1.1 .1 2.4 0-.9 0 2.2 0-1.1 0 1 0-.3 .1 2.2 0-.9 0 2.1 0-.3 0 1.1 0-.4 .1 1.9 0-1.1 0 2.2 0-1.3 0 3.3 .1-1.1 0 1.8 0-1.2 0 1.6 0-.7 0 2.8 .1-.9 0 3.2 0-1.6 0 3.1 0-3.5 0 3.3 .1-1.3 0 1.9 0-1.3 0 2.2 .1-2.9 0 2.3 .1-1.8 0 .9 .1-1.8 .1 .6 0-2.3 .1 .8 0-1.9 .1 .9 0-1.7 .1 .6 .1-2.2 0 1.4 .1-2.6 0 .7 0-1.2 0-.1 0-2.1 .1 1.2 0-3 0 1.6 0-1.6 0 .3 0-1.6 0 1.7 0-2.8 0 .6 .1-2.6 0 2.5 0-3.7 0 1.2 0-1.4 0 1.7 0-3.9 .1 1.2 0-2.2 0 1.3 0-3.6 0 3.7 0-3.5 0 1.7 .1-2.7 0 1.7 0-3 0 1.4 0-3.3 0 2.4 0-2.7 .1 .4 0-1.9 0 2.1 0-3.6 0 2.3 0-2.5 0 1.3 0-2.9 .1 .4 0-2.1 0 3.2 0-2.3 0 2.3 0-1.6 0 3.2 .1-1.3 0 2.8 0-1.1 0 1.8 0-1.3 0 2.2 0-.5 .1 3.3 0-1.7 0 2.3 0-1.8 0 2 0-1.1 .1 2.3 0-.6 0 2 0-.3 0 1.6 0-1.1 0 1.9 .1-.3 0 1.9 0-.6 0 2.5 0-1.5 0 3 .1-1.5 0 1.6 0-1 0 2.5 0-.5 0 1.9 0-.8 0 1.6 .1-2.1 0 .8 0-2.9 0 1.6 0-1.9 0 1.8 0-2.8 0 .4 0-2.8 0 1.7 .1-1.6 0 .7 0-1.5 0 .7 0-2.1 0 .9 0-1.8 0 1.1 0-3 0 2 .1-3.7 0 1 0-2 0 2.8 0-3.9 0 .9 0-2.4 0 1.1 0-1.4 .1 .3 0-2.1 0 1.1 0-2.5 0 1.5 0-2.1 0 1.4 0-2.3 0 .6 .1-2.2 0 .3 0-1.2 0-.1 0-1.3 0 .5 0-1.8 0 1.1 0-2.9 0 1.9 0-3.1 .1 2.3 0-4.6 0 2.1 0-1.4 0 .1 0-1.4 0 .5 0-2.5 0 1.9 0-1.6 .1 3.8 0-2.5 0 2.9 0-1.3 0 2.2 0-1 0 2.2 0-2.1 .1 3 0-1.3 0 2.3 0-.5 0 3 0-1.8 0 1.8 0-.7 0 1.7 0-.2 .1 1.1 0-.8 0 1.9 0-.2 0 1.7 0-.3 0 2.3 0-1.3 0 1.7 .1-.8 0 2.2 0-1.1 0 1.8 0-1.2 0 2.7 0-1.1 0 2.2 0-.5 0 2 .1-1 0 2.5 0-1.3 0 2.7 0-1.4 0 1.9 0-.6 0 2.5 0-2.5 .1 3.1 0-1.4 0 2.8 0-1.2 0 1.8 0-.1 0 2.1 0-2.2 0-.1 0-1.6 .1 .7 0-1.7 0 .7 0-1.6 0 .7 0-1.7 0 .6 0-2.2 0 1.8 0-3 0 .9 0-3.8 .1 2.2 0-1.7 0 1.3 0-2.6 0 .4 0-1.7 0 1 0-1.8 0-1.1 .1 0 0-2.3 0 1 0-1.8 0 1.5 0-3.5 0 2.7 0-2.1 0 .4 0-2.5 0 .8 0-2.7 0 2.5 .1-2.9 0 .6 0-1.2 0-.2 0-1 0 1.4 0-2.9 0 .8 0-1.7 0 1.3 .1-2.3 0 .3 0-1.7 0 .5 0-1.6 0 .8 0-2.1 0 .4 0-2 0 .3 0-1.3 .1 .1 0-1.7 0 1.6 0-2.1 0 .1 0-1.4 0 1.1 0-1.9 0 3.1 0-1.8 0 2.3 0-.6 .1 2 0-1.5 0 2.5 0-.3 0 1.6 0-.3 0 1.1 0-.7 0 2.7 .1-2.1 0 2.7 0-.3 0 3 0-2.5 0 2.3 0-1.5 0 2.3 0-.3 0 1.8 0-.3 0 1.3 .1-1.8 0 3 0 1.4 0-.7 0 2.1 0-.7 0 1.7 0-.1 .1 1.2 0-.4 0 1.7 0-.8 0 1.8 0-1.2 0 3.4 0-2.5 0 2.6 0-.7 0 3.2 0-1.7 .1 2.2 0-.8 0 2.1 0-.9 0 2 0-.6 0 3 0-3.4 0 4.3 0-2 .1 3.2 0-1.8 0 1.9 0-1.5 0 2.9 0-4.1 0 1.2 0-2.2 0 1.3 0-2.5 .1 1.2 0-2.4 0 .8 0-1.1 0 .5 0-3.2 0 2.1 0-5.9 0 5.5 0-2.5 0 1 0-2.3 0 .8 0-2.5 .1 .5 0-1.3 0 1.8 0-3.4 0 .6 0-2.6 0 3.2 0-4.3 0 2.4 0-2.6 0 .9 0-1.7 .1 .4 0-2 0 .9 0-2.4 0 1.5 0-3.1 0 1.2 0-2.7 0 2.1 0-2.4 0 .9 0-3.1 .1 1.6 0-2.4 0 1.1 0-2.2 0 1.7 0-4.1 0 4.5 0-4.9 0 1.5 0-2.4 0 .9 0-1.9 0 .8 0-2 .1 2.5 0-3.4 0 2 0-2.8 0 .2 0-2.4 0 1.8 0-3.1 0 1.7 0-2.9 0 1.2 .1-2.1 0 1.8 0-2.8 0 1.4 0-1.1 0 1.8 0-1.5 0 2.9 0-.6 0 2.7 0-1.1 0 2.3 0-2.8 .1 2.9 0-.1 0 3.1 0-2.1 0 1.8 0-.9 0 2.6 0-2.1 0 3.7 0-2.9 0 3.5 .1-1.8 0 3.1 0-1.5 0 1.7 0-.4 0 2.1 0-.5 0 2.2 0-.9 0 1.8 0-1.1 0 1.6 .1 1.1 0 .3 0 1.2 0-.2 0 1.3 0-.1 0 1.1 0-1.4 0 3.5 0-1.6 0 3.1 0-1.8 .1 2.9 0-2.1 0 2.3 0-1.2 0 2.3 0 .1 0 1.5 0-.5 0 1.7 0-1.9 .1 3.3 0-.5 0 2.9 0-2.7 0 2.3 0-1.6 0 3.4 0-2.5 0 3.4 0-1.1 0 2.1 0-1.6 0 4.1 .1-4.5 0 2 0-1.4 0-1.3 0 .7 0-2.8 0 1.4 0-2.8 0 2.9 0-2.9 .1 .3 0-1.8 0 .4 0-1.8 0 1.4 0-2.2 0 1.4 0-3.6 0 1.8 0-2.5 0 2.6 0-3.7 .1 1.3 0-2 0 1 0-1.9 0 .5 0-2.6 0 .8 0-1.7 0 1.2 0-2.1 0 .2 0-1.4 0 1.7 .1-3.1 0 1 0-2.6 0 1.6 0-3 0 .9 0-1.9 0 1.4 0-2.9 0 1.7 0-2.3 .1 .6 0-1.8 0 .9 0-2.2 0 1.4 0-3.3 0 1.7 0-1.6 0-.1 0-1.1 0 .1 0-1.7 0 3.4 .1-4.7 0 .6 0-1.2 0 1.3 0-3.2 0 1.1 0-1.6 0 2 0-3.2 0 1.4 0-4.2 .1 2.9 0 .1 0 1.2 0-.9 0 2.1 0-.9 0 2.6 0-1.5 0 4.7 0-2.9 0 2.8 0-1.4 0 1.8 .1-1.1 0 2.6 0-1 0 2.7 0-1.9 0 2.6 0-1.4 0 2.1 0-2.3 0 4.1 0-1 .1 1.5 0-1.1 0 2.5 0-1.3 0 4.9 0-4.3 0 2.6 0-.4 0 2.2 0-.9 .1 2.2 0-1.5 0 5.2 0-4.1 0 2.6 0-1.2 0 3 0-1.7 0 2.6 0-1.8 0 3.5 0-2 0 3.1 .1-1.5 0 3 0-2.5 0 3.3 0-2 0 4 0-3.1 0 2.7 0-1.3 0 2 .1-1.3 0 3 0-.9 0 2.2 0-.9 0 1.9 0-1.6 0 3.2 0-1.7 0 2 0-3.5 0 2.2 .1-2.9 0 2 0-4.2 0 2.5 0-2.2 0 .4 0-1.3 0-.2 0-.9 0 1 0-2.4 0 .2 0-1.2 .1 .5 0-2.7 0 1.9 0-2.7 0 1.7 0-2.7 0 .9 0-1.8 0 .3 0-1.9 0 1.9 .1-2.9 0 1.8 0-3.7 0 .8 0-1 0-.2 0-1.6 0 1.2 0-2.6 0 1.1 0-2.3 0 2.3 0-3.3 .1 1.5 0-4 0 2.2 0-1.9 0 1.1 0-1.8 0 .3 0-1.8 0 .9 0-1.7 0 .4 .1-2.1 0 1.2 0-2.7 0 .8 0-2 0 2.5 0-3.2 0 .9 0-1.9 0 .2 0-1.9 0 .8 0-2 .1 1.6 0-2.3 0 .9 0-2.4 0 1.6 0-3.6 0 1.6 .2-2.2 .2 1 .2-1.9 0 2.5 0-2.3 0 3.6 0-2.9 0 4.1 0-2.3 .1 3 0-1.6 0 2.9 0-1.4 0 2.3 0-1.7 0 3.3 0-1.2 0 2.6 0-1 0 1.9 0-2.2 0 3.5 .1-.7 0 1.4 0-.7 0 2.6 0-1.7 0 2.5 0-1.4 0 2.5 0-1.3 0 2.4 .1-.6 0 2.7 0-.9 0 1.7 0-.6 0 2.3 0-2 0 2.3 0-1.1 0 2.7 0-1.5 0 2.7 0-.6 .1 1.3 0-.5 0 2.6 0-1.3 0 2 0-1 0 3.7 0-3 0 3.2 0-1.3 0 3.1 0-1.5 .1 1.7 0-1.4 0 3.1 0-3.2 0 4.4 0-.9 0 1.3 0-.4 0 1.3 0-.7 0 1.8 .1-.8 0 2.9 0-1 0 .1 0-1.8 0 1 0-2.2 0 1.9 0-3.3 0 1.7 0-2.9 .1 1.6 0-3.7 0 2 0-4.7 0 4.2 0-2.2 0 1.1 0-3.2 .1 2.9 0-3.9 0 4 0-4.8 0 2.1 0-3.9 0 2.2 0-3.8 0 2.5 0-3.2 .1 2.6 0-3.5 0 2.5 0-3.6 0 .6 0-1.1 0-.2 0-2.6 0 1.8 0-2.1 .1 1.1 0-2.3 0 1 0-2.6 0 2.2 0-2.8 0 .5 0-1.4 0 .6 .1-2.3 0 .4 0-1.3 0 1.3 0-2.4 0 .3 0-1.6 0 .2 0-1.5 0 .7 .1-1.8 0 1.8 0-1.2 .1 2.1 0-.9 0 2.6 .1-1.6 0 2.3 0-.2 .1 1.3 0-.2 0 1.8 .1-1.4 0 2.2 0-.4 .1 2.2 0-.3 0 1.7 .1-1.8 0 3.2 0-1.9 0 2.2 0-.2 0 1.6 0-.1 0 2.4 .1-1.3 0 2.4 0-2.3 0 2.2 0-.9 0 2.3 0-.9 0 2.3 0-1.7 .1 3.4 0-2 0 2.9 0-2.3 0 3 0-.4 0 2.4 0-1.3 .1 3.5 0-3.3 0 4.3 0-3.6 0 4.8 0-2.9 0 3 0-1.5 0 3 .1-1.6 0 1.8 0-1.2 0 3.4 0-1.6 0 2.1 0-.5 .1 1.7 0-.2 0 1.5 0-1.5 0 3.7 0-2.9 0 3.8 0-1.2 0 1 .1-2.2 0 .2 0-2.6 0 1.2 0-1.2 .1 .3 0-2.4 0 1.9 0-4 .1 1.8 0-2 0 1 0-2.5 0 1.1 0-1.9 .1 1.7 0-2.3 0 2.1 0-4 .1 1.9 0-3.1 0 1.9 0-2.1 0 1.1 .1-2.5 0 .6 0-2.7 0 .8 .1-1.4 0 .5 .1-2 0 1.5 .1-3.4 .1 2.2 0-3.2 .1 2 0-4.4 .1 3 0-1.3 0 2.6 0-.8 0 2.2 .1-2.8 0 3.6 0-2.8 0 4.6 0-2 0 3.1 0-1.3 0 2.1 0-1.2 .1 2.3 0-1 0 2.7 0-1.9 0 2.9 0-1.4 0 1.5 0-.4 .1 2.2 0-1.2 0 2.3 0-.2 0 1.4 0-.2 0 1.5 0-.7 .1 1.9 0-.7 0 2.9 0-2 0 2.2 0-.2 0 1.6 0-.8 0 1.8 .1-.7 0 1.5 0-.2 0 2.2 0-2.2 0 3.2 0-1.3 0 2.9 .1-2.4 0 3 0-1.1 0 1.8 0-2.2 0 .8 0-2.4 0 .2 0-2.2 0 2.6 .1-3.4 0 .7 0-1.4 0 .2 0-2.3 0 .9 0-2.8 0 1.6 0-1.7 .1 1.1 0-2.2 0 2 0-3.9 0 1.5 0-2.1 0 .7 0-3.5 0 2.2 0-1.4 0 .3 .1-2.5 0 1.2 0-.2 .1 2.4 0-1.7 .1 4.2 0-3.3 0 3.9 .1-2.6 0 2.2 .1-.8 0 2.9 .1-1.5 0 2.5 0-1.3 .1 1.6 0-1.3 .1 2.1 0-.3 .1 1.8 0-1 .1 2.2 0-1.5 .1 2.8 0-1.2 .1 2.8 0-1.4 .1 2.1 .1-1.1 0 2 .1-.7 0 2.3 .1-1.6 0 3.1 .1-2 .1 4.1 0-1.7 .2 3 .2-2.3 .1 1.6 .2-1 .2 2.3 .1-1 .1 1.8 .1 .4 0 .9 .1-.1 .1 1.9 .1-1.2 .1 3.4 .1-1.8 .1 3.4 0-3.3 .1 1.7 0-3.8 .1 1.4 0-2.5 0 .9 .1-2.5 0 2.4 .1-2.3 0 1 0-2.1 .1 .5 0-1.4 .1 .2 0-1.6 .1 1.8 0-3.6 .1 .7 0-2.7 .1 1.2 0-1.5 0 1.3 0-3.6 0 1.8 .1-2.7 0 1.2 0-1.6 0 .5 0-2.7 .1 2 0-2.7 0 1.8 0-1.8 .1 .7 0-2.6 0 .9 0-1.6 .1 .1 0-.9 0 .3 0-1.9 .1 2.1 0-3.9 0 1.4 0-2 0 .4 .1-2 0 1.3 0-2.3 0 1.4 0-2.2 .1 2.1 0-3.9 0 2.5 0-3.4 .1 .9 0-2.2 0 1.1 0-2.1 .1 .8 0-2.5 0 1.7 0-2.5 .1 .3 0-1.2 0 .2 0-1.3 .1-.2 0-1.4 0 .9 0-2.1 .1 .5 0-3 0 2.4 0-3.8 .1 2 0-1.5 0 .3 0-2.1 .1 1.3 0-2.7 0 1.4 0-3 .1 1.2 0-1.9 0 2 0-2.7 .1 0 0-.9 0 1 0-2.4 .1 1.2 0-3.5 0 1.5 .1-3.1 0 1.7 0-2 .1 1.3 0-2.6 .1 1.5 0-2.7 0 2.8 .1-3.7 0 .7 0-2.2 .1 2.6 0-3.2 .1 2.3 0-3.5 0-.2 .1-1.7 0 .8 0-1.7 .1 .5 0-1.5 0 .6 .1-2.4 0 1.4 0-3 .1 1.6 0-2.1 .1 .4 0-1.4 0 .4 .1-1.7 0 1 0-2.4 .1 .9 0-2.1 .1 1.1 0-2.1 0 .8 .1-2.5 0 1.2 0-2.6 .1 1.1 0-2.2 0 1.5 .1-3.5 0 1.8 .1-2.9 0 2.4 0-2.5 .1 1.1 0-2.7 0 .8 .1-1.3 0-.1 0-2.1 .1 1.4 0-2.3 0 .8 .1-1.3 0 .3 .1-1.8 0 .1 0-1.2 .1 .1 0-1.6 0 .5 .1-1.1 0 .3 .1-1.6 0 .1 0-1.5 .1-.1 0-2.7 .1 2.5 0-2.4 .1 1.1 0-2 0 .5 .1-2.5 .1 .8 0-2 0 1.5 .1-2.7 0 1.4 .1-3.1 0 2.9 .1-3 0 1.1 .1-2.6 0 .7 .1-2.1 0 1.8 .1-3 .1 1.9 0-3.5 .1 2.2 .1-2.2 0 .7 .1-2.5 0 2.2 .1-.6 0 1.7 0-1 .1 2.2 0-1.1 0 3.3 .1-2.2 0 5.2 0-2.9 .1 2.1 0-2 .1 3.1 0-.8 0 2.5 .1-1.7 0 2.5 .1-.8 0 2.2 .1-1.7 0 2.9 .1-1.6 0 2 .1-.9 0 2.7 .1-2.4 0 2.8 .1-.7 0 1.6 .1 .4 0 1.4 0-1.2 .1 3.4 .1-2.3 .1 2.5 .2-2.3 .2 2.9 0-.8 .1 2.1 0-.8 0 1.9 0-.6 .1 1.5 0-.2 0 1.1 0-.2 .1 3.2 0-2 0 2.3 0-1.3 0 2.3 .1-2.2 0 4.2 0-2.3 0 4.1 .1-2.7 0 3.3 0-1.5 0 2.5 0-2.5 .1 3.4 0-1.2 0 1.7 .1-.2 0 1 0-.9 0 2.2 0-1.5 .1 2.4 0 .2 0 2.8 .1-1.5 0 1.6 0-.6 0 1.6 .1-.6 0 2.4 0-1.3 0 1.7 .1 .2 0 .9 0-.1 .1 1.6 0-2.1 0 3.6 0-1.8 .1 .5 0-2.1 .1 1.2 0-2 .1 .3 0-1.7 0 1.5 .1-2.4 0 1.4 .1-2.7 0 2.1 .1-4.8 0 1.9 .1-2.2 0 1 .1-2.6 0 1.5 0-2.8 .1 2.3 0-3.1 .1 1.6 0-1.7 0 .1 .1-1.8 0 1.6 0-2.6 .1 1.1 0-2.7 0 2.5 .1-3.2 0 .5 0-1.9 .1 1.6 0-3.1 .1 1.3 0-1.2 0 2.4 0-.9 0 2.1 .1-.9 0 1.8 0-1.6 0 3.7 .1-3.5 0 5.6 0-2.7 0 3.1 .1-2.5 0 2.8 0-.6 0 1.5 0-1.2 .1 2.9 0-1.2 0 2.3 0-1.6 .1 3.8 0-1.6 0 2.2 0-1.9 0 2.2 .1-1 0 3.1 0-1 .1 1.5 0-.3 .1 2 0-.7 0 1.6 0-.5 .1 1.1 0 .1 .1 2.1 0-1.6 0 2.6 .1-1.6 0 4.7 0-3.1 .1 4.2 0-3.9 0 3.1 .1-2.2 0 4 0-2 .1 3.2 0-2.8 0 3 .1-.7 0 1.9 0-.7 .1 2.7 0-1.7 0 2.8 .1-1.7 0 1.9 .1-1.2 0 3.3 .1-1.8 0 2.7 .1-.5 0 1.3 .1-1.3 0 3.5 .1-3.2 0 4.9 .1-1.6 0 2.7 .1-1.3 0 2.4 .1-1.2 0 2.9 .1-2 0 2.3 .1-1 0 2.5 .1-1.7 0 3.2 .1-2.8 .1 4.2 0-1.9 0 2.3 .1-1.6 0 2.3 .1-1.4 .1 2.6 0-.9 .1 3.4 0-2.3 .1 3.4 0-3.7 0 1.8 0-3.1 .1 1.4 0-1.8 0 1.2 0-2.3 .1 .9 0-2.5 0 .7 0-1.6 .1 .7 0-1.5 0 .6 0-2.6 .1 .9 0-1.4 0 .8 .1-3.1 0 1.5 0-2.8 0 1.1 .1-1.7 0 1.5 0-2.3 0 .5 .1-2.2 0 1.5 0-2.7 0 .5 .1-1.6 0 .9 0-2.3 0 2.2 0-4.5 .1 3 0-4.3 0 1.9 0-2.9 0 1.8 0-1.1 0-.3 .1-1.8 0 1.4 0-2.1 0 .4 0-2 0 .7 0-1.3 0-.2 .1-1 0 .3 0-1.7 0 1.1 0-2.9 0 1.8 0-3.3 0 1.1 .1-1.5 0 1 0-2.6 0 2.1 0-3.5 0 2.1 0-2.9 0 .8 .1-2.6 0 2.1 0-2.9 0 2 0-3.3 0 1.3 0-2.5 0 2.2 .1-3.9 0 2.2 0-2.7 0 .8 0-1.3 0 1.9 .1-4.1 0 1.5 .1-2.3 0 1.1 .1-3.7 0 2.7 .1-2 0 .4 .1-1.8 0 .6 .1-2 0 .3 .1-2.5 0 1.7 .1-2.2 .1 .3 0-.9 0 1.3 .1-.2 0 2.2 0-1.9 .1 3.8 0-1.8 0 2.1 .1-.9 0 1.8 0-2.1 .1 4.2 0-1.7 0 2.7 .1-2.1 0 2.9 0-.7 .1 1.1 0-.2 0 1.2 .1-1 0 2.8 0-2.4 0 4.3 0-2.9 .1 4.5 0-2.1 0 2.1 0-.5 0 2.5 .1-1.1 0 2.1 0-.8 0 1.2 .1 0 0 1.7 0-.5 0 2.8 0-1.7 .1 2.1 0-1.1 0 1.2 0-.5 .1 2 0-.7 0 1.5 0-.9 0 2.4 0-.6 .1 1.8 0-.2 0 2 0-.6 0 1.8 .1-.8 0 2.1 0-2.4 0 4.5 .1-2.3 0 2.5 0-2.2 0 2.7 0-1 0 2.9 .1-2 0 2.6 0-1.1 0 2.1 .1-.4 0 2 0-1.6 0 2.8 0-1.1 .1 2.2 0-.8 .1 1.7 .1-.9 0 2.1 .1-.3 .1 3.6 .1-2.8 0 3 .1-2.5 .1 4.5 .1-2.2 0 3 .1-3.9 0 3 0-3.1 .1 .8 0-2.4 0 1.5 0-2.5 .1 2.1 0-3.5 0 1.6 .1-2.3 0 .2 0-2.1 0 1.4 .1-1.4 0 .1 0-1.5 .1 .4 0-2.4 0 2 .1-3.4 0 1.6 0-2.8 0 1.9 .1-2.9 0 .7 0-1.7 .1 1.9 0-2.9 .1 1 .1-2.9 0 1.9 .1-4 .1 2.4 0-2.6 .1 1 .1-1.2 .1 .9 0-2.7 .1 .9 .1-2.9 0 4.5 .1-1.9 0 1.5 0-.7 .1 2.2 0-1.4 .1 2 0-.4 0 1.7 .1-.4 0 1.3 .1-.5 0 2 0-.5 .1 1.4 0-1.3 .1 2.3 0-.4 0 1.5 .1-.3 0 2.1 .1-.9 0 2 0-.8 .1 1.8 0-.5 0 1.7 .1-.5 0 3 0-2.4 .1 2.7 0-.8 .1 2 0-.8 0 2 .1-.6 0 3.3 0-2.5 .1 4.2 0-4.1 .1 4.4 0-2.5 0 2.9 .1-.5 0 2.8 0-1.4 .1 2.7 0-5.3 .1 1.3 0-3.3 0 2.8 .1-3.4 0 3.1 .1-3.1 0 1.1 .1-2 0 1.9 .1-3.5 0 1.2 .1-2.3 0 1.4 0-2.9 .1 2 0-2.9 .1 1.2 0-2 .2 0 .2-1.7 .1 1 .2-2.1 .2 1.8 .2-1.8 .1 2.2 .2-1.7 .2 3 .2-1.2 .1 2.2 .1-3.4 .1 .2 .2-1.3 .1 .1 .1-1.7 .1 1.5 .4-1.4 0 2.3 .1-2 .1 4 0-2.7 .1 2.7 0-.6 .1 1.3 0-.7 .1 2.3 0-.9 .1 2.6 0-1.1 .1 1.9 0-1 .1 2 0-.8 .1 3 .1-2.9 .2 .6 .2-2.3 .2 1.3 .2-2.8 0 2.7 .1-1.4 0 3.5 .1-1.9 0 1.8 .1-.5 .1 2.7 0-2.2 .1 2.1 0-.3 .1 1.9 .1-.1 0 .9 .1 .2 0 1.2 .1-.1 0 1.9 0-2.6 .1 3.7 0-2.8 0 3.6 0-.7 .1 2.3 0-1.9 0 2.8 .1-1.2 0 3 0-1.4 0 3.2 .1-1.3 0 1.2 0-.8 .1 3 0-1.5 0 1.9 .1-.3 0 1.5 0-.2 0 1.5 .1-.4 0 1.9 0-1.6 .1 2.3 0-1.4 .1 1.6 .1-2.7 .1 1.7 0-2.4 .1 .9 .1-2.4 .1 2.1 .1-3.2 .1 .6 .1-1.9 .1 2.8 .1-1.5 0 3.2 .1-2.6 .1 3.3 .1-2.3 .1 3.5 .1-2.7 .1 3.2 .1 .1 0 1 .1-.1 .1 1.7 .1-1.4 .1 3.6 .1-1.6 .1 1.4 .1-.2 0 2.7 .1-1.8 .1 1.4 .1-.5 .1 2.1 .1-.5 .1 1.6 .1-.5 .1 2.4 0-1.8 .1 3.7 .1-1.5 .2 1.6 .2-.4 .1 .8 .2-1.2 .2 2.8 0-1.4 .1 3.2 0-1 .1 1.3 .1 1.6 0-.3 .1 2.2 0-1.3 .1 2.5 .1-1.4 0 2.2 0-1.6 .1 2.9 .1-1.1 0 2.9 .1-2.2 0 2.5 .1-3.4 .1 2.4 .1-4.9 .1 2.6 .1-2.1 .1 1.1 .1-2.6 0 1 .1-1.8 .1 .9 .1-1.9 .1 .2 0-1.4 .1 .8 .1-2 .1-.2 0-1.2 .1 .1 .1-1.4 0 .5 .1-1.4 0 1.6 .1-.7 0 2.3 .1-1 0 3.1 0-2.2 .1 2.4 0-1.4 0 1.9 .1-.1 0 1.7 .1-.4 0 1.3 0-.2 .1 3.5 0-3 0 3.5 .1-3.1 0 3.7 0-2.1 .1 2.5 0-1 0 2.4 .1-1.3 .1 1.1 .1-2.5 .1 1.3 0-2.1 .1 1.2 .1-2.5 .1 1.2 .1-1.4 .1 .9 .1-2.3 0 .7 .1-1.8 .1 4.1 .1-5.2 .1 .7 .1-1.5 .1 .4 .1-2.2 0 .4 .1-2.2 .1 2.4 .1-.3 0 2.6 .1-1.3 0 2.5 .1-2.7 0 2.8 .1-1.7 .1 3.4 0-1.8 .1 2.1 .1 2.4 .1-1.8 0 3.9 0-3.7 .1 .9 0-1.4 .1 0 0-1.7 .1 .8 0-2.6 .1 1.6 0-2.8 .1 1.6 0-2.1 0 .9 .1-1.8 0 .2 .1-1.6 0 1.5 .1-4.1 0 3.6 0-4.6 .1 1.4 .1-1.5 .1 .6 .1-1.8 0 1.5 .1-2.3 .1 .8 .1-1.9 .1 1.1 .1-2.3 .1 .4 .1-1.4 .2-.3 .2-1.3 .2 .3 .1-1.2 .1 3.2 .1-2.6 .1 2.4 .1-.5 .1 1.3 .1 .1 .1 1.3 0-.2 .1 2.1 .1-.9 .1 1.9 0-.8 .1 2.2 0-1.7 0 2.1 .1-1 0 2.3 .1-.9 0 2 .1-.8 0 1.6 0-.7 .1 2.3 0-.3 .1 1.8 0-1.5 .1 2.2 0-1.5 0 2.8 .1-1.4 .1 2.2 .1-1.8 .1 3.3 0-1.3 .1 4.2 .1-2.7 .1 2.8 .1-3.1 .1 3.8 .1-.7 .1 2.1 .1-1 .2 2.3 .1-2.6 .1 3.4 .1-.5 .2 2.4 .2-2.7 .3 .8 .3-2.4 0 2.6 .1-3.5 0 .9 0-2.1 .1 1.4 0-2 0 .3 .1-1.6 0 1.1 0-4.3 0 3.2 .1-2.4 0 1.2 0-2.6 .1 1.8 0-3.4 0 2 .1-3.5 0 1.6 0-2.8 .1 1.5 0-2.6 0 1.4 .1-2.3 0 1 0-2.1 0 1.5 .1-3 0 2 0-2.5 .1 .5 0-1.7 0 .8 0-2.5 .1 1.7 0-1.9 0 .9 .1-2.6 0 .9 0-2.9 .1 .8 0-1.2 0 1 0-2.9 .1 .6 0-1.7 0 .8 .1-1.3 0 1.2 0-2.2 .1 .6 0-2.8 0 2.1 .1-2.9 0 1.3 0-3.5 0 2 .1-2.6 0 1.7 0-3.5 .1 2.6 0-2.9 .1 1.1 0-2.3 0 .5 .1-2.7 0 2.8 .1-4.2 0 2 0-2.4 .1 1.8 0-2 .1 .6 0-2.5 0 4.1 .1-1.1 0 2.5 0-1.4 .1 2.2 0-1.7 .1 3 0-.8 0 1.9 .1-.5 0 2.2 0-.8 .1 1.6 0-.7 0 3.2 .1-2.5 0 2.7 .1-2 0 3.2 0-1.4 .1 2 0-1.4 0 2.6 .1-1.1 0 1.9 .1-1.5 0 3 0-.8 .1 2.1 0-1.2 .1 3.3 0-1.7 .1 2.1 0-1.6 .1 2 0-.6 0 2.2 .1-2.1 0 4.2 .1-2.3 0 5.5 .1-3.9 0 3.8 .1-2.4 0 3 0-1.6 .1 2.5 0-1.4 0 2.4 .1-.7 0 1.4 0-2 .1 3.4 0-1 .1 1.8 0-.5 0 2.3 .1-1.9 0 3.1 0-1.3 .1 2.5 0-1.2 0 3.5 .1-2.9 0 3.1 0-1.6 .1 2.2 .1-1.3 .1 .2 0-1.3 .1 1.1 .1-3 .1 1.3 .1-1.5 .1 .5 .1-1.9 .1 1.6 0-3 0 .8 0-2 .1 1.2 0-2.3 0 .4 0-2.1 .1 1.6 0-2.5 0 1.4 0-2.4 .1 1.4 0-3.2 0 1 0-1.8 .1 .3 0-1.9 0 .6 0-1.1 .1 1.2 0-3 0 1.4 .1-3.1 0 1.4 0-1.7 0 1.2 .1-2.3 0 1.4 0-2.2 0-.2 .1-2 0 2.3 0-3 0 1 .1-4.4 .1 2.5 .1-1.8 .1 1.6 .1-2.5 .1 1.6 0-3.2 .1 1.2 .1-2 .1 .4 .1-1.3 .1 3.6 .1-1.3 .1 1.3 .1-.3 0 1.2 .1 .1 .1 1.5 .1 0 .1 1.6 0-1.3 .1 2.4 0-1.7 .1 2.9 0-1.3 .1 2.6 0-1.3 0 2.6 .1-.6 0 1.8 .1-1.2 0 1.5 .1-.8 0 3.1 0-1.2 .1 1.6 0-1.2 .1 2.2 0-1.7 .1 3.7 0-1.7 0 2.2 .1-.6 0 1.8 0-.5 .1 2.4 0-2.5 .1 3.7 0-2.9 0 4.8 .1-2.7 0 3.5 0-3 .1 3.7 0-1.7 0 3.4 .1-1.4 0 1.3 .1 .1 0 1.8 0-.4 .1 1.7 0-.4 0 2.9 .1-3.1 0 .5 0-1.5 0-1.8 0 1.2 .1-1.8 0 .4 0-2.3 0 1.4 0-3 0 1.6 .1-1.9 0 .7 0-2.1 0 .4 0-1.8 .1 1.5 0-2.8 0 1.1 0-2.7 0 1 0-2.6 .1 1.6 0-2.1 0 1.8 0-2.3 0 .5 0-3.1 .1 2 0-2 0 1 0-2.4 0 .8 0-2.6 0 1.4 .1-2 0 .6 0-3.3 0 2 0-3.3 0 2.3 0-2.7 0 1.8 0-3.1 .1 1.5 0-1.7 0 1 0-2 0 .1 0-1.3 0 .1 .1-2.4 0 1 0-1.2 0 .4 0-2 0 1.4 0-3.1 0 2.2 .1-2.9 0 1.9 0-3.3 0 .7 0-1.7 0 .8 0-2.7 0 2.1 0-2.7 0 1.8 .1-2.3 0 .2 0-1.4 0-2.3 0 1 0-2.2 0 1.7 .1-2.7 0 .8 0-1.8 0 1.4 0-3.1 0 1.5 0-2.1 .1 .9 0-1.7 0 .8 0-2.9 0 1.8 0-3.1 .1 2.3 0-2.3 0 .6 0-1.6 0 .5 0-2.1 .1 .3 0-2 0 1.6 0-3.9 0 2.7 0-3.1 .1 .9 0-2.4 0 2 0-2.1 0-2.5 0 1.1 .1-1.4 0 .2 0-1.5 0 1.1 0-3.4 0 2.6 .1-2.2 0 .3 0-1.7 0 .3 0-1.2 0-.3 .1-1.2 0 1.3 0-2.2 0 1.9 0-3.9 0 2 .1-3.4 0 1.5 0-3.4 0 1.5 0-1.7 0 1.2 0-2.2 .1 2.8 0-5.2 0 3.8 0-3.9 0 1.5 0-2.2 .1 .4 0-2.8 0 2.1 0-3.2 0 2 0-2.7 .1 1.2 0-1.6 0 .9 0-2.3 0 1.2 .1-2.5 0 2.2 0-3.3 0 .6 0-1.7 0 .7 .1-2 0 .8 0-3.4 0 2.2 0-2.2 .1 1.8 0-3.8 0 2.2 0-2.8 0 1 0-1.8 .1 1.8 0-1.8 0 1.7 0-.4 0 2 0-.8 0 3.8 0-3.5 .1 4.5 0-3.1 0 3.4 0-1.1 0 1.6 0-1.2 0 2.6 0-1.2 0 1.8 .1-2.1 0 4.7 0-2.6 0 3 0-1.3 0 1.7 0-.5 0 3.1 0-1.7 .1 1.9 0-.9 0 3.6 0-2.7 0 3 0-1.4 0 2.2 0-.6 0 1.5 0-.8 .1 2.8 0-1.8 0 3.1 0-2.9 0 3.8 0-1.3 0 1.4 0-.1 0 3.2 0-1.7 .1 2.8 0-2.4 0 4.1 0-3.3 0 2.4 0-2 0 3.3 0-.7 0 2.4 0-3.7 .1 2 0-3 0 1.5 0-1.2 0-.2 0-2.1 0 1.5 0-1.6 0 .1 0-2.6 0 1.8 0-3.4 0 2.2 0-2 0 .7 0-1.8 0 .5 0-1.7 0 1 0-2.1 0 1.7 0-3.6 0 1.3 0-2.9 0 1.8 0-1.7 .1 0 0-1.8 0 1.3 0-2.9 0 1.1 0-3 0 2 0-2.2 0 .5 0-1 0-.1 0-1.6 0 1 0-1.9 0 .6 0-1.4 0 .4 0-1.6 0 1.1 0-2.2 0 .4 0-1.8 0 1.6 0-3.7 0 1.1 0-1.7 0 .8 0-2.2 .1 2 0-3.1 0 1.6 0-2.4 0 .1 0-2.2 0 1.6 0-2 0 .6 0-2 0 .6 0-2 0 1.2 0-4.1 0 2.5 0-1.6 0 .2 0-2 0 .6 0-1.1 0 .8 0-1.9 0 .8 0-2.2 0 1.1 0-2.2 0 .7 0-2.2 .2 .6 .1-1.5 .2 .8 .1-1.7 0 2.1 0-1.5 0 2.9 0-2.4 .1 3.3 0-1.4 0 4.4 0-3.8 0 3.7 0-2.5 0 4.5 0-2.8 0 2.2 0-1.4 0 2 0-.7 0 2.1 0-.6 0 2.1 0-.9 0 2.8 .1-3.4 0 4.2 0-1.8 0 3.5 0-2.4 0 3 0-.9 0 3 0-2.6 0 2.4 0-1.3 0 2.8 0-1.5 0 2.2 0-1.3 0 4.6 .1-3.8 0 3.3 0-1.5 0 2.5 0-.4 0 2.3 0-1.6 0 3.4 0-1.5 0 2.1 0-1 0 2.3 0-1.1 0 2.9 0-1.8 0 1.6 0-.6 0 2.4 .1-1 0 3.2 0-2.1 0 1.8 0-.4 0 1.9 0-1.1 0 2.8 0-1.5 0 2.4 0-1.4 0 2.8 0-2.2 0 3.4 0-2.2 0 2.6 0-.3 .1 2.1 0-1.7 0 2.4 0-.4 0 2.3 0-3.3 0 .8 0-2 0 2 0-2.5 0 .2 0-1 0 .8 0-3 0 2.8 0-4.4 .1 2 0-2.4 0 .9 0-2.6 0 1.3 0-3.6 0 2.4 0-1.3 0 .8 0-3 0 1.5 0-2.9 0 2.3 .1-2.8 0 .6 0-1.8 0 1 0-2.6 0 2.1 0-3.8 0 1.5 0-2.2 0 1.5 0-2.8 0 1.8 0-2.5 .1 .5 0-2.9 0 2 0-2.4 0 1.4 0-2.3 0 .6 0-2.6 0 3.6 0-4.8 0 2 0-2.3 0 .3 .1-1.3 0 .7 0-2.4 0 .9 0-3.4 0 1.8 0-1.3 0 .6 0-1.9 0 3 0-.9 0 2.5 0-1 0 1.5 0-.9 0 2.8 .1-.9 0 3.3 0-2.5 0 1.8 0-.6 0 1.8 0-.4 0 1.7 0-.8 0 2 0-1.5 0 3.3 0-1.1 0 2.7 0-1.1 .1 1.6 0-1.2 0 2.8 0-.6 0 1.3 0-.2 0 2.3 0-1.7 0 1.4 0-1.4 0 4.1 0-3 0 3.5 0-.9 0 3.1 0-2.1 .1 2.5 0-1 0 1.8 0-.9 0 2.1 0-1.3 0 2.1 0-.4 0 1.6 0-1.1 0 3.2 0-1.7 0 2.9 0-1.1 .1 1.3 0-1.4 0 5 0-3.2 0 2.7 0-.8 0 1.7 0-1 0 2.9 0-2.1 0 3.4 0-2.7 0 2.8 0-.1 0 1.6 .1-1.7 0 .5 0-2 0 .6 0-1.7 0 .4 0-1.9 0 .9 0-1.5 0 .3 0-1.4 0 .3 0-2.1 0 2.1 0-4.3 0 2.1 0-3 .1 1.4 0-1.3 0 .1 0-1.9 0 1.4 0-2 0 .3 0-1.5 0 .6 0-2.5 0 .9 0-2.5 0 2.3 0-2.9 0 .4 0-1.9 0 .9 0-2.5 0 2.2 .1-3.4 0 1.5 0-1.5 0 1.2 0-3.1 0 1.7 0-3 0 1.2 0-2 0 .4 0-2 0 1.7 0-2.4 0 1.4 0-3.2 0 .5 0-1.5 .1 .5 0-2.3 0 2.3 0-3.1 0 2.3 0-2.8 0-.1 0-1 0 .2 0-1.4 0 .4 0-2.2 0 .8 0-2.2 0 1.6 0-3 .1 1.4 0-2.3 0 1.3 0-1.9 0 1.9 0-3.2 0 1.3 0-1.1 0 3.7 0-2.3 0 2.3 0-.1 0 2.2 0-2.6 0 3.3 0-.3 0 1.1 .1 0 0 1.1 0-.9 0 2.2 0-1.1 0 2.8 0-.8 0 2.5 0-1.3 0 2.1 0-1.1 0 2.7 0-1.4 0 1.7 0-1 0 2.7 0-2.3 0 3.2 0-2.8 0 4.3 .1-1.3 0 1.9 0-1.2 0 2 0-2.1 0 4.8 0-2.6 0 3.1 0-1.1 0 1.5 0-.2 0 2.4 0-1.4 0 1.9 0-1 0 3.2 0-1.4 0 1.5 .1 .1 0 1.2 0-.3 0 2.1 0-1.1 0 2.4 0-.7 0 2.1 0-.9 0 2 0-.7 0 2 0-1.1 0 2.2 0-1.9 0 3.9 0-2.5 0 3.3 0-1.2 .1 1.3 0-.4 0 3.2 0-1.9 0 3.3 0-2.4 0 2.3 0-.7 0 1.5 0-.2 0 1.3 0-1 0 1.3 0-3.3 0 4.1 0-4.5 .1 1.2 0-1.4 0-.3 0-1.9 0 1.6 0-2.2 0 .5 0-1.4 0 1.4 0-2.8 0 .6 0-3.3 0 2.2 0-3.3 0 2.4 0-1.8 0 .4 0-1.9 0 1.3 0-3.8 .1 3.3 0-3.2 0 1 0-2.1 0-3.3 0 2.7 0-3.4 0 3.2 0-2.8 0 .8 0-2.8 0 1 0-2 0 .9 0-1.5 0 .4 0-1.7 0 1.1 0-2 .1 1.2 0-2.4 0 .3 0-1.4 0-.1 0-1.2 0 .1 0-2 0 1.7 0-3.5 0 1.4 0-2.3 0 1.2 0-3.2 0 2.1 0-2.7 0 1.4 0-1.6 0 .1 0-1.8 0 .9 0-1.9 .1 .8 0-1.3 0 .3 0-1.6 0 .5 0-1.7 0 .5 0-2.4 0 .9 0-2.3 0 1.3 0-2.6 0 1.1 0-1.5 0 1 0-1.9 0 .5 0-2.3 0 .4 0-1.9 .1 1.3 0-2.3 0 2.8 0-1.3 0 1.6 0-.1 0 3 0-2.8 0 3.6 0-2.5 0 2.8 0-1.5 0 2.2 0-1.2 0 2.7 0-1.4 0 2.7 0-.9 0 2.1 0-.2 .1 1.9 0-1.5 0 2 0-1.1 0 3.2 0-.8 0 2.3 0-1.5 0 1.3 0-.8 0 1.9 0-1 0 2.8 0-2 0 5 0-3.3 0 3.8 0-1.7 0 2 0-3.1 0 4 .1-2.3 0 4.1 0-1.2 0 2.5 0-.9 0 1.2 0-.1 0 1.3 0-1 0 2.9 0-1.8 0 2.7 0-.5 0 2.5 0-1.8 0 2.2 0-2.2 0 3.7 0-3.3 0 4.3 0-.6 0 1.8 0-2.3 0 4.1 .1-2.4 0 3.3 0-1.5 0 2.4 0-.9 0 1.9 0-.6 0 1.9 0-1.5 0 2.8 0-1 0 1.7 0 .1 0 1.2 0-.4 0 1.9 0-1.5 0 2.8 0-1 0 2.6 0-1.1 .1 3.4 0-1.8 0 1.9 0-1.2 0 1.9 0-.6 0 1.5 0-1.4 0 1.1 0-1.5 0 .5 0-1.7 0 .4 0-1.4 0 .7 0-1.6 0-.1 0-1.2 0 .3 0-1.2 0 .8 .1-2.8 0 1.5 0-1.8 0 .7 0-2.5 0 .6 0-2 0 1 0-1.7 0 1.4 0-3 0 .6 0-1.9 0 .9 0-2.6 0 1.3 0-3 0 2 0-1.6 0 1.5 .1-2.8 0 .9 0-2.2 0 .5 0-1.8 0 1.3 0-2.2 0 .5 0-1.6 0 1 0-2.1 0 .1 0-1.7 0 .2 0-1.6 0 .9 0-2.7 0 1.9 0-3.5 0 1.9 0-2.1 .1 1.1 0-2.6 0 .9 0-2 0 1.4 0-2.8 0 1.6 0-1.7 0-.3 0-1.4 0 1.2 0-2.8 0 1.9 0-3.2 0 2.3 0-2.8 0 1.2 0-2.3 0 .3 0-2.6 0 1.4 .1-2.6 0 1.5 0-4.1 0 2.6 0-1.2 0 .1 0-1.6 0 .5 0-1.6 0 .5 0-1.8 0 .4 0-3 0 2.7 0-3.3 0 1.6 0-2.3 0 1.3 0-2.7 .1 2.4 0-1.8 0 3.2 0-3 .1 3.6 0-1 0 2.9 .1-1.5 0 2.3 0-.8 0 2.9 .1-1.8 0 2.2 0-1.7 0 4 .1-1.8 0 1.8 0-.8 .1 2.2 0-1.4 0 2.7 0-1 .1 2.3 0-.8 0 1.6 0-1.2 .1 3.3 0-1.5 0 2.4 0-2 .1 2.7 0-1.5 0 2.4 0-.4 .1 1.2 0-.7 0 2.8 0-1.3 0 2.2 .1-1.4 0 3.6 0-2.8 0 3.4 .1-2.3 0 3.5 0-.9 0 2.4 .1-1.6 0 1.8 0-.5 0 1.8 0-.5 .1 1.6 0 .3 0 .9 0 1.8 .1-.6 0 2.5 0-1.4 0 1.5 .1 1.1 0 .1 0 1.4 0-.3 0 3.3 .1-1.9 0 1.1 0-1.2 0 2.7 0-.5 .1 1.7 0-.9 0 1.8 0-.5 0 1.8 .1-.5 0 1.4 0-.6 0 3 0-1.5 .1 3.4 0-2.2 0 2.1 0-.4 0 1.8 .1-1.9 0 4 0-2.8 0 3.7 0-2.3 .1 2.6 0-1.7 0 3.8 0-1.2 0 1.6 .1-1.4 0 2 0 1.5 0-.7 .1 3.1 0-2.5 0 2.4 0-.8 0 2.3 .1-2.4 0 3.9 0-2 0 2.3 0-.8 .1 2.2 0-.4 0 1.9 0-2.3 0 3.2 .1-1.3 0 3.6 .1-1.5 .1 2.6 .1-1.4 0 1.5 .1-.5 .1 1.8 .1-.6 0 1.9 .1-.4 .1 2.2 0-.9 .1 .3 0-1.6 0 .2 0-1.5 .1 .3 0-1.8 0 .5 .1-2.9 0 1.9 0-2.6 0 1.6 .1-1.9 0 1.6 0-2.4 .1 1.7 0-4.5 0 2.2 0-2.3 .1 1.2 0-2.4 0 1.3 0-2.5 .1 2.8 0-3.5 0 1.5 .1-2.3 0 .2 0-1.7 0 .1 .1-1.1 0 .8 0-2.4 0 2 .1-2.9 0 .5 .1-1.6 0 1.9 0-3.5 .1 1.2 0-2.2 0 .6 .1-2 0 .8 .1-2.5 0 .5 0-1.4 .1 .5 0-1.5 0 .5 .1-1.4 0 1.2 0-4.9 .1 3.3 0-2 .1 .3 0-1.4 0 1.9 .1-3.3 0 .7 0-3.1 .1 2.2 0-3.3 0 3.1 .1-5.2 0 2 0-3.1 .1 1.9 0-2.4 .1 1.5 0-2.4 0 1.8 .1-4 0 2.3 0-1.7 .1 .7 0-2.7 0 .9 .1-1.7 0 1 .1-3.3 0 1.5 0-2.7 .1 1.3 0-1.5 0 .3 .1-1.9 0 1.1 0-2 .1 .3 0-2.5 .1 1.4 0-2.8 0 2.4 .1-3.6 0 1.8 .1-3.4 0 2.8 0-2.2 .1 1.4 0-2.3 0 .5 .1-2.2 0 1.6 0-2.8 .1 .3 0-1.6 0 .2 0-1.9 .1 1.5 0-3 0 1.6 0-2.2 .1 1.2 0-2.1 0 .4 0-1.8 .1 .9 0-2.4 0 2.1 0-2.8 0 1.4 .1-2.5 0 1.1 0-3.1 0 1.4 .1-2.9 0 2.1 0-2.5 .1 1.4 .1-2.9 .1 .4 .1-2.1 .1 1.7 .1-3.2 .1 4.2 0-2.8 0 3 .1-.6 0 1.9 0-1.4 .1 2.6 0-.8 0 1.9 .1-1.6 0 2 0-.3 .1 2.7 0-1.1 .1 3.3 0-2.3 .1 2.4 .1-1.6 0 2.3 .1-.7 .1 2.6 .1-1.7 .1 2 .1-1.3 .1 2.8 .1-1.2 0 1.8 .1-1.8 0 2.9 0-.7 .1 1.8 0-.7 .1 2.1 0-.8 .1 2.4 0-1.1 0 3.3 .1-1.9 0 3.7 .1-3.4 0 2.1 .1-1.9 0 4 0-2 .1 2.4 0-.3 .1 2.3 .1-1.7 0 2.8 .1-.9 0 1.6 .1-.8 .1 1.9 0-1.1 .1 3.4 0-1.8 .1 1.9 0-1.5 .1 2.2 .1-.8 0 2.3 .1-.3 .1 1.3 .1 0 .1 1.7 .1-1.1 0 1.9 .1-.7 .1 1.9 .1-1.6 .1 3.2 .2-1.5 .1 2.3 .2-.3 .2 2.2 .2-1.6 .1 2.7 .1-1.6 0 2.4 .1-.9 .1 2.2 .1-1.7 .1 4 .1-2.7 .1 3.6 0-1.6 .1 1.4 0-1 .1 2.2 0-.9 .1 1.9 0-.8 .1 1.8 0-1 0 2.5 .1-1.5 0 3.4 .1-1.2 0 2.3 .1-2.3 0 4 .1-1.6 0 1.4 0-.8 .1 3 0-1.1 .1 1.4 0-.7 .1 2.4 0-1.8 .1 2.9 0-1 .1 2 0-1.2 .1 3 0-1.3 .1 2.7 0-2.1 .1 3.4 0-1.6 .1 2.3 .1-1 0 1.5 .3-1.7 .3 2.9 .3-1.3 .2 1.6 .1-2.4 .2 .8 .2-2.3 .1 .9 .1-3.3 .1 2.1 0-2.4 .1 1.7 0-2.2 .1 1.2 .1-2.5 0 2.4 .1-3 0 2.3 .1-3.6 .1 .6 0-2.2 .1 1.4 0-3.4 .2 1.5 .2-2 .2 1.1 .1-1.7 0 3.1 .1-1.6 0 3.7 .1-2 0 2.5 .1-1.5 0 2.8 .1-1.7 0 2.2 .1 .3 0 1.3 .1-.9 0 2.3 .1-.4 0 2 .1-1 .1 2.3 .1-1.2 0 2.2 .1-1.8 .1 3.7 .1-1.8 .1 3.5 .1-3.3 .1 3 .1-2.6 0 2.3 .1-3 0 1.9 .1-3.3 0 2.3 .1-2.6 .1 2.1 0-2.6 .1 1.3 .1-2.4 0 1.1 .1-2.7 0 .9 .1-2 0 .8 .2-1.9 .1 1.7 .2-2.8 .1 .8 .2-2.4 .1 1 .2-1.1 .1 3.1 .2-1.8 .1 3.1 .1-2.2 .2 3.4 .1-2.1 .1 2.6 0-.8 .1 1.2 .1-.3 .1 2 .1-1.1 .1 4.1 .1-2.7 .1 2.1 .1-2.1 .2 1.2 .2-2.4 .2 2.5 .1-3.8 .1 2.2 0-.7 .1 3.7 0-2.2 0 1.5 .1-1.9 0 3.2 0-1.1 .1 2.2 0-.3 .1 1.2 0-1.2 0 2.1 .1 .1 0 1.3 .1-.6 0 2.4 0-1.3 0 1.9 0-.1 .1 1.7 0-.5 0 3.8 0-2.8 0 2.8 .1-3.3 0 3.7 0-.7 0 1.8 0-.3 .1 2.1 0-.7 0 1.9 0-2.4 0 3.3 .1-.7 0 2 0-1.5 0 2.7 .1-2.1 0 3.5 0-2.3 0 2.7 .1-1 0 3.4 0-1.1 .1 1.5 0-.8 .1 1.6 0-1 .1 2.4 0-.3 .1 1.7 0-.8 0 1.7 .1-.6 0 1.9 .1-.5 0 2.4 .1-1.8 0 2.7 0-1.5 .1 2.6 .1-1.9 0 2.7 .1-1.3 0 2.9 .1-1.3 0 1.5 .1-.9 0 2.1 .1-.9 .1 2.1 0-.7 .1 2.2 0-1.4 .1 2.4 .1-.6 0 1.5 0-1.1 0 2.4 .1-1 0 2.8 .1-2.2 0 3.2 0-1.3 0 2.2 .1-1.4 0 2.6 0-.8 .1 2.6 0-1.5 0 2.7 .1-.6 0 2.1 0-1.6 0 2.5 .1-1.4 .1 .3 .1-1.5 .1 .1 .1-1.8 .1 .9 .1-2.6 .1 1.1 0-1.9 .1 .7 .1-1.9 0 .5 .1-1.1 .1-.1 0-1.2 .1 .3 0-2.7 .1 1.3 0-3.1 .1 2.1 .1-1.2 .1-1.3 0 .1 .1-1.6 .2 .4 .2-1.1 .1 .2 .2-1.6 .2 .4 0-.7 0 2.9 .1-1.5 0 2.4 0-.6 .1 1 .1 2.2 0-2.3 0 3.5 .1-1.2 0 2 .1-1.1 0 2.3 0-1 .1 2.2 0-.4 0 1.4 .1-.5 0 1.6 0-1.5 .1 4.2 0-3.4 0 3.4 .1-1.6 .1 2.4 0-4.7 .1 2.1 0-4 .1 4.5 .1-5.2 0 1.8 .1-2.9 0 1.9 .1-3.6 .1 3 0-3.2 .1 1.9 0-3.1 .2 1.4 .2-2.3 .1 1.2 .2-1.6 .2 .3 .1-.5 0 1.2 .1-.3 0 3.1 .1-3.3 .1 3.7 0-2.4 .1 3.3 0-1 .1 1.7 0-.6 .1 2 .1-.8 0 2 .1-.2 .1 1.5 .1-2.1 0 3.1 .1-1.8 .1 2.5 .1-1.1 .1 2.7 .1-.8 .1 1.9 0-.6 .1 2.2 .1-1.6 .1 2.8 .1-2.2 .1 3.2 .1-1.9 .1 3.8 .1-2 0 2.6 .1-1.9 .2 2.6 .2-3.8 .1 2.5 .2-2.4 .2 2 0-3.8 .1 1.1 0-3.4 .1 3.4 0-4.7 .1 2.4 0-2.2 .1 .3 0-2.4 0 1.7 .1-2.2 0 1.2 .1-2.2 0 2.7 .1-3.5 0 2.1 0-3.9 .1 2 0-3.3 .1 2.5 0-3.7 .1 1.5 0-1.9 .1 1 0-2.5 0 .6 .1-1.2 0 1.6 .1-3.6 0 1.5 .1-3.5 0 2.2 .1-2.9 0 2 0-2.1 .1 .4 0-1.4 .1 0 0-2.5 .1 2.2 0-2 .1 .6 0-2.1 0 .3 .1-2.9 0 1.8 .1-3.1 0 1.6 0-1.5 .1 3.5 0-4.9 .1 .9 0-1.4 .1 .9 0-2.1 .1 .9 0-1.8 0 1.2 .1-2.5 0 .5 .1-2.1 0 1.4 .1-1.8 0 .6 .1-3 0 1.6 0-2.7 .1 1.6 0-2 .1 1.4 0-2.5 .1 1.2 0-2.7 0 1.3 .1-2.5 0 1.5 .1-2.3 0 1.8 .1-3.3 0 1.1 .3-2.2 .3 .7 .3-1.3 .1 1.9 .1-.5 .2 1.6 .1-.2 .1 .8 .1 .4 .2 2 .1-2.3 .2 .9 .2-2.3 .2 2.1 .1-3.8 .1 2.2 0-1.1 .1 3.5 0-1.7 .1 3.4 0-2.5 0 2.2 .1-1.7 0 3.3 .1-.9 0 1.8 .1-.7 0 1.7 0-.3 .1 1.4 0-.9 .1 2.5 0-1.6 .1 2.2 0-.9 .1 2.1 .1-1.5 .1 3.1 .1-1.2 .1 4 0-2.4 .1 1.5 .1-1.3 .1 2.3 .1-1.3 .1 1.5 .1-2.1 0 .5 .1-.8 .1 .6 .1-1.8 .1 1.4 .1-3 .1 .5 .1-1.4 0-.2 0-1.4 .1 1.6 0-2.8 .1 2.4 0-3.7 0 .7 .1-2.1 0 .8 .1-2.1 0 1.4 0-2.1 .1 .8 0-2.9 .1 2.4 0-3.8 0 2.5 .1-2.2 0 .2 .1-2.8 0 2.3 0-3.9 .2 3.6 .2-3.5 .2 2.3 .1-3.7 .2 .6 .1-.5 0 1.6 .1 .1 0 1.5 .1-.3 0 1.2 .1-.2 0 2.1 .1-.6 0 2.1 .1-1.9 0 2.3 .1-.7 0 2 .1-.8 0 2.2 .1-.7 .1 .9 0-2.5 .1 .9 0-1.9 .1 1.6 0-2.7 .1 2.2 .1-3.7 0 2 .1-2.4 0 .4 .1-2.2 0 1.5 .1-3.7 .1 2.2 0-3.4 .1 2 0-4.1 .1 3.6 .1-2.8 0 2.8 .1-4.5 0 1.6 .1-2 .1 1.5 0-3.2 .1 1.5 0-2.4 .1 .9 0-1.6 .1 .3 0-1.3 0 .2 0-1.5 .1 .7 0-3.3 0 2 .1-1.9 0 .7 0-1.7 .1-1.7 0 1 0-2.7 0 1 .1-1.7 0 .9 0-2.5 0 .9 .1-3.1 0 2.6 0-3 0 1.1 .1-2.3 0 1.7 0-2.7 .1 .8 0-1.5 0 .5 0-2.4 .1 1.4 0-1.7 0 1.1 .1-3.8 0 3 0-3.1 .1 1 0-2.6 .1 2.2 0-2.8 .1 .4 0-2.6 .1 1.9 0-3.6 0 2.7 .1-2.5 0 1.8 .1-2.5 0 .8 .1-1.8 0 .5 .1-1.7 0 .4 0-1.8 .1 1.1 0-3.9 0 3.2 0-2.5 .1 .4 0-2 0 .8 .1-1.9 0 2 0-3.4 0 .6 .1-1.5 0 1.3 .1-2.7 0 1 0-2.7 0 .8 .1-1.9 0 .7 0-2.2 .1 .8 0-1.2 0-.1 0-2.5 .1 2.2 0-2 0 .3 .1-2.4 0 3.4 0-1.9 .1 2.2 0-.6 0 1.5 .1-.6 0 2.3 0-.7 0 3.8 .1-2.5 0 2.2 0-1.1 .1 2 0-1.1 0 2.1 .1-1.3 0 3 0-1.6 .1 3.6 0-3 0 2.9 0-4.7 0 1.6 0-2.2 0 .8 0-1.5 0-2.5 0 1.6 0-2.3 0 1.5 0-2.3 0 .5 0-4.2 0 3.2 0-1.7 .1 .2 0-1.8 0 1.8 0-3.4 0 1.6 0-1.9 0-.1 0-.9 0-.3 0-.8 0 .9 0-2.2 0 .3 0-3 0 1.7 0-2.1 0 1.1 0-3.3 .1 2.2 0-2.1 0 .7 0-1.3 0 .5 0-2.5 0 1.3 0-2.1 0 1.1 0-2.4 0 .6 0-3 0 2.7 0-3.7 0 1.3 0-1 0 .2 0-2 0 1.5 .1-2.3 0 .4 0-3.1 .1 2.5 0-5 0 4.5 .1-4.4 0 2.3 0-2.9 .1 1.3 0-2.7 0 1.6 .1-2.5 0 1.6 0-2.2 .1 1.7 0-2.9 0 1.3 0-1.6 0 3.3 0-2.8 .1 2.7 0-2.4 0 3.7 0-.8 0 2.3 0-.9 0 1.7 0-.4 0 1.6 0-.1 0 1 0-.3 0 2.1 .1-1.5 0 3 0-1.9 0 3 0-.9 0 1 0 .3 0 2 0-1.3 0 1.9 0-.7 0 1.9 0-.9 0 2.7 .1-2.6 0 4.5 0-2 0 3 0-2.6 0 2.8 0-.3 0 2.4 0-2.2 0 3.5 0-2 0 1.8 0-.8 0 2.4 .1-1.2 0 2.4 0-.3 0 1.1 0-.1 0 1.7 0-1.4 0 2.3 0 1.6 0-.7 0 1.8 0-.8 0 3.6 0-2.2 .1 2.3 0-.8 0 1 0-1.5 0 1.5 0-2.3 0 .8 0-2.2 0 .4 0-1.7 0 .1 0-1.2 .1 .1 0-1.3 0 .7 0-3.1 0 2.4 0-2.7 0 1.1 0-3.7 0 2.6 0-1.7 0 .3 .1-1.8 0 1.2 0-3.4 0 1.9 0-3.9 0 2.2 0-2.9 0 2.9 0-3.4 0 1.9 0-2.6 .1 2.2 0-3.9 0 1.7 0-2.6 0 1.6 0-2.1 0 .9 0-4.8 0 3 0-2.3 0 .8 0-2.8 0 2.2 .1-2.6 0 1 0-3.1 0 1.8 0-2.4 0 1.5 0-2.6 0 1.9 0-.8 0 2 0-.3 0 2.4 .1-1.5 0 3.9 0-2.7 0 2.9 0-1.3 0 2.5 0-1.4 0 2.1 0-.6 0 2.3 0-2.3 0 2.5 0-1.5 .1 3.2 0-1.9 0 3.4 0-2.2 0 4.5 0-2.5 0 2.4 0-1.9 0 4.3 0-2.1 0 2.3 0-1.6 .1 2.5 0-.7 0 2.9 0-1.7 0 4 0-3.7 0 3.4 0-1.6 0 1.4 0-.4 0 1.9 0-.6 0 1.6 .1-.3 0 2.6 0-1.8 0 2.9 0-1.2 0 1.9 0-.2 0 1.1 0-.8 0 2.3 0-.4 0 1.9 0-.8 .1 .2 0-2 0 .7 0-2.1 0 1.7 0-3.2 0 2.8 0-3 0 .6 0-2.1 0 1.5 0-2.8 .1 1.7 0-3.3 0 2.6 0-2.7 0 1 0-3.3 0 1.7 0-2.6 0 1.9 0-3.1 0 1.5 .1-2 0 2 0-3.8 0 1.1 0-1.6 0 .1 0-1.5 0 1.1 0-2.5 0 .4 .1-1.9 0 1.3 0-1.9 0 .4 0-2.4 0 1.9 0-2.1 0 .8 0-2.2 0 .9 0-2.6 0 1.2 .1-1.9 0 1.5 0-2.8 0 1.3 0-2.5 .1 .9 .1-2.2 0 .9 .1-1.8 0 .6 .1-1.5 .1 .3 0-1.9 .1 .9 0-2.3 0 3.7 0-3.2 0 4.2 0-1 0 1.8 0-.6 0 2.6 0-1.6 0 1.9 0-1.2 0 2.9 0-.7 0 2.5 .1-1.5 0 3.2 0-2.3 0 1.9 0-.9 0 2.4 0-1.8 0 3.5 0-1.1 0 1.6 0-2 0 3.1 0-.6 0 1.8 0-.2 0 2.4 0-1.3 0 2.2 .1-1.5 0 3.2 0-2.3 0 2.6 0-1.2 0 4 0-2.5 0 2.1 0-.4 0 1.6 0-1.4 0 2.7 0-2.6 0 3.6 0-2 0 3.4 .1-1.7 0 3.2 0-3.3 0 3.3 0-3.8 0 1.9 0-1.4 0 1 0-2.9 0 .9 0-2.4 0 3 0-3.5 0 1.3 0-3.1 0 1.7 0-1.9 0 .5 0-1.5 0 .3 0-1.6 0 .8 .1-2.6 0 1.1 0-1.9 0 1.2 0-2.7 0 2.7 0-4.3 0 1 0-2.1 0 1.7 0-2.4 0 1.8 0-2.8 0 1.4 0-3 0 1.4 0-2.5 0 1.3 0-1.8 0 1.3 0-2.8 0 1.9 0-3.4 0 1.5 0-2.2 .1 1.1 0-2.3 0-1.9 0 .8 0-2.8 0 3.8 0-4.8 0 1.9 0-2.4 0 1.8 0-2.9 0 1 0-3.3 0 2.4 0-2.2 0 .2 0-1.2 0 .1 0-3.3 0 3.1 0-2.5 .1 1.1 0-3.1 .1 1 0-1.8 .1 3.5 0-4.2 .1 .6 0-2 .1 1.8 0-3 .1 .9 0-2.7 0 1.7 0 .3 0 1.4 0-1 0 2.8 .1-.5 0 1.5 0-1.4 0 2.4 0-3.5 0 4.8 0-.7 0 2.1 0-1.4 0 2.8 0-1.7 0 3.8 0-2.2 0 1.9 0-1.2 0 3.4 0-2.1 0 3.1 0-1.9 0 1.8 0 .2 0 1 .1-1.2 0 3.3 0-2.4 0 3.4 0-1.3 0 1.9 0-.8 0 3.2 0-1.2 0 1.2 0-.2 0 3.9 0-3.4 0 2.3 0-.7 0 2.9 0-1.2 0 2.2 0-2 0 3 0-1.2 0 2.3 0-1.9 .1 3.3 0-1 0 2.5 0-1.5 0 2 0-.9 0 1.9 0-.4 0 3.5 0-2.2 0 .9 0 .4 0 1.9 0-1 0 1.6 0-.7 0 2.1 0-.8 0 1.7 0-.7 0 2 0-1.4 0 .3 0-2.4 0 1.4 0-2.6 0 .9 0-1.7 .1 1.4 0-2.8 0 .7 0-1.9 0 .9 0-1.7 0 1.6 0-3.7 0 1.4 0-2.4 0 1.9 0-2.5 0 1 0-1.9 0 .8 0-3.6 0 2.8 0-2.4 0 .8 0-2.9 0 1.1 0-2.6 0 1.1 0-1.9 0 .9 0-2.6 0 1.6 0-2 .1 .6 0-1.5 0 .9 0-1.6 0 .3 0-2 0 .8 0-1.7 0 .6 0-2.2 0 .7 0-3 0 1.7 0-1.6 0 1.2 0-3.6 0 1.8 0-2.8 0 1.3 0-1.3 0-.1 0-1.2 0 .6 0-1.9 0 .5 0-1.8 0 .6 0-1.6 .1 1.1 0-2.7 0 1.7 0-2.5 0 1 0-2.1 0 .2 0-1.6 0 .2 0-1.1 0 1.1 0-2.9 0 .9 0-2.6 0 1.3 0-2.6 0 1.6 0-2.1 0 .3 .1 .1 0 1.3 0-.8 0 2.3 .1-.2 0 2 0-1.1 0 3.6 .1-3.8 0 4.3 0-1.5 0 2.7 0-2.4 .1 3.1 0-1.3 0 2.6 0-.9 .1 2.1 0-.9 0 1.1 .1-.4 0 2.7 0-1.3 0 1.4 0-1.7 0 2.8 .1-1.2 0 3.2 0-1.7 0 3.3 0-1.8 0 2.9 0-1.7 0 2.4 0-2.2 .1 3.5 0-2.4 0 3 0-.5 0 2.1 0-.8 0 1.8 0-1.5 0 3.2 .1-1.4 0 2.1 0-1 0 2.2 0-.6 0 1.9 0-2.1 0 3.6 .1-1.1 0 1.7 0-.9 0 2.8 0-1.8 0 2.2 0-.6 .1 4.1 0-2.6 0 2 0-1 0 3 0-2.4 0 2.3 0-1 0 3.3 .1-2 0 2.8 0-2.9 0 3.3 0-.9 0 1.9 0-.7 .1 2.6 0-2.4 0 3.9 0-2.1 0 2.6 0-1.3 0 3.9 0-2.3 .1 2.5 0-1.1 0 1.9 0-1 0 2.8 0-1.9 .1 3.4 0-2.1 0 2.1 0-.1 0 1.5 0-.6 .1 1.9 0-.6 0 2.2 0-1.6 0 2.3 0-1.6 0 5.4 .1-3.7 0 3.4 0-1.8 0 1.6 0-.4 0 3.8 0-2.8 .1 2.9 0-2.2 0 4.1 0-1.8 0 2.5 0-.9 0 2.7 0-2.7 0 3.5 0-1.5 0 2.4 0-1.1 .1 1.8 0-1 0 1.8 0-.7 0 2.5 0-1.6 0 2.4 .1-.6 0 2.7 0-2.6 0 2.4 0-.7 0 2 .1-.4 0 1.8 0-.5 0 2.3 0-1.3 0 3.9 0-4 .1 3.8 0-.9 0 1.3 0-.5 0 2.8 0-1.3 .1 1.8 0-1.3 0 3 0-1.5 0 1.7 0-.6 0 2.3 0-1.8 .1 4.7 0-3 0 2.8 0-2.1 0 2.8 .1-.1 0 1.9 .1-1.1 0 1.9 .1-2.5 0 3.1 0-2.2 .1 3.7 0-2 .1 3.2 0-2.2 0 3.4 .1-1.7 0 2.7 .1-.7 0 2.1 .1-1.6 0 3.1 .1-2.2 0 2.9 .2-2.1 .2 3.5 .1-2.3 .2 3 .2-.2 .1 0 0-1.7 .1 1.1 .1-3.4 .1 3.6 .1-3.6 .1 .6 .1-1.4 .1 1.4 .1-3.2 0 .7 .1-2.5 .1 2.7 .1-3.2 .1 2.5 .1-2.9 .1 .5 0-2.3 .1 1 .1-2.6 .1 1.8 0-2.7 0 1.1 .1-1.4 0-.1 .1-2 0 1.1 0-3.3 .1 2.2 0-2.7 0 .9 .1-1.6 0 2.5 0-3.6 .1 1.3 0-2.6 .1 1.5 0-2.3 0 .8 .1-2.6 0 1.9 0-5.6 .1 3.9 0-1.9 0 .3 .1-1.4 0 .1 0-1.8 0 1 .1-2.6 0 2.6 0-4.3 .1 1.4 0-2.8 0 2 0-2.6 .1 1.1 0-2.9 0 1.4 0-1.5 .1 .8 0-3.4 0 2.5 0-3.4 .1 3.6 0-4.1 .1 3 0-1.1 .1 1.6 .1-1.4 .1 2.4 0-.7 .1 2.4 .1-1.4 .1 5.1 0-3.8 .1 2.2 .1-.3 .1 1.1 0-2.3 .1 .7 .1-1.6 .1 .8 .1-4.2 .1 2.7 .1-1.5 .1 1.1 0-3.8 .2 1.6 .2-2.5 .2 1.5 .1-2.5 .2 2.5 .1-3.7 .1 1.4 .1-2.8 .1 2.8 .1-4 .1 1.6 .1-2.1 .1 1.1 .1-1.4 0 1.1 .1-.4 .1 1.6 0-.4 .1 2.5 0-1.2 .1 2.9 0-1.7 .1 1.7 0-.6 .1 1.3 .1-.3 0 2.6 .1-1.4 0 1.4 .1-1.2 0 3.3 .1-1.6 0 2.1 .1-.7 0 3.4 .1-1.8 0 1.5 .1 .1 0 1.3 .1-2.2 0 3.1 .1-.5 0 2.9 .1-1 .1 1.8 0-.9 .1 1.3 0-2.3 .1 2.1 .1-3.3 .1 1.9 .1-2.7 .1 2.1 .1-3.2 0 .7 .1-1.8 .1 1.6 .1-1.2 0 2.2 .1-2.6 0 4.4 0-1.9 .1 2.4 0-.4 .1 2.5 0-1.5 .1 1.7 0-1.4 .1 1.8 0-1.1 0 2.6 .1-.5 0 1.6 .1-.8 0 3.1 .1-2.8 0 5.2 .1-3.5 .1 3.5 .1-1.7 0 2 .1-.8 .1 3.4 .1-2 .1 2.3 .1-3.9 .1 4.3 .1-1.7 .2 .5 .2-2.8 .2 1.9 .2-2.2 0 3 .1-1.3 .1 2.7 .1-1.8 .1 1.6 .1-.5 .1 1.4 0-.2 .1 1.7 .1-.8 .1 .8 .1-2 .1 .6 0-1.2 .1 .3 .1-1.9 0 .7 .1-1.9 .1 .9 0-2.6 .1 .8 .1-2 .1 1.5 .1-2.2 0 .2 .1-2.1 .1 1.4 0-2.9 .1 1.3 .1-1.7 .1 1.7 0-2.5 .1 .6 .1-3.2 0 2.2 .1-3.6 0 2.4 .1-2 .1 .9 0-2.5 .1 .7 0-1.4 .1 .4 .1-2.5 0 2.8 .1-3.9 0 1.5 .1-2.4 .1 .6 .1-1.8 .1 .9 .2-1.4 .1 .1 .1-.3 0 1.9 .1-.4 0 2.3 .1-1.1 0 1.8 .1-.9 0 1.5 .1 .3 0 1.5 .1-.9 0 1.9 .1-1.4 0 3.6 .1-2 0 2.1 .1-.6 0 3.3 .1-1.7 0 1.9 0-1.4 .1 2.2 0-1 .1 2.5 0-1.2 .1 2.7 0-.9 .1 1.5 0-1.7 0 2.5 .1-.2 0 1.4 .1-.3 0 2.3 .1-.9 0 2 0-1.3 .1 1.5 .1-.5 .1 2.5 .1-1.4 0 2.7 .1-1.3 .1 1.8 .1-.6 .1 2.1 .1-.8 .1 1.9 0-.3 0 1.8 .1-3 0 4.1 .1-2.4 0 3.5 .1-1.3 0 2.7 .1-1.6 0 2.3 0-1 .1 2 0-.1 .1 .9 0-.6 .1 2.5 0-1.5 .1 2.5 0-.7 0 2.6 .1-2.4 .1 2.9 0-1.2 .1 2.5 .1-2.2 0 3.2 .1-.6 0 2.7 .1-1.6 .1 2.6 0-1 .1 1.1 .1-.5 0 1.9 .1-.9 0 4.7 .1-3.2 0 1.6 .1-.2 .1 2.2 0-1.2 .1 1.5 0-.4 .1 1.6 .1 0 0 1.5 .1-1.7 0 3.1 .1-1.9 0 3.7 .1-1.3 0 1.9 .1-.6 0 2.5 0-1.8 .1 1.5 0-.7 .1 2 0-.9 .1 2.1 0-1.9 .1 3.2 0-1.7 .1 2.8 0-.2 0 1.4 .1-.2 0 1.7 .1-1.7 0 4 .1-3 0 3.3 .1-1.7 0 2.7 .1-1.7 0 4.4 .1-3.3 0 3.9 .1-1.2 0 .9 .1-.2 0 2.3 .1-1 0 2.3 .1-1.6 0 3 .2-2.3 .1 1.1 .1-4 .1 1.8 .2-3 .1 2.1 .1-1.8 .1 .2 .1-2.3 .1 .7 .1-1.9 .1 .7 .1-1.5 0 1.2 .1-2.7 .1 3.8 .1-5.3 .2 2.9 .1-1.2 .2 2.1 .2-1.1 .2 3.5 .1-2.7 .1 .5 0-3.5 .1 2.9 .1-4 .1 2.5 .1-3.2 .1 1.8 .1-3.3 0 1.9 .1-2.8 .1 2.5 .1-2.6 .1 1 .1-1.8 .1 .7 .1-1.7 0 1.4 .1-2.9 .1 1.9 .1-2 0 2.4 .1-1.7 0 1.9 .1-.5 .1 1.5 0-1.3 .1 3 .1-.6 0 2.7 .1-1.5 0 3.1 .1-2.9 0 4 .1-1.9 .1 2.4 0-1.5 .1 1.6 0-1.2 .1 3.4 0-1.5 .1 1.7 .1-.7 0 3.3 .1-2.2 .1 3.4 0-1.5 .1 2.3 0-1.6 .1 1.9 .2-.2 .1 2.4 .2-1.5 .2 3.5 .2-2.5 0 1.2 0-3.1 .1 1.8 0-2.5 .1 1 0-1.9 .1 2.3 0-3 .1 1.8 0-3.2 0 1.4 .1-2.3 0 1.1 .1-2.6 0 2.5 0-3.3 .1 1 0-2.2 .1-.1 0-1.7 .1 1.7 0-3.3 .1 1.4 0-3.2 0 1.8 .1-1.9 0 1 .1-2.3 0 1 .1-1.9 0 2.5 .1-3.8 0 2.6 0-4.7 .1 1.5 0-2 .1 .5 0-.6 .1-.1 0-2.2 .2 4.1 .1-2.5 .2 3.6 .2-2.2 .2 2.1 0-1.2 .1 1.7 .1-.2 .1 2.1 .1-1.2 0 2.4 .1-1.5 .1 2.6 0-2.3 .1 2.7 .1-.3 .1 1.8 .1-1.6 .1 .9 .1-2.7 .2 2.1 .1-4.6 .1 2.8 .1-3.2 .2 2.6 .2-3 .2 .7 .1-1.9 .2 1.7 .1-.9 .1 1 .1-.3 .1 3.5 0-2.3 .1 1.6 .1-.8 .1 1.5 .1-.6 .1 2 0-1.4 .1 1.3 0-2.2 .1 1.6 0-3 0 .8 .1-2.6 0 2.4 .1-3.9 0 1.8 .1-2.5 0 .6 0-2.5 .1 3.6 0-3.9 .1 1.9 0-2.4 .1 .5 0-1.6 .1 .2 0-3.5 .1 2.6 .1-2.3 .1 1.4 .1-3.2 .1 1.2 .1-2.2 .1 .9 .1-3.2 0 2 .1-1.7 .1 1.2 .1-2.8 .1 2.6 .1-3.6 .1 2.7 0-3.2 .1 1.9 .1-3.3 .1 .8 .1-.8 0 1.6 0-.8 .1 2.2 0-2.2 .1 3.6 0-.4 .1 1.9 0-.8 0 2.9 .1-1.6 0 1.8 .1-.6 0 1.2 .1-.1 0 1 .1-.1 0 2 0-1.5 .1 2.2 .1-1.7 .1 1.4 .1-3.6 0 1.3 .1-2.9 .1 2.3 .1-1.9 .1 1.2 .1-3.8 .1 2.7 0-2.3 0 1 0-3.9 .1 2.4 0-2.7 0 1 .1-1.8 0 .8 0-2 .1 .6 0-1.6 0 .3 .1-1.2 0 1.1 0-2.7 .1 .1 0-1.9 0 .9 0-1.1 .1 0 0-2.2 0 1.3 .1-2.8 0 1.4 0-1.6 .1 .2 0-2.1 0 1.1 0-2.7 .1 2.7 0-3.4 0 1.4 0-2.5 .1 2.5 0-3.7 0 .7 0-1.6 .1 .6 0-3 0 1.5 .1-2.7 0 2 0-2.9 0 1.6 .1-1.6 0 .7 0-2.9 0 2.1 .1-3 0 1.1 0-3.1 .1 1.4 0-1.2 0 .5 0-1.9 0 1 .1-2.9 0 1.2 0-2.6 .1 .8 0-2.6 0 1.4 0-1.5 .1 .9 0-1.3 0 1.2 0-2.9 0 1.9 0-4 .1 1.7 0-1.9 0 1 0-2.5 0 1.5 0-2.7 .1 2.1 0-3.4 0 .6 0-1.6 0 .8 0-1.4 .1 .7 0-3.1 0 2.5 0-3 0 .8 .1-2.8 0 1.5 0-1.6 0 .4 0-1.3 .1 .1 0-1.4 0 .3 0-1.7 0 1.3 0-2.8 .1 .3 0-2.1 0 2.3 0-2.8 0 1.9 .1-3.1 0 2.1 0-4.1 0 3.1 0-3.4 0 1.5 0-2.3 .1 1.4 0-3.1 0 .7 0-2.9 0 3.2 0-3.5 .1 .8 0-2.1 0 1.4 0-2.1 0 .3 0-1.4 0 1.3 .1-2.6 0 1 0-2.3 0 .5 0-1.7 0 .6 0-4.8 0 3.7 .1-3.2 0 1.9 0-1.6 0 .8 0-2.5 0 1.1 0-3.8 0 3.4 .1-3 0 1.1 0-2.1 0 .6 0-1.5 0 .1 0-2.8 0 1.9 .1-2.4 0 .8 0-1.6 0 .7 0-2.2 0 .5 0-1.8 .1 1.3 0-2.9 0 2.2 0-3.1 .1 2 0-3 0 1.7 .1-3.6 0 3 .1-2.9 0 .6 0-1.9 0 .1 .1-1.9 0 1 .1-1.5 0 .8 0-2.1 .1 .3 0-.4 .1 1.9 0-2.2 0 3.1 .1-.1 0 1.7 .1-.3 0 2 .1-1 0 1.8 .1-1.2 0 2.5 .1-1.1 0 2.2 0-1 0 1.7 0-.3 0 2.4 0-1.1 0 1.9 0-.5 0 2.4 0-2.1 0 4.3 0-3.9 .1 3.8 0-1.2 0 2.4 0-2 0 2.7 0-1.3 0 2.4 0-.4 0 1.3 0-.4 0 3.8 0-2.8 0 1.8 0-.5 0 2.7 .1-1.2 0 1.9 0-1.2 0 3.7 0-2.3 0 3 0-1.3 0 1.9 0-1.5 0 2.6 0-1.9 0 4 0-2.5 .1 2.7 0-1.4 0 4.4 0-3.1 0 2.1 0-.2 0 2.4 0-1.1 0 2.4 0-1.3 0 2.2 0-1.4 .1 2.5 0-.9 0 2.2 0-.9 0 1.8 0-2.3 0 1 0-2.8 0 2.1 0-2.1 0 1.2 .1-2.7 0 1.3 0-2.9 0 .6 0-1.4 0 1.2 0-2 0 .9 0-2 0 2.5 0-4.2 .1 2.5 0-3.1 0 1 0-2.5 0 .9 0-3.1 0 1.3 0-2.1 0 1 0-2.8 .1 1.3 0-1.6 0 1.9 0-3.2 0 1 0-1.7 0 .9 0-2.2 0 .6 0-2 .1 1.9 0-3.3 0 .8 0-1.7 0 1.6 0-3.4 0 2.6 0-2.8 0 2.9 0-.5 .1 2.2 0-1.2 0 1.4 0-.5 0 2.1 0-1.1 0 3.4 0-2.1 0 2.5 0-1.2 0 2.1 0-1 .1 2.2 0-1 0 2.8 0-1.4 0 2.4 0-.9 0 1.3 0 1.1 0 1.9 0-1.1 .1 2.5 0-1.6 0 2.3 0-1.5 0 1.9 0-.1 0 2.3 0-.8 0 1.9 0-1.1 0 2.3 0-1.7 0 3.7 0-3.3 .1 4.6 0-1.5 0 1.2 0-2 0 3.7 0-.7 0 1.6 0-.7 0 2.9 0-1.4 0 2.7 0-1.6 .1 2.9 0-3.2 0 2.1 0-3.3 0 1.4 0-3.3 0 1.3 0-1.7 .1 1.1 0-2 0 1.1 0-4 0 2.3 0-2.6 0 1.3 0-2 0 .5 .1-2.5 0 1.8 0-2.3 0 .6 0-2.2 0 .8 0-2.2 0 1.4 0-2.9 0 2.5 .1-3.3 0 3.3 0-4.8 0 1.8 0-3 0 1.5 0-2.4 0 2.3 0-4.2 .1 2.3 0-1.8 0 .3 0-2.3 0 3 0-1.1 0 2.6 0-1.4 0 1.1 0-.9 .1 2.2 0-.7 0 2.3 0-1.2 0 3.8 0-1.9 0 2.4 0-.8 0 1.6 0-1.1 .1 1.8 0-.5 0 2.1 0-2.6 0 3.9 0-1 0 2.5 0-.8 0 1.7 0-.7 .1 2.2 0-1.6 0 3.2 0-2 0 2 0 2 0-1.5 0 2.4 0-.7 0 2.4 .1-1.7 0 2.9 0-2.3 0 2.6 0 .1 0 1 0 1.8 0-.6 0 .8 .1-2.3 0 .1 0-1.2 0 .4 0-1.1 .1-1.5 0 .5 0-2.3 0 1.3 0-2 0 .8 .1-2.2 0 .2 0-2.4 0 1.3 0-1.5 0 .5 .1-1.2 0 .4 0-1.9 0 .7 0-1.4 0 1.4 0-2.7 .1 1.1 0-1.5 .1 1.7 0-1.1 0 2.2 .1-.4 0 2.2 .1-2 0 3.7 .1-2.7 0 3.3 .1-1.9 0 3.7 0-1.8 .1 2 0-2.3 .1 3.3 0-.7 .1 1.7 .1 1.8 .1-1.6 .2 2 .2-.9 .1 2.6 .2-1.3 .2 2.3 .2-1.5 .2 2.9 .1-.6 .2 1.4 .3-1.3 .3 2.1 .3-2.4 0 2.3 0-1.7 0 1.1 0-2 .1 .5 0-1.6 0 .4 0-2.5 0 1.9 0-2.7 0 1.9 .1-2.4 0 .3 0-2.3 0 .9 0-2 .1 .9 0-3.8 0 3 0-1.9 0 .8 0-1.8 0 .6 .1-2.8 0 1.2 0-2 0 .8 0-2.5 0 1.4 .1-1.9 0 .5 0-1.6 0 1.8 0-3.4 .1 1.6 0-3.9 0 3.8 0-4.7 0 2.5 0-2.7 .1 1.5 0-2.4 0 .9 0-2.4 0 1.7 .1-2.6 0 .9 0-2.4 0 .8 0-2.4 0 1.7 .1-2.1 0 4.7 0-3.2 0 1.7 0 .1 0 2.4 0-2 0 3.3 .1-1.8 0 2.7 0-3.1 0 3.4 0 1 0-.3 0 2 0-.9 .1 3.1 0-3.4 0 4 0-1.2 0 1.6 0 .1 0 1.9 0-.6 0 1.8 0-1.4 .1 2.4 0-1.1 0 1.9 0-.6 0 1.6 0 .1 0 1.7 0-2.5 .1 3.6 0-1.1 0 2.5 0-1.9 0 2.3 0-2.2 0 1.2 0-2.7 0 .6 0-2.3 0 1 0-2.1 0 .8 .1-2.2 0 3.1 0-4.7 0 2.1 0-2.2 0 1.9 0-3.2 0 1.4 0-3.3 0 1.2 0-2.3 0 2.5 0-3.7 0 3.3 .1-4.2 0 1.4 0-2.1 0 .8 0-2.3 0 2.5 0-3.6 0 .3 0-2.5 0 1.1 0-1.5 0 .9 0-3 .1 1.6 0-1.7 0 .8 0-2 0 .6 0-3 0 1.7 0-2.4 0 1.8 0-2.9 0 2.2 0-3.6 0 1.6 0-2.1 0 1.8 0-3.4 .1 .5 0-1.3 0 .1 0-2.2 0 1.5 0-2.1 0 2 0-2.8 0 1.3 0-4 0 2 0-.6 0 1.5 .1-1.3 0 3.5 0-3.1 0 4.7 0-1.6 0 2 0-.6 0 1 0-.5 0 3 0-1.5 0 1.4 0-.4 0 2.4 .1-.6 0 1.7 0-1.1 0 2.3 0-1.9 0 2.9 0-1.1 0 2.2 0-1.1 0 3.2 0-1.4 0 1.9 .1-.4 0 2.7 0-1.6 0 2.3 0-1 0 3.1 0-2.8 0 2 0-.1 0 1.4 0-.2 0 1.5 0-.7 0 2.4 .1-2.2 0 3.3 0-2.3 0 3.8 0-1 0 1.9 0-1.5 0 2.7 0-2.2 0 3.1 0 3.2 0-2.3 0 1.3 0-.5 .1 2 0-1.5 0 .8 0-2 0 .3 0-3.5 0 2.3 0-2.3 0 1 0-2.9 0 2.3 0-2.3 0 2.1 0-3 0 .8 0-2.9 0 1.8 .1-3.8 0 3.4 0-3.8 0 2.2 0-3.2 0 2.8 0-3.2 0-.2 0-1 0-3.1 0 2.3 0-3.4 0 2.7 0-2 0 .4 0-1.8 0 .3 0-1.7 0 1.7 0-2.8 .1 .3 0-2.4 0 1.8 0-3.6 0 1.5 0-2.1 0 1 0-1.8 0 1.5 0-2.9 0 2.5 0-3.8 0 1.7 0-2.5 0 1.1 0-1.7 0 .8 0-2.8 0 2.3 .1-4.2 0 2.3 0-3.3 0 1.2 0-2 0 1.4 0-2.4 0 2.2 0-2.9 0 1.2 0-3 0 1.6 0-3.2 0 3 0-2.9 0 1.1 0-2.3 .1 1.2 0-3.9 0 2.6 0-2.7 0 .6 0-1.3 0 1.2 0-2.5 0 .7 0-2 0 1.9 0-2.1 .1 2.6 0-1.2 .1 1.2 0-.7 0 2.8 .1-2.1 0 3.7 0-1.9 .1 2.1 0-.2 0 1.6 .1-.5 0 2 0-2.2 .1 3.3 0-1.2 0 2.4 0-1.8 0 2.9 0-1.8 0 2.3 0-.2 .1 2.6 0-1.4 0 2.5 0-1.2 0 2 0-.5 0 1.9 0-2.2 0 3.1 0-.9 0 2.6 0-1.7 0 2.7 0-.9 0 1.7 .1-.6 0 1.9 0-.8 0 1.5 0-2.1 0 4 0-2.1 0 3.2 0-.5 0 1.6 0-.6 0 1.5 0-1.4 .1 2.7 0-1.6 0 3.1 0-1.8 0 2.6 0-.1 0 1.7 0-.4 0 1.6 0-.4 0 1.7 0-.8 .1 3.1 0-2 0 2.6 0-1.7 0 4.2 0-2.9 0 1.5 0-2 0 4.1 0-1 0 3.3 0-2.6 0 1 0-3.6 0 2.3 0-3.5 0 3.5 0-3.6 0 1.5 0-2.6 .1 1.4 0-2.9 0 .4 0-1.7 0 .9 0-2 0-1.5 0 1.2 0-2 0 .7 0-2.1 0 1.8 0-3.2 0 1.2 0-2.9 0 .9 0-1.7 0 .5 0-1.4 0 .1 0-1.9 0 1.9 .1-2.2 0 .9 0-2 0-.2 0-.9 0 1.1 0-2.8 0 2.4 0-1.1 0 1.4 .1 0 0 1.5 0-.2 0 1.6 .1-1.9 0 3.9 0-1.4 0 2.9 .1-1.8 0 2.1 0-.5 0 1.8 .1-.9 0 3.3 0-2.2 0 1.7 .1-.9 0 2.7 0-1.8 0 4.6 0-4.3 .1 4 .1-2.1 .1 2.5 .1-.9 .1 2.6 .1-1 .1 1.8 .1-.9 0 2 .1-.5 .1 1.5 .1-1.2 .1 2.4 .1-.3 .1 1.6 .1-.8 0 3.2 .1-2.3 .1 3.7 .1-2.1 .1 1.8 0-.4 .1 2 0-1.4 .1 2.1 .1-1.3 0 2.8 .1-.2 0 1.5 .1-2 .1 2.9 0-.8 .1 1.6 0-.9 .1 2.7 0-1.4 .1 2.7 0-1.1 .1 1.5 0 .1 0 1.7 .1-1.3 0 3.3 .1-1.8 0 2.5 .1-1.5 0 2.2 .1-.3 0 2 0-.9 .1 1.8 0-.6 .1 1.4 0-.8 .1 1.7 .1-2.9 .2 4 .2-3.9 .2 1.5 .1-3 .1 2.6 .1-.8 .1 1.5 .1-.5 .1 1.3 .1-.2 0 2.5 .1-2.5 .1 3.9 .1-2.4 .1 3.6 0-1.9 .1 3.4 0-1.8 .1 1.4 .1-.3 0 2.2 .1-1 0 2.5 .1-1.6 .1 2 0-1.1 .1 2 0-.4 .1 1.6 0-1 .1 2.3 .1-1.8 0 2.6 .1-.1 0 1.5 .1-.8 .1 2.5 0-.6 .1 1.8 0-1.1 .1 2.2 0-2 .1 3.2 .1-1 0 2 .1-.5 .1 1.4 .1-.9 .1 3.9 .1-2.9 .1 2.5 .1-1.4 0 2.1 .1-1.8 .1 2.3 0-2.2 0 .9 0-2.2 0 1.4 0-2.6 0 1.2 .1-1.9 0 .1 0-2.3 0 2 0-2.3 0 1 0-2.2 .1 .4 0-1.9 0 .7 0-2 0 2.8 0-4 .1 .4 0-2.4 0 1.7 0-2.2 0 1.4 0-2.4 0 1 .1-2.6 0 2.1 0-2.5 0 1 0-3.4 0 2.4 .1-2.7 0 .7 0-2.4 0 1.2 0-1.7 0-1.5 .1 1.7 0-2.5 0 .2 0-2 0 .7 0-2.7 .1 2.4 0-2.2 0 .4 0-2.7 0 2.4 0-2.4 0 .8 .1-2.4 0 1.9 0-4.5 0 2.9 0-2.3 0 .6 0-3 .1 1 0-2.3 0 1.3 0-1.9 0 .4 0-2.1 .1 1.7 0-1.9 0 .6 0-1.6 0 .3 0-1.9 0 .7 .1-2.6 0 2.2 0-2.3 0 1.6 0-3.2 0 .6 0-1.7 .1 1.2 0-3.1 0 1.4 0-2.8 0 3.1 0-3.3 .1 2.2 0-3.3 0 .6 0-3.1 0 2.1 0-3.4 0 3 .1-2.7 0 1.7 0-3.4 0 3 0-2.1 .1 2.8 0-.6 0 2 0-1.1 0 1.8 0-.9 0 2.7 0-2.3 .1 3 0-1.8 0 3.6 0-1.8 0 2.7 0-2.4 .1 4 0-2.2 0 2.6 0-1.3 0 2.1 .1 1.9 0-1 0 2.6 0-1.2 0 1.1 0-.8 0 2.4 .1-2 0 3.6 0-1.7 0 2.6 0-.9 0 2.4 .1-2.8 0 3.7 0-1.9 0 3.6 0-1.6 0 2.5 0-1.3 .1 2.6 0-1 0 1.6 0-1.2 0 2.1 0-.4 0 2.3 .1-1.2 0 3.4 0-1.9 0 3.4 0-2.5 0 2.7 .1-3.7 0 5 0-1.9 0 2.8 0-.8 0 1.4 0-.8 .1 2.1 0-.4 0 1.5 0-.1 0 1.2 0-.6 .1 2.7 0-1 0 1.8 0-1.7 0 2.4 0-2.1 0 5.4 .1-3.8 0 3 0-1.5 0 4.3 0-2.1 0 2 .1-.2 0 1.7 0-1.2 0 2.4 0-2.5 0 4.1 0-.9 .1 1.4 0-.8 0 2.5 0-1.2 0 2.5 0-1.6 0 2.2 .1-1.3 0 1.9 .1-3 0 2.3 .1-3.6 0 2.1 .1-2.5 .1 1.3 0-2.7 .1 2.2 0-4.1 .1 2.2 .1-2.6 0 .7 .1-2.2 0 1.6 .1-3.4 0 3.2 .1-4.6 .1 2.5 0-3.3 .1 2.6 0-3.5 .1 1.4 .1-2.2 0 2.6 .1-4.2 0 2 .1-3.2 0 1.7 .1-4 .1 3.8 .1-3.4 .1 1.8 .1-2.3 0 .1 .1-1.1 .1 0 .1-1.4 .1 .2 .1-1.7 .1 1 .1-1.6 0 .6 .1-2.1 .1 .7 .1-1.8 .1 .5 .1-3 .1 3.4 .1-4.6 0 1.9 0-2.1 0 1.2 .1-1.7 0 .5 0-1.7 0 .8 .1-2 0 .6 0-1.8 0 1.4 .1-2.6 0 1 0-2.2 .1-.3 0-1.9 0 1 0-3.5 0 4.2 .1-3.9 0 1.3 0-3.6 .1 1.7 0-3.1 0 2.1 0-3 .1 1.8 0-3.9 0 3 0-1.6 .1 .2 0-2.2 0 1.6 0-2.6 .1 .7 0-1.7 0 1.1 .1-2 0 .3 .1-1.8 0 1.4 0-3.6 .1 1.5 0-2 0 2.3 .1-2.8 .1-1.8 0 1.7 0-2.4 .1 1.5 0-3.6 0 1.1 .1-1.6 0-.1 0-1.6 .1 .8 0-2.1 .1 1.6 0-2.4 .1 1 0-2.4 .1 .4 .1-1.5 0 .8 .1-1.5 0 .8 .1-2.2 .1 .4 0-1.3 .1 0 0-1.1 .1 .5 .3-3.5 .3 3.1 0-1.4 0 2.7 .1-1.4 0 2.4 .1-1.1 0 2.4 0-1.3 .1 1.8 0-.5 0 2.5 .1-.9 0 .8 0-1.2 .1 2.4 0-.7 .1 1.7 0-.9 0 2.6 0-.2 .1 1.9 0-2.3 0 3.4 0-1.1 0 2.2 .1-2.5 0 3.5 0-1.5 0 2.2 .1-.1 0 1.8 0-.1 0 .7 0 .4 .1 1.4 0-.7 0 1.9 0-.9 .1 1.5 0-1.2 0 2.7 0-.6 0 2.5 .1-1.2 0 2.1 0-1.1 0 2 0-.5 .1 2.3 0-1.8 0 3 0-1 .1 1.4 0-.1 0 1.8 0-.7 0 2 0-1.4 .1 2.1 0 2.1 0-1 0 2.4 0-1.5 0 1.7 0-.4 0 1.6 0-.3 0 2.2 .1-.8 0 2.2 0-1.4 0 1.6 0-1.4 0 2.7 0-2 0 5.4 0-2.5 .1 1.7 0-1.6 0 3.5 0-1.8 0 3.3 0-1.6 0 3 0-1.6 0 2.5 0-2.6 0 3.5 0-1.6 .1 3.3 0-1.1 0 3.5 0-2.3 0 1.6 0-1.3 0 1.7 0-.7 0 3.1 0-1.6 .1 3 0-2 0 3.7 0-2 0 1.7 0-.6 0 2.3 0-.9 0 2.1 0-1.3 0 2.8 0-2 .1 2.6 0-.5 0 1.7 0-1.2 0 3 0-1.7 0 2.2 .1-2.6 0 1.8 0-2.5 0 1.5 .1-2.5 0 .6 0-1.6 0 .8 0-2 .1 .4 0-2.3 0 1.4 .1-3.7 0 2.7 0-3.2 0 2.5 0-3 .1 .7 0-2.1 0 .8 .1-1.5 0 .7 0-2.5 0 1.7 .1-2.3 0 .1 0-1.4 0 .8 .1-2.4 0 1.3 0-2.7 0 .8 .1-1.2 0 .4 0-2.3 0 1.2 0-1.7 .1-1.3 0 1.4 0-3.6 0 2.1 0-3 0 3.1 .1-3.7 0 .6 0-2.1 0 1 0-2.6 0 2.4 .1-2.7 0 1.6 0-2.6 0 .1 0-1.4 0 .4 0-1.8 0 .6 .1-1.6 0 .6 0-2.2 0 1.7 0-3.1 .1 1 0-1.9 0-1.6 0 .8 0-2.3 0 1.3 0-3 .1 1.4 0-1.7 0 .4 0-1.3 0 .7 0-2.8 .1 2.1 0-1.9 0 .1 0-1.5 0-1.5 .1 1.1 0-3.4 0 2.2 0-3.3 0 1.2 0-1.7 0 .4 0-1.7 .1 1.8 0-2.8 0 1.9 .1-3.4 0 .7 0-1.2 0 .2 .1-1.4 0 1.1 0-2.5 .1 .4 0-2.2 0 .7 .1-1.7 0 1.9 0-2.9 .1 .4 0-1.9 0 .5 .1-1.3 0 1.8 .1-1.8 .1 4.1 .1-3 .1 2.5 .1-.3 .1 2.2 .1-1.7 0 2.3 .1-.4 .1 1.5 .1-2 .1 3.5 .1-2.7 .1 4.6 0-2 .1 2.1 .1-1.2 .1 2.1 .1-1.4 .1 1.2 0-1.8 .1 2.1 0-2.3 .1 .2 0-1.8 .1 .4 .1-2.1 0 .9 .1-2.5 0 1.4 .1-3.2 .1 2.9 0-3.1 .1 1.9 .3-3 .3 1.4 .3-1.9 0 .4 0-1.5 .1 .8 .1-2.9 0 3.4 .1-4.4 0 2.9 .1-3.2 0 .7 .1-2.9 0 2 .1-2.6 0 .9 .1-1.8 0 1 .1-3.7 0 1.9 .1-4.1 .1 2.7 0-1.5 .1 1.2 .1-2.8 .1 2.2 0-4.4 .1 2.9 .1-4.1 .1 2.5 0-2 .1 1 .2-2.3 .2 1.3 .2-2 0 1.3 .1 .1 0 1.2 .1-1.9 0 3.3 0-2.8 .1 4.2 0-2.1 0 3.2 .1-.7 0 1.8 .1-1.7 0 4 0-2.3 .1 4.5 0-3.1 .1 2.2 0-.6 0 2 .1-.6 0 2 .1-1.3 .1 1.4 .1-2.7 .1 .5 .2-2.5 .1 2.7 .1-3.2 .1 1.9 .1-2.8 .1 .4 .1-2.4 .1 1 .1-2.8 .1 2 .1-2.4 0 .9 .1-2 .1 .6 .1-1.8 .1 2.9 0-4.3 .1 2 .1-2.8 0 1.6 .1-2.4 .1 .1 .1-1.5 0 .5 .1-3.8 .1 2.7 .2-.5 .1 1.8 .2-.7 .2 2.5 .2-2.4 .1 3.5 .2-5.1 .1 3" clip-path="url(#ce)" stroke="#ffff00" stroke-width="2.5" fill="none" stroke-linejoin="miter" stroke-miterlimit="2" stroke-linecap="butt"/>
<path d="M15.8 847l.8 17.5 1.5 13.1 1.7 7.3 2.2 2.6 3.7 .9 2.9 1.3 5.8 .1 5.9-.3 5.8-.4 2.9-.6 3 .4 4.3-.3 3-1.1 1.4-.5 2.9-1 2.9-.7 3-.6 2.9 .3 2.9 .6 2.9 1.1 2.2-1.4 2.2-1.8 2.2-.9 2.2 .6 2.9 .9 2.9 .9 2.2-.9 2.9 .6 3.7 .3 2.3 0 3 1 2.9 1 3 .9 4.3 .3 4.4 .3 4.4 0 2.2-1 2.2 .4 2.9-.4 2.2-.8 1.4-1.4 1.5-1.5 2.2-1.2 2.2 0 2.2 1.2 2.2 1.2 2.2-1.2 2.1-1.2 2.2 0 2.2 1.2 2.9 .8 3.7 .7 4.4 .3 4.4 1.1 2.9 .8 2.9 .7 2.9 .7 2.9-1 3-.4 2.9-.5 2.9-.3 2.3-.7 2.3-2.2 2.2-1.4 2.2-.8 1.4 .5 2.2 2.5 2.2 1 2.2-.6 2.9-.4 2.9 .4 3 .3 2.9-.3 2.9-.3 2.2 .9 2.2 1.4 2.9 1.2 2.9 .3 2.9 0 3-.6 2.9-.4 2.9-.8 2.2-1.1 2.2-1.8 2.2-1.2 2.1 .5 2.2-.5 2.2-.5 2.2-.3 2.2 .8 2.2 .9 2.2 .6 2.2 .9 2.2-.4 2.2 .4 2.2-.4 2.1-1.1 2.2 .6 2.2-.3 2.2 0 2.9-.6 3-.3 3.3-.5" clip-path="url(#ce)" stroke="#ff0000" stroke-width="2.0" fill="none" stroke-linejoin="miter" stroke-miterlimit="2" stroke-linecap="butt"/>
<path d="M15.8 871.8l.8 8.7 1.5 5.6 1.7 2 3 .8 5.8 .4 5.8 .2 5.9-.3 5.8-.5 2.9-.6 3 .5 4.3-.3 3-1.2 1.4-.4 2.9-1 2.9-.8 3-.6 2.9 .3 2.9 .6 2.9 1.2 2.2-1.5 2.2-1.7 2.2-.9 2.2 .6 2.9 .9 2.9 .8 2.2-.8 2.9 .5 3.7 .3 2.3 0 3 1.1 2.9 1 3 .8 4.3 .4 4.4 .2 4.4 0 2.2-1 2.2 .4 2.9-.4 2.2-.7 1.4-1.5 1.5-1.4 2.2-1.2 2.2 0 2.2 1.2 2.2 1.1 2.2-1.1 2.1-1.2 2.2 0 2.2 1.2 2.9 .7 3.7 .7 4.4 .3 4.4 1.2 2.9 .7 2.9 .8 2.9 .7 2.9-1.1 3-.4 2.9-.4 2.9-.3 2.3-.7 2.3-2.2 2.2-1.5 2.2-.7 1.4 .4 2.2 2.5 2.2 1 2.2-.6 2.9-.4 2.9 .4 3 .3 2.9-.3 2.9-.3 2.2 .9 2.2 1.5 2.9 1.2 2.9 .2 2.9 0 3-.6 2.9-.4 2.9-.7 2.2-1.2 2.2-1.7 2.2-1.2 2.1 .4 2.2-.4 2.2-.6 2.2-.3 2.2 .9 2.2 .9 2.2 .6 2.2 .8 2.2-.4 2.2 .4 2.2-.4 2.1-1 2.2 .6 2.2-.3 2.2 0 2.9-.6 3-.3 3.3-.6" clip-path="url(#ce)" stroke="#0000ff" stroke-width="2.2" fill="none" stroke-linejoin="miter" stroke-miterlimit="2" stroke-linecap="butt"/>
<rect x="221.9" y="676" width="66.8" height="45.3" fill="#fff" stroke="#262626" stroke-width="0.7"/>
<path d="M224.7 683h19.0" stroke="#ff00ff" stroke-width="2.0"/>
<text x="245.8" y="685.8" font-size="7.7">Susceptible</text>
<path d="M224.7 693.63h19.0" stroke="#ffff00" stroke-width="2.0"/>
<text x="245.8" y="696.43" font-size="7.7">Infected</text>
<path d="M224.7 704.26h19.0" stroke="#ff0000" stroke-width="2.0"/>
<text x="245.8" y="707.06" font-size="7.7">Chronic</text>
<path d="M224.7 714.89h19.0" stroke="#0000ff" stroke-width="2.0"/>
<text x="245.8" y="717.69" font-size="7.7">AIDS</text>
<text class="cap" y="951" font-size="20.6"><tspan x="105.9" letter-spacing="0.9">(e)</tspan><tspan x="140.3" font-style="italic">β</tspan><tspan x="182.3" letter-spacing="0.2">1</tspan></text>
<path d="M159.5 941.7h14.9M159.5 947h14.9" stroke="#1a1a1a" stroke-width="0.9" fill="none"/>
</g>
<g id="pf">
<clipPath id="cf"><rect x="399.1" y="669.9" width="279.2" height="221.6"/></clipPath>
<rect x="399.7" y="669.9" width="278" height="220.4" fill="none" stroke="#262626" stroke-width="0.7"/>
<path d="M399.7 890.3v-2.8M399.7 669.9v2.8M427.5 890.3v-2.8M427.5 669.9v2.8M455.3 890.3v-2.8M455.3 669.9v2.8M483.1 890.3v-2.8M483.1 669.9v2.8M510.9 890.3v-2.8M510.9 669.9v2.8M538.7 890.3v-2.8M538.7 669.9v2.8M566.5 890.3v-2.8M566.5 669.9v2.8M594.3 890.3v-2.8M594.3 669.9v2.8M622.1 890.3v-2.8M622.1 669.9v2.8M649.9 890.3v-2.8M649.9 669.9v2.8M677.7 890.3v-2.8M677.7 669.9v2.8M399.7 890.3h2.8M677.7 890.3h-2.8M399.7 866.34h2.8M677.7 866.34h-2.8M399.7 842.39h2.8M677.7 842.39h-2.8M399.7 818.43h2.8M677.7 818.43h-2.8M399.7 794.47h2.8M677.7 794.47h-2.8M399.7 770.52h2.8M677.7 770.52h-2.8M399.7 746.56h2.8M677.7 746.56h-2.8M399.7 722.6h2.8M677.7 722.6h-2.8M399.7 698.65h2.8M677.7 698.65h-2.8M399.7 674.69h2.8M677.7 674.69h-2.8" stroke="#262626" stroke-width="0.7" fill="none"/>
<text x="399.7" y="902.4" font-size="8.6" text-anchor="middle">0</text>
<text x="427.5" y="902.4" font-size="8.6" text-anchor="middle">10</text>
<text x="455.3" y="902.4" font-size="8.6" text-anchor="middle">20</text>
<text x="483.1" y="902.4" font-size="8.6" text-anchor="middle">30</text>
<text x="510.9" y="902.4" font-size="8.6" text-anchor="middle">40</text>
<text x="538.7" y="902.4" font-size="8.6" text-anchor="middle">50</text>
<text x="566.5" y="902.4" font-size="8.6" text-anchor="middle">60</text>
<text x="594.3" y="902.4" font-size="8.6" text-anchor="middle">70</text>
<text x="622.1" y="902.4" font-size="8.6" text-anchor="middle">80</text>
<text x="649.9" y="902.4" font-size="8.6" text-anchor="middle">90</text>
<text x="677.7" y="902.4" font-size="8.6" text-anchor="middle">100</text>
<text x="396" y="893.9" font-size="8.6" text-anchor="end">0</text>
<text x="396" y="869.94" font-size="8.6" text-anchor="end">0.5</text>
<text x="396" y="845.99" font-size="8.6" text-anchor="end">1</text>
<text x="396" y="822.03" font-size="8.6" text-anchor="end">1.5</text>
<text x="396" y="798.07" font-size="8.6" text-anchor="end">2</text>
<text x="396" y="774.12" font-size="8.6" text-anchor="end">2.5</text>
<text x="396" y="750.16" font-size="8.6" text-anchor="end">3</text>
<text x="396" y="726.2" font-size="8.6" text-anchor="end">3.5</text>
<text x="396" y="702.25" font-size="8.6" text-anchor="end">4</text>
<text x="396" y="678.29" font-size="8.6" text-anchor="end">4.5</text>
<path d="M401 663.7l3.6 3.6m0 -3.6l-3.6 3.6" stroke="#262626" stroke-width="0.6" fill="none"/>
<text x="407.3" y="667.7" font-size="8.6">10<tspan dy="-3.8" dx="-0.7" font-size="6.9">4</tspan></text>
<text x="536.8" y="915.9" font-size="9.55" text-anchor="middle">Time(years)</text>
<path d="M399.8 842l0 .6 0-1.4 .1 .4 0-2.7 0 2.6 .1-3.3 0 1.1 .1-1.8 0 .1 0-1.2 .1 1.3 0-3.3 .1 1.3 0-2.7 0 1.3 .1-2.5 .1 1.7 0-2 .1 1.3 0-2.4 .1 .8 .1-2.7 0 1.1 .1-1.6 0 .2 .1-3.9 0 4.1 .1-3.7 0 1.7 .1-1.5 .1 2 0-3.6 .1 1.8 0-3.1 .1 2 .1-2.8 0 .6 .1-2.2 0 2.4 .1-4.5 .1 2 0-3.6 .1 2.5 0-1.7 .1-.3 .1-1.5 .1 1.6 .1-3.1 0 1.3 .1-2.5 .1 .8 .1-2.4 .1 3 .1-3.1 .1 .2 .2-.3 .4 2.4 .2-2.3 .1 1.7 .1-4.2 .1 2.3 0-2.9 .1 1.9 .1-1.5 .1 .4 0-2.3 .1 1.1 .1-2.3 0 1.7 .1-2.5 .1 1.7 .2-3.8 .1 2 .1-2 .1 .9 .2-2.5 .1 .2 .2-1.3 .1 2.2 .2-3.7 .2 .7 .2-1.4 .1 1.2 .1-2.6 .1 1.9 .2-3.6 .1 2.9 .1-4.5 .1 1.7 .2-3.5 .1 1.7 .1-3.8 .1 3 .2-2.6 .1 1 .1-2.5 .1 1.3 .2-1.3 .1 1.6 .1-3.2 .1 .3 .2-2 .1 .8 .1-2.2 .1 1.6 .2-2.2 .1 1.2 .1-2.5 .1 1.1 .2-2.8 .1 2.4 .1-5.2 .2 3.7 .1-3.9 .1 1.3 .1-2.2 .2 1.4 .1-2.5 .1 1.1 .1-2.5 .2 1 .1-2.4 .1 1.4 .1-2.3 .1 .6 0-1.2 0 1 .1-3.6 0 2.3 .1-2.5 0 .4 0-2.9 .1 2.4 0-2.3 .1 .9 0-1.9 0 .6 .1-2.2 0 .8 .1-3.6 0 2.5 0-2.5 .1 2.9 0-3.3 .1 0 0-1.5 0 .7 .1-2.5 0 1.6 .1-2.3 0 1.1 0-2.4 .1 1.2 0-3.4 .1 2.6 0-1.8 0 .7 .1-2.2 0 .7 0-2.7 .1 2 0-3.2 .1 1.5 0-2.3 .1 1.3 0-2 0 .8 .1-2.5 .2 1 .2-2.7 .2 3.5 .3-4.3 0 2.6 .1-3.1 0 4.3 .1-.3 0 .8 .1-.4 0 1.7 .1-.6 0 2.4 .1-2.8 0 3.9 0-.3 .1 1.3 0-.3 0 1 0-.1 .1 2.4 0-.9 0 1.5 0-.2 0 1.3 0-1.2 .1 2.4 0-1.5 0 2.7 0-1.3 .1 3.1 0-.9 0 2.3 0-.9 0 1.8 .1-.9 0 1.8 0-.6 0 1.7 0-.6 .1 2.2 0-1.1 0 3.5 0-2.2 0 2.4 .1-1.6 0 2.7 0-1.2 0 2.5 0-1.3 0 2.2 .1-2 0 3.8 0-1.2 0 1.7 0-1.6 0 2.5 .1-.2 0 2.2 0-1 0 3.1 0-2.2 0 1.6 .1-1.1 0 2.9 0-.8 0 1.6 0-1.9 0 2.8 .1-.5 0 1.9 0-1.1 0 2.3 0-.9 .1 2.9 0-2.4 0 3.7 0-1.5 0 2.4 .1-1.1 0 3.1 0-1.8 .1 2.6 0-1.3 0 2.4 .1-1.4 0 3.1 0-1.7 0 1.9 .1-1.1 0 2.4 0-.4 .1 2 0-2.3 0 4 .1-1.1 0 1.3 0-2 0 2.9 0-.9 0 2.7 .1-.6 0 2.5 0-1.5 0 2.8 0-1.5 0 2.2 0-1.8 0 3.1 .1-1.7 0 2.4 0-.9 0 1.9 0-.3 0 1.3 0-.5 0 1.7 0 .2 .1 1.7 0-1 0 3.2 0-2.3 0 3.7 0-2.9 0 2.7 .1-1.4 0 3.4 0-2 0 2.6 0-.8 0 1.5 0-.5 .1 2.6 0-1.6 0 2.6 0-2.8 0 3.7 0-.4 0 2.2 .1-.9 0 2 0-1.4 0 2.6 0-1.8 0 2.2 .1-.2 0 3.5 0-2.6 0 2.7 0-1.5 0 2.4 0-.5 .1 2.8 0-2.6 0 2.7 0-1.9 0 2.5 0-.9 .1 2.3 0-2.5 0 5 0-2.5 0 3.6 .1-1.8 0 2.4 .1-.9 0 2.7 0-2.3 0 2.3 .1-1.7 0 3.1 0-1.4 .1 2.4 0-.5 0 2 .1-1.1 0 3.1 0-2 0 2.7 .1-1 .1 2.9 .1-2.2 .1 2.8 .1-3.4 .1 4.1 .1-.9 .1 3.1 0-2 .1 2.7 .1-3 0 1 0-1.8 .1 1.3 0-2.8 .1 2.3 0-3.7 .1 1.8 0-2.6 .1 2.1 0-2.8 .1 2.4 0-4.7 0 1.6 .1-2.4 0 1.1 .1-1.2 0 .4 .1-3.4 0 3.2 0-4.8 .1 2.6 0-2.1 .1 .2 0-1.2 .1 1 0-3.1 0 1.5 .1-2.2 0 .7 .1-1.4 0 .4 .1-1.5 0 1.3 .1-5.5 0 3.5 0-1.7 .1 .9 0-1.7 .1 .2 .1-1.5 0 .1 .1-1.2 .1-.1 .1-1.6 .1 1.8 .1-3.5 0 2 .1-.5 0 2.7 .1-1.2 0 1.5 .1-1.3 0 2.3 .1-.5 0 1.5 .1-.5 0 2 .1-.3 0 1.9 .1-1.9 0 3.1 .1-.5 0 2.2 .1-2.4 0 3.6 .1-1.7 0 1.9 0-.2 .1 1.4 0-.5 .1 1.7 0-.2 .1 2.2 0-.9 .1 2.2 0-1.1 .1 1.5 0-2 0 3.1 .1-1.1 0 2.4 .1-.6 0 1.7 .1-1.1 .1 2.5 0-2.4 .1 3.2 .1-1 .1 2.6 0-1.4 .1 3.4 .1-2.9 0 3.4 .1-1.3 .1 4.6 0-4.4 0 .6 .1-1.4 0 1 0-2.4 0 1.1 .1-3.2 0 2.2 0-3.4 0 1.9 .1-2.5 0 1.6 0-2.7 .1 1.1 0-2.3 0 .8 0-2.5 .1 2.7 0-3.1 0 1.8 0-2.7 .1 .4 0-2.6 0 1.5 .1-2.8 0 2.5 0-2.8 .1 1.6 0-2.7 0 .8 0-2.3 .1 .8 0-2 0 1.3 .1-3.7 0 1.8 0-3.3 .1 1.6 0-1.5 0 .6 0-1.4 .1 2.1 0-1.4 .1 3 0-1.8 .1 1.8 0-.7 .1 2.8 0-1.3 .1 3 0-2.1 0 2.5 .1-.7 0 2 .1-3.1 0 3.6 .1-1.1 0 2.3 0-1.8 .1 2.5 0-1.1 .1 1.3 0-1.8 .1 2.4 .1-4 0 2 .1-2.9 0 1.7 .1-2.1 .1 1.1 0-3.5 .1 1.2 0-2.2 .1 .8 .1-2 0 .9 .1-1.2 .1 .8 .1-2.8 0 1.8 .1-3.1 .1 1.8 .1-2.1 0 3.2 .1-2.2 0 2 0-1.1 .1 1.8 0-.6 .1 2.5 0-1.7 .1 2.1 0-.1 0 1.8 .1-.8 0 3.1 0-1.8 .1 2.7 0-2.6 .1 3.5 0-2.3 0 2.8 .1-2 0 2.7 .1-.7 0 1.9 0 .1 .1 1.6 0-.6 0 1.2 .1-1.1 0 2.5 0-.6 .1 2.6 0-1.5 .1 3.2 0-1.8 0 2.7 .1-2.6 0 4.1 0-3.2 .1 4.3 0-.9 .1 3 0-2.1 0 2.1 .1-.9 0 4.1 0-3.2 .1 1.1 .1-2.2 0 .2 .1-2.1 0 1.3 .1-1.9 0 1.3 .1-2 .1 0 0-1.2 .1 0 0-1.4 .1 1 .1-1.7 0 .5 .1-.8 0 1.4 .1 0 .1 1.4 0-.7 .1 2.5 0-1.9 .1 2.4 0-1.7 .1 3 .1-.9 0 1.7 .1-.5 0 2 .1-1.6 .2 1.5 .1-1.2 .2 .2 .2-1.5 .2 .7 0-2.2 0 .7 0-1.8 0 .1 .1-1.4 0 .4 0-2.1 0 1.2 .1-2.8 0 2.3 0-2.8 0 .2 0-1.7 0 1 .1-2.7 0 1.8 0-3.6 0 2.2 0-2.5 .1 1.6 0-2.2 0 .7 0-2 .1 .6 0-1.4 0-1.5 0 1.8 0-3.8 .1 4.9 0-6.1 0 1.3 0-1.7 0 .2 0-1.8 .1 .7 0-1.6 0 .5 0-1.2 0-.2 0-1.2 0 .3 .1-1.8 0 .5 0-3 0 2.3 0-2.5 0 1.4 .1-2.2 0 1 0-2.1 0 1.7 0-2.7 0 .4 0-1.6 .1 2.5 0-4.7 0 1.8 0-4.1 0 2.4 0-2.6 0 1.4 .1-2.6 0 1.4 0-2 0 1.8 0-2.8 0 1.1 .1-2.2 0 .5 0-3.5 0 2.6 0-3.5 0 2.8 0-3.3 .1 1.4 0-2.2 0 .3 0-1.4 0 1.4 0-3.8 .1 3.1 0-3.2 0 .9 0-2.1 0 .7 .1-2.7 0 1.8 0-1.7 0 .3 0-2.5 0 1.4 0-2.2 .1 .5 0-2.1 0 1.5 0-2.5 0 .7 0-1.4 .1 .4 0-2.3 0 2.2 0-3.3 0 2 0-3.2 .1 2 0-2.4 0 .5 0-2.2 .1 1.2 0-2.8 0 1.3 0-2.1 .1 .3 0-1.6 0 1 0-2.7 .1 2.2 0-4.3 0 1.6 0-2.6 .1 2.3 0-3.1 0 1.7 0-2.3 0 1.4 .1-2.6 0 1.7 .1-3 .1 .8 .2-4.1 .1 2.7 .1-2.2 0 2.5 .1-1 0 2 0-.3 .1 1.5 0-1.1 0 2.4 .1-1.4 0 2.6 0-.6 .1 1.7 0-.7 0 2.9 .1-1.6 0 2.5 0-1.8 .1 3.3 0-1.7 0 2.3 0-.3 0 1.6 0-1.6 0 2.4 0-1.5 .1 4.7 0-2.5 0 2.1 0-.9 0 1.4 0-.2 0 3 .1-3.4 0 4.7 0-2.9 0 2.6 0-.3 0 2.2 0-1.3 0 1.8 .1 2.3 0-1.6 0 2.4 0-.8 0 1.9 0-1.3 0 2.8 0-1.6 .1 2.4 0-2.1 0 3.7 0-2.8 0 4 0-2 0 2.4 0-.9 .1 2.9 0-1.4 0 2.7 0-3.2 0 3.8 0-1.1 0 2.5 0-1.1 0 2.6 .1-2.4 0 2.9 0-2 0 3.3 0-1.6 0 3.1 .1-1.5 0 1.7 0-.5 0 1.7 0-.3 0 2.3 0-1.3 0 2.3 .1-.7 0 2.4 0-1.4 0 2.9 0-2.7 0 4.4 .1-2.1 0 2 0-.5 0 1.4 0-1.5 0 2.6 .1-1.7 0 3.2 0-.9 0 1.7 0-.2 0 2.4 0-1.1 0 2.1 .1-.6 0 1.4 0-.4 0 2 0-1.1 0 2.6 .1-1.9 0 2.5 0-.6 0 1.8 0-1.2 0 2.5 .1-.6 0 2.2 0-2 0 2.6 0-.5 0 1.6 .1-.7 0 2.6 0-.9 0 2.6 0-1.6 .1 1.3 0 1.2 0-.6 0 2.3 0-1.1 0 2.5 .1-.7 0 1.4 0-.1 0 2.1 0-1.4 .1 1.8 0-.6 0 1.4 0 3 .1-3.5 0 1 .1-2.5 .1 2.5 0-3.8 .1 1.4 0-4.1 .1 3.1 0-2.4 .1 1.3 .1-1.5 0 .2 .1-4.4 0 3.1 .1-2.5 0 2.3 .1-1.7 0 4.6 .1-1.8 0 3.3 .1-2.3 0 2.1 .1-1.2 0 2.4 0-.9 .1 2.3 0-2.2 .1 2.8 0-.8 .1 1.9 0-.6 .1 2.6 0-2.3 0 3.2 .1-2.4 0 1.7 0-4.2 .1 3.4 0-2.1 .1 .9 0-1.9 .1-1 0 .6 0-2.4 .1 .6 0-2 .1 1 0-2.7 0 2.3 .1-3.6 0 1.6 0-1.9 .1 1.3 0-2.9 0 1.1 .1-1.7 0 .4 .1-1.4 0 2.7 0-1.5 0 2.3 .1-1.8 0 2.1 0-.9 .1 2.5 0-1.7 0 3.2 .1-1.5 0 2.7 0-1.3 0 2.2 .1-1.2 0 2.1 0-1.1 .1 2.8 0-.9 0 2 .1-2.2 0 3.1 0-1.2 0 3.2 .1-1.1 0 2 0-1.6 .1 2.2 0-.3 0 1.7 .5-1.3 .4 3.3 .1-3.8 0 1.1 .1-2.2 0 1.3 .1-3.4 0 2.4 .1-4 0 2.6 .1-1.9 .1 1 0-2.2 .1 1 0-2.7 .1 .8 0-1.8 .1 2 0-4 .1 2.9 .1-2.8 0 1.3 .1-2.6 0 1.8 .1-2.8 .1 .8 0-2.3 .1 .7 0-2 .1 1.5 0-2.6 .1 .8 .1-2.8 0 1.5 .1-1.1 0 .3 .1-2.1 .1 2.5 0-4 .1 1.4 0-3.4 .1 2 0-2.2 .1 .5 .1-1.8 0 .7 .1-2.3 0 2.8 .1-4 0 2.5 .1-2.6 0 .8 .1-2.6 0 1.8 0-3.4 .1 2.9 0-3.6 .1 2 0-3.7 .1 1.4 0-1.7 .1 1.2 0-4.2 0 2.5 .1-2.3 0 .7 .1-1.8 0 1 0-2.7 .1 1.4 0-2.1 0 1.3 .1-1.9 0-2 0 1.2 .1-1.9 0 .7 .1-3.3 0 1.7 0-1.9 0 1.3 .1-2.8 0 2.8 0-5.1 .1 4.1 0-5 .1 3.2 0-3.7 .1 1.7 .1-2.4 0 .4 .1-1.4 .1 .3 0-1.1 .1 .1 .1-2.4 0 2.1 .1-3.1 .1 1.2 0-.8 .1 2.1 0-1.5 .1 2.1 0-.3 .1 1.6 0-1.2 .1 2 0-.9 0 2.3 .1-.5 .1 2 0-.3 0 1.5 .1-.7 0 2.3 .1-1.8 0 2.6 .1-.3 0 1.3 0-.1 .1 1.5 0-.1 0 1.4 .1-.7 0 3 0-4.2 0 4.8 .1-1.9 0 2.9 0-.9 .1 4.3 0-3.2 0 2.6 .1-2.8 0 2.9 0-1.1 0 3 .1-.6 0 1.4 0-.7 .1 2.1 0-.7 0 2.1 .1-1.6 0 2.7 0-.2 .2 1.2 .2-.1 .1 1.4 .2-1.2 .2 2.9 0-2 .1 2.4 0-.3 .1 2.7 0-2.3 .1 2.2 0-.8 0 2.6 .1-1.3 0 1.9 .1-1.5 0 2.9 .1-.3 0 2.6 .1-1.9 0 2.5 0-1.4 .1 1.6 0-.1 .1 1.5 0-1 .1 2.2 0-1.1 .1 2.5 .1-.9 0 2.4 .1-1.9 0 2.4 .1-1.5 .1 3.1 0-1.2 .1 1.8 0-1.6 .1 3.4 .1-1.3 0 1.1 .1-3 .1 2.5 .1-2.5 .1 1.2 .1-2.4 .1 1.7 .1-3.2 0 3 .1-4.9 .1 3.8 0-1.7 0 1.6 .1-.6 0 3.5 .1-2.3 0 2.2 0-.5 .1 2.2 0-.8 .1 1.9 0-1.8 0 3 .1-1 0 2.6 .1-1.3 0 2.5 0-1.5 .1 2.1 0-.5 .1 1.2 0-.4 .1 .9 .1-2.8 0 1.4 .1-2.2 .1 1.4 0-3.2 .1 3.1 .1-3.7 0 1.3 .1-2.1 .1 1.1 .1-3.1 0 1.4 .1-1.9 0 .8 .1-2 .1 2 0-2.8 .1 .4 0-2.3 .1 .6 .1-2.7 0 1.9 .1-1.5 0 2.3 .1-4.2 .1 1.1 0-1.6 .1 2.6 0-2.1 .1 3.3 0-.7 .1 2 .1-2.7 0 4.4 .1-1.7 0 2.7 .1-1.3 .1 2.5 0-1.5 .1 2.7 0-2.4 .1 1.9 0-3.7 .1 3.5 0-2.2 0 .1 .1-2.3 0 1.4 .1-2.2 0 1 .1-2.6 0 .6 .1-1.4 0 .5 0-3.2 .1 2.7 0-1.6 .1 .2 0-3.5 .1 2.1 0-2.2 .1 2.7 .1-1.3 .1 1.9 0-.5 .1 1.7 .1-.4 .1 3.4 .1-2.2 .1 1.3 .1-.4 0 2.2 .1-3.8 0 1.1 0-1.4 .1 .2 0-1.4 .1 .1 0-.9 .1 0 0-1.7 .1 .7 0-1.4 .1 0 0-1.7 0 .1 .1-2.5 0 2 .1-2.6 0 2.1 .1-2.3 .1-2.3 .1 1.6 .1-3.2 .1 2.2 .1-2.3 .1 2 .1-3.5 0 1.2 .1-1.3 .1 1.5 .1-1.3 0 2 .1-.4 0 2.4 .1-1.2 0 2.7 .1-3.1 .1 3.1 0-1.3 .1 2.2 0-.5 .1 2.2 .1-.9 0 1.8 .1-1.5 .1 1.1 .1-2.8 .1 1 .1-2.3 0 1.2 .1-4.3 .1 3.5 .1-1.8 .1 1 0-2.6 .1 1.2 0-2.7 0 .7 .1-2.8 0 4 0-4.9 .1 1 0-1.7 .1 1.5 0-3 0 1.4 .1-2 0 1.4 0-3.9 .1 1.4 0-2.4 0 1.3 .1-2.2 0 .9 0-2.5 .1 2.4 0-2.7 .1 1.8 .2-2.2 .3 0 .3-1.5 .1 3.4 0-3 .1 2.5 0-1.2 .1 2.6 0-1 .1 3.4 0-1.7 .1 2.6 .1-1.5 0 1.8 .1-1.6 0 3.1 0-.6 .1 1.7 .1-.5 0 3.1 0-2.8 .1 3.5 0-2.9 .1 3.9 0-2.7 .1 2.9 0-1.8 .1 2.6 0-.6 .1 2.5 0-1.1 0 3 .1-2.1 0 2.9 .1-1.2 0 1.4 .1-.5 0 3 0-2.4 .1 3.5 .1-2.6 0 .4 .1-3.2 0 2.3 .1-1.8 0 1.7 .1-2.7 0 .2 .1-1.9 .1 .5 0-1.9 .1 2.9 0-3.5 .1 .2 .1-2.5 0 1.2 .1-2.6 0 2.3 .1-3.3 0 2.7 .1-2.8 .1 .8 0-2 .1 .9 0-2.1 .1 2.9 .1-4.5 0 1.3 .1-2 0 .4 .1-1.9 .1 2.2 0-2.8 .1 .7 0-2.1 .1 1.4 0-3.2 .1 1.3 .1-2.5 0 1.8 .1-2.6 0 1.3 .1-2.6 .1 1.7 0-3.3 0 1.9 .1-4 0 2.7 .1-2.2 0 1.2 .1-4 0 2.1 0-3.5 .1 3 0-3.7 .1 1.5 0-2.1 0 .9 .1-1.7 0 .6 0-1.7 .1 .9 0-3.1 .1 2.3 0-3.6 0 2.4 .1-2.8 0 2.7 .1-.7 0 1.5 .1-.4 .1 1.8 0-.7 .1 3.4 0-2 0 1.4 .1-.9 .1 2 0-.4 .1 1.6 0-1.1 .1 3.2 0-1 .1 1.6 0-1.1 0 2.8 .1-1.9 0 3.6 .1-2.3 0 3.3 .1-2.8 0 3.3 .1-2.9 0 3.5 0-.5 .1 2.7 0-1.3 .1 3.1 0-2.3 .1 2 0-1.2 0 2.9 .1-1.6 0 3.2 .1-1.7 0 1.8 .1 0 0 1.6 .1-1.6 0 3.8 .1-2.7 0 3.9 0-1.8 .1 2.8 0-1.3 .1 3 0-2.2 .1 1.8 0-1.4 0 2.6 .1-1.3 0 2.3 .1-1.1 0 2.6 .1-1.3 0 3.1 .1-1.3 .1 1.7 0-.2 .1 .9 0-4.3 .1 6 0-1.6 .1 2.7 .1-.8 0 1.4 .1-.2 0 1.3 .1-.8 0 2 .1-3.9 0 3.2 0-3.4 0 .9 .1-2.1 0 1.8 0-5.2 .1 3.5 0-2.8 0 1.6 .1-3.1 0 1.7 0-4.5 0 3.2 .1-1.5 0 1.8 0-3.6 .1 1.6 0-3.3 0 2.1 .1-3.7 0 2.8 0-3.2 .1 .7 0-1.8 0 .5 0-1.4 .1 .1 0-1.6 .1 .8 0-2.3 .1 1.2 0-1.9 .1 2 0-2.7 .1 1.8 0-3 .1 1.3 0-3.4 .1 1 0-2.8 .1 1.3 0-3.4 .1 1.9 0-.9 .2 1.1 .1-.8 .1 3.2 .1-2.3 .2 4.2 .1-2.7 .1 4.2 .1-2 .1 2.6 .1-3.1 .1 4.1 .1-1.7 0 2.7 .1-1.1 .1 2.7 .1-1.6 .1 2.4 .1-1.9 0 2.5 .1-1.4 0 3.7 .1-2.3 .1 3.9 0-2 .1 1.7 0-.8 .1 1.8 0-1.2 .1 2.3 0-2.5 .1 4 .1-.8 .1 .1 .1-3.2 0 1.9 .1-2.7 .1 2.2 .1-2 .1 .8 .1-2 .1 1.4 0-2.6 .1 2.3 0-1 0 2 .1-1.2 0 1.9 0-.8 .1 2.4 0-.9 0 1.9 .1-.6 0 1.9 0-1.2 0 2.3 .1-1.3 0 3.2 0-1.1 .1 3.6 0-2.8 0 3.7 .1-2.1 0 2.5 0-2 0 2.9 .1-1 0 1.5 0-1.2 .1 2.9 0-1.5 0 3.7 .1-1.8 0 1.8 0-1.5 .1 2.5 0-1.2 .1 2.7 0-1.7 .1 2.6 0-.2 .1 1 0-1.4 0 3.1 .1-.6 0 1.6 .1-.2 0 1.7 .1-1 0 1.5 .1-.3 0 2.4 .1-.8 .2 3 .1-1.8 .2 1.9 .1-1 .2 2.3 0-3.6 .1 2.3 0-3.6 .1 2.7 0-3.3 .1 2.4 .1-4.2 0 2.6 .1-1.9 0 .6 .1-2.2 0 1.2 .1-2.4 0 .1 .1-1.5 .1 .8 .1-2.3 .1 1.2 .1-2.3 .1 .5 .2-2.6 .1 1.8 .1-2.3 .1 2.9 .1-1.6 .1 2.7 0-1 .1 1.7 .1-1 0 2.1 .1-1.5 .1 3.5 .1-2.7 0 3.9 .1-2 .1 1.9 0-2.4 .1 .1 0-1 .1 .2 .1-2.1 0 1.8 .1-2.3 0 .9 .1-4.2 0 3 .1-3.4 .1 1.6 0-1.5 .1 .8 0-.7 .1 2.7 .1-2.4 0 3.1 .1-1 0 1.1 .1-.4 .1 1.5 0-.7 .1 3.8 0-2.5 .1 2.5 0-1.2 .1 2.6 .1-.7 0 .5 .1-1.9 0 .7 0-3.4 .1 2.7 0-2.5 .1 1.5 0-2.2 0 .9 .1-2.7 0 .5 .1-1.8 0 .4 .1-1.3 0 1.5 .1-3.2 0 1.7 0-2.5 .1 2.6 0-4.6 .1 1.6 .1-2.1 .1 1 .1-2.4 .1 1.1 .1-1.8 .1 .7 0-1.6 .1 .1 .1-1.3 .2 1.1 .2-.1 .1 2.2 .2-1.1 .2 2.3 .1-2.9 .1 1.3 0-2.4 .1 1.1 .1-2.1 .1 1 .1-2.1 .1 1.5 .1-2.2 .1 .5 0-2.4 .1 1.8 0-3 0 1.7 .1-3.3 0 1.9 .1-2.1 0 1 .1-1.9 0 1.7 0-3.5 .1 1.5 0-2 .1 2 0-2.9 .1 .1 0-1.8 .1 1.3 0-3.5 0 2.5 .1-2.4 .1 3 .1-1.1 0 2.1 .1-1 .1 3 0-2.4 .1 4.2 0-1.9 .1 4 .1-3 0 2.5 .1-2.4 0 3.5 .1-2.8 0 3.8 .1-1.2 .1 1.6 0-.7 .1 1.9 0-.9 .1 2.9 0-2.2 .1 2.7 0-.2 0 1.3 .1-.2 0 1.3 .1-.5 0 2 .1-.5 0 1.5 0-.8 .1 2 0-1.4 .1 2.2 0-.7 .1 1.7 0-.6 .1 2.8 0-2.4 .1 4.4 0-2.7 .1 3.2 0-1.9 .1 3 .1-2.8 0 5.1 .1-3.2 0 3.2 .1-.7 0 1.7 .1-.7 .1 1.4 0-1.3 .1 3.4 .1-1.8 .1 2.6 0-1.6 .1 2.2 .1-1 .1 2.5 .1-1.2 0 3.4 .1-1.4 .1 2 0-2.2 .1 .1 0-1.7 0 .4 0-1 0-.1 .1-1.4 0 .2 0-1.5 .1 .4 0-2.2 0 1 0-1.9 .1 .4 0-1 0 2.2 0-3.5 0 1 .1-3 0 .8 0-2.5 .1 2.2 0-2.4 0 .3 0-1.6 0 .2 .1-2.4 0 1.7 0-2.2 0 .8 .1-2.4 0 2 0-2.7 .1 .9 0-2.8 0 1.9 0-3.9 0 2.7 0-2.4 .1 2.2 0-3.5 0 2.5 0-4.2 0 1.4 0-1.8 .1 1.2 0-2.5 0 .8 0-1.7 0 .4 0-2.4 0 1 .1-2.8 0 1.9 0-2.1 0 2 0-2.9 .1 3.8 0-5.6 0 1.6 0-4.1 0 2.4 0-2.4 0 3.2 .1-3.7 0 1 0-2.9 0 1.8 0-2 0 .9 .1-2.1 0 2.6 0-5.2 0 2.3 0-2.2 0 .7 .1-2 0 .5 0-1.9 0 .6 0-1.7 0 2.5 0-4.4 .1 2.3 0-2.9 0 2.4 0-3.8 0 1.1 0-1.6 .1 .4 0-.1 0 1.9 0-3.2 .1 4.2 0-.8 0 1.3 0-1.3 .1 2.9 0-.7 0 3.1 0-2 .1 2.7 0-1.7 0 1.8 0-1 .1 3.6 0-1.8 0 1.4 0 .2 .1 1.5 0-.3 0 1.8 0-.5 .1 1.6 0-.5 0 1.7 0-1.4 .1 2.8 0-1.4 0 2.9 0-1.6 .1 2.6 0-1.9 0 4.3 0-2.1 0 2.5 .1-1.8 0 2.2 0-.9 0 3.2 0-2.2 .1 2.4 0-2.5 0 4.4 0-1.9 .1 2.6 0-.6 0 2.2 0-.8 0 1.5 0-.6 .1 2 0-.7 0 1.6 0-1.1 .1 1.9 0-.6 0 2.1 0-1.2 0 2.6 0-1.7 .1 4.5 0-2.6 0 2.9 0-1.8 .1 3.9 0-2.5 0 2.3 0-.6 0 1.7 .1-1.1 0 2.3 0-.7 0 1.6 0-.9 0 3.3 .1-2.5 0 2.2 .1-1.3 0-.2 0-1.6 0 1.2 .1-2.7 0 1.4 0-2.6 0 1.4 .1-1.7 0 1.2 0-2.6 0 1.1 .1-2.9 0 1.3 0-2.1 0 .6 .1-1.3 0 .9 0-2.4 .1 .1 0-1.9 0 1.3 0-2.4 0 1.4 .1-2.1 0 1.6 0-3.3 .1 .4 0-1.7 0 .7 0-1.2 .1 .4 0-3.3 0 2.6 0-2.2 0 .9 .1-2 0 1.1 0-2.4 0 .3 0-1.8 .1 .5 0-2.5 0 1.1 0-1.5 0 .2 0-1.3 .1 .3 0-1.3 0 .9 0-3.6 0 3.1 .1-3.4 0 1.2 0-1.9 0 .7 .1-1.5 0 .6 0-2.3 0 1.6 0-2.8 0 .7 .1-2.4 0 2.4 0-3 0 2 0-3.6 .1 .6 0-2.1 0 1.6 0-2.7 0 .9 .1-1.4 0 .4 0-1.8 0 .5 0-1.5 .1 .6 0-.3 0 1.3 0-1.1 .1 1.9 0-1 0 3.3 0-2.9 .1 4.7 0-2.7 0 2.4 0-.1 .1 1.2 0-.7 0 3.1 0-1.8 .1 3 0-1.3 0 2.2 0-2.5 .1 3.4 0-.8 0 1.9 0-1.7 .1 2.9 0-1.9 0 3.7 0-1.2 .1 2.5 0-1.1 0 1.6 0-1.5 .1 3.7 0-2.7 0 2.4 0-.4 .1 2 0-.1 0 2.2 .1-1 0 1.5 0-.4 .1 1.7 0-1.3 0 2.3 0-.3 .1 1.6 0-.4 0 2.3 .1-.9 0 1.8 0-.9 0 2.6 .1-1.5 0 2.5 0-2 .1 2.2 0-1.4 0 2.9 .1-.5 0 2.7 0-1.1 0 2.1 .1-1.2 0 3.1 .1-2.1 0 2 .1-1.3 0 1.7 .1-.9 .1 2.5 0-1.1 .1 2.3 0-1 .1 2.9 .1-1.1 0 1.1 .1-.7 0 3 .1-1.3 0 2.8 .1-1.7 .1 1.7 0-.6 .1 1.8 0-.4 .1 2.6 .1-2.4 0 3.6 .1-2.3 0 3.3 .1-1 0 1.3 .1 .1 .1 .7 .1 .1 0 2 .1-1.3 .1 2.3 .1-1.9 .1 2.7 .1-1.6 .1 3.6 .1-1.7 0 2.1 .1-2.2 .1 4.2 0-1.3 .1 2.1 .1-1.8 0 3 .1-1 .1 2 0-.8 .1 .5 0-1.7 0 1 .1-3 0 .8 0-1.8 0 1 .1-1.7 0 .8 0-1.7 .1 0 0-1.7 0 .4 .1-1.3 0 .5 0-2.1 0 1.2 .1-3.6 0 2.3 .1-2.6 0 1.7 0-2.7 0 1 .1-1.8 0 .6 0-1.9 .1 1 0-3.1 0 1.3 .1-3.1 0 2.3 0-3.1 .1 1.9 0-3.2 0 1.5 0-2.2 .1 1.6 0-2.4 0 1.1 .1-1.5 0-.2 0-2.7 .1 2 0-2 0 2.1 0-3.4 .1 2.6 0-3.5 0 1 .1-2.1 0-.4 0-1.4 .1 1.2 0-3.2 0 3.7 0-4.9 .1 2.4 0-2.4 0 .9 .1-3.4 0 1.7 0-3 0 1.7 .1-1.4 0-1.8 .1 .7 0-1.9 0 .5 .1-1.8 0 .4 0-2.1 .1 1.5 0-2 0 .5 .1-1.9 0 .7 0-1.9 0 1.3 .1-2 0 1.3 0-2.3 .1 1.5 0-2.7 0 .7 .1-2.6 0 .7 0-2.9 0 1.7 0-2.5 0 1.9 0-3 .1 1.3 0-2.4 0 1.1 0-1.5 0 .8 .1-1.9 0 .2 0-1.5 0 .7 0-2.2 0 1.7 .1-2.5 0 .3 0-3.4 0 2.9 0-2.9 0 1.6 .1-2.3 0 .8 0-2.1 0 1.2 0-3.5 0 3.1 .1-4 0 3.1 0-3.6 0 .9 0-1.4 .1 1.8 0-1 .1 1.6 0-.6 0 3.1 .1-3.1 0 3.8 0-1.3 .1 1.4 0-.3 .1 1.2 0-1.1 0 2.3 .1-1.3 0 3.9 .1-2.2 0 3.1 0-1.5 0 1.5 .1-.9 0 3.2 0-2.5 .1 2.9 0-1.5 0 4.2 .1-1.8 0 2.3 0-1.4 0 2.5 .1-2 0 2.6 0-.1 .1 2.4 0-2.7 0 3.9 0-2.2 .1 2.3 0-1.5 0 3.8 .1-2.3 0 3.5 0-1.6 .1 1.6 0-.3 0 2.1 .1-1.6 0 3 .1-1.3 0 1.7 0-.2 .1 2.1 0-1.7 .1 3.5 0-2.6 .1 3.8 0-1.4 .1 1.5 0-1.2 .1 3.1 0-1 0 1.4 .1-.7 0 4.2 .1-3.7 .1 2.1 .2-1.2 .2 3.8 .2-2.4 .1 3.2 .1-2.7 .1 1.4 .1-2.5 .1 .5 .1-2.1 .1 1.7 .1-2.3 .1 .8 0-2.4 .1 1.2 .1-1.8 0 3.1 .1-2 0 4.7 .1-2.7 .1 4.3 0-3.5 .1 2.6 .1-1.4 0 2 .1 0 0 1.9 .1-2.3 0 3.7 .1-1.8 .1 3 0-1.1 .1 1.7 0-1 .1 2.3 0-1.6 .1 3.1 .1-1.3 0 2.8 .1-1.4 0 1.9 .1-.5 0 1.1 .1 0 .1 1.6 .1-1.7 .2 .9 .2-2.2 .2 .5 .1-3 .1 2.6 .1-3.7 .1 2.6 .1-3.5 .1 1.8 .1-3.5 .1 2.9 .1-2.9 0 1.4 .1-2.4 .1 .9 .1-1.7 .1 .7 .1-2.6 .1 2.7 0-4.6 .1 2 .1-2.3 .1 1 .1-1.7 .2 1.7 .2-1.3 .1 2.6 .2-1.2 .2 2.5 .2-1.4 .1 .6 .2-1.9 .2 1.7 .1-3.5 .1 1.2 .1-2.1 .1 .8 .1-2.8 .1 1.6 .1-1.8 .1 1.1 .1-2 0-.3 .1-1.3 .2 1.1 .2-2.5 .2 3.2 .1-5.1 .2 1.8 .2-2.9 .2 2.2 .1-3.9 .2 2.1 .2-2.8 .1 1.9 .1-2 0 .3 .1-2 .1 2.4 .1-3.9 .1 1.2 .1-2.1 .1 1.8 .1-2.6 0 2.5 0-1 .1 2.3 0-2.8 0 4.6 0-2.8 .1 4.2 0-1.8 0 2 .1-.4 0 1.8 0-1.5 .1 3.5 0-2.5 0 3.3 0-2.3 .1 2.4 0-.5 0 3.7 .1-2.3 0 1.5 .1-.7 0 2 0-1.1 .1 3.1 0-2.3 0 2.4 .1-.8 0 2.1 0 .2 .1 1.3 0-.2 .1 1.8 0-1.3 0 2.3 .1-.8 0 1.7 0 .2 .1 2 0-1.4 0 4 .1-3.3 0 2.3 .1-.2 .1 2.3 .1-.9 .1 2.2 .1-2 0 2.5 .1-1.2 .1 2.8 .1-2.2 .1 3 .3-1.6 .3 .5 .3-2.7 0 1.4 .1-2.3 .1 1.3 .1-3.4 0 1.8 .1-2 .1 .5 .1-1.3 0 1.2 .1-2.8 .1 1.7 0-3.3 .1 1.9 .1-3.3 .1 2 .1-3.3 .1 2.1 .1-2.9 .1 2.3 0-3.9 .1 2.5 .1-3.8 .1 2.4 .1-3.6 .1 2.4 .1-2 .1 0 0-1.1 .1 .5 .1-2 .1 .1 .1-1.5 .1 1 0-1.9 .1 1.2 0-2.2 .1 .8 .1-2.5 0 1.4 .1-2 0 .7 .1-2.3 0 1.9 .1-2.7 0 .9 .1-1.9 .1-.1 0-1.6 .1 1.2 0-3.4 0 1.8 .1-2.8 0 1.4 0-1.2 .1 .6 0-1.8 .1 1.8 0-3.5 0 1.2 .1-2.5 0 1.2 .1-2.4 0 2.3 0-1.1 .1 2.5 0-1.4 .1 3.1 0-2.5 .1 2.9 0-1.9 .1 2.9 0-.5 0 2.2 .1-.9 0 2.3 .1-1.1 0 1.6 .1-1.2 0 1.9 0-.3 .1 2 0-1.5 .1 2.7 0-1.1 .1 2.7 0-.8 0 1.8 .1-.8 0 3.1 .1-2.5 0 2.4 .1-1.9 0 2.8 .1-.9 0 3 .1-2 0 2.3 0-.8 .1 1.4 0-.1 .1 2.1 0-.6 .1 1.9 0-1.1 0 1.7 .1-1.3 0 3.9 .1-1.9 0 3.3 .1-2.2 0 2.4 0-1.7 .1 3.1 0-1.2 .1 1.7 0-1.3 .1 3 0-1.6 .1 1.6 0 .2 0 2.3 .1-1.4 0 1.4 .1-.2 .1 1.4 0-.9 .1 2.4 0-1.7 .1 3 0-2 .1 3.9 .1-1.4 0 1.8 .1-1.2 0 2.1 .1-.2 .1 1.4 0-.3 .1 1.1 .1 .2 .1 3.8 .1-2.5 .1 1.3 0-1.5 .1 1.8 0-3 .1 2.7 0-2.8 .1 1.3 .1-2.4 0 1.3 .1-2 0 .4 .1-1.8 0 .5 .1-2.1 0 1.1 .1-2.6 0 2.6 .1-3.7 0 1.5 .1-2.7 0 2.1 0-3 .1 1.8 0-3.1 0 .5 .1-1.7 0 .7 0-1.7 .1-.1 0-.9 .1 0 0-2.7 0 1.6 .1-2.4 0 1.5 0-1.5 .1 .7 0-2.1 0 .5 .1-1.8 0 1.1 .1-2.3 0 1 .1-2.4 0 .7 .1-2 .1 .3 0-3.1 .1 2.3 .1-3.5 0 2.2 .1-1.9 .1 1.5 0-3.5 .1 2.1 .1-2.7 0 2.2 .1-1 .1 3.6 0-2.5 .1 3.8 .1-2.5 0 3 .1-1.5 .1 2.8 .1-1.7 0 3.1 .1-1.7 0 1.7 .1-2 .1 3.1 .1-.8 .1 2.5 .1-2.6 .1 3.1 .1-.5 0 2.3 .1-2 .1 3.1 .1-1.8 0 .7 .1-1.8 0 1 .1-2.9 .1 .7 0-2.4 .1 3.9 .1-4.6 0 2 .1-3 0 .6 .1-2.5 0 2.7 .1-3.8 .1 1.9 0-1.7 .1 .7 0-1.9 .1 1.3 0-3.4 .1 1.2 .1-2.1 0 .4 .1-1.5 .1 .5 0-2.5 .1 1.4 0-2.5 .1 1.1 .3-1.4 .3 1.6 .2-3.4 .1 3 .1-1.9 .1 2.9 0-1.3 .1 2.6 .1-.5 .1 2.6 0-2 .1 2.5 .1-.6 .1 1.1 0-.1 .1 2.9 0-1.9 .1 2.1 .1-.9 0 2.1 .1-.6 0 1.7 .1-1 .1 3.2 0-2.1 .1 2.3 0-.7 .1 1.8 0-1.3 .1 2.2 0-1.2 .1 2.5 0-.9 .1 2.6 0-3 .1 4.8 0-1.4 0 1.8 .1-1 0 1.7 .1-1.4 0 2.5 .1-.5 0 1.5 .1-.1 0 1.6 0-.9 .1 3.4 0-2.7 .1 2.3 .1-2.7 .1 1.6 0-1.7 .1 .4 .1-3 .1 2.1 .1-1.6 .1 1.7 .1-3.1 0 1.4 .1-2.9 .1 1.2 0-2.2 .1 1 0-2.3 .1 1.6 .1-3.1 0 2.2 .1-2.7 0 .9 .1-1.9 0 .1 .1-1 .1 0 0-3.9 .2 3.3 .2-2.9 .2 1.5 .1-2 .2 1.3 .2-3.1 .2 1.1 .1-1.9 .2 .4 .2-1.2 .2 1.8 .2-3.1 .2 .9 .3-2.2 0 3.3 0-2.6 .1 4 0-1.9 0 1.7 .1-.3 0 2.4 .1-1.2 0 1.8 0-.2 .1 2.2 0-1.8 0 3.8 .1-3.7 0 4 .1-2.5 0 2.7 0-.4 .1 1.3 0-.3 .1 1.5 0 .1 0 1.1 .1-.9 0 3.3 0-1.5 .1 2.6 0-.9 0 1.7 .1-.8 0 1.7 .1-.8 0 2.7 0-1.5 .1 2 0-1 0 2.6 .1-1 0 2.7 0-1.6 .1 3.3 0-1.5 .1 1.6 0-.8 0 1.4 .1-.3 0 1.8 .1-1 .1 1.8 .2-1.5 .1 2.8 .1-.2 .1 .5 0-1.6 .1 .6 0-2.1 .1 2.6 0-4 .1 1.8 .1-2.9 0 .8 .1-2.5 0 1.5 .1-1.9 0 .7 .1-1.7 .1 .8 0-1.7 .1 .5 .1-1.3 .1-3.2 0 2.4 .1-3.8 0 2.6 .1-2.5 .1 1.5 0-3.7 .1 3.2 0-3.6 .1 2.9 0-3.3 .2 1.2 .2-3.2 .2 .9 .2-2.4 .1 1.3 .1-.6 0 4.2 .1-2.6 0 1.6 .1-1.9 .1 3 0-2.4 .1 3.9 0-1.6 .1 2.2 .1 .4 0 1.1 .1-1.1 0 2.9 .1-.9 0 .7 .1-2.6 0 2.5 .1-4.1 0 1.3 .1-1.9 0 .8 0-1.8 .1 1 0-3 .1 1.8 0-2.4 .1 1.6 0-1.9 0 .7 .1-2.2 0 1 .1-1.7 0 .4 .1-2.2 0 .7 0-1.4 .1-.3 0-1.8 .1 .7 0-2.6 0 1.4 .1-3.5 0 3.9 0-4.4 .1 3.4 0-3.3 0 1.3 .1-3 0 1 .1-1.8 0 1.9 0-3 .1 1.3 0-2 0 .5 .1-2.3 0 .9 0-2.2 .1 .3 0-1.7 0 1.1 0-2.4 .1 .5 0-2.4 0 1.7 0-2.6 0 1.3 .1-2.2 0 1.1 0-1.5 0 1.5 0-3.8 .1 2.4 0-2.5 0 .9 0-1.8 0 .2 .1-2.1 0 .5 0-2.8 0 2.9 0-2.8 .1 .6 0-2.5 0 1.4 0-2.3 .1 2.2 0-.7 .1 2.7 0-1.3 .1 1.3 0-.5 .1 1.9 0-.6 .1 2.2 0-1.1 .1 2.6 0-1.4 .1 3.1 0-2 .1 2.4 0-1.1 .1 2.2 0-.8 0 2.6 .1-1.7 0 2.3 .1-1.1 0 2 0-.3 .1 2.9 0-2.1 0 2 .1-.8 0 2.1 0-1.4 .1 3 0-1.4 .1 2.8 0-1 0 2.2 .1-1.3 0 2.6 0-.6 .1 1.2 0-.6 .1 2.1 0-1.7 .1 4.2 .1-2.7 0 3.2 .1-2.7 .1 3.3 .1-1.5 .1 2.1 .1-1.2 .1 2.2 .1-.3 0 .7 0-1.3 .1 .9 0-3.1 0 1.4 .1-2.5 0 .8 0-1.5 .1 .2 0-2.4 .1 1.4 0-3.4 0 3 .1-3.1 0 2.5 .1-3.2 0 1 0-2.6 .1 2 0-3.8 0 1.6 .1-3.3 0 1.6 0-1.8 .1 .6 0-1.3 .1 1.1 0-2.9 .1 2.5 0-2.7 .1 .7 0-2 .1 1.1 0-3 .1 1.9 .1-3.6 0 1.3 .1-2.2 0 .7 .1-1.7 0 .6 .2-.9 .2 2.8 .1-.7 .2 2.5 .2-1.1 .1-.5 0-2.2 .1 1.2 .1-1.6 .1 1.8 0-2.4 .1 1.2 .1-2.9 0 .3 .1-2 .1 .8 .1-1.4 0 1.4 0-2.6 .1 1.9 0-3.2 0 1.1 .1-2.6 0 .4 0-2.8 .1 2.5 0-2.6 .1 1.7 0-2.8 0 1.2 .1-3.7 0 2.6 .1-2.2 0 .2 0-2.3 .1 2.5 0-3.9 0 2.1 .1-2.6 0 .6 0-1.3 .1 1.3 0-2.5 .1 .6 0-1.8 0 2.1 .1-3.8 0 2.8 0-3.7 .1 .5 0-1.9 0 .4 .1-1.9 0 1.1 .1-3.5 0 2.1 0-2 .1 1.5 0-2.7 0 1.3 .1-2.9 0 1.5 0-2.2 .1 1 0-2.7 .2 .6 .1-1.8 .2 1 .1-1.4 0 2.2 0-.8 .1 1.7 0-1 0 2.4 0-1.1 .1 2 0-.8 0 2.6 0-2.5 0 3.3 .1-3 0 3.9 0-1 0 1.9 0-1 0 2.9 .1-2 0 2.5 0-.6 0 2.7 .1-1.4 0 2.1 0-2.2 0 3.5 0-.7 .1 1.8 0-.2 0 1.2 0-.9 0 2.6 .1-1.5 0 2.4 0-1.1 0 2 0-1.8 0 2.9 .1-1.4 0 4.1 0-2.2 0 3.2 0-1.5 0 2.9 .1-1.7 0 1.6 0-.1 0 1.5 0-.4 0 2.1 .1-1.4 0 2.1 0-.6 0 2.4 0-2.1 .1 2.8 0-1.4 0 3.1 0-1 0 2.1 0-1 .1 2.4 0-1.2 0 2.6 0-1.4 0 1.5 .1-.8 0 3 0-1 0 2.5 0-2.7 0 3.4 .1-1.8 0 3.1 0-1.8 0 3.7 0-2.2 .1 2.8 0-2 0 3.7 0-1.4 0 1.3 .1-.2 0 1.4 0-.4 0 1.5 .1-.5 0 3.1 0-1.9 0 2.2 0-.8 .1 3.3 0-3.6 0 4.9 .1-1.8 0 1.5 0-.7 .1 1.6 0-.8 0 3.1 .1-2.6 0 3.3 .1-2.3 0 3.1 0-1.4 .1 2.1 0-.4 0 1.9 .1-.7 0 2.6 0-1.2 .1 3.5 0-1.9 .1 2.1 0-1.8 0 3.3 .1-2.4 0 .8 0-2.5 .1 1.5 0-2.7 0 1.6 .1-2.7 0 2.3 .1-3.2 0-.1 0-2.2 .1 1.3 0-2.6 0 1.6 .1-2.2 0 .9 .1-1.9 0 .4 0-1.6 .1 .3 0-3.1 0 2.3 .1-1.5 0 1.2 .1-3.9 0 2.1 .1-3.5 0 1.7 .1-2.1 0 1.3 .1-1.8 .1 2.4 0-5.2 .1 2.1 .1-2.8 0 3.1 .1-3 0 .3 .1-2.4 0 2.4 .1-1.1 .1 3.5 0-2.5 .1 3.9 0-1.7 .1 1.9 0-2.1 .1 2.7 .1-.2 0 1.4 .1-.6 0 2.4 .1-1.4 .1 2.1 0-.3 0 1.2 .1-.9 0 1.9 .1-.8 0 2.1 .1 0 0 1.5 .1-1.5 0 3 0-.4 .1 2.1 0-2 .1 2.8 0-2.1 .1 3 0-.7 0 3.6 .1-2.2 0 1.7 .1-1.7 .1 3.6 0-2.2 .1 1.9 0 .1 .1 1.2 0-.6 .1 2.9 .1-1.7 0 2.8 .1-2 0 2 .1-.3 0 2 .1-1.6 .1 3.8 .1-2.2 .1 3 .1-2.3 0 3.7 .1-2.9 .1 2.9 .1-1.7 .1 4.3 .1-2.3 0 1.5 .1-2.9 .1 3.1 0-4.1 .1 1.2 0-2.8 .1 1.8 0-1.9 .1 .1 .1-2.5 0 1.2 .1-3.4 0 2.4 .1-1.1 .1-.2 0-1.1 0 .5 .1-1.6 .1-2.7 0 1.9 .1-3 0 2.6 .1-2.4 0 1.5 0-3.9 .1 1.9 0-3.6 .1 3.2 0-3.5 .1 1.6 0-3.5 0 3.7 .1-3 0 .7 .1-1 .1 1.7 .1-1 0 3.1 .1-1.8 .1 2.7 .1-1.2 0 2.1 .1-1.4 .1 3.2 0-1.7 .1 3.4 0-2.5 .1 2.9 0-.9 .1 1.7 0-.6 .1 1.9 0-2 0 3.5 .1-2.5 0 3.8 0-2.7 .1 3.4 0-.3 .1 2.1 0-1 .1 1.5 0-.5 0 1.4 .1-.7 0 2.1 0-1.8 .1 2.8 0-2 0 1.4 .1-2.6 0 1.8 0-2.1 0-.2 .1-2 0 1.4 0-2 .1 .6 0-1.5 0 2.3 0-3.8 .1 1.2 0-2.5 0 1 0-2.5 0 .7 .1-2.7 0 2.2 0-3 0 1.5 .1-2.8 0 1.5 0-2.7 .1 2.2 0-2.4 0 .8 0-2 .1 .2 0-1.3 0 .5 0-2.2 .1 1 .2-2 .3 .4 .3-2 .1 2.2 0-1.5 .1 2.6 0-.4 0 2 .1-.2 0 1 .1-.2 0 1.7 0-.1 .1 1.7 0-2 .1 3.5 0-.8 0 1.8 .1-.6 0 1.5 .1-1.1 0 1.8 0-.5 .1 3.2 0-2.7 .1 2.1 .1-4.1 .1 2.7 .1-3 0 1.3 .1-2.6 .1 2.8 .1-3.9 .1 1.2 .1-1.4 0 .2 0-.9 .1 .1 0-4.4 .1 4.2 0-2.4 0 .9 0-3.5 .1 1.3 0-3.7 0 2.2 .1-1.7 0 .6 0-1.8 .1 .6 0-1.9 0 1.6 0-2.7 .1 .8 0-2 0 1.8 0-3.9 0 2.9 0-3.1 .1 1.5 0-3.4 0 3.1 0-3.5 0 1.3 0-2.2 .1 .6 0-1.7 0-1.5 0 .8 0-2 .1 .8 0-1.7 0 .2 0-2.1 0 3.2 0-4 0 .8 0-1.8 .1 1.1 0-2 0 1 0-3.2 0 2.5 0-2.8 .1 1 0-2.1 0 .6 0-2.1 0 .2 0-1.7 .1 1.3 0-3 0 2.5 0-3.3 0 .9 .1-2 0 .2 0-2.6 0 1.6 .1-1.4 0 1 0-2.2 0 1.1 0-3.2 .1 1.3 0-3.1 0 1.9 0-1.7 .1 .6 0-2.2 0 1.3 0-2.4 .1 .6 0-1.2 0 1.1 0-3.5 .7 1.7 .1-1.9 0 3.7 .1-1.2 0 3 .1-2.7 .1 3.1 0-1.1 .1 2.6 0-2.7 .1 4.1 0-2.5 .1 3.2 .1-1.2 0 2.4 .1-2.1 0 3.5 .1-1.9 0 2.2 0 .1 .1 1.9 0-.8 .1 1.3 0-.3 .1 2.5 0-1.4 .1 1.5 0-1.4 .1 2.4 0-2 0 4 .1-.7 0 2.2 .1-1.5 0 2.2 .1-1.5 0 2.2 .1-.8 0 1.6 .1-1.8 0 4.2 .1-1.2 .1 1.6 0-.6 .1 1.7 0-.4 .1 1.8 .1-.9 0 2.3 .1-1.7 0 2.5 .1-1.9 .1 2 .1-4.8 .1 3.1 .1-3.6 0 1.2 .1-1.6 .1 2.3 .1-3.9 .1 2.5 .1-4.6 .2 2.2 .1-2.4 .1 1.6 .1-2.6 .1 .5 .2-3.4 .3 3.2 .3-2.2 .3 4 0-4.1 .1 3 0-2.1 .1 .3 0-1.5 .1 0 .1-.9 0 1.1 .1-3.4 0 2.2 .1-3.2 .1 .9 0-1.6 .1 .7 0-2 .1 1.5 0-3.4 0 1.5 .1-2.8 0 1.1 .1-1.7 0 .6 0-2.7 .1 1.8 0-2.6 0 1.3 .1-1.8 0 .5 0-1.8 .1 .8 0-2.8 .1 1.2 0-1.3 0 1 .1-2.8 0 1.8 0-3.9 .1 1.4 0-2 .1 2 .1-.3 .2 1.9 .1-.9 .1 2.2 0-1.2 0 2.4 .1-.8 0 1.7 0-.7 0 2.1 .1-.3 0 2.2 0-.7 0 1.5 .1-.6 0 3.1 0-1.8 0 3.5 .1-2.1 0 3.2 0-2.5 0 1.3 .1 .1 0 1.6 0-1 0 3.2 .1-2 0 2.5 0-1.6 0 3.9 0-1.4 0 1.8 0-1.8 .1 1.9 0 .2 0 1.5 0-.7 0 2.2 0-1.5 .1 3.7 0-2.1 0 1.9 0-1.1 0 2.2 0-.4 .1 1.9 0-1.4 0 2.3 0-.6 0 2.1 0-1.6 0 3.3 0-1.1 .1 2.6 0-.9 0 2 0-1.7 0 2.4 0-1.7 .1 2.7 0-.8 0 4.1 0-2.7 0 2.2 0-1.8 .1 4.2 0-3.4 0 4.6 .1-2.9 0 2.9 0-1 .1 3.1 0-3.1 .1 3.4 0-1.8 .1 2.4 0-.9 0 2 .1-1.6 0 2.8 .1-1.2 0 3.1 .1-1.5 0 2 0-.9 .1 1.7 0-.5 .1 .5 0-1.4 .1 .7 0-1.4 .1 0 0-2 0 1.2 .1-2.2 0 .8 .1-1.7 0 .6 .1-3.2 0 2.2 0-2.5 .1 3.3 0-4.5 .1 1.4 0-3.7 .1 3 0-3.3 .1 3 .1-1.4 .1 2 .1-.7 .1 1.7 0-.6 .1 2 .1-1.7 .1 2.8 .1-1 0 3.2 .1-1.3 0 3.6 0-2.1 .1 2.3 0-1.3 0 2.2 .1-2.1 0 2.4 .1-1.7 0 3.8 0-1.3 .1 2.9 0-2.6 0 2.9 .1-1 0 3.1 0-1.5 .1 2.4 0-.9 0 1.8 .1-2.3 0 3.1 .1-2.2 .1 4 0-.8 .1 2 .1-1.2 .1 1.6 .1-1 .1 2.3 .1-2.2 0 3 .1-1 .1 2.8 0-3.6 0 1 0-1.4 .1 .6 0-2.6 0 1.4 0-3.2 .1 3 0-3.9 0 2.3 .1-2.5 0 .2 0-1.3 0 1 0-2.5 .1 .6 0-1.8 0 .2 0-1.8 .1 1.8 0-3.3 0 1.2 .1-1.3 0 .4 0-1.5 0 1.2 .1-3.2 0 1.9 0-3.1 0 1 .1-2.3 0 .6 0-1.3 0 2.1 .1-1.5 0 2.8 0-1.4 .1 2.2 0-1.3 0 2.9 0-1.8 .1 3.3 0-2.7 0 4.1 .1-1.9 0 2.9 0-2.2 .1 2.1 0-1 0 2.8 .1-1 0 2.7 0-1.8 0 2.3 .1-.9 0 2.6 0-1 .1 3.3 0-1.7 0 1.8 .1-.7 0 2.9 0-2.2 .1 2.1 0-.5 0 1 .1 .4 0 1.2 0-.3 .1 1.3 0-.6 0 2.7 .1-.9 0 2.3 0-.8 .1 2.4 0-2 0 3 .1-1.4 0 .1 0-1.7 .1 .4 0-1.2 .1 0 0-1 .1-.2 0-1.3 0 2.3 .1-3.6 0 1.1 .1-2.1 0 .4 0-1.4 .1 .9 0-2.3 0 1 .1-2.6 0 1.6 .1-2.4 0 .2 .1-1 0 .2 .1-2 .1 2 0-5 .1 2.7 .1-1.9 .1 2.4 0-3.9 .1 2.1 .1-3.9 .1 1.1 0-1.7 .1 1.5 .1-.6 .1 2.1 0-1 .1 2.8 .1-.9 0 1.5 .1-.7 .1 2.5 .1-.9 0 2.6 .1-2.2 .1 3 .1-.9 .1 2.1 .1-1.7 0 2.4 .1-.9 .1 1.9 .1-.9 .1 3.1 .1-1.8 0 2.9 0-3.6 .1 1.1 0-2.3 .1 .4 0-1.5 0 .8 .1-2.1 0 .5 0-2 .1 .4 0-1.7 .1 .4 0-3.1 0 2.7 .1-2.7 0 1.9 0-3.7 .1 1.5 0-2.3 0 2 .1-2.6 0 1.9 .1-3.5 0 1.2 0-1.9 .1 .4 0-1.3 .1 .4 0-2.3 .1 .9 0-3.4 0 2.9 .1-3.2 0 1.5 .1-2 0 .9 .1-2.1 0 1.7 0-3.2 .1 .7 0-1.5 .1 1 0-3.8 .1 3.5 0-1.2 .1 2.7 0-.9 .1 3.2 0-2.8 0 3 .1-1.2 0 2.1 .1-1.4 0 2.2 .1-1.7 0 3.5 .1-1 0 1.8 0-1.6 .1 3 0-1.6 .1 2.8 0-.4 0 .5 .1-2.3 0 .4 0-1.7 .1 1.1 0-1.9 0 .4 .1-2.5 0 1.1 0-3.3 0 2.3 .1-3.4 0 2.4 0-1.9 .1 1 0-2.4 0 1.2 0-1.9 .1 .3 0-2 0 1.6 .1-3.3 0 2 0-2.6 .1 1.7 0-2.8 0 1.4 .1-2.4 0 2 .2-4.7 .1 2.7 .2-2.8 .2 1 .2-2 0 .2 .1-2.1 0 .7 .1-1.3 0 .3 .1-1.7 .1 .3 0-2.6 .1 1.4 0-2 .1 2 .1-3.7 0 1.7 .1-2.8 0 1.5 .1-2.7 .1 1.5 .1-1.2 .1-.1 .1-3.9 .1 3.2 .1-1.9 0 1.3 .1-1.9 .1 .5 .1-1.9 0 .9 .1-2.2 0 1.2 .1-2.9 .1 .6 0-1.7 .1 .8 0-1.7 .1 .9 .1-3 0 2.1 .1-3.7 0 3.6 .1-4.8 .1 3.2 .1-4.2 0 3.4 .1-3.8 .1 2 .1-3.5 .1 1.3 .1-1.3 .1-.2 .1-1.3 0 3.5 .1-2.2 0 1.5 .1 1.5 0-.6 .1 1.8 0-.7 .1 1.9 0-.9 0 3.3 .1-2.6 0 2.7 .1-1.4 0 3.6 .1-1.6 0 2.6 0-3.1 .1 3.7 0-.9 .1 2.1 .1-1.2 0 2 .1-1 0 2.4 .1-1.1 0 2 .1-2 .1 2.8 0-.6 .1 3.3 0-2.1 .1 2.5 0-2 .1 3.2 0-1.4 0 2.5 .1-2.3 0 3.2 0-4.1 0 4.7 0-1.2 0 3.1 .1-1.4 0 2.9 0-1.6 0 1.7 0-1 0 3.3 0-1.3 .1 2.5 0-2.3 0 3.9 0-2.5 0 2.6 0-.2 0 1.2 .1-.5 0 2.5 0-1.1 0 1.8 0-2.5 0 3.2 0-1.1 .1 2.5 0-1.4 0 2.8 0-1.1 0 3.2 0-1.4 0 1.9 .1-.6 0 2.2 0-1.9 0 2.8 .1-1.2 0 2.9 .1-2 0 2.2 0-.6 .1 2 0-1.2 0 2.6 .1-1.1 0 2.3 0-1.2 .1 2.3 0-.5 0 1.3 .1-.3 0 2.4 .1-.8 0 2 0-.7 .1 2 0-1.3 0 1.8 .1-.9 0 2.7 .1-2.1 0 3.6 .1-1.2 .1 2.1 0-1.8 .1 2.4 0-.6 .1 1.4 .1-.4 0 3 .1-2 0 1.9 .1-1 .1 4.4 0-2.8 .1 1.9 0-1 .1 2.9 0-2 .1 3.9 0-2.1 .1 3.4 0-3.3 .1 3.6 0-.6 .1 1 .1-1.7 0 3.6 .1-1.6 0 2.2 .1-2.5 0 1.6 0-3.5 0 2.2 .1-2.7 0 1.7 0-2.8 0 .8 .1-2.5 0 1.3 0-2.5 .1 1.6 0-3 0 1.6 .1-1.6 0 .4 0-2.1 .1 1.3 0-2.2 0 1.5 0-2.3 .1 .9 0-2.6 0 1.7 0-3.5 .1 1.3 0-1.8 0 2.4 .1-3.6 0 3.7 0-4.9 0 1.2 .1-2 0 .4 0-1.5 0 1.1 0-2.2 .1 0 0-2.7 0 1.5 0-1.6 0 .2 .1-1.3 0 .6 0-2.4 0 2.1 0-4.5 .1 2.9 0-3.5 0 2.6 0-2.3 0 .3 .1-1.3 0 .9 0-3 0 2.3 0-2.9 .1 .6 0-2.5 0 1.7 0-3.9 0 2.4 .1-2.2 0 1.9 0-3.2 0 1 0-3.5 .1 2.1 0-2.9 0 1.9 0-2.1 0 3.2 .1-4.9 0 1 0-.9 0 4.6 .1-3.4 0 2.8 0-1.6 .1 2.7 0-.6 0 1.4 .1-1 0 2 0 .2 0 1 .1 0 0 1.7 0-1.7 .1 3 0-1.8 0 2.9 0-.7 .1 1.9 0-.5 0 2 .1-1.1 0 2.7 0-2.2 .1 3.9 0-2.1 0 2.3 .1-2 0 3.3 0-1.1 .1 2.9 0-2.3 .1 3 0-1 .1 1.4 0-.9 .1 3.1 0-2.2 0 2.5 .1-1.4 0 3.4 .1-1.8 0 2 0-.3 .1 2 0-1.3 .1 2.2 0-.5 .1 .2 0-1.9 0 1.4 .1-2.4 0 1.1 0-3.9 0 2.3 .1-2.2 0 .4 0-.8 .1-.1 0-1.8 0 1.3 .1-2.9 0 .8 0-1.7 0 1.4 .1-3.2 0 1.9 0-3 .1 1 0-1.7 0 .8 0-1.8 .1 1.3 0-2.8 0 1.5 .1-4.4 0 3.4 0-1.5 .1 3.7 0-3.4 .1 2.7 0-1.1 .1 2.9 0-1.9 0 2.4 .1-.8 0 2.2 .1-.5 0 4.2 .1-3.3 0 1.7 .1-.2 0 1 .1-.3 0 2.2 0-.4 .1 1.8 0-.6 0 1.2 .1-.3 0 1.2 .1-.4 0 2.2 0-.7 .1 1.7 0-.2 .1 1.5 0-1.3 0 3.6 .1-3 0 2.8 0-.9 .1 2.7 0-1 0 2.7 .1-1.4 0 2.9 .1-1.1 0 1.4 0-.9 .1 2.7 0-3.1 0 1.7 0-3.1 .1 1.5 0-2.5 0 2.3 .1-3.6 0 3.2 0-4.3 .1 1.3 0-2.6 0 1.5 .1-1.9 0-.1 0-2.2 0 1.4 .1-1.8 0 1.2 0-3 .1 1.3 0-2.1 0 .8 0-2 .1 .8 0-2.1 0 1.2 .1-2.2 0 1 0-3 .1 2.7 0-2 0 3.3 0-1.7 .1 3.4 0-1.2 0 2.6 0-1.8 .1 2.2 0-.7 0 2 0-2 .1 3.7 0-1.9 0 2.7 0-.6 .1 3.2 0-2.3 0 2.3 .1-1.2 0 2.6 0-.9 0 1.9 .1-.9 0 1.6 0-.1 0 2.4 0-2 .1 3.1 0-2.4 0 3.7 .1-1.4 0 2.4 0-.9 .1 .1 .1-2.8 0 1.4 .1-2.2 .1 1.1 0-1.2 .1 1.2 .1-2.6 .1 1.2 0-2.7 .1 0 .1-1.7 .3 1 .3-1.5 .3 1.2 0-.7 .1 1.5 0-1 .1 1.7 .1-.6 0 2 .1-1.9 0 3.3 .1-1.9 0 2.9 .1-.6 .1 2.2 0-1.3 .1 2 0-.6 .1 .5 .1-2 .1 1.8 .1-3.4 .1 3.2 .1-3.3 .1 .2 0-1.1 .1 .6 .1-1.7 .1 0 0-2.6 .1 1.3 0-1.2 .1-.2 .1-1.2 0 .9 .1-1.9 0 .7 .1-1.8 .1 1.1 0-2.4 .1 .2 0-1.3 .1 .1 0-1.6 .1 .6 0-1.6 0 .8 .1-2.8 0 1 0-1.7 .1 .2 0-1.1 .1 .3 0-3.2 0 1.8 .1-1.8 0 .7 0-2.4 .1 2.3 0-3 0 .9 .1-2 0 .3 .1-1.7 0 .5 0-1.9 .1 .7 0-2.4 0 1.5 .1-3.5 0 2 .1-2.2 0 1.2 .1-1.8 0 .8 .1-1.9 0 1.4 0-3 .1 2 0-4.1 .1 3.6 0-3.8 .1 1.4 0-2.6 .1 1.2 0-1.8 0 .6 .1-2.2 .1 .6 .1-2 .1 1.2 .1-2.6 .1 2.5 .1-2.6 0 1 .1-3.1 .1 1.6 .1-2.6 0 4.5 .1-1.1 0 1.9 0-1.2 .1 1.6 0-.2 .1 1.2 0-.5 0 5 .1-3.3 0 1.2 .1 .1 0 1.8 .1-.8 0 2.3 .1-2.1 0 3.5 0-1.8 .1 2.3 0-1.4 .1 2.9 0-2.5 .1 4.1 0-1.9 .1 2 0-1.4 0 2.8 .1-1.1 0 2.9 .1-1.9 0 3.7 .1-3.1 0 2.3 0-1 .1 2.6 0-.5 .1 2.6 0-2.3 .1 3.8 0-1.7 .1 1.5 0-.9 0 2.1 .1-.4 0 1.7 .1-1.3 0 3.4 .1-1.5 0 2.4 .1-1.6 0 1.7 0-.4 .1 1.7 0-1 .1 3.3 0-2.6 0 2.7 .1-1.2 0 3.4 .1-2.8 0 1.4 0-3.6 .1 2.3 0-2 0 .9 0-2 .1 .5 0-2.7 0 1 .1-1.6 0 1 0-2.7 .1 1.9 0-2.7 0 .6 .1-1.8 0 .9 0-2.4 .1 .9 0-2.7 0 2.1 0-3.8 .1 2.2 0-1.9 0 1.1 .1-2.3 0-.1 0-1.2 .1 0 0-.9 0-.1 .1-1.2 0 1.4 0-3 .1 .7 0-2.5 0 .9 .1-1.7 0 .2 0-1.2 .1 1.3 0-3.2 .1 1 0-1.4 0 .8 .1-4 0 2.5 .1-2.1 0 .6 0-3 0 1.6 .1-1.6 0 .6 .1-2.5 0 2.6 .1-3.1 .1 .6 0-1.8 .1 1.7 0-3.1 .1 1.5 0-3.1 .1 1 0-2.4 .1 2.9 0-3.3 .1 .8 0-1.4 .1 .5 0-.4 0 1.6 .1-.9 0 1.9 .1-.6 0 1.4 0-2.2 .1 4.1 0-.7 .1 1.1 0-.3 .1 1.4 0-.3 0 1.5 .1-.2 0 2.4 0-.7 .1 1.2 0-.2 .1 1.8 0-1.4 .1 3.4 0-1.6 0 2.8 .1-2.3 0 3.1 .1-2.1 0 2.8 0-.8 .1 1.7 0-.5 .1 2.1 0-1.2 .1 2.8 0-2.2 .1 2.3 0-.8 0 2.6 .1-.8 0 2.5 .1-1.4 0 1.2 .1 .3 .1 1.3 .1-.7 .1 1.6 .1-2.5 0 3.7 .1-1 .1 5 .1-3.8 .1 3.5 .1-3.7 .1 1.5 .1-2 .1 .5 0-2.1 .1 .8 .1-1.8 .1 1.1 .1-2.3 .1 .9 0-2.7 0 4 .1-1.8 0 3 0-.7 .1 2 0-.9 .1 3.2 0-2.3 0 2.8 .1-1.4 0 2 .1-.4 0 1.8 0-1.4 .1 3.7 0-2.3 0 2 .1-.7 0 3.1 0-1.1 .1 1.9 0-1.7 .1 2.2 0-.1 0 1.8 .1-2 0 3.5 .1-.8 0 1.5 .1-2 0 3.3 .1-.4 0 1.1 0-.8 .1 2.5 0-1.7 .1 3.2 0-1.1 0 1.9 .1-.4 0 2.8 .1-2.9 0 3.3 .1-3.3 .1 1.6 .1-2.8 .1 1.8 .1-2.1 .1 .3 0-1.7 .1 .6 .1-1.9 .1 1.2 .1-2 0 .6 .1-2.2 0 1.2 .1-2.3 .1 1.2 0-2.5 .1 .7 0-1.6 .1 .6 .1-1.8 0 1.1 .1-2.7 0 2.5 .1-2.6 0 .9 .1-1.9 0 .6 .1-3.4 .1 2.6 0-3.1 .1 1.6 0-3 .1 1 .1-2.4 0 1.8 .1-2.3 0 .7 .1-2.2 .1 1.6 0-2.3 .1 2 0-3.6 .1 .9 0-2 .1 1.5 .1-2 0 .3 .1-2 0 .5 .1-.8 0 .8 .1-2.3 .1 1.4 0-2.5 .1 .3 .1-1.7 0 .9 .1-1.6 0-.1 .1-1 0 .3 .1-2.2 .1 2.1 0-3 .1 0 0-2.7 .1 1.8 0-2.5 .1 1.3 .1-2.2 .2 1 .1-1.5 .1 .2 .1-1.9 .2 1.3 .1-3.4 0 3.2 .1-1.1 .1 2.6 .1-1.6 .1 2.4 0-.7 .1 1.4 .1-.2 0 2.2 .1-.8 .1 2 .1-1.6 .1 2.7 0-.8 .1 2.3 .1-1.9 .1 3.4 .1-1.1 .1 2.6 .1-2.4 0 2.9 .1-1.4 .1 2.4 .1-2.5 .1 3.3 .1-1.4 .1 2.6 .1-.4 .1 1.4 0-1.2 .1 2.1 .1-.5 .1 2 .1-3.4 .1 2.8 .1-4.5 0 2.4 .1-2.4 .1 1.2 .1-4.2 .1 2.4 .1-2.4 .1 1 .1-1.6 0 2.1 .1-4 .1 1.8 .1-3.4 .1 1.3 .1-1.5 .1 2.6 .1-3.5 .1 .5 .2-2.8 .2 1.5 .2-3.1 .1 2.9 .1-1.8 .1 2.6 0-.6 .1 2.2 0-2 .1 1.9 0 .3 .1 1.5 .1-1.7 0 2.5 .1-3.4 0 4.8 .1-2 0 4.3 .1-2.5 .1 2.1 0-1.4 .1 5.8 0-4 .1 3.7 .1-2.3 0 2.2 .1-1 0 2 .1-.3 .1 1.4 0-.5 .1 2.4 0-2.6 .1 3.2 0-.5 .1 2.8 0-2.4 .1 2.3 0-1.5 .1 2.6 0-1.3 0 3.4 .1-2.5 0 3.9 .1-1.7 0 1.5 .1-1.2 0 2.3 0-.3 .1 1.7 0-.4 .1 2.4 0-.8 .1 1.6 0-1.6 .1 .3 0-2.6 .1 1.7 0-3.5 .1 2.7 .1-3.6 0 1.5 .1-2.3 .1 2.1 0-2.8 .1 .5 0-1.5 .1 1 0-1.8 .1 1 0-2.4 .1 .6 0-2.9 .1 2.7 0-4 0 3.1 .1-3.1 0 1.1 .1-2.6 0 .6 .1-2.4 0 1.6 .1-1.9 0 1.3 0-3.5 .1 1.3 0-2.7 .1 3.2 0-4.6 0 2.8 .1-4.6 0 3 0-2.3 .1 1.3 0-1.9 0 .7 .1-3 0 .8 0-2.4 .1 1.9 0-1.9 0 2 0-3.2 .1 .6 0-2.7 0 2.2 .1-3.4 0 1.3 0-1.4 .1-.2 0-1 0 .2 0-1.6 .1 .4 0-1.2 .1-2.8 0 1.4 0-1.4 .1 .4 0-3.6 0 2.7 .1-3.3 0 1.6 0-1.4 .1 .5 0-2.1 .1 .8 0-2.1 0 2.3 .1-3 0-.2 0-2.1 .1 1.7 0-2.1 0 1.6 .1-2.5 0 .3 .1-2.2 0 1.2 0-2.5 .1 1.6 .1-2.4 0 .5 .1-1.7 .1 1.4 .1-2.6 .1 1.7 .1-2.6 .1 1.3 0-2.3 .1-.3 .1-.8 0 .6 .1-1.8 0-3.1 .1 2.2 0-1.9 0 2.3 .1-3 0 1.6 0-3.5 .1 .8 0-3.1 0 2.2 .1-2.1 0 .4 .1-1.5 0 1.5 0-3.1 .1 2.2 0-3.7 0 .9 .1-2 0 2.1 .1-1.4 0 1.9 0-2.1 .1 4.2 0-2.2 0 2.9 .1-1 0 2.2 .1-4 0 4.5 0-2.5 .1 4.5 0-1.3 0 2.3 .1-1.4 0 1.9 0-1.1 .1 3.9 0-2.5 .1 3.6 0-2.1 0 2.6 .1-2.2 0 3.7 0-1.8 .1 2.4 0-1.1 0 2.8 .1-2.2 0 2.5 .1-.2 0 1.5 0-.5 .1 1.6 0-.6 0 2.4 .1-2.3 0 4 0-2.3 .1 2.7 0-1.2 0 2.5 .1-1.1 0 1.8 .1-.4 0 1.6 0-.2 .1 2.1 0-.9 0 2.8 0-1.8 .1 1.9 0-2.1 0 3.7 0-1 0 2 .1-1.9 0 3.7 0-2 0 3.5 .1-3.2 0 3.1 0-.5 0 2.5 .1-1.2 0 3 0-2 0 1.8 0-.4 .1 2 0-.5 0 1.7 0-1.4 .1 2.1 0-.1 0 1.2 0 .2 0 2.1 .1-1.8 0 3.5 0-1.7 0 1.8 .1-.4 0 3 0-2.6 0 2.4 0-1.2 .1 3.4 0-1.8 .1 1.6 0-1.2 .1 3.3 0-2.5 0 3.1 .1-.7 0 1.8 .1-1.9 0 3.2 .1-.5 0 1.6 .1-1 0 2.2 .1-1 0 1.8 0-1.1 .1 2 0-.7 .1 3 .1-1.4 0 2 .1-1 .1 4.1 .1-4.2 0 4 .1-2.1 .1 3.2 .1-2.5 0 4.2 .1-1.2 0 .6 0-1.6 .1 .5 0-2.2 0 .8 .1-2 0 .2 0-2 0 1 .1-1.2 0 .3 0-1.8 .1 1.4 0-2.7 0 1 0-2.3 .1 1.7 0-2.4 0 .3 0-2.3 .1 1.3 0-1.4 .1-1.5 0 .7 0-2.6 0 .9 .1-3.6 0 2.8 0-2.5 .1 1.1 0-2.6 0 1 0-1.6 .1 1.6 0-2.4 0 .7 0-1.7 0 1.2 .1-2.8 0 1.9 0-3.7 0 1.7 0-1.9 .1 .1 0-1.7 0 .7 0-2.3 .1 1.7 0-3.3 0 1.8 0-2 .1 .1 0-1.9 0 1.3 0-2.5 0 1.5 .1-2.4 0 1.2 0-2.6 0 1.2 0-2.9 .1 1.7 0-1.7 0 .9 0-3.6 .1 2.6 0-3.3 0 2 0-3.2 .1 2.1 0-3.6 0 2.1 .1-2.6 0 1 0-1.7 .1 .5 0-1.7 0-.1 .1-1.2 0 .5 0-1.7 .1 .9 0-2.8 .1 1 0-1.3 0 .7 .1-2.6 0 1.3 .1-3.4 0 1.9 0-2.3 .1 .6 0-1.5 0 1.1 .1-1.3 0 1.8 0-.9 .1 3 0-1.3 .1 1.4 0-.6 0 3.4 .1-2.4 0 2.2 0-.8 .1 2.2 0-.2 0 2.1 .1-1.7 0 3.8 0-2.2 .1 4.4 0-4.9 .1 4.9 0-3.7 0 4 .1-1.2 0 4.4 0-3.3 .1 2 0-.2 0 1.8 0-1.7 .1 3.2 0-1.9 0 2.9 .1-1.2 0 3.3 0-3 .1 3.9 0-3.1 0 3.8 .1-3.4 0 5.4 0-1.6 0 2.4 .1-1.4 0 2.3 0-.9 .1 1.6 0-.9 0 3.7 .1-2.5 0 1.8 0 .1 .1 1.7 0-.2 0 1.5 .1-1.6 0 2.8 0-1.7 .1 3.1 0-1.1 0 2.1 .1-1.5 0 3.1 .1-.8 0 2.1 0-.8 .1 1.2 0-.8 0 1.7 .1-1.7 0 3.9 0-1.6 .1 2 0 1.9 .1-1.4 0 3.7 .1-1.7 0 2 .1-1.1 0 1.4 .1-1.7 0 2.8 .1 .1 .1 1.3 0-1.5 .1 3.1 0-.6 .1 1.7 .1-.3 0 1.4 .1-.4 0 1 .1-1.1 .1 .7 .1-1.7 .1-.3 .1-1.6 .1 .5 .1-1.5 0 .7 .1-1.7 .1 .4 0-1.7 .1 .9 0-1.8 .1 .7 0-2.7 .1 1.6 0-1.9 .1 0 0-1.5 0 .2 .1-1.1 0 2.6 .1-4 0 1 .1-1.9 0 1.1 .1-2.8 0 1.3 0-3.4 .1 3.2 0-5.3 .1 3.1 0-2.6 .1 1.1 0-2.1 0 1.6 .1-2.3 0 .4 .1-2.5 0 1.4 .1-1.5 0 1.5 .1-3.2 0 1.7 0-2.8 .1 1.5 0-2.8 .1 1.5 0-2.6 .1 1.4 .1-2.4 0 .7 .1-2 .1 .9 .1-1.6 .1 .9 .1-1.8 .1 1.7 0-3.2 .1 1.1 .1-.8 0 2 .1-1.4 0 1.6 .1-.9 0 2.6 0-.7 .1 1.4 0-.4 .1 2.2 0-1.5 .1 2.1 0-.4 0 1.7 .1-1.3 0 2.5 .1-.2 0 1.2 .1-.2 0 2.3 0-.9 .1 1.9 0-1 0 2.7 .1-1.2 0 2.8 0-1.7 .1 1.9 0-.8 0 2.4 0-1.7 .1 2.4 0-3.5 0 4.7 .1-2 0 2.9 0-1.6 .1 3.6 0-1.6 0 2.6 0-1.5 .1 2.1 0-.5 0 1.9 .1-.9 0 1.5 0-1.5 .1 2.6 0-1.5 0 3.6 .1-1.1 0 2.3 0-1.5 .1 2.2 0-1.1 0 2.2 .1-.5 0 2.1 0-.2 .1 1.6 0-1.4 0 2.4 .1-.9 0 1.8 0-1.8 .1 2.7 0-2.5 0 1.7 .1-2.5 0 .9 0-2.6 .1 2.5 0-4.1 0 2 .1-3 0 2.1 0-2.9 .1 1.2 0-1.7 0 .6 .1-2 0 1 0-1.6 .1 .4 0-1.4 0 1 0-2 .1 1.6 0-3.4 .1 .9 0-1.9 0 2.4 .1-3.8 0 1.2 0-1.9 .1 .4 0-1.3 .1-.1 0-1.1 0 1 .1-2.3 0 .8 .1-4 0 3 .1-3.6 0 2.3 .1-2.3 0 .9 0-2.8 .1 1.8 0-2.9 .1 1.4 0-1.9 .1 1.1 0-1.9 .1 .2 0-2 0 1.5 .1-2.6 0 1.6 .1-4.7 0 3 .1-3.2 0 2.1 0-2.9 .1 1.5 0-1.3 .1 .3 0-1.9 .1 1.9 0-3.4 .1 1 0-3.1 .1 1.4 .1-1.7 .1 1.4 .1-2.9 0 2.2 .1-3 .1 1.4 .1-2.1 .1 .8 .1-2.9 0 2.7 0-1.5 0 2.2 .1-.1 0 1.7 0-1.2 0 3.3 0-3 .1 3.2 0-1.6 0 2.3 0-.1 .1 2.2 0-1.1 0 1.8 0-.9 .1 3.9 0-2.4 0 3.2 0-1.6 0 1.4 .1-.7 0 1.7 0-.1 0 1.6 .1-.8 0 2.3 0-.3 0 .8 0 .2 .1 1.8 0-1.7 0 2.3 0-1.2 .1 2.7 0-1.2 0 2.2 0-2.2 .1 3.6 0-1.5 0 2.4 0-.9 .1 2 0-1.2 0 2.6 0-.6 .1 2.7 0-.9 0 1.9 0-1.6 .1 3.4 0-1.8 0 2 .1-.8 0 1.4 0-.6 0 2 .1-1.4 0 2.6 0-.7 0 1.4 .1-1 0 1.3 0-2.7 0 .3 0-2.2 0 1.9 0-2.8 .1 1.3 0-1.6 0 .5 0-2.4 0 .5 0-1.8 0 1.7 .1-2.2 0 .8 0-1.8 0 .6 0-2.2 0 1 .1-2.2 0 .5 0-2.1 0 .8 0-3.1 0 2.6 .1-4 0 2.9 0-2.7 0 .7 0-2.4 0 1.1 .1-2.4 0 1.2 0-3.8 0 3.2 0-2.5 0 1.5 .1-3.4 0 2.9 0-3.9 0 3.2 0-3.6 0 .2 .1-1.7 0 1 0-1.4 0 .6 0-1.5 .1 .7 0-2.6 0 2 0-2.7 0 .3 0-2.4 .1 1.6 0-2.3 0 .8 0-2.8 0 1.7 .1-2.7 0 1.2 0-2.3 0 .7 0-.9 0 .4 0-1.6 .1-.1 0-1.3 0 1.5 0-2.7 0 .8 .1-2.6 0 1.3 0-3.4 0 3.1 0-3.1 0 1.6 .1-2.2 0 .3 0-2 0 1.4 0-2.5 .1 .4 0-1.8 0 .4 0-1.5 .1 1.8 0-3.3 0 .9 0-1.8 .1 1.1 0-3.3 0 1.6 .1-3.1 0 2.3 0-2.3 .1 .7 0-1.3 0 .2 .1-2.3 0 1.9 0-2.3 0 1.7 .1-3.6 0 1.6 0-3.3 .1 2.2 0-2.7 0 .2 0-1.3 .1 1.4 0-2.7 0 2.3 .1-3.3 .1 2 .1-1.4 0 2.1 .1-.6 .1 1.9" clip-path="url(#cf)" stroke="#ff00ff" stroke-width="2.5" fill="none" stroke-linejoin="miter" stroke-miterlimit="2" stroke-linecap="butt"/>
<path d="M399.8 878.3l0 .7 .1-1.5 0 .6 0-2.6 .1 1.5 0-3.8 .1 2.7 0-2.9 .1 .9 0-1.4 .1 .9 0-2.6 .3 1.7 .3-2.5 .3 .6 .2-.8 .2 2.3 .1-2.2 .2 3.5 .2-1.1 .1 3.1 .1-1 .1 1.7 0-.6 .1 1.4 .1-.3 .1 1.1 .1-.7 .1 3.1 .1-2.3 .1 2.6 .2-3.1 .2 .4 .2-2.6 .1 1.8 .2-2.5 .2 1.5 .2-1.9 .1 .4 .2-1.6 .3 .5 .3-1.3 .3 .2 .1-.4 .1 1.4 .2 .4 .1 1.1 .1 .1 .1 1.2 .2-.1 .1 1.7 .1-.4 .1 1.3 .2-.1 .1 2.7 .1-1.7 .1 2.1 .1-2.4 .1 2.3 0-4.7 .1 2.6 0-3 .1 2.1 .1-3.8 0 2.9 .1-2.3 0 .8 .1-3.4 0 2 .1-3.3 .1 2.4 0-2.8 .1 1.7 .1-2.6 0 1.7 .1-2.8 .1 3.2 0-4.6 .1 .4 .1-3.1 .1 1.6 0-3 .1 1.7 .1-1.3 .1 .2 .1-1 .2-.1 .1-3.1 .1 1.7 .1-1.2 .2 .3 .1-2.6 .2 2.1 .2-2.3 .2 .9 .2-1.8 .2 1.7 .3-.7 .3 2.5 .1-1.4 0 1 .1 0 0 1.8 0-1.1 .1 2.2 0-.4 .1 1.8 0-.7 .1 2 0-3.4 0 4 .1-.2 0 1.5 .1-1.5 0 3 .1-3.2 0 3.6 .1-1.6 0 3 0-1.7 .1 .5 .1-2.3 0 2.4 0-3.7 .1 2 0-2.5 .1 .9 0-1.7 .1 .1 0-2.2 .1 1 0-1.3 0 .5 0-2.4 .1 1 0-2.3 0 1 .1-2.6 0 1.9 0-3.4 0 2.2 0-2.8 .1 .6 0-1.3 0 .8 .1-1.8 0 .3 0-1.4 0-.4 0-3.1 .1 2.3 0-1.9 0 .8 .1-3.8 0 2.7 0-2.9 0 1.9 0-1.9 0 1.2 .1-3.5 0 2.1 0-3.7 0 2.1 0-2 0 .8 .1-1.8 0 .2 0-1.3 0 1.6 0-3.1 0 .9 .1-2 0 1.1 0-2.3 0 .7 0-2.2 0 1.5 .1-4.9 0 3.2 0-2.3 0 1.3 0-3.5 0 1.6 .1-2 0 .8 0-1.8 0 .6 0-1.8 .1 .8 0-1.5 0 .9 0-2 0 .3 .1-1.9 0 .6 0-1.4 .1 .3 0-3.7 0 2.7 0-1.6 .1 0 0-1.7 0 .5 0-2.4 .1 .9 0-1.3 0 .1 0-1.8 .1 1.7 0-2.6 0 1.1 0-3.8 .1 3.4 0-3.9 0 2.5 .1-2.5 0 .5 0-2.5 0 1 0-3.5 .1 2 0-1.7 0 1.5 .1-3.6 0 1.7 0-1.2 .1-.3 0-1.4 0 .9 0-2.5 .1 .7 0-1.3 0 1.5 .1-3.2 0 .8 0-2.2 .1 1 0-3.4 0 1.7 .1-1.4 0 1.6 0-2.3 0 .8 0-2.6 .1 .1 0-3.5 0 2.5 0-2.4 0 1.3 0-1.2 0 .4 0-1.9 0 .6 0-3.6 .1 2.6 0-3.1 0 1.4 0-1.2 0-.1 0-1.4 0 .4 .1-2.6 0 1.5 0-1.8 0 1.3 0-1.9 0 1.1 0-3.5 0 2.2 0-2.2 0 .4 .1-1.6 0 1.4 0-3.4 0 1.4 0-2.6 0 .6 0-1 0 .1 .1-1.5 0 .8 0-2 0 1.3 0-4.5 0 2.6 0-2.3 0 1.4 .1-2.6 0 1 0-2.2 0 1.1 0-2.3 0 1.1 0-2 0 .7 .1-1.7 0 .7 0-2 0 1.7 0-3.2 0 .9 .1-2 0 .3 0-1.2 0 .1 0-2.9 0 2.1 0-2.6 .1 1.1 0-3.4 0 3.2 0-2.4 0 .6 0-2.2 .1 .6 0-1.9 0 .8 0-2.4 0 1.9 0-2.5 0 .9 .1-2.1 0 1.2 0-2.6 0 .7 0-1.2 0-2.1 .1 1.2 0-1.3 0 1.3 0-2.5 0 4 0-1.9 0 2.8 0-2.7 0 4.3 0-.5 0 1.9 0-.9 0 2.3 0-1.2 0 2.2 0-.9 0 3.8 0-3.3 .1 3 0-3.1 0 3.2 0-1.3 0 3.4 0-1.1 0 2.4 0-2.1 0 2.8 0-.6 0 2.3 0-1.1 0 1.9 0-1 0 1.8 0-.6 0 1.3 0-.1 0 2.2 0-.5 0 1 0 .3 0 .9 0-.5 0 1.9 0-.7 0 2.2 0-1.9 .1 3.5 0-1.9 0 2.7 0-1.3 0 2 0-.9 0 2.3 0-.6 0 2 0-.7 0 1.5 0-.4 0 1.6 0-.9 0 2.1 0-1 0 2.7 0-.5 0 1.1 0-1 0 2.9 0-1.6 0 4.2 0-2.6 0 3.2 .1-1.2 0 1.8 0-.7 0 1.6 0-2 0 .7 0-2 0 1.2 0-2.7 0 .7 0-1.4 0 .3 0-1.7 0 .6 0-1.8 0 1.1 0-2.9 0 2.5 0-3.3 0 1.4 .1-3.6 0 1.8 0-1.3 0 .4 0-1.9 0 .3 0-1.7 0 .4 0-2 0 1.1 0-2.3 0 1.2 0-2.1 0 1.4 0-3.1 0 1.1 0-1.6 0 .6 0-1.4 0 1 0-3.1 0 1.8 0-3.4 0 1.8 .1-3.1 0 2.3 0-2.9 0 1.5 0-2.2 0-1.6 0 2.3 0-3.4 0 .6 0-1.2 0-.1 0-1.4 0 .2 0-2.2 0 1.1 0-1.6 0 .9 0-2.3 .1 1.7 0-2.3 0 .7 0-2.6 0 1.8 0-1.2 0 2.2 0-1.6 0 2.9 0-.9 0 3.7 0-2.8 0 3.6 0-1.5 0 1.6 0-.4 0 3 0-2.5 .1 2.8 0-1.6 0 2.6 0-.7 0 2.3 0-1.3 0 1.9 0-.8 0 2.6 0-1.4 0 2.8 0-1.3 0 2.1 0-1 .1 2.5 0-.9 0 3.6 0-2.5 0 1.5 0-.4 0 2.2 0-.6 0 1.9 0-1.1 0 2.3 0-.9 0 2 0-1.6 0 2.6 0-.5 .1 2.3 0-1.5 0 2.8 0-1.3 0 2 0-1.1 0 3.3 0-1.7 0 1.8 0-1.5 0 2 0-.2 0 1.6 0-.4 0 1.6 0-.1 0 1.6 .1-1 0 2.3 0-.4 0 1.7 0-.7 0 1.4 0-.3 0-1.7 0 1.8 0-3 0 1.2 0-2.5 0 1.2 0-2.6 0 2.5 0-3.2 0 1.6 0-3.8 0 3.3 0-3.4 .1 .6 0-3.7 0 2.5 0-2.1 0 1.6 0-3.4 0 1.8 0-2.2 0 1.4 0-3.1 0 1.4 0-1.7 0 1.9 0-3 0 2 0-4.1 0 2.6 0-3.1 0 .6 0-1.3 0 .2 0-2.3 0 1.5 0-1.9 0 .2 0-1.3 0-1.5 0 1.6 0-4.1 0 1.8 0-1.7 0 .1 0-2.1 0 .8 .1-1.6 0 3.3 0-.7 0 1.5 0 .1 0 1.9 0-1.3 0 2.2 0-.5 0 2.1 0-2.3 0 3.3 0-.5 .1 1.3 0-.6 0 1.6 0-.2 0 1.1 0-.2 0 1.6 0-.2 0 1.2 0 1.4 .1 0 0 1 0-.2 0 1.8 0-.7 0 2.2 0-1.1 0 2.1 0-.1 0 1.6 0-.7 0 1.2 0-1.2 0 3.2 .1-2.2 0 2.9 0-1.3 0 2 0-.3 0 1.5 0-.2 0 1.8 0-.4 0 1.7 0-1 .1 2.4 0-2.4 0 3.2 0-1.3 0 2.6 0-1.7 0 1.2 0-3.5 0 1.7 0-1.7 0 .1 0-2.2 0 1.2 .1-1.3 0 .7 0-2.1 0 2 0-3.7 0 .9 0-3 0 2.4 0-3.7 0 2.4 .1-2.1 0 .9 0-2.3 0 1 0-2.7 0 1.6 0-3.3 0 2.1 0-3.7 0 2.2 0-1.8 .1 .6 0-2.4 0 1.2 0-1.8 0 1.2 0-2.2 0 1.2 0-3 0 .7 0-2 0 1.4 0-1.7 .1 1.3 0-2.5 0 .1 0-3.1 0 1.8 0-1.4 0 .3 0-1.4 .2 0 .1-2.4 0 2.8 0-1.4 0 2.5 0-.8 0 1.8 .1-.7 0 1.7 0-.7 0 1.9 0-.8 0 3.1 0-2.3 0 2.4 0-.1 0 1.6 0-2 0 3.3 0-.9 0 1.8 0 1.4 0-.3 .1 1.2 0-.2 0 2.2 0-1.4 0 2.4 0-.9 0 2.4 0-1.1 0 1.3 0-.5 0 2.4 0-1 0 2.2 0-.5 .1 1 0 1.7 0-1.3 0 2.7 0-1.4 0 1.9 0-.6 0 1.7 0-.6 0 .7 0-1.9 0 1.9 0-3.3 0 1.5 0-3 0 1.3 0-2 0 2.2 .1-2.9 0 1.5 0-2.6 0 2 0-3.4 0 2 0-3 0 1 0-2.3 0 1.3 0-3.5 0 2.3 0-2.4 0 .7 0-1.6 0-2.2 0 2 0-3.6 .1 2.5 0-4 0 2 0-1.7 0 .1 0-1.8 0 .6 0-1.6 0 .6 0-3.4 0 2.4 0-3.2 0 1.6 0-2.3 0 1.4 0-1.8 0 .3 0-1.8 0 .5 0-2.3 0 2.8 0-3.5 .1 .9 0-2.3 0 1.8 0-2.4 0 1.2 0-2.9 0 1.7 0-1.9 0 .4 0-1.9 0 .2 0-2.4 0 3 .1-1.9 0 3.4 0-2.8 .1 3.9 0-2 0 3.2 .1-1.1 0 2.1 0-1 0 3.6 .1-2.7 0 2 .1-.6 0 1.8 0-.4 0 1.9 .1-.4 0 1.9 0-1.6 0 2.7 0-.3 0 1.4 0-.7 0 1.8 0-1.3 0 2 0-.8 0 1.9 0-.2 .1 3.2 0-1.7 0 2.1 0-1.5 0 3 0-1.3 0 2.5 0-1.3 0 2.2 0-.8 0 1.5 0-.4 0 1.8 0-.6 0 3 0-3.2 0 2.9 0-1.8 0 4.6 0-3.7 .1 4.5 0-2.5 0 2.2 0-.5 0 1.6 0-2.2 0 4.3 0-2.4 0 4.8 0-3.8 0 3.9 0-1.2 0 2.7 0-2.3 0 3 0-1.9 0 2.7 .1-1.8 0 3.9 0-2 0 2.4 0-.5 0 .8 0-2.7 0 2.5 0-3.5 0 1.3 0-3.7 0 2.5 0-2.5 0 .3 .1-1.3 0 .2 0-2.2 0 1.1 0-1.5 0 1.1 0-2.3 0 .8 0-2.8 0 1 0-1.1 0 .1 0-1.8 0 3 0-4.8 .1 1 0-1.8 0 1.4 0-2.4 0 1.5 0-3.3 0 1.3 0-2 0 .9 0-1.5 0 .2 .1-1.6 0 1.7 0-2.9 0 .6 0-1 0 1.8 .1 2.1 0-1.1 0 1.9 0-.6 .1 1.7 0-1 0 2 0-.3 .1 1.5 0-1.1 0 3.6 0-1.8 .1 2.6 0-3.2 0 4.2 0-1.6 .1 3.2 0-1.6 0 3.3 0-1.7 0 2.2 .1-1.5 0 3.4 0-2.8 .1 2.8 0-1.9 0 3.8 0-1.4 0 3.1 .1-3.8 0 5.5 0-3 0 2.8 .1-2.1 0 3.1 0-2 0 3.1 .1 0 0 1.1 0-.2 0 1.3 .1-1.4 0 3.4 0-1.5 0 2.3 .1-.9 0 1.7 .1-.9 0 1.9 0-.4 .1 1.9 0-1.5 0 3.8 .1-2.3 0 3 .1-.8 0 2.1 0-1.5 .1 2.5 0-2.1 .3 2 .3-2.2 .3 1.5 0-2.3 0 .1 0-.9 0-.2 .1-1 0 .8 0-2.1 0-.2 0-1.1 0 1 0-2.2 0 1.1 .1-2.3 0-2.8 0 1.7 0-1.3 0-.1 0-1.9 0 1.4 .1-4 0 2.6 0-1.9 0 .4 0-1.4 0 1 0-3 .1 2 0-3.2 0 1.1 0-1.8 0 2 0-3.2 0 1.5 0-3.1 0 1.6 .1-2 0 .2 0-3.2 0 2 0-1.9 0 .5 0-1.7 0 .5 .1-2.2 0 2.9 0-2.2 0 1.4 0-.6 0 1.9 0-.9 .1 4.2 0-2.9 0 2.3 0-1.1 0 2.1 0-1.4 0 2.5 0-.4 0 1.8 0-.2 .1 1.6 0-.8 0 2.6 0-1.3 0 2.3 0-1.2 0 2.2 0-1.7 .1 2.9 0-2.6 0 4.2 0-2.4 0 4.6 0-2.9 0 2.2 0-.5 0 3.2 0-3 .1 3 0-1.4 0 2.6 0-1.5 0 3.1 0-2 0 1.3 .1-1.8 0 1.3 0-3.5 0 1.8 0-2.1 0 1.4 0-3.8 .1 3.8 0-4.7 0 3.1 0-3.1 0-2.2 0 1.4 .1-1.8 0 1.2 0-3.2 0 1.1 0-2.2 0 1.1 .1-1.8 0 .8 0-1.9 0 .3 0-1.7 0 2.3 0-3.5 0 1.8 .1-2.4 0 3.4 0-2.3 0 3.3 0-2.1 .1 3.2 0-1.9 0 3.2 0-1.1 0 1.5 .1 0 0 2 0-.8 0 1.9 0-.9 0 2.1 .1-.8 0 2.3 0-1.7 0 2.9 0-2.1 .1 2.3 0-1.3 0 2.3 0-1.8 0 1.8 0-2.3 0 .9 0-2 .1 .6 0-3.2 0 2.5 0-2.2 0 .6 0-1.8 0 1.7 0-3 .1 1.1 0-2.9 0 .8 0-1.5 0 1 0-2.4 0 2.2 0-3.4 0 1.5 .1-3.3 0 1 0-2.4 0 1.3 0-3.1 0 2.1 0-2.7 0 1.9 0-3.9 0 2.3 .1-2.6 0 1.8 0-2.2 0 .6 0-1.3 0-.2 0-1.3 0 2 .1-1.1 0 1.7 0-1 0 1.9 0 .2 0 2.6 0-2.1 0 2.9 .1-1.4 0 2.2 0-.7 0 2 0-.9 0 1.9 0-.3 0 1.2 .1-1.2 0 2.1 0-.4 0 1.6 0 1.2 .1 2.5 0-1.3 0 1.2 0-.3 0 2.9 0-1.8 0 2.8 0-2.8 .1 3.7 0-1.6 0 1.3 0-1.7 0 .4 0-1.5 0 .2 0-1.8 0 .5 .1-2.4 0 1.3 0-1.6 0 1.6 0-2.8 0 .6 0-1.6 0 2.3 0-4.4 0 1.9 0-2.8 .1 2 0-2.7 0 .3 0-1.3 0 .4 0-1.5 0 .1 0-2.5 0 1.3 .1-2 0 .6 0-1.1 0-.2 0-2 0 .7 0-2.5 0 2.5 0-2.3 0 .9 .1-2.1 0 .9 0-2.6 0 1.7 0-4.4 0 2.3 0-2.9 0 2.9 0-.4 0 2 0-2 .1 3.2 0-2.5 0 2.9 0-.9 0 2.2 0-1.3 0 2.6 0-1.5 .1 2.4 0-.7 0 3.9 0-2.5 0 2.7 0-.9 0 1.4 0-.1 0 1.3 0-.6 .1 2.3 0-2.5 0 3.9 0-1 0 2 0-1 0 2.6 0-1.6 0 2.4 .1-1.8 0 3.1 0-1.2 0 3 0-2 0 2.8 0-1.1 0 1.6 .1-2.8 0 2.2 0-2.4 0 .4 0-1 0-2.1 0 .8 0-2.7 0 1.3 0-2.2 0 2.4 0-2.5 .1 .5 0-2 0 1.4 0-2.5 0 .5 0-1.9 0 1.5 0-2.9 0 1.5 0-2.3 .1 .6 0-1.3 0-.2 0-1.1 0 .4 0-2.6 0 1.5 0-2.9 0 1.1 0-1.1 0 1 0-2.8 0 2.1 .1-3.4 0 .7 0-2.4 0 1.1 0-2.5 0 1.2 0-1.8 0 1.9 0-3.2 0 1.1 .1-2.6 0 2.2 0-3.2 0 1.7 0-2.3 0 1.5 .1-.4 0 1.7 0-.5 0 1.5 .1 0 0 1.1 .1 0 0 1.7 0-.6 .1 1.7 0-.9 0 1.6 .1 .1 0 1.5 0-.3 .1 1.9 0-1.5 0 2.8 0-.7 0 1.9 .1-.7 0 2.2 0-1.9 0 3 0-1.4 .1 2.1 0-.5 0 2.1 0-.8 0 3 .1-2.4 0 2.1 0-2.5 0 3.6 .1-1.6 0 3 0-.3 0 2.8 0-1.9 .1 1.7 0-.6 0 1.7 0-2 0 4 0-1.1 .1 1.3 0-2.6 0 .8 0-1.7 0 1 0-2.7 0 2.4 0-3.3 .1 1.2 0-2.9 0 .7 0-2 0 .8 0-2.4 0 2.8 0-3.9 0 1.2 .1-1.7 0 1.1 0-2.1 0 .9 0-2.1 0 .3 0-1.6 0 .5 .1-2 0 .6 0-1.1 0 .2 0-1.7 0 1.1 0-1.8 0-.3 .1-1.6 0 1 0-2.6 0 3.3 0-3.7 0 .7 0-2.4 0 1.1 0-1.4 .1-.2 0-1.1 0 .1 0-1.2 0 .2 0-1.9 0 .6 0-.1 .1 1.7 0-.8 0 2.2 0-1.2 0 2.6 0-1.5 0 2.3 0-.6 0 2 0-.6 .1 2 0-1.4 0 2.7 0-1.3 0 1.3 0 1.4 0-.8 .1 2.4 0-2.2 0 3.6 0-1.6 0 2.1 0-1.1 0 2.9 0-.7 .1 2.7 0-1.5 0 1.3 0-.3 0 1.2 0-1.4 0 2.7 0-.6 0 2.3 0-.4 .1 1.8 0-1.4 0 1.6 0-2.5 0 .6 0-2 0 .9 0-2.5 0 1.1 0-1.5 .1 2.4 0-3.7 0 .4 0-2.1 0 1.8 0-3.9 0 2.1 0-4 0 3.6 0-2.9 0 1.4 0-1.9 0 .7 .1-2.8 0 1.1 0-2.2 0 .8 0-2.2 0 1.6 0-3 0 2.1 0-2.6 0 1.7 0-3.1 0 .3 .1-1.9 0 1.2 0-2.3 0 1.2 0-4.3 0 4.5 0-5.8 0 3 0-1.4 0 1.1 .1-2.1 0 1.4 0-4.6 0 2.5 0-3.4 0 1.8 0-1.2 0 1.9 0-2.3 0 2.2 0-1.5 0 3.4 .1-2.2 0 3.5 0-2.8 0 2.7 0-.8 0 1.5 0-.6 0 2 0-.8 0 2.7 .1-2 0 3.3 0-.9 0 1.2 0-.3 0 1.5 0-.3 0 1.4 0-.1 0 2.9 0-2.5 .1 3.4 0-2.1 0 2.8 0-1.4 0 2.6 0-1.5 0 3.2 0-1.8 0 2.6 0-1.6 .1 2.8 0-.9 0 1.6 0 .1 0 1.2 0-.4 0 2 0-1.3 0 1.8 0 .1 .1 1.8 0-2.1 0 2 0-4 0 1.1 0-2.7 0 2.1 0-2.5 0 .8 0-1.8 0 1.1 .1-2 0 .6 0-1.3 0-.4 0-2 0 .8 0-1.2 0 .5 0-1.5 .1 .9 0-2.8 0 2.1 0-3.6 0 1.3 0-2.2 0 2 0-2.9 0 2 0-3 0 1.4 0-3.6 .1 2.7 0-3.4 0 1.1 0-1.5 0-.2 0-.9 0 .8 0-2.2 0 .6 0-2.4 .1 .6 0-1.3 0 .6 0-1.2 0 2 0-.9 .1 1.9 0-.8 0 3.9 0-1.9 0 2 0-.7 0 1.5 .1-1 0 2.6 0-1.1 0 2.3 0-1.6 .1 3.2 0-1.3 0 1.6 0-.2 0 2 0-.9 .1 1.7 0-1.6 0 2.5 0-1 0 3.2 .1-.8 0 2.5 0-2.7 0 2.8 0-1.5 0 3.2 .1-3.3 0 4.9 0-1.7 0 1.8 .1-.5 0 1.9 0-.5 .1 1.3 0-.3 0 2.5 0-1.5 .1 2.2 0-.9 0 3.6 .1-2.7 0 3.5 0-2.3 .1 3 0-1 0 1.9 0-2.7 .1 2.6 0-3 0 1.6 0-1.6 .1 .7 0-2 0 .6 0-1.8 0 .7 0-1.8 .1 1.4 0-2.8 0 .2 0-1.6 .1 .9 0-2.3 0 .6 0-3 0 3.9 .1-4.2 0 1.1 0-1.7 0 .7 0-2.7 .1 2.2 0-4.3 0 2.7 0-4.1 0 3.6 .1-3.1 0 1 0-2.2 0 .4 0-1.2 0 .9 .1-2.3 0 1.2 0-1.9 0 .4 0-1.9 .1-1.9 0 1.6 0-2 0 .6 0-2.3 .1 .9 0-1.5 0 .6 0-2.4 0 1.4 0-2.3 0 1.1 .1-3.3 0 1.6 0-3.2 0 1.7 0-1.4 .1 .1 0-1.2 0-.2 0-1.4 0 .8 .1-1.7 0-1.3 .1 .6 0-2 .1 1.4 0-1.9 0 .5 .1-3.7 0 2.7 .1-1.8 0-.1 0-1.3 .1 .2 0-2 0 .7 0-2.3 0 2.3 .1-2.8 0 .4 0-1.5 0 .7 0-1.9 .1 .1 0-2.7 0 1.6 0-1.5 0 1.2 0-2 0 1.3 .1-4.6 0 2.2 0-2.1 0 1.3 0-2 0 .3 .1-1.7 0-1.4 0 3.4 0-4.5 0 1 .1-2.7 0 1 0-2.3 0 1.6 0-1.9 0 1.5 .1-2.7 0 .5 0-2.5 0 1 0-1.7 0 .7 .1-2.6 0 1.5 0-2.5 0 1.1 0-1.9 0 .2 0-1.4 .1 .7 0-1.8 0 1.1 0-2.4 0 .9 0-1.7 .1 1 0-2.8 0 .8 0-1.4 0-1.1 0 .3 .1-2.3 0 1.5 0-2.6 0 1.2 0-4.1 0 3.3 .1-2.9 0 .7 0-2.1 0 2.3 0-3.6 0 2.7 .1-3.6 0 2.5 0-3.8 0 1.2 .1-2.1 0 1.5 .1-1.9 0 .9 0-2.4 .1 1.3 0-2.2 0 .4 .1-2.4 0 .6 .1-1.8 0 .6 0-2.7 .1 1.4 0-.7 0 2 0-.2 0 1.7 0-.4 .1 2.9 0-1.9 0 3.1 0-1.7 0 2.3 0-.8 0 2 0-1.2 .1 2.7 0-2 0 2.6 0-.1 0 1.4 0-.6 0 2.3 .1-2.3 0 5.8 0-4.2 0 2.3 0-2 0 4.9 .1-2.7 0 2.7 0-1.3 0 2.3 0-2 0 1.4 .1-3.6 0 2 0-1.8 0 .8 .1-2 0 2 0-3.6 0 1.3 0-2.2 .1 0 0-2.1 0 .7 0-2.4 .1 2 0-2.5 0 1.7 0-2.9 .1 3.1 0-1.6 0 2 .1-1.1 0 2.1 0-.5 .1 1.8 0-2.9 0 4.8 .1-2.5 0 3.8 0-1.2 .1 1.4 0-.2 .1 1.4 0-.7 0 3 0-3.3 .1 .5 0-1.9 0 2.2 .1-3.3 0 1.7 0-2.5 0 .5 0-1.1 .1 .8 0-2.3 0 1.8 .1-3.5 0 2.1 0-2.7 0 1.4 .1-3.5 0 1.2 0-2.2 0 1 0-2.5 .1 1 0-1.3 .1 1.2 0-.7 .1 2.4 0-1.9 .1 2.5 0-.9 .1 2.4 0-1.1 .1 3 0-.8 .1 2.3 0-1.5 0 2.6 0-1.1 .1 2 0-.8 0 1.6 .1-1.1 0 2.8 0-2 0 3.1 .1-.8 0 2.3 0-1.5 0 3.3 0-2 .1 2.3 0-1 0 2.1 .1-.7 0 2.5 0-2.2 0 3.2 0-1.1 .1 2 0-.4 0 1.7 .1-1.2 0 2.3 .1-.6 0 2.6 0-1.5 .1 1.2 0-1 .1 3.2 0-2.4 0 3.6 .1-1.4 0 2.4 .1-.7 0 1.6 0-.3 .1 3 0-2.1 0 1.7 .1-.9 0 2.3 0-.5 .1 1.8 0-1 0 2 .1-2.2 0 5.1 0-3.6 .1 2.6 0-.9 0 3.3 .1-3.1 0 2.9 0-1.2 0 2.8 .1-1.7 0 4 0-1.8 .1 4 0-3.4 0 3.5 0-1.5 .1 2 0-2.6 0 5 0-1.9 .1 2.3 0-.9 0 2.5 0-1.5 .1 2.5 0-1.4 0 3.2 0-2.3 .1 1.9 0-.3 0 1.9 0-.7 .1 2.2 0-1.3 0 2.1 0-.8 .1 2.5 0-.9 0 1.7 0-.9 .1 1.9 0-1 0 2.8 0-1.7 .1 2.3 0-1.1 0 2 0-.9 0 3 .1-2.3 0 3.2 0-.9 0 2.9 .1-1.1 0 1.7 0-.6 0 2.3 0-2.4 0 4.1 .1-2.2 0 2.5 0-2 0 2.6 0-.8 0 2.5 .1-1.7 0 2.2 0-.3 0 1.8 0-1.1 .1 2.5 0-1.7 0 3.8 0-3.5 0 4.5 0-2.3 0 3.8 .1-1.5 0 2.7 0-1.3 0 2.5 0-1.9 .1 3.3 0-2.4 0 2.7 0-2.1 0 1.2 0-3.3 0 3.3 0-3.9 .1 .7 0-1.5 0 .6 0-2.1 0 .8 0-1.8 0 .8 .1-2.6 0 1.2 0-2.5 0 .9 0-2.4 0 1.2 0-3.2 .1 2.9 0-2.2 0 1 0-2.4 0 .1 0-1.4 0 .9 0-3 0 1.3 .1-1.6 0 .2 0-1.2 0 .1 0-1.4 0 .9 .1-.6 0 1.7 0-1.7 0 2.7 0-.4 0 1.7 .1-.9 0 2.9 0-1.9 0 2.8 0-1.2 .1 2.2 0-.9 0 2.5 0-1.3 0 1.8 0-.7 .1 1.6 0 1.1 0-.2 0 2 0-2 .1 3.3 0-4.1 0 2.5 0-1.3 0-.1 0-1.9 0 1.1 .1-2.2 0 .8 0-2.2 0 .6 0-1.1 0 1 0-2.1 0 1.3 0-2.8 .1 .3 0-1.1 0 1.2 0-2.4 0 .8 0-2.6 0 1.8 .1-2.9 0 1.5 0-3.2 0 1.4 0-1.7 0 1.8 0-5.3 .1 3.5 0-2.9 0 1.4 0-3.9 0 2.1 .1-1.6 0 2.9 .1-1 0 2.3 .1-.8 .1 2.2 0-1.5 .1 2.2 0-.5 0 2.7 0-1.5 0 2.7 0-2.5 0 4 0-1.7 .1 2.3 0-.7 0 1.4 0-1.7 0 2.4 0-.4 .1 1.5 0-.4 0 3.1 0-2.4 0 2.5 0-.6 0 1.6 0-.4 .1 2.2 0-.9 0 2.5 0-1.3 0 2.1 0-.4 0 2 0-2.5 .1 2.7 0-1.2 0 4.4 .1-1.8 .1 3.1 0-2.6 .1 2.1 .1-1.8 0 2.7 0-1 0-.5 .1-.7 0 1.4 0-3 0 1.6 0-3.7 0 2.8 0-3.9 0 2.6 .1-3.7 0 1.5 0-1.4 0-.1 0-1.9 0 .8 0-2.4 0 1.4 0-2.8 0 2.7 .1-4.2 0 1.4 0-2.3 0 2.3 0-3.2 0 1.4 0-2.3 .1 .7 0-1.4 0 1.5 0-2.7 0 1.8 0-3.4 0 1.3 0-1.9 0 .3 0-2.9 .1 2.6 0-1.2 .1 2.2 0-1.2 .1 3.2 0-1 .1 1.8 0-.7 .1 2.8 0-1.4 0 2.2 0-2 .1 3.1 0-1.2 0 2.3 0-.9 .1 1.8 0-.2 0 1.5 0-.8 0 2.3 .1-2.2 0 2.9 0-1.3 0 2.9 .1-.6 0 2 0-1.5 0 2.4 0-1.8 .1 1.5 0-2.4 0 .7 0-2.4 0 1.9 0-3.5 0 1.8 0-2.8 0 1.3 0-1.7 0-.3 0-2.5 0 2.2 .1-3.4 0 3.2 0-3.8 0 1.8 0-3.4 0 3 0-4.2 0 3.8 0-5.4 0 1.4 0-3 0 2 .1-2 0 1.9 0-3.9 0 1.8 0-2 0 1.6 0-2.4 0 1.3 0-2.6 0 .4 0-2.5 .1 1.5 0-2 0 1.1 0-2.8 0 1.8 0-2.2 0 .2 0-1.4 0 1 0-3.5 0 1.7 0-2.5 0 2.5 .1-3.6 0 1.1 0-1.2 0 3.1 0-1.2 0 2.8 0-1 0 1.2 0-2.2 0 3.2 .1 0 0 1.3 0-1.3 0 3.5 0-2.3 0 3.2 0-1.3 0 1.6 0-1.5 0 3.5 0-1.7 .1 3.6 0-2 0 2.4 0-.6 0 1.1 0-.9 0 3 0-1.5 0 3.1 0-1.6 .1 2.6 0-1.9 0 2.5 0-1.2 0 3.2 0-1.7 0 2.5 0-2 0 2.3 0-1.3 0 3.6 .1-2.8 0 3.5 0-.9 0 2.4 0-.5 0 2.4 0-2.6 0 2 0-1.8 0 .4 .1-2.1 0 .4 0-2.2 0 2.3 0-3.8 0 2 .1-3.5 0 1.5 0-2 0 1.1 0-2.3 0 3.1 0-3.8 .1 1.8 0-3 0 .6 0-3.1 0 2.5 0-4 0 2.8 .1-2.9 0 1.3 0-1.6 0 .7 0-3.3 0 2.1 .1-1.3 0 1.8 0-.8 0 4 0-2.9 0 2.3 0-2 0 2.7 .1-1.6 0 3.1 0-.2 0 1.6 0-.4 0 2.2 0-1.3 .1 2.5 0-.6 0 1.3 0-1.8 0 2.6 0-.9 0 2 0-.4 0 3.1 .1-1.7 0 2 0-1.7 0 2.9 0-2.3 0 3.3 0-1 .1 3 0-1.1 0 1.5 0-1.6 0 .3 0-1.8 0 .8 0-1.7 0 .7 .1-2 0 1.2 0-2.4 0 .6 0-1.9 0 1 0-2.9 0 .9 0-2.3 0 2.2 .1-3.1 0 .7 0-1.2 0 .4 0-1.5 0-.1 0-2 0 .7 .1-1.3 0 .8 0-2.7 0 2.7 0-3.7 0 1.4 0-3.6 0 2.5 0-2.3 0 .7 .1-1.9 0 1.6 0-3.9 0 2.5 0-3.4 0 1.2 0-1.8 0 2 0-.9 0 2.9 .1-1.8 0 2.4 0-.8 0 2.3 0-.6 0 1.2 0-.7 0 1.9 .1-1.6 0 3 0-1 0 1.9 0-.1 0 2.1 0-1.5 0 4.8 0-3.5 0 2.1 .1-.8 0 2.3 0-.8 0 1.8 0-1.8 0 3.2 0-1 0 2.1 0-1.1 .1 2.1 0-.7 0 1.7 0-.5 0 2.4 0-1 0 2.5 0-.8 0 1.1 0-.6 .1 2.5 0-2.8 .1 1 0-1.9 0 .7 .1-2.9 0 2.6 .1-2.7 0 1.9 .1-2.7 0 .7 0-.5 0 1.6 0-.9 0 1.9 .1 0 0 1.1 0 .1 0 1.6 0-1 0 1.6 0-2.3 0 4.3 .1-2.1 0 3 0-.7 0 1.6 0-.4 0 1.5 0-1.4 .1 2.6 0-.8 0 2.4 0-1.3 0 2.3 0-.6 0 2.1 0-1 .1 2.5 0-1.4 0 2 0-.7 0 1.5 0-1 .1 3.6 0-2.4 0 3.4 0-1.4 0 1.5 0-.2 0 2.3 0-1.3 0 1.9 .1-.7 0 2.1 0-2.7 .1 1.5 0-2.8 .1 1.1 0-1.4 0 1.6 .1-4.4 0 2.2 .1-2.4 0 1 .1-1.5 0 1.6 0-2.4 .1 1.7 0-3.3 .1 .5 0-1.4 .1 1.3 0-3.2 .1 1.6 0-1.9 0 .9 .1-3.5 0 2.2 .1-3.3 0 1.6 .1-2.9 0 3.7 0-4.1 .1 1.5 0-2.8 .1 1.6 0-2.4 .1 1.2 0-2.2 0 .4 .1-1.4 0-.1 .1-1 0 .4 .1-.7 0 1.9 .1-1 0 2.2 0-1 .1 2.9 0-1.2 .1 1.5 0-.7 .1 1.9 0-1.9 .1 4.6 0-3.1 .1 3 0-1.1 0 2 .1-.8 0 2.4 .1-.9 0 2.1 .1-1.5 0 1.9 .1-.3 0 1.7 .1-.4 .1 2.4 0-1.2 .1 2.1 0-2 .1 3.5 0-1.4 .1 3.2 .1-1.7 0 1.8 .1-1 0 2 0-1.1 .1 2.3 0-.9 .1 1.6 0-.2 0 1.3 .1 0 0 2.2 .1-.9 0 2.1 0-1.2 .1 2.6 0-1.8 0 2.8 .1-1.8 0 2.7 0-1.7 .1 3.5 0-1.3 0 3.2 .1-2.4 0 2.4 .1-1.8 .1 2.4 .2-1.3 .2 2.9 .2-.7 .1 1.7 .1-.8 .1 2.5 0-1.1 .1 2.5 0-2.3 .1 3.1 0-1.4 .1 2 .1-1.8 0 2.7 .1-.4 0 2.4 .1-.9 .1 1.7 0-.5 0 1.2 .1-.1 0 1.3 0-1.3 0 3 0-1.9 .1 3.7 0-1 0 1.7 .1-2.8 0 4.6 0-1.4 0 1.7 0-1.3 .1 3 0-1.3 0 2.3 0-2.5 .1 3.3 0-.3 0 2.3 0-1.6 .1 2.2 0-.9 0 1.7 .1-2.4 .1 1 0-3.3 .1 2.2 0-2.6 .1 2.4 .1-3.1 0 1.6 .1-3 0 1.2 .1-1.8 0 .8 .1-4.1 .1 2.2 0-1.8 .1 .7 0-1.3 .1-.3 .1-1.5 0 .4 .1-1.7 0 2.5 .1-3.1 .1 .8 0-2.7 .1 1.5 0-2.7 .1 2.5 0-4.8 .1 2.9 .1-4.7 0 2.6 .1-.9 0 .2 .1-1.9 .1 .8 0-2.6 .1 1.1 0-1.6 .1 .1 .1-1.7 0 .9 .1-1.8 0 .7 .1-2.1 0 1 0-3.2 .1 1.9 0-1.7 .1 1.3 0-2.4 .1 2.2 0-5.1 .1 3.5 0-3.2 .1 .5 0-2.2 0 1 .1-1.4 0 .1 .1-2.4 0 1.6 .1-2.4 0 .8 .1-1.9 0 1.2 .1-2.8 .1 2.1 .1-2.7 0 1.2 .1-2.4 .1 1.8 .1-2.5 0 1.4 .1-3.2 .1 1 0-2.6 .1 1.8 .1-1.8 .1 .7 0-2.6 .1 1.4 .1-2.4 .1 1.3 0-2.1 .1 .1 .1-1.9 0 .4 .2-2.9 .2 2 .2-2.1 .2 1.6 .1-3.2 .1 1.8 .2-2.2 .1 .3 .1-2.5 .1 1.6 .2-3 .1 1.9 .2-1.2 .2 2.6 .1-2.2 .2 4.4 .2-2.1 .3 1.2 .3-2.5 .2 2.3 .1-2.4 0 3.5 .1-2.4 0 2.2 .1-.7 0 2.4 .1-1.5 0 1.8 .1-.1 0 2.4 0-1.5 .1 3.3 0-3.3 .1 3.7 0-.8 .1 2.1 0-2.5 0 4.1 .1-1.4 0 1.5 .1-.2 0 2 .1-1.2 .1 1.5 0-.7 .1 2.1 0-1.1 .1 1.8 .1-.2 0 1.9 .1-2.4 0 3.6 .1-1.6 .1 2.9 0-.5 .1 1.7 .1-1.2 .1 1.7 .1-.2 .1 1.4 0-.9 .1 3 .1-1.1 .1 2.4 .1-1.1 .1 2.3 0-1.5 .1 3.5 .1-2.1 0 2.8 .1-1.6 .1 3.2 .1-2.5 0 3.7 .1-2.4 .1 2.8 .1-1.1 .2 1.6 .3-.4 .3 1.3 .1 0 0 .9 .1 .3 .1 1.8 0-.9 .1 1.8 0-.7 .1 1.2 .1-.5 0 3.5 .1-3.6 0 3.3 .1-2.2 .1 4.1 0-1.1 .1 1.9 0-.8 .1 1.1 0-.1 .1 1.6 .1-1.2 0 2.6 .1-1.6 0 2.5 .1 .2 .1 2 0-1 .1 1 0 .1 .1 2 0-1.1 .1 1.7 .1-1.1 0 3.4 .1-2.4 0 2.4 .1-1.1 .1 2.5 0-.8 .1 2.5 0-1.1 .1 1.6 0-.4 .1 1.5 .1-1.7 0 3.8 0-1.2 .1 1.4 0-.9 .1 4.8 0-3.3 .1 3.8 0-2.5 .1 2 0-2.4 0 3.4 .1-1.2 0 2.3 .1-2.1 0 3.3 .1-.9 0 1.7 0 .1 .1 1.6 0-1.1 .1 2.6 .1-.8 .1 1.4 .1-.4 .1 3.1 .1-2.7 0 2.4 .1-1.1 .1 4 .1-2.5 .2 .7 .2-2.7 .1 3 .2-3.3 .2 1.4 .1-1.4 .1 2.2 .2-2.1 .1 3.2 .1-.2 .1 2 .2-3.3 .2 4.8 .3-1.7 .3 2 .1-3 0 2.3 0-2.8 0 .3 0-1.9 .1 1.7 0-2.7 0 1.4 0-2.3 0 1.5 .1-2.4 0-1.7 0 .8 0-2.5 .1 1.7 0-3.9 0 2.5 0-2.5 0 .8 .1-2.3 0 2.6 0-3.7 0 1.3 0-2.2 .1 2.4 0-4.5 0 1.7 0-2.6 .1 1.8 0-3.3 .1 2.6 .1-3.1 0 .9 .1-1.2 0 .7 .1-2.7 0 1.2 .1-2 .1 .5 0-1.3 .1 .2 0-2.3 .1 1.7 .2-.5 .2 2.2 .1-1.2 .2 1.6 .2-.7 0 1.8 .1-1.8 0 3.4 0-2.1 .1 4 0-1.8 .1 2.4 0-.9 0 1.4 .1-.3 0 1.5 .1-1.6 0 3.5 0-.9 .1 2.4 0-1.1 .1 1.8 0-1.5 0 3.6 .1-2 0 2.1 .1-1.1 .1 1.1 .1-2.7 .1 .9 .1-1.4 .2 .3 .1-1.5 .1 .1 .1-1.9 .1 .6 0-1.5 .1 .7 0-1.4 .1 1.2 0-3.5 .1 2.1 0-3.1 .1 1.9 .1-2.7 0 .7 .1-2.9 0 2.6 .1-3.3 .1 1.1 0-1.2 .1 .6 0-1.6 .1 0 .1-1.3 0 .1 .1-1.6 0 1.1 .1-2.9 0 2.3 .1-2.9 .1 1.1 0-1.9 .1 1 0-2.6 0 3.2 .1-5.5 0 2.2 .1-2 0 .7 0-1.6 .1 .5 0-2.1 .1 1.1 0-3.8 0 1.6 .1-1.6 0 1.1 0-2.4 .1 1.2 0-1.8 0 .1 .1-1.3 0 1.1 0-3.2 .1 2.3 0-4 .1 2.4 .1-3 0 4.2 .1-1.1 .1 2 .1-1 .1 2 .1-1 .1 3.3 0-1.7 .1 1.7 .1-1.4 0 2.5 0-.9 0 2.9 .1-1.4 0 2.8 0-1.8 .1 2.3 0-2.4 0 4.3 .1-3 0 3.8 0-.9 .1 1.1 0 1.8 0-1.2 .1 1.4 0-.4 0 3.4 .1-2 0 2.1 0-1 .1 2 0-2.4 0 3.9 0-.4 .1 2 0-.7 .1 1.4 .1-4.2 .1 2.3 .1-1.9 0 .5 .1-1.9 .1 .4 .1-1.5 .1 .5 .1-1.7 0 .1 0-1.2 .1 .5 0-2 0 .9 .1-2.1 0 1.5 0-2.3 0 .6 .1-2.5 0 .8 0-1.5 .1 .4 0-2.2 0 1.4 .1-3.8 0 4.2 0-3.8 .1 .5 0-3.1 0 2.3 .1-2.7 0 1.6 0-1.9 0-.3 .1-.9 0-.3 0-.8 .1 0 0-1.5 0 .4 .1-2.6 0 1.8 0-1.6 .1 .4 0-1.8 .1 .8 0-2 .1-1.4 0 .1 0-1.6 .1 .4 0-1.6 .1 .4 0-2 0 .7 .1-2.3 0 1.2 0-1.9 .1 .6 0-1.5 0 .5 .1-1.9 0 1.9 .1-3.1 0 1.2 0-2 .1 .3 0-2.8 0 1.8 .1-3.1 0 2.2 0-2.4 .1 .4 0-1.5 0 .2 .1-1.8 0 .4 .1-1.7 0 1.4 0-2.6 .1 1.1 0-2.7 0 2.9 .1-3.6 0 1.2 .1-1.7 0 .1 0-1.7 .1 .8 0-2.2 0 .8 .1-2.3 0 .6 0-3 .1 3 0-3.5 0 .9 .1-1.7 0 2 .1-3.7 0 2.2 0-3 .1 1.1 0-1.8 0 .3 .1-2.1 0 1.6 .1-3.2 0 2.4 0-4.3 0 2.3 0-2.6 0 2.5 0-3.4 0 1.9 0-5 0 4.8 0-5 .1 1.6 0-1.8 0 .7 0-1.1 0 1.4 0-3.5 0 1 0-2.4 0 1.9 0-2.4 0 1.4 0-2.2 0 .4 0-1.8 .1 .7 0-1.8 0 1.1 0-3.2 0 .9 0-1.3 0 .3 0-1.7 0 .1 0-1.5 0 1.2 0-3.5 0 2.3 0-2.7 0 1.8 0-2.6 0 1.8 .1-3.2 0 2.4 0-2.8 0 1.1 0-4 0 2.2 0-1.9 .1 .1 0-1.6 0 1.2 0-2.7 0 1.3 0-1.6 .1 .3 0-2.1 0 .9 0-2.9 0 1.1 0-2.1 0 1.6 .1-3.5 0 1.9 0-1.4 0 .5 0-2.4 .1 1.6 0-1.9 0 .1 0-1.9 0 .6 0-2 .1 .7 0-2.5 0 1.4 0-1.8 0 1.8 0-3 .1 1 0-2 0 1.2 .1-2.7 0 .4 0-1.2 .1 .5 0-4.1 .1 3 0-1.6 0 .5 .1-2.2 0 .9 0-2.9 .1 2 0-4.7 .1 3.5 0-1 .1 1.6 0-1.5 .1 2.7 0-1.3 .1 2.3 0-1.8 .1 3.7 0-1.6 .1 2.7 0-1.6 .1 2.3 .1-1.1 0 2.3 .1-1 0 2.2 .1 .1 0 1.8 0-1.1 .1 2.6 0-3.5 .1 4.7 0-3.1 0 3.8 .1-1.6 0 3 .1-2.2 0 2.5 0-.5 .1 2.7 0-1.2 .1 3 0-1.8 0 3.2 .1-1.7 0 1.9 .1-2 0 3.4 0-1.3 .1 2.6 .1-1.3 0 2 .1-1.8 0 3.7 .1-1.9 0 2.8 .1-1 0 1.4 .1-.8 0 2.9 .1-1.7 0 2.7 .1-1 0 2.2 .1-.8 0 2 0-1.7 0 2.9 .1-1.9 0 2.5 0-2.7 0 4.1 0-1.4 0 2.6 .1-.9 0 2.1 0-1.6 0 2.1 .1-.5 0 2.7 0-1.2 0 2.3 0-.8 .1 1.8 0-.6 0 1.7 0-1.2 0 2.7 0-1.1 .1 1.4 0-1.2 0 2.7 0-1.4 .1 3 0-.5 0 2.6 0-2.1 0 4 0-3.6 .1 3 0-1.9 0 3 0-1.2 0 3.1 .1-1.6 0 2 0-.1 0 1.3 .1 .1 0 .9 0-.4 .1 2.9 .1-1.8 0 3 0-2.9 .1 2.7 0-.6 .1 1.9 0-.8 .1 3 0-.9 .1 1.1 0-.1 .1 2.2 0-1.1 .1 2.5 0-1.4 .1 .9 .1-2.6 .2 1.2 0-1.6 .2 .5 .1-1.8 .1 .5 .1-1.7 .1 1.4 0-3.5 0 2.5 .1-3.2 0 2.6 0-3 0 .7 .1-2.1 0 1.4 0-2.5 0 .2 .1-2.1 0 3.1 0-4.2 0 2.6 .1-3.4 0 .7 0-1.4 0 .7 .1-2.1 0 1.1 0-1.9 0 .3 .1-2.4 0 1.3 0-2.6 .1 1.4 0-3.9 0 2.6 0-3 0 3.3 .1-4.7 0 1.2 0-2.1 .1 4 0-4.2 .1 .1 0-1 .1 .1 0-1.3 .1 .2 .1-1.9 0 .7 .1-3.7 0 2.4 .1-1.2 .1-.3 0-1.3 .1 .2 0-1 .1 .2 .1-1.2 0 .3 .1-1.8 .1-1.8 0 2.3 .1-4.3 0 1.5 .1-2.8 .1 2.1 0-1.7 .1 .6 0-1.4 .1 .1 .2-2 .1 .9 .2-2.1 .2 .7 .2-1.2 0 1.3 .1-3.8 .1 2.3 0-4.4 .1 2.2 0-2 .1 .5 0-1.3 .1 1.4 .1-2.3 0 .6 .1-1.7 0 .3 .1-2.4 .1 1.8 .3-2.4 .2 1.8 .1-.7 0 2.2 0-1.7 0 2.8 0-3.8 .1 5.1 0-2.8 0 3.7 0-1.9 .1 2.6 0-.6 0 1.8 0-1 0 3.6 .1-3 0 2.8 0-1.5 0 3.6 .1-1.6 0 1.3 0-2.4 0 4.4 0-1 .1 2.3 0-1.1 0 2.5 .1-1.2 0 2.3 0-1.3 0 1.4 .1-1.2 0 2.7 0-.7 .1 1.8 0-1.1 0 3.4 .1-2.1 0 2.5 0-1.9 0 3.7 .1-2.7 0 3.2 0-.9 .1 2.1 0-.8 0 2 .1-.9 0 3.4 0-2.5 0 3.3 .1-1.5 0 2.5 0-1.6 .1 2.1 0-.1 0 1.1 .1-.6 0 2.5 .1-1.2 0 4.3 .1-3.3 0 3.1 0-1.5 .1 2.3 0-2 .1 3.8 0-1.9 .1 1.8 0-.7 0 1.7 .1-.2 0 2.1 .1-1.3 0 3.4 .1-2.2 0 2.8 .1-2.4 0 5.1 0-4.2 .1 4.5 0-2.5 .1 2.7 0-2.4 .1 2.6 0-1.5 0 3.2 .1-.5 0 2.7 .1-3.8 0 4.1 .1-1.5 0 2.7 .1-.8 0 2.1 .1-1.7 0 2.9 .1-1.3 0 2.5 .1-1.8 0 3.1 .1-2.4 .1 2.4 0-.5 .1 1.7 0-.6 .1 1.9 .1-1.3 0 3.2 .1-.9 0 1.8 .1-1.4 .1 2.6 .1-2.9 .1 3.6 .1-.6 .1 2.5 0-1.2 .1 1.7 .1-.4 .1 2.1 .1-2.9 0 1.9 .1-3.5 .1 1.9 .1-2 0 .8 .1-1.7 .1 .5 .1-1.9 0 .7 .1-4.3 .1 2.8 .1-1.2 .1 2.7 .2-2.3 .1 4 .1-1.3 .1 1.8 .2-.5 .1 1.6 .1-.8 .1 1.9 .2-2.1 .1 3.5 .1-1.2 .1 4.1 .2-1.7 .1 1.1 .1-1.3 .1 3.1 .2-1.3 .1 2.4 .1-1 .2 .9 .2-1.2 .1 .7 .2-2.5 .2 2.6 .1-2.4 0 2.7 .1-1.2 .1 1.6 .1-.7 0 2.3 .1-1.3 .1 1.6 0-1 .1 2.5 .1-1.2 .1 3.1 0-1.6 .1 2.2 .1-2.1 0 3.7 .1-1.4 .1 3.6 .1-1.8 0 2.7 .1-1 .1 3.1 .1-2.7 0 2.6 .1-3.4 0 2.3 .1-2.1 0 .1 .1-1.6 0 .6 .1-1.8 0 .7 .1-2.4 .1 .8 0-2.7 .1 2.4 0-2.9 .1 1 0-1.6 .1 .1 0-1.2 0 1.3 .1-1 0 2 .1-.3 0 2.8 .1-1.9 0 2.3 0-1.7 .1 3.4 0-1.6 0 2.5 .1-1.8 0 2.7 .1-2.2 0 3.9 .1-2.5 0 4.1 0-1.3 .1 2.4 0-1.2 .1 2.4 0-2.1 0 2.8 .1-1.5 0 2.4 0-.3 .1 2 0-1.3 0 1.9 .1-.5 0 2.3 .1-1.9 0 2.4 0-1.4 .1 3.4 0-1.2 0 2.4 .1-.8 0 2 0-1.1 .1 3.5 0-2.1 .1 2 0-1 0 2.3 .1-.8 .1 2.4 0-1.6 .1 2.1 .1-.8 .1 1.4 .1-.9 .1 3.9 .1-3.5 0 2.7 .1-1.3 .2 4.3 .2-2.8 .2 3.6 .1-1.8 .2 2.7 .1-2 .1 .4 .1-1.9 .1 .6 0-2.9 .1 1.9 .1-2 .1 .8 .1-2 .1 .7 0-2 .1 1 0-1.6 .1 0 .1-1.6 0 1.1 .1-2.4 0 .5 .1-1.9 0 1.2 0-2.3 .1 1.7 .1-3.5 0 1.7 .1-2.6 0 1 .1-1.8 0 1.8 0-2.8 .1 4.1 0-1.1 0 2.4 .1-.8 0 2.3 0-1.3 .1 2.3 0-.5 0 2.4 .1-1.5 0 2.1 .1-2.1 0 2.9 0-1.5 .1 2.4 0-1.3 0 2.4 .1-.7 0 2.3 .1-1.3 0 2.8 0-.9 .1 1.9 0-1.6 .1 2.4 0-1.5 .1 3.2 0-1.8 .1 2.2 0-.1 0 4.4 .1-3.5 0 1.5 .1-.8 0 3.6 .2-1.7 .2 2.1 .2-1.1 .1 1.7 .2-.9 .1 .6 .1-1.3 .1 .1 0-3.3 .1 2.5 .1-2.6 .1 1.8 .1-2.8 .1 1.8 .1-3.3 0 1.2 .1-1.3 .1 1.4 0-2.9 .1 .9 0-1.5 .1 .6 0-2.4 .1 1.5 .1-2 0 1.9 .1-3.2 0 1.5 .1-2.3 .1 1.1 0-3.7 0 2.1 0-4.1 0 2.1 0-1.6 .1 1.2 0-2.9 0 1.7 0-2.5 0 .2 .1-1.6 0 2 0-3.3 0 .7 .1-2.1 0 1.7 0-2.5 0 .7 0-2 .1 .8 0-1.5 0 .3 0-2.1 0 .4 .1-.9 0 .9 0-2.4 0 1.4 0-3 .1 .5 0-2.5 0 2.3 0-3.3 .1 1.1 0-1.4 0 .9 0-2.2 .1 1 0-2.1 0 .7 .1-1.6 0-3.3 0 2.1 .1-3.2 0 1.7 0-2.4 0 1.8 0-1.5 .1 0 0-1.3 0 .7 0-2.3 .1 1.1 0-3.5 0 3.7 .1-4.1 0 .8 0-2.2 0 1.1 .1-3.9 0 2.5 0-1.1 .1 .9 0-4.4 0 4.3 .1-3.8 0 1.6 0-2.5 .1 .6 0-2.5 0 .9 .1-1.6 0 .8 .1-1.6 0 1.4 0-2.7 .1 0 0-1.6 0 1.3 .1-2.5 0 2.4 0-3.3 .1 1.1 0-3.3 .1 1.1 0-1.1 .1 .7 .1-1.9 0 1 .1-2.9 .1 1.4 .1-3.4 .1 2.4 .1-2.9 .1 .8 .1-2.3 .1 1.3 0-2.2 .1 .9 .1-1.2 .1 .7 .1-1.9 .1 .6 .1-3.4 .1 3.1 0-4.3 .2 3.6 .2-3.2 .2 .9 .1-3.8 .2 2.4 .1-1.9 .2 1 .1-3.2 .1 1.7 .1-1.7 .2-.1 .1-2.1 .1 .7 .1-2.3 .2 1 .1-1.4 .1 .6 .1-1.7 .2 .2 .3-.5 .3 2.4 .2-1.7 .2 2.6 .2-2.1 .2 2.8 .1-1 .2 1.9 .1-.7 0 1.9 0-.1 .1 1.1 0 .2 0 1.8 .1-.8 0 1.2 .1 1.3 0 .2 0 3 .1-1.9 0 2 0-1.3 .1 2.6 0-1.4 0 1.7 .1 .1 0 1.2 .1-.1 0 1.4 0-.9 .1 2.4 0-1.3 .1 2.3 0-1 0 2.8 .1-2.1 0 2.6 0-1.5 .1 4.1 0-2.7 .1 2.2 0-2.1 .1 3.6 0-1.5 .1 2.9 0-.8 0 2 .1-1.3 0 2.1 .1-3 0 4.6 .1-1.7 0 2.4 0-1.1 .1 2.3 0-.7 .1 1.8 0-1.1 .1 2.3 0-1 0 1.7 .1-.1 0 2.5 0-2.5 .1 3.7 0-2.4 0 3.1 .1-1.2 0 3 .1-2.2 0 3.1 0-1.8 .1 2.9 0-1.4 0 2.1 .1-.3 0 2.4 .1-1.9 0 3.6 0-2.7 .1 2.6 0-1.5 0 3.9 .1-2.9 0 3.7 .1-1.9 0 2.5 0-.6 .1 2.1 0-1.3 .1 2.3 0-2.2 0 3.2 .1-.6 0 1.7 .1-1.1 0 2.9 0-.9 .1 2.5 0-1.8 .1 2.1 0-.6 0 2.8 .1-2 0 2.7 .1-1.2 .1 1.9 0-1.4 .1 2.1 .1 .1 0 1.5 .1-1 .1 2.5 .1-.4 .1 1.2 .1 1.2 .1-1.4 .1-.1 .1-1.2 0 .6 .1-1.9 .1 1 .1-1.9 .1 .7 .1-2.3 .1 1.3 0-2.2 0 1.9 .1-3.4 0 1.6 0-2.3 .1 .5 0-2.7 .1 .9 0-1.8 0 1 .1-1.7 0 .8 0-2.8 .1 1.2 0-2.9 0 3.3 .1-3.9 0 .8 .1-2.9 0 4.3 0-5.2 .1 1.8 0-2.2 0 .6 .1-1.5 .1 .2 0-.9 .1 0 0-1.2 .1 .3 .1-1.8 0 1.1 .1-3.3 0 2.7 .1-2.7 0 2.1 .1-3.7 .1 1.3 0-2 .1 1.3 .1-.3 .1 1.6 .1-1 0 2.2 .1-.8 .1 1.5 .1-.8 .1 2.4 .1-.6 0 .9 .1-1.6 .1 .5 0-2.6 .1 1.4 0-1.6 .1-.2 .1-1.7 0 1.1 .1-2.4 0 1.5 .1-3.1 .1 1.6 0-1.8 .1 0 0-1.8 .1 1.2 .1-2.5 .1 2.3 0-3.7 .1 2.3 .1-3.7 .1 1.8 0-3.9 .1 2.3 .1-2.5 .1 1.6 .2-1.6 .3 1.2 .3-3.8 .1 1.9 .1-2.2 .1 .8 .1-2 .1 2.3 0-2.9 .1 1.2 .1-3.6 .1 1.5 .1-2.2 0 3 .1-4.7 0 2.2 .1-3.5 0 2.2 .1-2.8 0 1.9 .1-2.9 0 1.8 0-3.1 .1 2 0-2.8 .1 1.2 0-1.8 0 .3 .1-1.8 0 1.4 .1-2.1 0-.2 .1-1.3 0 1.5 .1-.8 0 2.6 0-1 .1 1.6 0-.2 .1 1.4 0-.3 .1 1.7 0-1.2 .1 2.5 0-2.2 0 3.8 .1-2.1 0 2.7 .1-1.4 0 2.8 .1-1.3 0 1.9 .1-1.2 0 2.3 .1-.4 0 2.4 .1-2.5 0 4.2 .1-1.9 .1 2.5 0-.9 .1 2.3 0-1.5 .1 2.6 0-1.8 .1 2.8 .1-.8 0 1.5 .1-2.2 .1 1.6 .1-3 .1 3.3 .1-4.1 .1 .9 0-2.4 .1 1.7 .1-2.3 .1 1.4 .1-2.8 0 1 .1-1.5 0-.1 .1-1.9 .1 1.7 0-2 .1 1.8 0-3.7 .1 1.4 .1-2 0 .5 .1-2.8 0 2 .1-3.7 .1 3.7 .2-1 .2 3.9 .2-3.5 .2 2.1 0-1.5 0 4 .1-1.7 0 2.7 .1-2.5 0 4.5 .1-2.6 0 3.3 0-1.5 .1 1.1 0-1.6 .1 4.1 0-2.4 .1 4.4 0-3.1 0 3.3 .1-2 0 2.3 .1-.3 0 1.8 .1-.4 0 2.2 0-1 .1 1 0-.5 0 2.6 .1-1.1 0 2.2 0-1.1 .1 2.2 0-2.2 0 3 0-2.6 .1 4.2 0-1.5 0 3.3 .1-1.8 0 2.3 .1-1.7 0 2.8 0-2.1 .1 4 0-2.4 0 3.1 0-1.5 .1 2.4 0-1 0 .6 .1-1.6 0 .7 .1-2.2 0 2.3 .1-2.7 0 .4 0-2.9 .1 1.4 0-2.1 0 1.2 .1-3 0 1.9 .1-2.2 0 .8 0-2.9 .1 1.8 0-2.6 .1 1.2 0-2 0 2.9 .1-4.7 0 1.9 .1-2.3 0 .8 .1-3.1 0 2.4 0-2.8 .1 2.2 0-3.2 .1 1.4 0-2.2 .1 1.8 0-5.3 0 3.7 .1-2.7 0 .9 .1-2 0 .1 .1-1.8 0 .9 .1-1.6 .1 3 .2-1.9 .2 2.8 .2-1.9 .1 2.3 .1-1.9 .1 1 .1-3.2 .1 2 .1-3.5 .1 1.8 .1-1.5 0 .6 .1-1.6 .1 1.8 .1-3.4 .1 1 .1-2.2 .1 1.2 0-2.2 .1 .2 .1-1.9 .1 .8 .1-1.9 .1 1.2 .2-2.2 .1 1.5 .2-3.1 .2 2.6 .2-3 0 2.4 .1-4.4 0 1.6 .1-2.5 0 1.7 0-2.3 .1 .2 0-1.2 .1-.4 .1-1.1 .1-1.8 0 .9 0-2.1 .1 3 0-4.1 .1 2.3 0-3.1 .1 1.5 .1-.1 0 1.3 .1-.3 .1 2.2 0-.5 .1 1.8 .1-1.6 0 3.1 .1-.9 .1 2.2 0-1 .1 1.2 .2-1 .2 2 .1-.9 .2 2.9 .2-2.2 0 2.2 .1-3.3 .1 1.8 0-2.1 .1 1.3 0-3.2 .1 1.9 .1-2.3 0 .4 .1-.9 0 .2 .1-1.9 0 .9 .1-2.3 .1 1.1 0-2.9 0 2 0-4 .1 1.9 0-2.8 0 1.8 0-2.3 .1 1.7 0-2.5 0 .9 0-1.6 .1 .8 0-2.3 0 .8 .1-1.7 0 .5 0-3.3 0 2.4 .1-2.7 0 1.2 0-2.1 0 1 .1-2 0 .4 0-2.3 0 2.1 .1-2.9 0 .8 0-1.4 0 .2 .1-1.5 0 1.6 0-2.6 0 .6 .1-1.8 0 .1 0-3.4 0 2.6 0-2.3 .1 1.3 0-2 0 1.3 0-2.7 0 1.3 0-2.8 .1 .9 0-2.1 0 1.9 0-3.5 0 1.2 0-2.3 .1 .7 0-2.2 0 1.1 0-1.6 0 .4 0-2.4 .1 1.2 0-1.7 0 .7 0-1.6 0 1 .1-2.5 0 2.6 0-4.4 0 3.7 0-6.7 0 5.1 0-1.3 .1 1.6 0-.6 0 2.8 0-1.1 0 1.2 0-.2 0 2.6 0-1.5 .1 2.1 0-1 0 1.5 0-1 0 2.4 0-1.5 0 3.1 0-2.1 0 4 0-1.7 .1 2.7 0-1.7 0 2.6 0-.9 0 3.3 0-2.4 0 3.2 0-2 .1 2.1 0-.7 0 1.5 0 1.4 0-.7 0 1.8 0-1.4 0 3.2 .1-1.2 0 1.2 0-2.9 0 1.2 0-1.3 0 .3 .1-2.2 0 1.6 0-3.6 0 1.4 0-2 0 .7 0-1.3 .1 .2 0-1.8 0 1.1 0-2.5 0 1.5 0-2.4 0 1 .1-2.7 0 2.3 0-4.3 0 2.2 0-2.9 0 1.4 0-2.6 .1 1.3 0-2.4 0 .9 0-.9 0 4.8 0-3.8 .1 2.2 0-1 0 3.1 0-1.1 0 1.8 0-1.6 0 2.5 0-.5 .1 2 0-.8 0 2.1 0-.4 0 2.1 0-1.4 0 2.7 .1-1.7 0 2.2 0-.8 0 2 0-1 0 2.3 0-.8 0 2.2 0-1.5 .1 3.5 0-3.1 0 3.4 0-1.3 0 3.5 0-2.4 0 3.8 .5-2.3 0 1 .1-2.6 .1 .5 0-1.3 .1 0 0-1.9 .1 1.9 0-2.6 .1 1 .1-2.8 0 1 0-1.2 0-.2 0-1.8 0 .9 0-2.1 0 2 0-3.2 0 1.6 0-2.5 0 1.2 .1-2.5 0 .8 0-1.6 0 .1 0-1.4 0 .2 0-1.8 0 .9 0-2.3 0 1.2 0-1.7 .1 .4 0-1.9 0 .5 0-1.4 0 2.4 0-4.5 0 1.5 0-2.3 0 1.4 0-2.3 0 .1 0-3 0 2 .1-1.9 0 2 0-.2 0 1 0 .2 .1 1.9 0-1.6 0 2.7 0-1.6 .1 2.8 0-2.4 0 4 0-1.4 .1 2 0-.7 0 2.4 0-1 0 1.5 0-1.4 .1 2.3 0 .2 0 1.9 0-.4 0 1.7 0-1.8 0 2.5 .1-1.4 0 2.9 0-1.8 0 3 0-2.7 0 3.3 0-1.1 .1 2.6 0-.2 0 2 0-1.8 0 3.9 0-2.9 0 3.4 .1-2.1 0 2.7 0-1.6 0 .7 0-2.4 0 1.2 0-3.4 0 1.8 0-2.6 .1 1.5 0-2.2 0 1.3 0-2.5 0 .4 0-1.2 0-.1 0-2 0 2.6 0-3.3 .1 .4 0-1 0 .6 0-2.1 0 1.1 0-3.8 0 1.5 0-.7 0 .2 0-1.8 .1 .5 0-1.4 0 .1 0-1.3 0-.1 0-1.7 0 2.3 0-3.8 0 1.8 0-3.7 0 1.9 0-3.6 .1 3.8 0-4.4 0 1.9 0-2.7 0 1.6 0-2.5 0 1.5 0-1.3 .1 1.6 0-.4 .1 2.5 0-2 0 2.7 .1-1.3 0 2.2 0-.2 .1 2.5 0-1.4 0 2.5 .1-1.7 0 4.2 0-2.6 .1 1.9 0-.3 0 1.8 .1-.7 0 1.2 .1 0 0 1.5 .1-2.1 0 3.5 0-1 .1 1.7 0-.2 .1 2.3 0-1.5 .1 2.4 0-1.6 .1 2.1 0-.7 .1 1.7 0-.2 0 2.5 .1-1.7 0 1.8 0-.1 .1 2 0-1.1 0 1.8 0-1.9 .1 3.3 0-1.4 0 2.4 0-1 .1 2.1 0-.2 0 2.6 0-1.4 .1 3 0-2 0 2 0-1.1 .1 2.7 0-1.4 0 2.6 0-2.2 .1 4 0-1.8 0 2.8 .1-1.6 0 1.3 0 .3 0 .8 .1 .3 0 1.3 0-.6 0 1.9 .1-1.4 0 2.7 0-1 0 2 0-.7 .1 1.9 0 .8 0-.1 0 2 .1-.8 0 1.9 0-.3 0 3.3 0-2.4 .1 4.2 0-2.9 0 1.8 0-.1 0 1.1 .1-.3 0 1.3 0-.7 0 2 0-1.2 .1 3 0-.8 0 2.7 0-1.4 0 1.5 .1-1.7 0 .4 0-1.3 0 .8 .1-1.9 0 .9 0-2.2 .1 .2 0-1.4 0 .3 0-2.3 .1 1.7 0-3.2 0 1.6 .1-1.9 0 .5 0-2.1 0 1.3 .1-2.3 0 .6 0-1.3 0 .9 .1-2.8 0 2.1 0-3 0 1 .1-2.3 0 1.7 0-3.7 .1 2 0-3.4 0 2.3 .1-.6 0 2.5 .1-1.3 0 2 .1-1.7 0 2.6 .1-1.1 0 2 .1-1.4 0 2.9 .1-1.2 0 2.6 .1-1.5 0 3.4 .1-2.5 0 2.4 .1-.6 .1 2 0-.8 .1 2.4 0-.7 .1 2.3 0-2.4 .1 2.9 .1-1.9 0 3.4 .1-1.8 0 3 .1-1.4 0 2.7 .1-1.8 .1 2.8 .1-1.8 0 2.5 .1-.6 .1 2.1 .1-.8 .1 2.3 .1-2.6 .1 3.9 .1-2.2 0 3.1 .1-1.6 .1 1.6 .1-.1 .1 1.5 .1-2.2 .1 3.4 .1-.9 0 3.2 .1-1.7 .1 2.1 .1-.6 0 1.4 .1-.3 0 1.4 .1 .1 .1 2.6 0-1.3 .1 1.3 .1-.9 0 1.7 .1-.5 0 1.4 .1-.5 0 2.3 .1-.2 .1 .4 .1-2.6 .1 1.2 0-2.4 .1 2.5 .1-3.6 .1 1.2 .1-2.7 .1 1.1 .1-1.6 .1 3.2 .1-2 0 4.2 .1-2.9 .1 1.3 .1-1.1 .1 2.5 .1-.6 .1 2.8 0-1.6 .1 2.4 0-1.6 .1 3.1 0-2.2 .1 3 0-.6 .1 1.3 0-.2 0 1.7 .1-.4 0 1.5 .1-.7 0 1.5 .1-.5 0 2.7 0-2 .1 3.4 0-2 .1 2.3 0-2 .1 3.4 0-1.9 .1 3.2 0-.7 .1 1.9 0-.6 .1 1.6 .1-1 0 1.7 .1-1.1 0 2.1 .1-.2 0 1.3 .1 0 0 1.8 .1-.5 0 2.2 .1-1.5 0 3 .1-1.9 0 2.9 .1-1.6 .1 2 0-1.7 .1 3.3 .1-1.3 .1 2.3 0-2.3 .1 3 .1-.3 0 2.2 .1-1.6 .1 2.1 .1-.6 0 3.1 .1-2.7 0 2.9 .1-1.5 .1 2.7 0-1.5 .1 2.6 0-.8 .1 2.9 0-1.4 .1 2.7 .1-2.4 0 2.6 .1-.7 0 2.1 .1-.9 .1 1.9 .1-.7 .1 1.9 .1-1.4 .1 2.3 .1-.3 0 2.2 .1-1.1 .1 1.3 .1-.6 0 2.5 .1-1.2 .1 2.1 0-.7 .1 2.9 0-1.4 .1 2 0-1.7 .1 1.8 .1 0 0 1.2 .1-.1 0 1.2 .1-1 0 2.2 .1-1.6 .1 4.3 0-1.5 .1 3.1 0-2.1 .1 1.5 .1-.6 0 2.8 .1-2.5 0 3.3 .1-2 .1 2.5 0-.3 .1 1.3 0-.6 .1 1.9 0 .3 .1 1.4 .1-.9 0 2.5 .1-2.2 0 3.7 .1-1.4 .1 2.6 0-2.1 .1 3.1 0-2.4 .1 2.6 .1-.3 .1 1.2 .1-.6 .2 1.6 .1-.1 .1 .4 0-1.6 .1 1.2 0-3.1 .1 1.1 0-1.9 .1 1.7 0-3.3 .1 3.3 0-4.1 .1 1.5 0-2.5 .1 .6 0-1.7 .1 .5 0-2.5 .1 2.1 0-3.1 .1 .8 0-2.2 0 1.1 .1-1.9 0 1.3 0-2.6 .1 1.8 0-3.2 0 1.9 .1-2.9 0 1.5 0-2.2 .1 .8 0-2.6 .1 .6 0-2.4 0 1.2 .1-3.5 0 2.1 0-1.5 .1 .7 0-2.6 0 .9 .1-2.9 0 2 0-2.1 .1 1.5 0-2.6 .1 .8 0-2.2 0 1.9 .1-3.5 0 2.3 0-2.5 .1 .6 0-1.6 .1 .3 0-2 0 1 .1-1.9 0 .5 0-1.9 .1 .5 0-2.2 .1 2 0-3.6 0 2.8 .1-4 0 2 0-3 .1 1.7 0-3.8 0 3.7 0-3 .1 .8 0-2.4 .1 .2 0-2.7 0 2 .1-2.2 0 1.1 0-2.6 0 2.2 .1-3.8 0 1.3 0-1.5 .1 2 0-2.9 0 .5 .1-1.5 0 1.3 0-3.1 .1 1.3 0-5 0 3.4 .1-2.8 .1 2.2 0-2.9 .1 1.1 .1-3.3 .1 2.3 0-2.4 .1 .7 .1-2.5 .1 1.7 0-2.7 .1 3.4 .2-3.8 .2 3.6 .1-2.3 .2 2.9 .2-.8 0 2.2 .1-.9 0 1.7 0-1.7 0 2.5 .1-.1 0 1.4 0 .1 0 1.8 .1-1.7 0 2.9 0-1.1 0 2.7 .1-1.7 0 1.9 0-.7 .1 2 0-.8 0 4 0-3.3 .1 2.6 0-2 0 3.2 .1-1.4 0 3.8 0-2.9 0 3.7 .1-1.3 0 1.7 0-.1 .1 1.5 0-.8 0 2.3 0-1.2 .1 1.4 .1-3.1 .1 1.4 .1-2 .1 .9 .1-2.3 0 1.4 .1-3.6 .1 2.3 .1-2.4 .1 1.4 0-2.3 .1 1 0-3.2 .1 1.8 .1-3.7 0 2.1 .1-2.2 0 1.4 .1-2.4 .1 1.2 0-1.6 .1 .7 0-2.5 .1 1.6 .1-2.6 .1 1.5 0-2.6 .1 .6 .1-3.5 .1 2.3 .1-1.9 .1 2.1 .1-4 .1 2.7 .1-3.3 .2 1.3 .2-2.4 .2 .5 .1-2.8 .1 4.1 .1-1.7 .1 2.6 .1-1.7 .1 3.9 .1-2.1 .1 2.4 0-1 .1 3.3 .1-2.1 .1 1.7 0-1 .1 3.3 0-1.7 .1 1.4 .1-.5 0 1.9 .1-1.6 0 3.1 .1-1.6 .1 2.8 0-1.8 .1 2.6 0-2.4 .1 5.4 .1-2.9 0 3.6 .1-2.7 0 5.2 .1-4.3 0 3.6 .1-1.6 .1 2.1 0-.5 .1 2.8 0-1.5 .1 2.2 0-1.4 .1 2.3 .1-.7 0 2.3 .1-1.9 0 2.5 .1-3.2 .1 4.5 0-1.2 .1 2 0-1.1 .1 1.9 .1-.5 0 1.4 .1-.4 0 1.6 .1-.8 0 2.8 .2-2.4 .2 3.7 .2-1.7 .1 1.9 .2 .1 .2 1.1 .2 0 .1 3.3 .2-3.2 .2 4.3 .2-3.3 .1 1.3 .2-3.1 .2 2.4 .2-3.8 .1 1.1 .1-2.2 0 1.4 .1-1.8 .1 .8 .1-2.3 .1 .3 .1-1.9 .1 .9 0-1.4 .1 .5 .1-2.1 .1 2 .1-3.8 .1 2.1 .1-2.2 .1 .2 .1-1.7 0 .5 .1-2.2 .1 1.2 0-2.3 .1 2.1 0-3.5 .1 2.6 .1-3.1 0 .6 .1-1.3 .1-1 .1 .7 0-2.5 .1 .8 0-2 .1 1 0-2.6 .1 2.2 0-2.2 0 1.7 0-3.9 .1 1.7 0-2 0 .1 .1-1.4 0 .3 0-1.9 .1 .5 0-2.6 0 1.6 .1-2.9 0 2.6 0-3 .1 1.6 0-3.4 0 3.1 .1-4 0 1.1 .1-3.1 0 2.2 .1-1.8 0 .6 .1-2.3 .1 2 0-3.8 0 1.7 .1-3 0 1.3 .1-2.7 .1 1 0-1.4 .1 .1 0-.3 .1 2 0-1.7 .1 3 0-1.7 .1 3 0-1.1 .1 3 0-1.9 .1 2.5 0-.8 .1 1.7 0-.6 .1 1.9 0-.1 .1 1.8 0-.8 0 2 .1-1.9 0 4.4 0-3.6 0 2.9 .1-.5 0 1.5 0 .1 0 1.4 0-.7 .1 2.2 0-.6 0 1.4 0-2.3 0 3.5 .1-.8 0 2.7 0-1.8 0 2.5 .1-.6 0 2.3 0-1.1 0 1.8 .1-1.2 0 2.2 0-2.2 0 3.5 0-1 .1 3 0-1 0 1.2 0 .1 0 .9 .1 .2 0 1.6 0-1.7 0 3.3 0-2.9 .1 3.5 0-1 0 2.5 0-2.4 .1 1.7 0-2.2 0 .5 0-2.3 .1 2.4 0-3.5 0 1 .1-1.5 0-2.1 0 .8 .1-2.8 0 2.3 0-2 0 .7 .1-1.6 0-.2 0-1.7 .1 .8 0-1.8 0 1.4 0-3 .1 1.7 0-2.8 0 1.6 .1-2.7 0 .7 0-1.8 0 .9 .1-3.7 0 2.4 0-2.7 0 1.4 .1-1.2 0 .4 0-2.1 .1 .9 0-1.8 0 1.5 .1-2.4 0 1 0-2.7 .1 1 0-1.8 0 1.8 0-3.4 .1 1.1 0-3.2 0 1.1 .1-2 0 1.9 0-2.4 0 1 .1-2.7 0 2.1 0-2.9 .1 1.6 0-2.9 0 1.1 .1-2.6 0 2.6 0-2 .1 4.7 0-2.3 0 2.6 0-1.6 .1 2 0-1.8 0 3.4 .1-2 0 2.5 0-1.9 0 4 .1-1.2 0 2.2 .1-1.2 0 1.4 0-.6 0 2 .1-1.3 0 2.5 .1 1.4 0-.1 0 1.6 0-.4 .1 2.2 0-1.1 0 2.6 .1-2.7 0 1 0-2.9 0 .7 0-1.8 0 .6 .1-1.4 0 .1 0-2.2 0 1.6 0-3.2 0 2.1 .1-2.3 0 1.7 0-4.6 0 2.2 0-3 0 1.9 .1-4.5 0 3.3 0-2.8 0 1.9 0-2.1 0 1.7 .1-3.8 0 1.9 0-3.5 0 3.9 0-3.8 0 .7 .1-1.6 0 .9 0-2.3 0 1.2 0-2.7 .1 .8 0-2.2 0 .9 0-2.7 .1 1.4 0-1.3 0 .3 0-1.6 .1 .5 0-1.9 0 .5 0-2.5 .1 2.9 0-3.8 0 2.5 0-3.2 .1 .3 0-1.7 0 .8 0-1.6 .1 0 0-.8 0 .2 .1-4.4 0 3.7 0-3.3 0 2.4 .1-4.5 0 2.4 .1-3.4 0 3.3 0-3.6 .1 2.7 0-4.5 .1 2.3 0-3.6 0 2.3 .1-3.5 0 2.7 0-3.4 .1 2.9 0-3.1 0 .3 .1-1.4 0 .7 0-2.9 .1 1.7 0-2.5 .1 2 .1-4.5 0 2.2 .1-1.5 0-.1 .1-1 0-.2 .1-1.3 .1 .6 0-1.9 .1 .6 0-1.4 .1 .5 .1-1.7 .1 1.6 .2-.3 .2 2.1 .2-1.6 .1 2.8 .2-3.2 .1 1.3 .1-3.1 .1 2 .2-1.8 .1 0 .1-1.9 .1 1.8 .2-4.1 .1 2.7 .1-3.2 .1 3.3 .2-4.6 .1 1.8 .3-2.4 .3 2.9 .3-1.2 0 2.2 .1-.8 .1 1.5 .1 .1 0 2.2 .1-2.3 .1 4.3 .1-2.9 0 3.6 .1-1.9 .1 2.6 0-2.3 .1 3.4 .1-1.3 0 2.9 .1-2 0 3.1 .1-1.2 .1 2.1 0-.8 .1 3 0-1.9 .1 1.9 0-1.9 .1 2.9 .1-.7 0 1.4 .1-.7 0 2.1 .1-.9 0 3.7 .1-2.6 .1 3.1 0-1.6 .1 2.7 0-1.1 .1 1.5 .1-.5 0 1.5 .1-.1 0 1.6 .1-.5 .1 2.8 0-1.5 .1 2.3 0-1.9 .1 2.5 0-1.6 .1 4.1 0-3.4 .1 3.2 .1-.7 0 1.5 .1-.4 0 3.3 .1-2.2 .1 2.5 0-1.8 .1 3.3 0-2.6 .1 2.7 .1-.8 0 1.8 .1-.4 0 1.4 .1-.4 0 2.3 .1-2.2 .1 2.9 0-.6 .1 2.3 0-1.6 .1 2.9 0-1.4 .1 2.7 0-1.1 .1 2.1 0-1.5 .1 2.5 0-.8 0 1.7 .1-.8 0 1.9 .1-.4 0 3.6 .1-3.1 0 2.1 0-3.3 .1 4.4 0-1.5 .1 2.7 0-2 .1 3.8 0-1.6 .1 2.2 0-.8 .1 3.8 .1-2 0 2.7 .1-1.7 0 3.1 .1-3.3 .1 2.9 0-1.5 .1 2.2 0-1.3 .1 2.7 .2-1.1 .1 2.7 .2-1.8 .2 3.6 .2-1.5 .1 2 .2-1 .2 1.6 .2 0 .1 1.3 .2-1.5 .2 2.9 .2-.5 .1 2.2 .2-1 .2 1.7 .2-.6 .2 1.9 .1-1.1 .2 1.6 .1-1.5 .1 .3 .1-1.4 0 .4 .1-1 .1 .5 .1-2.1 .1 .4 .1-1.4 .1 .5 0-1.3 .1 .3 0-2.1 .1 .9 0-4.1 0 2.7 .1-1.8 0 .9 .1-2.9 0 1.6 0-2.6 .1 1.9 0-3.8 .1 2.7 0-3.5 .1 1.8 0-2.5 .1 1.4 0-1.7 0 .9 .1-3.4 .1 1.6 0-2.7 .1 2.2 0-3.2 .1 2.1 .1-2.2 0 .2 .1-2.8 0 2.4 .1-3.9 0 2.1 .1-2.2 .1 2.3 0-2.8 .3 .2 .3-1.3 .3 1.4 .1-3.5 .1 1.5 0-2.4 .1 1.3 .1-2 0 .5 .1-1.7 .1 .3 .1-2.6 0 1.8 .1-2.1 .1 1 0-2.1 .1 1.2 .1-2 0 .2 .1-1 0-.2 .1-1.6 0 1.1 .1-3.1 .1 2 0-2.9 .1 1 0-1.4 .1 .7 0-2.5 .1 2.6 .1-3.4 .1 1.3 .1-2 .1 .2 .1-1.4 .1 .7 .1-2.5 0 .7 .1-1.6 .1 2.5 0-1.3 .1 2.1 .1-1.7 0 2.4 .1-1 0 2.2 .1-1.1 .1 2.5 0-1.4 .1 2.9 0-1.1 .1 1.9 0-.1 .1 .8 .1-1.6 0 2.8 .1-.8 0 2.5 .1-1.1 0 3.5 .1-3.1 .1 4 0-1.3 .1 1.4 .1-.9 0 1.7 .1-.6 0 1.8 .1-.8 .1 .7 .1-1.7 0 .7 .1-2.2 .1 1 .1-2 .1 1.9 .1-2.8 .1 1.7 0-3 .1 2.5 0-.5 0 1.4 0-.8 .1 2 0-2.4 0 3.4 .1-2.7 0 4.5 0-1.7 0 2 .1 0 0 1.3 0-1.6 0 3.1 .1-1.2 0 2.2 0-.2 0 2.3 .1-.8 0 2.9 0-2.2 0 2.4 .1-1 0 1.4 0 .1 0 2 .1-1 0 1.3 0-.1 .1 2 0-1.4 0 3.4 0-1.8 .1 2.7 0-2.8 0 3.7 0-1.7 0 2.2 .1-.1 0 1.2 0-.2 0 1.3 .1 .1 0 1.1 0-.6 0 1.8 .1-.4 0 1.6 0-1.1 0 2.5 0-1.4 .1 2.7 0-1.1 0 2.4 0-1.6 .1 3.9 0-1.9 0 1.9 0-1.2 0 2.9 .1-2.2 0 3.4 0-1.9 0 2.6 0-2 .1 3.3 0-.5 0 2.7 0-2.8 .1 2.8 0-1.2 0 2.6 .1-1.3 0 2.6 0-1.2 .1 2.3 0-1.8 0 2.7 .1-1.7 0 2.9 0-1.8 .1 3.6 0-.6 0 2.7 .1-1.5 0 3.6 .1-3.5 0 4.1 0-2.1 .1 1.8 0-2.2 0 3 .1-1.6 0 4.7 0-2.5 .1 3.3 0-3.2 .1 .8 .1-1.9 0 .7 .1-1.5 0 .7 .1-2.5 0 1.2 .1-2.2 .1 1.6 0-2.2 .1 1.3 0-2.6 .1 1 .1-2.7 0 1 0-2.9 .1 1.4 0-1.3 .1 2.4 0-3.6 .1 .5 0-2.7 .1 1.8 0-2.1 0 1 .1-2.2 0 1 .1-2.9 0 1.3 .1-2.1 0 1.8 0-3.4 .1 2.9 0-3.7 .1 2.6 0-3.5 0 1.9 .1-3.3 0 1.1 0-3.1 .1 1.7 0-2.4 .1 1 0-1.8 0 .6 .1-1.6 0 1.1 0-2.7 .1 1.1 0-1.6 0 1 .1-3.4 0 2.8 .1-2.9 0 1.4 0-2.7 .1 1 0-2.6 .1 1.4 0-3 .1 1 0-2.7 .1 2.5 0-2.6 .1 .4 0-1.3 .1 0 0-2 .1 2.2 0-3.1 .1 1.2 0-1.8 .1 .9 0-2 .1 0 .3-3 .3 2.3 .3-2.9 0 3.2 .1-1.1 0 3.2 .1-1.4 .1 1.5 0-.7 .1 1.8 0-.4 .1 1.5 0-.6 .1 1.8 .1-.4 0 2.1 .1-2.6 0 2.9 .1-.4 0 1.9 .1-1.7 0 3.4 .1-.8 0 2 0-2.8 .1 3.5 0-1 .1 1.7 0-.7 .1 2.9 0-1.5 0 2.3 .1-1.1 0 1.9 .1-.5 0 2.1 .1-.9 0 2.5 .1-1.6 0 3.4 .1-2.4 0 3.1 .1-1.3 .1 3 0-2.2 .1 3.4 0-2.7 .1 2.4 .1-.6 0 2.4 .1-1.2 0 2.6 .1-1.5 0 2.5 .1-1.5 .1 1.3 0 .4 .1 1.3 0-.2 .1 1.7 .1-1.5 0 2.6 .1-.6 0 1.4 .1-1.4 .1 3.1 0-.9 .1 2.2 .1-.7 0 1.6 .1-.7 .1 1.8 .1-1 .1 1.6 .1-.6 .1 3.3 .1-2.3 0 2.7 .1-2.7 .1 4.2 0-3.3 .1 3.4 0-1.3 .1 3 .1-.9 0 2.2 .1-.5 0 1.2 .1-.3 0 1.3 .1-.9 .1 2.9 0-.8 .1 1.5 0-.8 .1 1.4 0-.6 .1 2.1 .1-.3 0 1.5 .1-.5 0 1.9 .1-1.8 .1 4.2 0-2.1 .1 2.3 0-.7 .1 2.2 .1-1.4 .1 2 .1-.8 .1 1.8 .1-1.1 .1 1.9 .1-.7 .1 2.5 .1-.5 .1 2.2 .1-3.5 .1 1.7 .1-3.3 .1 .4 .1-1.7 0 .8 .2-2 .1 2 0-3.4 .1 1.4 .1-2.4 .1 1.1 .1-2.4 .1 1.2 .1-1.4 0 .5 .1-3.2 .1 1.9 .2-2 .2 .9 .2-3.1 .1 1.4 .2-1.5 .2 1.6 .1-3.7 .2 1.1 .2-1.9 .2 3 .1-3.3 0 1.7 .1-2.8 .1 .3 .1-1.9 .1 1.3 .1-2.3 .1 .9 .1-2.4 .1 1.3 0-1.9 .1 .5 0-1.6 .1 .1 0-2 .1 .7 .1-1.1 0 1.1 .1-2.2 0 1.4 .1-2.8 0 .8 .1-2.7 .1 1 0-1.8 .1 1.8 0-2.9 .1 .8 0-2.2 .1 1.3 .1-1.9 0 1.6 .1-3.5 .1 1.5 0-2.7 .1 1.6 0-1.9 .1 0 0-2.4 .1 1.6 0-3.4 .1 2.5 0-2.2 0 1.6 .1-3.4 0 1.3 0-2.7 0 2.4 .1-3.3 0 .7 0-2.6 .1 1.5 0-1.3 0 .3 .1-1.5 0 .7 0-1.7 0 .4 .1-2.1 0 1.5 0-2.6 .1 .6 0-1.9 0 1.4 .1-2.4 0-.1 0-.8 .1-1.6 0 2.3 0-3.4 0 1.2 0-2.1 .1 1.2 0-3.1 0 1.4 0-5.3 0 3.7 .1-1.8 0 .7 0-2.3 0 .5 0-1.8 .1 .6 0-1.3 0-1.8 0 2.5 0-3.2 .1 1.1 0-1.8 0 .5 0-2 0 .8 0-3.7 .1 2.5 0-2.3 0 1.3 0-2.6 0 .5 0-1.7 .1 1.3 0-2.1 0 .9 0-2.7 0 1.3 0-2.6 .1 1.1 0-1.3 0-.1 0-2.2 0 1.1 .1-2.7 0 1.5 0-1.8 0 1.4 0-2.8 .1 2 0-3.2 0 2.2 0-3.1 .1 1.3 0-2 0 .3 .1-1.9 0 .4 0-2.3 .1 1.1 0-2.6 0 3.9 0-4.7 .1 1.8 0-2.7 0 .7 .1-1.3 0 1 0-3.3 .1 2.5 0-2.7 0 1.9 0-3.8 .1 1 0-4.2 0 3.4 .1-2.3 0 .8 0-1.7 .1 2.1 0-1.3 0 2.3 0-.4 .1 3.1 0-2.7 0 2.5 0-1.2 0 3 .1-1.2 0 1.5 0 1.6 0-.4 .1 1.7 0-1.1 0 1.5 .1-2 0 3.8 0-2.2 0 2.3 0-3.7 0 1.6 0-2.5 .1 .4 0-2.3 0 2.8 0-4 0 1.6 0-2.5 0 1.5 0-2.6 .1 .7 0-1.9 0 1.1 0-3.3 0 2.5 0-1.6 0 .1 0-1.5 0 1.2 .1-3.8 0 2.4 0-3.2 0 2.4 0-2.9 0 .9 0-2.4 0 1.2 .1-2.1 0 1.4 0-2.9 0 1.3 0-.9 0 2.1 0-.8 .1 1.8 0-1 0 2.3 0-.7 0 1.9 0-.7 .1 1.3 0-.6 0 2.3 0-1.8 0 3.1 0-1 0 1.8 .1-1 0 2.2 0-.5 0 1.7 0-.7 0 2.2 0-1.6 .1 3.1 0-1.1 0 1.5 0 1.4 0-.4 0 .5 .1-3 0 1.8 0-2.3 0 .9 0-2.7 0 2 0-1.7 0 1.3 0-3 .1 .8 0-2.6 0 2 0-2.9 0 2.7 0-3.4 0 1.7 0-2.7 0 .6 0-2 .1 .4 0-1.6 0 1.1 0-2.8 0 1.4 0-1.9 0 .7 0-2.6 0 1.2 0-2.7 .1 1 0-2.2 0 1.7 0-3 0 2.6 0-2.9 0 1.4 0-2.2 0-1.9 0 .6 .1-2.3 0 .9 0-2.4 .2 1.7 .2-4.3 .2 3.7 0-.4 0 2.1 0-1.1 0 2.2 0-1.4 0 1.7 0-.6 0 2.1 0-1.2 .1 3.5 0-1.8 0 1.8 0-.6 0 2.3 0-1.4 0 3.3 0-1.9 0 2.5 0-2.1 0 2.6 .1-.4 0 2 0-.8 0 2 0-1.3 0 2.9 0-2.3 0 5.2 0-3 0 1.7 0-.1 .1 2.4 0-2.1 0 2.6 0-1.1 0 2.8 0-2.5 0 3 0-.7 0 3.1 0-2.5 0 2.7 0-1.9 .1 3.4 0-1.6 0 3.7 0-3.1 0 2.5 0-1 0 .8 0-1.6 0 2.5 0-4.3 .1 1.6 0-2.2 0 1.4 0-2.5 0 2.1 0-2.7 0 1.1 .1-3 0 1.3 0-2.2 0 .9 0-1.7 0 .2 .1-2.5 0 1.1 0-1.4 0 .6 0-2.5 0 2.2 0-3.7 0 1.3 .1-2.4 0 1.1 0-1.3 0 .7 0-2 0 2.1 0-4 0 2.9 .1-1.6 0 3.1 0-1.7 0 2.1 0-.7 0 1.8 0-1 .1 2.8 0-2.5 0 3.5 0-.8 0 2 0-1.2 0 2.5 .1-1.2 0 2.9 0-1.4 0 1.4 0-1 0 3.3 0-1.7 0 2.1 .1-1.4 0 2.9 0-.9 0 3.1 0-2.5 0 4.1 0-2.4 0 1.9 .1-1 0 3 0-1.3 0 .9 0-1.8 0-.3 0-1.3 .1 .1 0-1.4 0 .7 0-1.7 0 .2 .1-1.7 0 .9 0-3.5 0 2 0-1.1 0 .8 .1-2.7 0 1.7 0-2.6 0 .3 .1-2.1 0 .5 0-1.7 0 .8 0-1.8 0 1.4 .1 0 0 2.3 0-2.2 0 2.8 0-.6 0 2.6 0-2.1 0 3.7 0-2.6 .1 3.6 0-2.8 0 2.8 0 1 0-1.6 0 3 0-.4 .1 1.6 0-.9 0 3.2 0-2.2 0 2.8 0-1.3 0 2 .1-2 0 5.3 0-4.3 0 3.6 0-.7 0 2.5 0-.7 0 1.9 .1-2 0 2.2 0-2.7 0 1.5 0-2.8 0 1.3 0-2.5 .1 1.2 0-2.7 0 2.8 0-4 0 .9 0-2.2 0 .9 .1-2.1 0 1.3 0-2.8 0 2.5 0-2.6 0 1.4 0-2.8 .1 1.5 0-3.2 0 2.2 0-4 0 2.5 0-3.3 .1 1.4 0-2.1 0 1.5 0-1.6 0 2.5 0-2 0 3 .1-.8 0 1.4 0 .1 0 1.6 0-.7 0 1.4 .1 1.5 0-.5 0 1.9 0-.9 0 1.6 0-.9 0 2.7 0-1.3 0 3.8 .1-1.9 0 3.4 0-2.2 0 1.8 0-.9 0 1.6 0 1 .1 .2 0 1.5 0-.7 0 1.5 0 .1 0 1.4 .1-1.8 0 .6 0-2.2 0 1.2 0-4 0 3 .1-2.3 0 .5 0-1.9 0 1.1 0-2.2 .1 .7 0-2.4 0 .9 0-1.7 0 .6 0-1.7 .1 .6 0-1.6 0 1.7 0-3.2 0 .8 0-2.7 .1 2.8 0-1.7 0 2.3 0-1.1 0 1.6 0-1.6 0 2.4 .1-1.3 0 2.4 0-1.7 0 5 0-2.8 0 3.2 0-1.9 .1 2 0-.5 0 1.6 0-1.3 0 3 0-1.5 0 2.8 0-1.9 .1 3.6 0-.7 0 1.4 0-.5 0 1.6 0-1.7 0 4 0-1.9 .1 4.7 0-3.8 0 3.5 0-2.7 0 2.8 0-2.1 .1 1.7 0-3 .1 .6 0-1.4 .1 .7 0-3 .1 2.4 0-3.2 0 1.3 .1-2.5 0 3.8 0-2.1 .1 4.2 0-1.2 0 1.6 .1-1.2 0 1.8 .1-.6 0 2.5 0-.6 .1 2.6 0-1.2 0 2.7 .1-2.1 0 3.5 0-3 .1 2.8 0-4.5 0 2.5 0-2.5 .1 .9 0-2.9 0 1.5 0-2 .1 .5 0-2.1 0 2 0-2.3 .1 .3 0-1.4 0 .8 0-2.4 .1 0 0-1.2 0 1.2 .1-2.3 0 .1 0-2 0 1.2 .1-2.1 0 1.3 0-1.8 .1 .5 0-1.7 0 1.4 0-2.4 .1 .4 0-2.9 0 3 0-1 .1 2.3 0-1.1 0 2.1 0-.9 0 1.3 .1-.4 0 2.5 0-.9 0 1.5 0-1.8 .1 3.1 0-1 0 2.4 0-1.5 0 .2 0-1.7 0 1.3 0-2.7 0 .9 .1-2.4 0 .6 0-1.3 0 .2 0-1.5 0 .4 0-2 0 1 0-1.9 0 .9 0-2.3 0 .6 0-1.6 0 1.2 0-3.2 0 1.7 .1-2.8 0 1.6 0-2 0 2 0-4.6 0 3 0-3.7 0 1.5 0-1.8 0 1.1 0-2.2 0 .4 0-1.5 0 1.2 0-3.1 0 2 .1-3.3 0 1 0-1.6 0 .2 0-1 0 .2 0-.9 0 2.8 0-1.7 0 2.8 0-1.8 0 2.4 0-.5 0 1.6 .1-.9 0 2.7 0-1.8 0 3.3 0-1.8 0 1.6 0 .1 0 2.8 0-1.9 0 3.1 0-2.3 0 2.1 0-.5 0 1.9 .1-.6 0 2.8 0-1.3 0 2.5 0-1.2 0 2.2 0-1.8 0 2.6 0-1.5 0 2.4 0-1.1 0 1.9 .1-.5 0 2.8 0-1.8 0 3.1 0-1.7 0 1.7 0-2.3 0 2.3 0-4.2 0 1 0-3.6 0 2.2 0-1.5 0 .5 0-1.8 0 1 0-2.3 .1 1 0-2.4 0 .5 0-1.6 0 .8 0-2.3 0 1.1 0-1.7 0 .2 0-1.5 0 .6 0-2 0 2.2 0-3.1 0 1.4 0-2.4 0 1.6 0-3.7 0 1.6 0-2.8 0 1 .1-2 0 1.4 0-1.7 0 1.7 0-3.3 0 .6 0-1.8 0 .8 0-1.7 0 1.8 0-3.9 0 1.2 0-1.7 0 .4 0-1.9 0 .7 0-2.7 0 2 0-4.1 0 2.9 .1-2.6 0 .9 0-1.4 0 1.1 0-.2 0 1.5 0-.7 0 2.1 0-1.2 0 2.6 0-1.5 .1 3.9 0-2 0 3 0-3.2 0 2.8 0-.9 0 2.3 0-1.1 0 2.2 0-1.6 0 2.8 0 .1 .1 2.7 0-1.7 0 2.1 0-.9 0 2 0-1.1 0 1.9 0-.7 0 1.7 0-.7 0 1.8 .1-1.1 0 2.4 0-1.9 0 3.6 0-.9 0 2.2 0-.6 0 1.7 0-1.3 0 2.3 0-.6 0 1.4 0 .3 .1 .7 0 1.4 0-.3 0 2.1 0-1 0 1.7 0-1.6 0 .7 0-1.7 .1 1.2 0-3.4 0 1.2 0-1.7 0 1 0-2.5 0 1.5 0-3.4 0 1.5 .1-1.3 0 .8 0-1.8 0-1.2 0 1.8 0-3.3 0 .2 .1-1.7 0 3.2 0-4.6 0 1.7 0-2.3 0 .9 0-2.5 0 1.2 0-2 .1 .2 0-2.2 0 .8 0-1.8 0 .5 0-1.3 0 .2 0-3 0 2.1 0-2.5 .1 3.1 0-.9 0 2.2 0-1.3 0 1.9 0-.7 0 2 0-1.7 .1 3.8 0-2.4 0 3.3 0-1.8 0 2 0-.1 0 1.6 .1-2.6 0 4 0-1.8 0 3.5 0-1.6 0 2.7 0-.9 .1 1.5 0-.7 0 1.8 0-.7 0 2 0-.4 0 1.5 0-.9 .1 2.4 0-1.1 0 2.6 0-.8 0 .4 0-1.6 0 .3 0-2.1 0 .9 0-1.8 .1 1.2 0-2.7 0 1.8 0-4 0 2.5 0-2.3 0 .1 0-1.3 0 1.4 0-2.3 .1 1.6 0-2.8 0 .4 0-2.5 0 1 0-1.4 0 .4 0-1.4 0 .4 0-4 0 2.9 .1-2.1 0 1.7 0-2.8 0 .7 0-2.7 0 1.1 0-1.6 0 .1 0-1.1 .1 .1 0-2.5 0 1.1 0-1.7 0 1.1 0-2.9 0 1.7 0-1.8 0 1.9 0-1.2 .1 2.3 0-1.2 0 2.3 0-.9 0 2.2 0-.4 0 1.3 0-.8 0 2.3 .1-1.5 0 2.2 0-1.1 0 2.8 0-.2 0 1.3 0 1.7 0-1.2 .1 2 0-1.3 0 2.4 0-.8 0 2.7 0-2.1 0 3.3 0-.9 .1 2 0-1 0 1.5 0-.4 0 1.6 0-.9 0 2 0-.8 0 4.9 .1-4.6 0 2.9 0-2.7 0 2.4 0-2.6 0 .8 0-1.8 0 1.1 0-2.7 0 1.5 0-1.8 .1 .1 0-3.2 0 1.9 0-2.5 0 1.5 0-1.7 0-.1 0-1.8 0 1.9 0-3.1 0 .9 0-2.2 0 2.1 .1-3.1 0 1.5 0-3.7 0 2 0-2.3 0 .9 0-3.7 0 3.4 0-2.6 0 .7 0-2.7 0 1.2 .1-2 0 1.1 0-1.6 0 .2 0-2.1 0 1 0-2.8 0 1.7 0-2.4 0 1.3 0-1.8 .1 .5 0-1.6 0-.2 0-1.5 0 1.1 0-1.8 0 2.1 0-1.6 0 2.2 0-.7 .1 1.7 0-1.5 0 3.3 0-1.5 0 2.2 0-1.1 0 2.1 0-2.1 0 4.7 0-2.5 0 3 .1-1.4 0 2.1 0-1.8 0 3.5 0-1.5 0 2.5 0-.7 0 1.3 0 .3 0 .8 0 .1 .1 1.1 0 .3 0 1 0 .2 0 1.4 0-.8 0 3.1 0-2.4 0 2.7 0-1.2 0 3.9 .1-2.5 0 2.2 0-2 0 3.2 0-2 0 2.8 0-.8 0 2.6 0-.5 .1 1 0-4.4 0 2.3 0-3.7 0 3.3 0-2.4 0 1.9 0-3.9 0 1.7 0-2.8 0 .8 .1-1.3 0 .6 0-1.8 0 1.7 0-3.1 0 1.2 0-2.3 0 1.2 0-2 0 2.1 0-4.6 .1 2.6 0-3.3 0 1.7 0-2.4 0 .5 0-1.2 0 .6 0-2.3 0 .2 0-1.5 0 .4 0-2.4 0 2.8 .1-3.4 0 .7 0-1.2 0 .1 0-1.3 0 .1 0-1.6 0 .5 0-1.7 0 .7 0-2 .1 1.2 0-4.1 0 2.5 0-.6 0 1.6 0-.5 0 1.5 0-1 0 2.6 0-.7 0 2.3 0-1.3 0 2.6 .1-1.3 0 3.2 0-1.7 0 1.2 0 .3 0 2 0-1.6 0 4 0-3.5 0 3.4 0-.7 0 2 .1-1.6 0 3.1 0-1.9 0 3.1 0-2.4 0 3.6 0-2.8 0 3.2 0-.8 0 1.6 0-.4 0 1.7 0-.8 .1 3.4 0-1.4 0 2.4 0-1.5 0 1.4 0-.2 0 1.9 0-1.7 0 2.8 0-1.1 0 3.3 0-2 0 2.1 0-.5 0 2.3 .1-1.2 0 1.4 0-.5 0 2.6 0-1.6 0 3.1 0-2.3 0 4.4 0-4.4 0 2.4 0-3.4 0 2.6 0-2.6 .1 .7 0-2.9 0 .8 0-1.5 0 .3 0-1.2 0 .3 0-1.3 0 1 0-2.3 .1 .5 0-2.3 0 1.7 0-3.2 0 1.4 0-3.8 0 3.4 0-3.3 0 1.6 0-3.6 0 2.6 .1-2.6 0 1.6 0-3.2 0 1.4 0-2.5 0 1.7 0-2.4 0 .2 0-1.2 0 .8 0-2.6 .1 2 0-3.1 0 1.4 0-2 0 .7 0-1.6 0 1.2 0-2.6 0 .9 0-2.5 0 .7 0-1.8 .1 2.4 0-.9 0 2.2 0-1.9 0 2.5 0-.7 0 2 0-.3 0 1.9 0-1.1 0 1.4 0-.7 0 2.3 0-1 0 1.8 .1-.8 0 2.5 0-1.6 0 2.6 0-.6 0 1.7 0-.5 0 1.7 0-.6 0 2.1 0-.6 0 2.2 0-1.2 0 2.6 .1-1.3 0 2.6 0-.9 0 1.1 0-.3 0 2.8 0-1.7 0 2.1 0-1.3 0 1.9 0 1.4 0-1.8 .1 3.2 0-.6 0 1.5 0-.3 0 2.4 0-2 0 3.2 0-2.1 0 2.5 0-1 0 2.9 0-.8 0 1.2 .1 1.1 0 1.4 0-1.6 0 3.4 0-.6 0 1.7 0-3 0 2.2 0-3.8 .1 2.3 0-2.8 0 .8 0-2.3 0 1 0-2.2 .1 1.5 0-2.4 0 2.3 0-3.7 .1 1.8 0-2.4 0 .6 0-1.5 0-.1 0-2.5 .1 1.5 0-1.7 0 .6 0-1.6 0 .7 0-1 .1 2.3 0-1.5 0 2.5 0-.9 0 2.2 0-.7 0 1.5 0-.4 .1 2.4 0-1 0 1.7 0-.4 0 1.3 0-.1 0 2.6 0-3.8 .1 4.9 0-2.3 0 2.6 0-.4 0 1.8 0-.9 0 2 0-.7 .1 1.8 0-1.9 0 3.7 0-1.9 0 2 0-.6 0 3.2 .1-2.5 0 4.3 .4-3.4 0 3.5 .1-5 0 2.7 .1-3 0 1.9 0-2.4 .1 .9 0-2.2 .1 1 0-4.4 0 2.7 .1-2 0 2 0-3.4 0 1.8 0-2.8 .1 .7 0-1.7 0 1.1 0-2.9 0 1.3 0-2.2 .1 1.1 0-3.6 0 2.7 0-2.6 0 1 0-1.7 .1 1.2 0-2.8 0 1.4 0-1.9 0 .5 .1-2.3 0 2 0-2.7 0 2.8 0-1.1 0 3 .1-1.8 0 2.7 0-1 0 2 0-.3 0 1.1 .1-.1 0 2.5 0-1.1 0 1.6 0-1.8 0 3.2 0-.7 .1 2.4 0-2.7 0 2.9 0-3 0 .8 0-3 0 2.4 0-3.4 0 1.4 0-3.3 0 2.4 0-2.5 0 .8 0-1.4 0 1.4 0-2.7 0 1 .1-3.3 0 2.1 0-1.7 0 .4 0-2.3 0 .7 0-2.6 0 1.9 0-2.2 0 1.4 0-3.2 0 1.7 0-2.4 0 1 0-2.4 0 1.8 0-2.5 0 2.3 0-4.1 .1 2.2 0-3.1 0 1.4 0-4.2 0 2.9 0-3.3 0 2.4 0-2 0 .7 0-2.1 0 .5 0-2.1 0 .6 0-3.6 0 2.8 0-2.4 0 1.2 0-1.9 0 .7 .1-2.6 0 3.3 0-2.2 0 2.2 0-.1 0 2.2 0-2.6 0 3.9 0-1 0 1.7 .1-.5 0 1.9 0-.7 0 1.9 0-1.4 0 2.6 0-.9 0 2 0-1.1 0 3.4 0-2 .1 2.2 0-.9 0 1.8 0-.4 0 1.2 0-.7 0 2.2 0-.3 0 2.1 0-1.6 0 2.8 0-1.9 .1 2.3 0-1.1 0 2.8 0-.7 0 2.2 0-1.3 0 2.6 0-1.5 0 2.4 0-1.3 0 3.4 .1-2.5 0 1.9 0-.7 0 2.2 0-.3 0 1.8 0-2.3 0 2.3 .1-3.4 0 1.4 0-3.8 0 1.9 0-1.9 .1 1 0-1.9 0 1.4 0-2.7 0 1.3 0-2.7 .1 .3 0-1.6 0 1.4 0-2.7 0 1.6 0-2.6 .1 .3 0-1.6 0 .8 0-1.8 0 .8 .1-.4 0 1.8 0-2.4 0 3 0-.4 0 1.7 0-1.6 .1 2.9 0-1.3 0 2.7 0-.9 0 2.3 0-.8 .1 1.1 0-.3 0 3.1 0-2.8 0 3.7 0-2.6 0 2.4 0-2.8 0 2.2 .1-3.3 0 1.4 0-1.9 0 .5 0-1.7 0-1.9 0 .7 0-1.1 0-1.3 0 .5 0-1.9 0-1.5 0 .9 0-2.7 0 1.8 0-2.4 0 1.1 0-2 0 .2 .1-2.7 0 2.1 0-3.5 0 2.4 0-2.1 0 .1 0-2.5 0 1.1 0-1 0-1.6 0 1 0-2.6 0 1.1 0-1.8 0 1.1 0-2.4 0 .2 0-2.3 0 1.5 .1-2.4 0 1.5 0-4.3 0 2.5 0-1.2 0 1.3 0-3.7 0 2.3 0-3.7 0 1.8 0-2.1 0 1.4 0-2.5 0 2.2 0-1.7 0 4.1 0-2.4 .1 2.1 0-1 0 2.4 0-1.3 0 2 0-.6 0 1.9 0-.6 0 1.7 0-.6 0 1.8 0-.5 0 1.8 0-.7 0 2.3 0-1 0 2 .1-1 0 2.1 0-.2 0 1.6 0-.5 0 1.4 0-.4 0 1.5 0-.4 0 2.2 0-2.6 0 3 0 .1 0 1.3 0-2.4 0 3.6 0-.8 .1 1.8 0-.2 0 2.3 0-2 0 2.8 0-2 0 4.8 0-4 0 4.1 0-1.9 0 3.4 0-3.2 0 .8 0-3.3 0 3.4 0-3.3 0 1.1 0-1.6 0 .8 0-1.8 0 .1 0-1.5 0 .1 .1-1 0-.2 0-1.3 0-.2 0-1.3 0 1.1 0-2.1 0-.1 0-1.3 0 .7 0-2.7 0 3.4 0-4.3 0 .7 0-1.4 0 .3 0-2 0 1 0-4.3 0 3.8 0-3.4 0 2.2 0-2.5 0 1.7 0-3.5 0 2.8 0-3.1 0 .4 .1-1.9 0 1.9 0-2.7 0 .8 0-2.2 0 .9 0-2.1 0 .6 0-1.7 0 1.1 0-2.7 0 .9 0-2.6 0 1.4 0-2.5 0 1.3 0-2.6 0 1.6 0-1.8 0 .5 0-2.1 0 1 0-1.6 0 2.5 0-3.9 0 1.1 0-3.5 .1 2.5 0-3.6 0 2.2 0-2.2 0 1.7 0-2.7 0-3.3 0 2.1 0-1.3 0 .7 0-3.4 0 1.8 0-1.6 0-1.8 0 2.3 0-.9 0 1.7 0-.4 0 1.8 0-1.7 0 3.1 0-1.3 0 3.3 .1-1.8 0 2.3 0-.8 0 1.7 0-1 0 1.8 0-.2 0 2.6 0-1.9 0 2.9 0-.9 0 2.1 0-1.4 0 1.9 0-.9 0 1.9 0-.8 0 2.2 0-.7 0 2.2 0-1.5 0 3.8 0-2.3 0 3.2 0-1.4 0 2.3 0-1.1 0 2.9 .1-2.1 0 3.2 0-2.8 0 3.3 0-1.3 0 2.2 0-.5 0 2.1 0-.9 0 1.2 0-.5 0 2.7 0-2 0 2.9 0-1 0 3 0-1.8 0 2.1 0-.4 0 2.3 0-1.3 0 2.2 0-1.5 0 2 0 2 0-.9 0 1.4 0-.9 0 2.1 .1-.9 0 1.6 0-.1 0 2.1 0-1.3 0 2.3 0-1.4 0 3 0-2.6 0 4.7 0-1.6 0 2.3 0-1.6 0 .9 0-1.6 0-.1 0-1.8 0 1.4 0-2.4 0 .9 0-3.1 0 3.4 0-4.6 0 2.3 0-3.2 0 2.3 0-2.7 0 1.8 0-4 0 2.1 0-3 .1 1.1 0-1.9 0 .5 0-1.5 0 .8 0-1.8 0 .9 0-1.9 0 .1 0-1.8 0 1.2 0-2.6 0 1.7 0-2.2 0 .9 0-2.4 0 1.5 0-2.7 0 1.2 0-2 0 .1 0-1.7 0 .9 0-2.5 0 1.4 0-2.5 0 1.1 0-1.7 0 .4 .1-1.7 0-1.9 0 1.3 0-2.2 0 1.1 0-1.9 0 1.8 0-3 0 1.1 0-2.7 0 1.1 0-3 0 1.5 0-3.1 0 1.8 0-1.5 0 .1 0-1.6 0 .3 0-1.6 0 .9 0-1.5 0 .1 0-1.6 0 1.2 0-3.4 0 1.7 0-2.8 0 1.5 0-2.1 0 .6 0-1.4 0 .2 .1-1.8 0 .5 0-1.9 0 .6 0-2.8 0 2.3 0-2.1 0 1 0-1.8 0 .6 0-3.4 0 3.1 0-4.2 0 2.8 0-3.8 0 3.3 0-.9 0 1.2 0 .2 0 1.2 0-.6 0 2.5 0-1.2 0 2 0-.3 0 1.5 .1-1.8 0 2.5 0 .1 0 2.2 0-1.1 0 2.4 0-1.1 0 1.7 0-.9 0 1.7 0-.7 0 2 0-1.2 0 3.5 0-3 0 3.5 0-1.7 0 3.7 0-2.2 0 2.7 0-.7 0 1.7 0-1.4 0 2.2 .1-.4 0 2.1 0-1 0 2.3 0-1.9 0 2.7 0-.8 0 1.4 0 .2 0 1 0-.6 0 2.6 0-1.5 0 2.9 0-1.1 0 1.3 0 .3 0 .9 0 .2 0 1.5 0-.4 .1 1.9 0-1.6 0 2.4 0-1.8 0 3 0-1.3 0 2.7 0-1.4 0 2 0-.4 0 2 0-.7 0 2.4 0-.9 0 1.7 0-1 0 2.6 0-1.9 0 2.5 0-.6 0 2.3 .1-.5 0 1.6 0-1.4 0 1.9 0-1.4 0 2.5 0-.7 0 3.3 0-2.8 0 3.7 0-1.2 0 2.5 0-1.4 0 3.3 0-2 0 1.8 0-.9 0 .9 0-2.6 .1 1.1 0-1.3 0 .5 0-1.8 0 1 0-2.6 0 .8 0-2.4 0 1.9 0-1.9 0 .3 0-2.2 0 1 0-3.1 0 3.3 0-3.4 0 .4 0-1.7 .1 .5 0-1.9 0 2.2 0-3.2 0 .6 0-1.2 0 .9 0-3.8 0 3.3 0-3.4 0 2.2 0-4.6 0 2.6 0-2.7 0 .9 0-2 0 .6 0-1.5 0 1 .1-2.8 0 1.2 0-2.4 0 .7 0-1.8 0 1 0-1.8 0 .7 0-2 0 .7 0-2.2 0 1.7 0-2.5 0 1.3 0-3.1 0 1.3 0-1.8 0 .5 .1-2.4 0 1.1 0-1.8 0 .6 0-2.7 0 1.3 0-2.3 0 1.4 0-2.9 0 1.8 0-2.8 0 1.2 0-4 0 3.4 0-2.3 0 .8 .1-2.4 0 1.1 0-3.4 0 2.7 0-2.8 0 2.2 0 1.4 0-.3 0 1.3 0-.7 0 1.6 0-.8 0 2.2 0-.1 0 1.5 0-1.5 0 3.2 .1-1.2 0 2.7 0-1.7 0 2.5 0-1.9 0 2.8 0-1.8 0 2.9 0-1.8 0 3.5 0-1.5 0 2.9 0-1.6 0 2.2 0-1.1 0 4.8 0-3 0 3.1 .1-2.1 0 2.6 0-1.7 0 1.8 0-1.1 0 3.1 0-.8 0 3.1 0-1.9 0 3.2 0-1.9 0 2.2 0-2.2 0 3.7 0-2.6 0 2.8 0-1.2 0 2.1 0-.7 0 1.9 .1 0 0 1.9 0-.8 0 1.4 0-1.2 0 3.7 0-1.9 0 3.2 0-2.4 0 3.9 0-2.5 0 3.2 0-1.3 0 2.6 0-1.5 0 1.9 0-1.6 0 3.9 .1-2.9 0 4.4 0-2.8 0 1.9 0-1.2 0 2.5 0-.5 0 1.5 0-.6 0 .7 0-2.3 0 1.1 0-2.2 0 1.1 0-2.4 0 1.7 0-2.2 .1 .7 0-3 0 1.3 0-1.8 0 .5 0-1.3 0 .8 0-2.5 0 1.8 0-3.4 0 1.4 0-1.9 0 1 .1-1.8 0 1.4 0-3.2 0 1.9 0-2.9 0 .9 0-2.6 0 1 0-3 0 2.4 0-1.5 0 .6 0-2.6 0 2.4 0-4.4 .1 2.8 0-2.9 0 .9 0-2.5 0 .9 0-1.7 0 .4 0-1.4 0 .8 0-1.8 0 .9 0-3.2 0 2.6 0-3 0 1.1 0-2.3 0 .2 .1-1.7 0 .6 0-1.3 0-1.2 0 .4 0-2.2 0 1.7 0-3 0 2.7 0-2.9 0-.3 0-1.5 0 2.8 0-1.6 .1 3.2 0-1.4 0 1.2 0-.2 0 1.7 0-1.7 0 2.7 0-.9 0 2.1 0-2 0 2.8 0-.2 0 2.6 .1-1.3 0 3.4 0-3.2 0 2.4 0-.7 0 2.6 0-1.7 0 2.6 0-.4 0 1.7 0-.7 0 1.9 0-.8 0 2.1 0-1.3 .1 3.8 0-3 0 3.3 0-2.7 0 4.2 0-1.6 0 2.4 0-1.4 0 1.8 0-.8 0 1.7 0-.9 0 3.4 0-2.2 0 3.3 .1-1.4 0 1.9 0-.6 0 1.7 0-1.2 0 3.1 0-1.8 0 2.4 0-2.4 0 4.4 0-2.5 0 3.2 0-1.1 0 1.8 0-.4 0 3.5 0-2.1 .1 1 0-.2 0 1.8 0-.2 0 .3 0-1.6 0 .7 0-2.3 0 1 0-1.5 0-.4 0-1 0 .5 0-2.6 .1 3.3 0-3.5 0 .8 0-2.2 0-1.4 0 .9 0-2.4 0 1.3 0-2.6 0 1.2 0-2.7 0 .9 0-3.2 .1 2.4 0-3.2 0 2.6 0-4.2 0 2.6 0-3.1 0 3 0-3.3 0 1 0-1.6 0-1.4 .1 .9 0-2.3 0 .6 0-2.6 0 1.7 0-2.6 0 1.9 0-2.8 0 1.3 0-2.3 0 .7 0-2.7 0 1.5 0-1.8 .1 .4 0-2.5 0 1.4 0-1.4 0 .1 0-1.8 0 .8 0-1.5 0 .1 0-2.2 0 1.1 0-.8 0 1.7 0 .3 0 1.4 0-1.4 .1 4.6 0-3.1 0 3 0-1.2 0 1.8 0-.7 0 1.4 0-.4 0 2.2 0-1.5 0 4 0-2.8 0 2.3 0-.4 0 1.5 .1-1.1 0 2.8 0-1.5 0 2.8 0-.8 0 3.2 0-3.1 0 2.7 0-.5 0 2 0-1.7 0 2.6 0-2.7 .1 4.3 0-1.2 0 2.1 0-1.1 0 2.3 0-.7 0 2.1 0-1.3 0 3.1 0-1.2 0 1.4 0-1.3 0 2.1 0-.6 0 2.1 .1-.2 0 1.5 0-.2 0 1.4 0-.2 0 1.9 0-2 0 3.7 0-1.5 0 2.4 0-2.6 0 3.4 0-.8 0 1.5 0-1.6 .1 3.2 0-1.6 0 3.4 0-2.7 0 .8 0-3 0 2.8 0-3.5 0 2 0-2.4 0 .9 0-2.6 0 1 0-3.7 .1 2.1 0-2.4 0 1.1 0-2.5 0 1.2 0-1.4 0 .3 0-.9 0 1.9 0-3.1 0 .5 0-2.2 0 1.2 .1-2.3 0 .9 0-2.3 0 2.4 0-3.8 0 1.5 0-2.5 0 1.1 0-4.2 0 3.6 0-3.5 0 2.2 0-3.1 .1 1.4 0-2.2 0 1.5 0-2.9 0 .5 0-2.1 0 1.2 0-1.9 0 .8 0-1.3 0-.2 .1-1.9 0 1 0-1.9 0 1 0-1.7 0 .9 0-1.2 0 2.7 0-2 0 2.8 0-1.7 0 2.6 0-1.1 .1 1.8 0-.8 0 4 0-2.2 0 1.6 0-.4 0 3.1 0-3.7 0 3.8 0-2.2 0 3 0-.6 0 1.6 0 .2 .1 1 0-.6 0 2.1 0-.2 0 2.1 0-1.9 0 3.9 0-2.1 0 1.8 0-1.5 0 2.7 0-.3 0 1.1 .1-.9 0 4.9 0-3.4 0 2.4 0-.3 0 2.8 0-2.9 0 2.6 0-.5 0 1.7 0-.2 0 1.5 .1-.4 0 1.5 0-1.7 0 2.7 0 1.3 0-.6 0 2.5 0-1.1 0 1.5 0-1.1 0 2.2 0-1.8 .1 .7 0-1.5 0 .5 0-1.6 0 1 0-1.7 0 .9 0-3 0 1.1 0-1.9 0 1.4 .1-3.6 0 2.2 0-2.4 0 .4 0-1.6 0 2.2 0-3.9 0 1.2 0-2.7 0 2.9 0-3.7 0 .8 0-1.2 .1 0 0-1.5 0 1 0-1.7 0 .4 0-4.3 0 3.4 0-2.6 0 1.7 0-4.3 0 2.3 .1-3.2 0 1.5 0-.8 0 1.2 0-2.7 0 .1 0-1.8 0 2.5 0-3.3 0 .2 0-1.2 .1 .7 0-1.8 0 1.7 0-.9 0 2.2 0-.6 0 1.4 0-1.7 0 2.6 .1-.2 0 1.5 0-.1 0 2 0-.7 0 1.6 0-.9 0 2 0-.8 0 1.9 .1-1.3 0 2.1 0-.2 0 1.5 0 .1 0 1.2 0-1 0 2.9 0-.8 0 1.9 0-1.5 .1 2 0-.4 0 1.9 0-1 0 1.7 0-1.2 0 3.2 0-1.8 0 4 0-2.3 .1 2.1 0-.6 0 1.9 0-1 0 3.1 0-2.4" clip-path="url(#cf)" stroke="#ffff00" stroke-width="2.5" fill="none" stroke-linejoin="miter" stroke-miterlimit="2" stroke-linecap="butt"/>
<path d="M399.8 847l.8 16 1.5 13.2 1.7 7.3 2.2 3.6 2.9 1.3 3.7 .5 2.2-1.4 1.4-2.2 2.2-1.5 2.2-.6 2.2 .9 2.2 .5 2.2-.5 2.2-.6 2.9-.3 2.2-1.1 2.2-1.9 2.2-.8 2.2 1.2 2.2 1.5 2.1 .8 3 .3 2.9 .9 2.9 .9 2.9 .6 2.9-.6 3-.6 2.9 0 2.9 .9 2.9 1.1 2.9 .9 3 .3 2.9-.6 2.9-.3 2.9-.6 1.6-.8 2.3-2.9 2.2-1.2 2.2 1.2 2.2 .2 2.1-.8 2.2-.3 2.2 1.1 2.9 1.5 3.7 1.2 4.4 .8 4.4 .9 3.6 0 2.9-1.7 2.9-1.5 2.2-.6 2.2 .9 3 1.2 2.9 0 2.9-.6 2.9-.6 3.7 .3 4.3 0 4.4-.6 2.9-.9 2.2-1.1 2.2-.9 2.2 .9 2.2 1.1 3.6 1.5 3.7 1.2 2.3 1.1 3 1.5 2.2 .3 2.2-1 2.2-.8 2.9-.3 2.9-.3 2.9 .3 3-.4 2.9-.4 2.9-.3 2.2-.6 2.2-1.2 2.2-.6 2.2 0 2.2 .9 2.1 1.2 2.2 .6 3 .3 2.9-.6 2.9-.6 2.9 .6 2.9 .6 3-.3 2.9 .5 2.9 1.4 2.2 .7 2.2-.3 2.2-1.2 2.2-1.4 2.1-1.2 2.2-.6 3 .3 2.9 0 2.9-.6 2.9-.3 2.9-.5 3-.9 3.3 0" clip-path="url(#cf)" stroke="#ff0000" stroke-width="2.0" fill="none" stroke-linejoin="miter" stroke-miterlimit="2" stroke-linecap="butt"/>
<path d="M399.8 871.8l.8 8.7 1.5 5.2 2.5 2.4 3.6 .6 4.4-.1 2.2-1.5 1.4-2.2 2.2-1.4 2.2-.6 2.2 .9 2.2 .4 2.2-.4 2.2-.6 2.9-.3 2.2-1.2 2.2-1.9 2.2-.7 2.2 1.2 2.2 1.4 2.1 .9 3 .3 2.9 .9 2.9 .8 2.9 .6 2.9-.6 3-.6 2.9 0 2.9 .9 2.9 1.2 2.9 .9 3 .3 2.9-.6 2.9-.3 2.9-.6 1.6-.9 2.3-2.9 2.2-1.2 2.2 1.2 2.2 .3 2.1-.9 2.2-.3 2.2 1.2 2.9 1.5 3.7 1.1 4.4 .9 4.4 .9 3.6 0 2.9-1.8 2.9-1.4 2.2-.6 2.2 .9 3 1.1 2.9 0 2.9-.6 2.9-.5 3.7 .2 4.3 0 4.4-.5 2.9-.9 2.2-1.2 2.2-.9 2.2 .9 2.2 1.2 3.6 1.4 3.7 1.2 2.3 1.2 3 1.5 2.2 .2 2.2-1 2.2-.7 2.9-.3 2.9-.3 2.9 .3 3-.4 2.9-.5 2.9-.3 2.2-.6 2.2-1.1 2.2-.6 2.2 0 2.2 .9 2.1 1.1 2.2 .6 3 .3 2.9-.6 2.9-.6 2.9 .6 2.9 .6 3-.3 2.9 .6 2.9 1.3 2.2 .8 2.2-.4 2.2-1.1 2.2-1.5 2.1-1.1 2.2-.6 3 .3 2.9 0 2.9-.6 2.9-.3 2.9-.6 3-.9 3.3 0" clip-path="url(#cf)" stroke="#0000ff" stroke-width="2.2" fill="none" stroke-linejoin="miter" stroke-miterlimit="2" stroke-linecap="butt"/>
<rect x="602.6" y="677.9" width="66.8" height="45.3" fill="#fff" stroke="#262626" stroke-width="0.7"/>
<path d="M605.4 684.9h19.0" stroke="#ff00ff" stroke-width="2.0"/>
<text x="626.5" y="687.7" font-size="7.7">Susceptible</text>
<path d="M605.4 695.53h19.0" stroke="#ffff00" stroke-width="2.0"/>
<text x="626.5" y="698.33" font-size="7.7">Infected</text>
<path d="M605.4 706.16h19.0" stroke="#ff0000" stroke-width="2.0"/>
<text x="626.5" y="708.96" font-size="7.7">Chronic</text>
<path d="M605.4 716.79h19.0" stroke="#0000ff" stroke-width="2.0"/>
<text x="626.5" y="719.59" font-size="7.7">AIDS</text>
<text class="cap" y="951" font-size="20.6"><tspan x="482.5" letter-spacing="0.9">(f)</tspan><tspan x="515.3" font-style="italic">β</tspan><tspan x="557.7" letter-spacing="0.2">1.2</tspan></text>
<path d="M534.5 941.7h14.9M534.5 947h14.9" stroke="#1a1a1a" stroke-width="0.9" fill="none"/>
</g>
</svg></body></html>
